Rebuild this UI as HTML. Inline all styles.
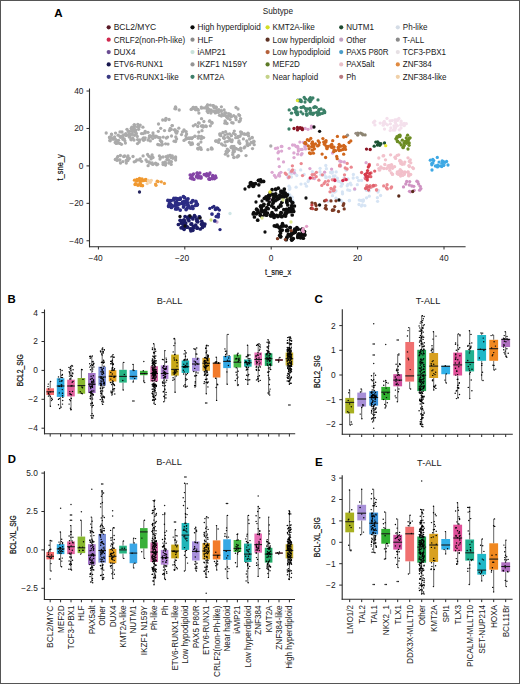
<!DOCTYPE html>
<html><head><meta charset="utf-8"><style>
html,body{margin:0;padding:0;background:#fff;}
#fig{position:relative;width:520px;height:684px;box-sizing:border-box;border:1px solid #555;background:#fff;overflow:hidden;}
svg{position:absolute;left:-1px;top:-1px;font-family:"Liberation Sans", sans-serif;}
</style></head><body><div id="fig">
<svg width="520" height="684" viewBox="0 0 520 684">
<text x="54.3" y="17.4" font-size="11.6" text-anchor="start" font-weight="bold" fill="#000" >A</text>
<text x="262.8" y="14.2" font-size="8.5" text-anchor="start" font-weight="normal" fill="#1a1a1a" textLength="30.2" lengthAdjust="spacingAndGlyphs">Subtype</text>
<circle cx="108.7" cy="27.3" r="2.1" fill="#5a1a26"/>
<text x="113.7" y="30.2" font-size="8.5" text-anchor="start" font-weight="normal" fill="#1a1a1a" textLength="42.5" lengthAdjust="spacingAndGlyphs">BCL2/MYC</text>
<circle cx="108.7" cy="39.7" r="2.1" fill="#d0284e"/>
<text x="113.7" y="42.6" font-size="8.5" text-anchor="start" font-weight="normal" fill="#1a1a1a" textLength="71.4" lengthAdjust="spacingAndGlyphs">CRLF2(non-Ph-like)</text>
<circle cx="108.7" cy="52.1" r="2.1" fill="#6a4c92"/>
<text x="113.7" y="55.0" font-size="8.5" text-anchor="start" font-weight="normal" fill="#1a1a1a" textLength="21.8" lengthAdjust="spacingAndGlyphs">DUX4</text>
<circle cx="108.7" cy="64.4" r="2.1" fill="#17174e"/>
<text x="113.7" y="67.3" font-size="8.5" text-anchor="start" font-weight="normal" fill="#1a1a1a" textLength="49.5" lengthAdjust="spacingAndGlyphs">ETV6-RUNX1</text>
<circle cx="108.7" cy="76.8" r="2.1" fill="#3a3a82"/>
<text x="113.7" y="79.7" font-size="8.5" text-anchor="start" font-weight="normal" fill="#1a1a1a" textLength="65.1" lengthAdjust="spacingAndGlyphs">ETV6-RUNX1-like</text>
<circle cx="192.5" cy="27.3" r="2.1" fill="#0a0a0a"/>
<text x="197.5" y="30.2" font-size="8.5" text-anchor="start" font-weight="normal" fill="#1a1a1a" textLength="63.3" lengthAdjust="spacingAndGlyphs">High hyperdiploid</text>
<circle cx="192.5" cy="39.7" r="2.1" fill="#8a8a8a"/>
<text x="197.5" y="42.6" font-size="8.5" text-anchor="start" font-weight="normal" fill="#1a1a1a" textLength="15.5" lengthAdjust="spacingAndGlyphs">HLF</text>
<circle cx="192.5" cy="52.1" r="2.1" fill="#c8e2da"/>
<text x="197.5" y="55.0" font-size="8.5" text-anchor="start" font-weight="normal" fill="#1a1a1a" textLength="28.3" lengthAdjust="spacingAndGlyphs">iAMP21</text>
<circle cx="192.5" cy="64.4" r="2.1" fill="#959595"/>
<text x="197.5" y="67.3" font-size="8.5" text-anchor="start" font-weight="normal" fill="#1a1a1a" textLength="49.8" lengthAdjust="spacingAndGlyphs">IKZF1 N159Y</text>
<circle cx="192.5" cy="76.8" r="2.1" fill="#3e7e6a"/>
<text x="197.5" y="79.7" font-size="8.5" text-anchor="start" font-weight="normal" fill="#1a1a1a" textLength="26.9" lengthAdjust="spacingAndGlyphs">KMT2A</text>
<circle cx="267.6" cy="27.3" r="2.1" fill="#d2de28"/>
<text x="272.6" y="30.2" font-size="8.5" text-anchor="start" font-weight="normal" fill="#1a1a1a" textLength="42.2" lengthAdjust="spacingAndGlyphs">KMT2A-like</text>
<circle cx="267.6" cy="39.7" r="2.1" fill="#5e3224"/>
<text x="272.6" y="42.6" font-size="8.5" text-anchor="start" font-weight="normal" fill="#1a1a1a" textLength="61.9" lengthAdjust="spacingAndGlyphs">Low hyperdiploid</text>
<circle cx="267.6" cy="52.1" r="2.1" fill="#b4603a"/>
<text x="272.6" y="55.0" font-size="8.5" text-anchor="start" font-weight="normal" fill="#1a1a1a" textLength="57.6" lengthAdjust="spacingAndGlyphs">Low hypodiploid</text>
<circle cx="267.6" cy="64.4" r="2.1" fill="#5c7a26"/>
<text x="272.6" y="67.3" font-size="8.5" text-anchor="start" font-weight="normal" fill="#1a1a1a" textLength="27.2" lengthAdjust="spacingAndGlyphs">MEF2D</text>
<circle cx="267.6" cy="76.8" r="2.1" fill="#c4d288"/>
<text x="272.6" y="79.7" font-size="8.5" text-anchor="start" font-weight="normal" fill="#1a1a1a" textLength="45.5" lengthAdjust="spacingAndGlyphs">Near haploid</text>
<circle cx="341.2" cy="27.3" r="2.1" fill="#1e4a30"/>
<text x="346.2" y="30.2" font-size="8.5" text-anchor="start" font-weight="normal" fill="#1a1a1a" textLength="27.7" lengthAdjust="spacingAndGlyphs">NUTM1</text>
<circle cx="341.2" cy="39.7" r="2.1" fill="#c0a0c0"/>
<text x="346.2" y="42.6" font-size="8.5" text-anchor="start" font-weight="normal" fill="#1a1a1a" textLength="20.1" lengthAdjust="spacingAndGlyphs">Other</text>
<circle cx="341.2" cy="52.1" r="2.1" fill="#4a9cc8"/>
<text x="346.2" y="55.0" font-size="8.5" text-anchor="start" font-weight="normal" fill="#1a1a1a" textLength="42.3" lengthAdjust="spacingAndGlyphs">PAX5 P80R</text>
<circle cx="341.2" cy="64.4" r="2.1" fill="#e8c0c8"/>
<text x="346.2" y="67.3" font-size="8.5" text-anchor="start" font-weight="normal" fill="#1a1a1a" textLength="28.4" lengthAdjust="spacingAndGlyphs">PAX5alt</text>
<circle cx="341.2" cy="76.8" r="2.1" fill="#b87a80"/>
<text x="346.2" y="79.7" font-size="8.5" text-anchor="start" font-weight="normal" fill="#1a1a1a" textLength="9.8" lengthAdjust="spacingAndGlyphs">Ph</text>
<circle cx="397.8" cy="27.3" r="2.1" fill="#d4dce6"/>
<text x="402.8" y="30.2" font-size="8.5" text-anchor="start" font-weight="normal" fill="#1a1a1a" textLength="24.6" lengthAdjust="spacingAndGlyphs">Ph-like</text>
<circle cx="397.8" cy="39.7" r="2.1" fill="#8a8a8a"/>
<text x="402.8" y="42.6" font-size="8.5" text-anchor="start" font-weight="normal" fill="#1a1a1a" textLength="21.4" lengthAdjust="spacingAndGlyphs">T-ALL</text>
<circle cx="397.8" cy="52.1" r="2.1" fill="#e6e0e4"/>
<text x="402.8" y="55.0" font-size="8.5" text-anchor="start" font-weight="normal" fill="#1a1a1a" textLength="43.3" lengthAdjust="spacingAndGlyphs">TCF3-PBX1</text>
<circle cx="397.8" cy="64.4" r="2.1" fill="#e08a40"/>
<text x="402.8" y="67.3" font-size="8.5" text-anchor="start" font-weight="normal" fill="#1a1a1a" textLength="29.0" lengthAdjust="spacingAndGlyphs">ZNF384</text>
<circle cx="397.8" cy="76.8" r="2.1" fill="#f0d0a8"/>
<text x="402.8" y="79.7" font-size="8.5" text-anchor="start" font-weight="normal" fill="#1a1a1a" textLength="43.7" lengthAdjust="spacingAndGlyphs">ZNF384-like</text>
<line x1="89.50" y1="88.50" x2="89.50" y2="247.20" stroke="#2b2b2b" stroke-width="1.1"/>
<line x1="89.00" y1="246.70" x2="465.60" y2="246.70" stroke="#2b2b2b" stroke-width="1.1"/>
<line x1="86.50" y1="91.02" x2="89.50" y2="91.02" stroke="#2b2b2b" stroke-width="1"/>
<text x="83.5" y="93.9" font-size="8.4" text-anchor="end" font-weight="normal" fill="#1a1a1a" >40</text>
<line x1="86.50" y1="128.46" x2="89.50" y2="128.46" stroke="#2b2b2b" stroke-width="1"/>
<text x="83.5" y="131.4" font-size="8.4" text-anchor="end" font-weight="normal" fill="#1a1a1a" >20</text>
<line x1="86.50" y1="165.90" x2="89.50" y2="165.90" stroke="#2b2b2b" stroke-width="1"/>
<text x="83.5" y="168.8" font-size="8.4" text-anchor="end" font-weight="normal" fill="#1a1a1a" >0</text>
<line x1="86.50" y1="203.34" x2="89.50" y2="203.34" stroke="#2b2b2b" stroke-width="1"/>
<text x="83.5" y="206.2" font-size="8.4" text-anchor="end" font-weight="normal" fill="#1a1a1a" >−20</text>
<line x1="86.50" y1="240.78" x2="89.50" y2="240.78" stroke="#2b2b2b" stroke-width="1"/>
<text x="83.5" y="243.7" font-size="8.4" text-anchor="end" font-weight="normal" fill="#1a1a1a" >−40</text>
<line x1="98.40" y1="246.70" x2="98.40" y2="249.50" stroke="#2b2b2b" stroke-width="1"/>
<text x="95.6" y="260.6" font-size="8.4" text-anchor="middle" font-weight="normal" fill="#1a1a1a" >−40</text>
<line x1="184.80" y1="246.70" x2="184.80" y2="249.50" stroke="#2b2b2b" stroke-width="1"/>
<text x="182.0" y="260.6" font-size="8.4" text-anchor="middle" font-weight="normal" fill="#1a1a1a" >−20</text>
<line x1="271.20" y1="246.70" x2="271.20" y2="249.50" stroke="#2b2b2b" stroke-width="1"/>
<text x="271.2" y="260.6" font-size="8.4" text-anchor="middle" font-weight="normal" fill="#1a1a1a" >0</text>
<line x1="357.60" y1="246.70" x2="357.60" y2="249.50" stroke="#2b2b2b" stroke-width="1"/>
<text x="357.6" y="260.6" font-size="8.4" text-anchor="middle" font-weight="normal" fill="#1a1a1a" >20</text>
<line x1="444.00" y1="246.70" x2="444.00" y2="249.50" stroke="#2b2b2b" stroke-width="1"/>
<text x="444.0" y="260.6" font-size="8.4" text-anchor="middle" font-weight="normal" fill="#1a1a1a" >40</text>
<text x="278.1" y="275.2" font-size="9.6" text-anchor="middle" font-weight="normal" fill="#111" stroke="#111" stroke-width="0.2" textLength="26" lengthAdjust="spacingAndGlyphs">t_sne_x</text>
<text transform="translate(62.8,167.4) rotate(-90)" font-size="9.6" text-anchor="middle" fill="#111" stroke="#111" stroke-width="0.2" textLength="26" lengthAdjust="spacingAndGlyphs">t_sne_y</text>
<circle cx="106.2" cy="133.0" r="1.65" fill="#ababab"/>
<circle cx="115.5" cy="133.1" r="1.65" fill="#ababab"/>
<circle cx="122.0" cy="132.0" r="1.65" fill="#ababab"/>
<circle cx="119.7" cy="136.1" r="1.65" fill="#ababab"/>
<circle cx="110.2" cy="138.1" r="1.65" fill="#ababab"/>
<circle cx="109.7" cy="137.1" r="1.65" fill="#ababab"/>
<circle cx="117.5" cy="142.6" r="1.65" fill="#ababab"/>
<circle cx="111.5" cy="134.1" r="1.65" fill="#ababab"/>
<circle cx="121.5" cy="144.3" r="1.65" fill="#ababab"/>
<circle cx="120.5" cy="136.6" r="1.65" fill="#ababab"/>
<circle cx="126.2" cy="135.1" r="1.65" fill="#ababab"/>
<circle cx="115.2" cy="142.4" r="1.65" fill="#ababab"/>
<circle cx="112.6" cy="139.1" r="1.65" fill="#ababab"/>
<circle cx="121.8" cy="136.2" r="1.65" fill="#ababab"/>
<circle cx="120.0" cy="131.9" r="1.65" fill="#ababab"/>
<circle cx="122.6" cy="137.0" r="1.65" fill="#ababab"/>
<circle cx="115.3" cy="139.2" r="1.65" fill="#ababab"/>
<circle cx="118.1" cy="135.2" r="1.65" fill="#ababab"/>
<circle cx="124.9" cy="140.8" r="1.65" fill="#ababab"/>
<circle cx="113.9" cy="139.0" r="1.65" fill="#ababab"/>
<circle cx="119.5" cy="143.3" r="1.65" fill="#ababab"/>
<circle cx="123.6" cy="135.0" r="1.65" fill="#ababab"/>
<circle cx="117.4" cy="141.6" r="1.65" fill="#ababab"/>
<circle cx="112.0" cy="137.8" r="1.65" fill="#ababab"/>
<circle cx="109.8" cy="140.4" r="1.65" fill="#ababab"/>
<circle cx="124.3" cy="139.0" r="1.65" fill="#ababab"/>
<circle cx="126.5" cy="135.4" r="1.65" fill="#ababab"/>
<circle cx="122.9" cy="139.3" r="1.65" fill="#ababab"/>
<circle cx="120.6" cy="137.4" r="1.65" fill="#ababab"/>
<circle cx="118.5" cy="140.3" r="1.65" fill="#ababab"/>
<circle cx="110.2" cy="140.8" r="1.65" fill="#ababab"/>
<circle cx="125.4" cy="135.0" r="1.65" fill="#ababab"/>
<circle cx="116.7" cy="140.4" r="1.65" fill="#ababab"/>
<circle cx="109.5" cy="137.5" r="1.65" fill="#ababab"/>
<circle cx="111.6" cy="134.5" r="1.65" fill="#ababab"/>
<circle cx="116.8" cy="143.2" r="1.65" fill="#ababab"/>
<circle cx="110.6" cy="137.3" r="1.65" fill="#ababab"/>
<circle cx="120.0" cy="143.4" r="1.65" fill="#ababab"/>
<circle cx="125.4" cy="143.1" r="1.65" fill="#ababab"/>
<circle cx="114.6" cy="136.8" r="1.65" fill="#ababab"/>
<circle cx="116.2" cy="143.4" r="1.65" fill="#ababab"/>
<circle cx="131.2" cy="128.6" r="1.65" fill="#ababab"/>
<circle cx="132.2" cy="133.7" r="1.65" fill="#ababab"/>
<circle cx="138.6" cy="129.3" r="1.65" fill="#ababab"/>
<circle cx="134.6" cy="135.3" r="1.65" fill="#ababab"/>
<circle cx="145.2" cy="137.8" r="1.65" fill="#ababab"/>
<circle cx="137.3" cy="136.4" r="1.65" fill="#ababab"/>
<circle cx="140.2" cy="125.1" r="1.65" fill="#ababab"/>
<circle cx="144.2" cy="139.6" r="1.65" fill="#ababab"/>
<circle cx="143.7" cy="140.0" r="1.65" fill="#ababab"/>
<circle cx="135.1" cy="132.0" r="1.65" fill="#ababab"/>
<circle cx="129.9" cy="136.7" r="1.65" fill="#ababab"/>
<circle cx="131.8" cy="127.2" r="1.65" fill="#ababab"/>
<circle cx="134.1" cy="125.1" r="1.65" fill="#ababab"/>
<circle cx="129.8" cy="131.3" r="1.65" fill="#ababab"/>
<circle cx="139.1" cy="127.0" r="1.65" fill="#ababab"/>
<circle cx="132.5" cy="130.9" r="1.65" fill="#ababab"/>
<circle cx="134.6" cy="126.5" r="1.65" fill="#ababab"/>
<circle cx="136.4" cy="133.7" r="1.65" fill="#ababab"/>
<circle cx="134.2" cy="129.3" r="1.65" fill="#ababab"/>
<circle cx="142.9" cy="127.2" r="1.65" fill="#ababab"/>
<circle cx="137.5" cy="126.9" r="1.65" fill="#ababab"/>
<circle cx="137.8" cy="124.5" r="1.65" fill="#ababab"/>
<circle cx="137.5" cy="143.6" r="1.65" fill="#ababab"/>
<circle cx="143.5" cy="137.9" r="1.65" fill="#ababab"/>
<circle cx="132.7" cy="131.3" r="1.65" fill="#ababab"/>
<circle cx="131.0" cy="139.4" r="1.65" fill="#ababab"/>
<circle cx="137.6" cy="139.6" r="1.65" fill="#ababab"/>
<circle cx="133.9" cy="128.5" r="1.65" fill="#ababab"/>
<circle cx="143.3" cy="140.1" r="1.65" fill="#ababab"/>
<circle cx="142.7" cy="138.8" r="1.65" fill="#ababab"/>
<circle cx="132.1" cy="134.4" r="1.65" fill="#ababab"/>
<circle cx="134.4" cy="124.6" r="1.65" fill="#ababab"/>
<circle cx="132.7" cy="137.9" r="1.65" fill="#ababab"/>
<circle cx="145.2" cy="132.9" r="1.65" fill="#ababab"/>
<circle cx="145.2" cy="131.3" r="1.65" fill="#ababab"/>
<circle cx="132.0" cy="128.5" r="1.65" fill="#ababab"/>
<circle cx="131.5" cy="128.1" r="1.65" fill="#ababab"/>
<circle cx="139.2" cy="142.0" r="1.65" fill="#ababab"/>
<circle cx="143.1" cy="133.6" r="1.65" fill="#ababab"/>
<circle cx="139.8" cy="140.0" r="1.65" fill="#ababab"/>
<circle cx="129.5" cy="137.2" r="1.65" fill="#ababab"/>
<circle cx="144.4" cy="139.6" r="1.65" fill="#ababab"/>
<circle cx="141.5" cy="133.6" r="1.65" fill="#ababab"/>
<circle cx="131.2" cy="139.8" r="1.65" fill="#ababab"/>
<circle cx="134.0" cy="140.0" r="1.65" fill="#ababab"/>
<circle cx="135.7" cy="130.2" r="1.65" fill="#ababab"/>
<circle cx="128.8" cy="134.6" r="1.65" fill="#ababab"/>
<circle cx="132.7" cy="128.4" r="1.65" fill="#ababab"/>
<circle cx="125.8" cy="133.6" r="1.65" fill="#ababab"/>
<circle cx="128.2" cy="131.4" r="1.65" fill="#ababab"/>
<circle cx="135.7" cy="132.2" r="1.65" fill="#ababab"/>
<circle cx="130.3" cy="134.5" r="1.65" fill="#ababab"/>
<circle cx="129.2" cy="134.0" r="1.65" fill="#ababab"/>
<circle cx="133.9" cy="128.7" r="1.65" fill="#ababab"/>
<circle cx="127.0" cy="129.3" r="1.65" fill="#ababab"/>
<circle cx="152.7" cy="138.6" r="1.65" fill="#ababab"/>
<circle cx="153.3" cy="135.5" r="1.65" fill="#ababab"/>
<circle cx="155.9" cy="136.2" r="1.65" fill="#ababab"/>
<circle cx="162.3" cy="144.3" r="1.65" fill="#ababab"/>
<circle cx="157.8" cy="144.5" r="1.65" fill="#ababab"/>
<circle cx="160.0" cy="137.6" r="1.65" fill="#ababab"/>
<circle cx="160.7" cy="128.3" r="1.65" fill="#ababab"/>
<circle cx="158.3" cy="131.3" r="1.65" fill="#ababab"/>
<circle cx="150.8" cy="136.5" r="1.65" fill="#ababab"/>
<circle cx="166.3" cy="138.0" r="1.65" fill="#ababab"/>
<circle cx="155.1" cy="137.3" r="1.65" fill="#ababab"/>
<circle cx="161.6" cy="142.1" r="1.65" fill="#ababab"/>
<circle cx="149.0" cy="138.1" r="1.65" fill="#ababab"/>
<circle cx="153.0" cy="133.0" r="1.65" fill="#ababab"/>
<circle cx="167.6" cy="137.1" r="1.65" fill="#ababab"/>
<circle cx="161.7" cy="141.7" r="1.65" fill="#ababab"/>
<circle cx="171.5" cy="136.0" r="1.65" fill="#ababab"/>
<circle cx="163.2" cy="137.1" r="1.65" fill="#ababab"/>
<circle cx="160.3" cy="140.5" r="1.65" fill="#ababab"/>
<circle cx="158.7" cy="137.6" r="1.65" fill="#ababab"/>
<circle cx="159.4" cy="144.9" r="1.65" fill="#ababab"/>
<circle cx="165.6" cy="143.8" r="1.65" fill="#ababab"/>
<circle cx="161.7" cy="145.0" r="1.65" fill="#ababab"/>
<circle cx="169.5" cy="130.5" r="1.65" fill="#ababab"/>
<circle cx="149.4" cy="136.0" r="1.65" fill="#ababab"/>
<circle cx="148.0" cy="132.3" r="1.65" fill="#ababab"/>
<circle cx="148.0" cy="140.1" r="1.65" fill="#ababab"/>
<circle cx="168.0" cy="144.1" r="1.65" fill="#ababab"/>
<circle cx="150.3" cy="140.9" r="1.65" fill="#ababab"/>
<circle cx="164.5" cy="130.6" r="1.65" fill="#ababab"/>
<circle cx="157.2" cy="136.8" r="1.65" fill="#ababab"/>
<circle cx="150.5" cy="135.8" r="1.65" fill="#ababab"/>
<circle cx="175.2" cy="129.8" r="1.65" fill="#ababab"/>
<circle cx="171.3" cy="129.4" r="1.65" fill="#ababab"/>
<circle cx="175.6" cy="131.8" r="1.65" fill="#ababab"/>
<circle cx="176.5" cy="133.2" r="1.65" fill="#ababab"/>
<circle cx="170.3" cy="128.3" r="1.65" fill="#ababab"/>
<circle cx="172.2" cy="125.6" r="1.65" fill="#ababab"/>
<circle cx="174.1" cy="141.2" r="1.65" fill="#ababab"/>
<circle cx="178.8" cy="128.2" r="1.65" fill="#ababab"/>
<circle cx="175.8" cy="137.0" r="1.65" fill="#ababab"/>
<circle cx="177.3" cy="131.5" r="1.65" fill="#ababab"/>
<circle cx="176.6" cy="139.0" r="1.65" fill="#ababab"/>
<circle cx="174.4" cy="129.8" r="1.65" fill="#ababab"/>
<circle cx="175.6" cy="141.5" r="1.65" fill="#ababab"/>
<circle cx="172.2" cy="125.6" r="1.65" fill="#ababab"/>
<circle cx="184.2" cy="130.8" r="1.65" fill="#ababab"/>
<circle cx="182.5" cy="131.9" r="1.65" fill="#ababab"/>
<circle cx="186.1" cy="131.6" r="1.65" fill="#ababab"/>
<circle cx="184.0" cy="129.8" r="1.65" fill="#ababab"/>
<circle cx="185.9" cy="135.8" r="1.65" fill="#ababab"/>
<circle cx="181.5" cy="134.6" r="1.65" fill="#ababab"/>
<circle cx="186.6" cy="133.9" r="1.65" fill="#ababab"/>
<circle cx="184.0" cy="140.4" r="1.65" fill="#ababab"/>
<circle cx="165.9" cy="119.0" r="1.65" fill="#ababab"/>
<circle cx="165.4" cy="120.3" r="1.65" fill="#ababab"/>
<circle cx="169.1" cy="119.5" r="1.65" fill="#ababab"/>
<circle cx="166.0" cy="118.4" r="1.65" fill="#ababab"/>
<circle cx="162.7" cy="120.0" r="1.65" fill="#ababab"/>
<circle cx="175.5" cy="107.0" r="1.65" fill="#ababab"/>
<circle cx="179.2" cy="110.0" r="1.65" fill="#ababab"/>
<circle cx="175.7" cy="107.5" r="1.65" fill="#ababab"/>
<circle cx="175.8" cy="108.8" r="1.65" fill="#ababab"/>
<circle cx="174.9" cy="108.7" r="1.65" fill="#ababab"/>
<circle cx="158.5" cy="124.0" r="1.65" fill="#ababab"/>
<circle cx="224.1" cy="109.9" r="1.65" fill="#ababab"/>
<circle cx="201.5" cy="108.2" r="1.65" fill="#ababab"/>
<circle cx="207.1" cy="109.5" r="1.65" fill="#ababab"/>
<circle cx="197.8" cy="109.5" r="1.65" fill="#ababab"/>
<circle cx="194.1" cy="108.6" r="1.65" fill="#ababab"/>
<circle cx="201.3" cy="107.1" r="1.65" fill="#ababab"/>
<circle cx="210.9" cy="109.8" r="1.65" fill="#ababab"/>
<circle cx="216.5" cy="110.9" r="1.65" fill="#ababab"/>
<circle cx="215.3" cy="112.9" r="1.65" fill="#ababab"/>
<circle cx="204.2" cy="107.9" r="1.65" fill="#ababab"/>
<circle cx="215.6" cy="110.8" r="1.65" fill="#ababab"/>
<circle cx="221.3" cy="110.6" r="1.65" fill="#ababab"/>
<circle cx="216.0" cy="112.3" r="1.65" fill="#ababab"/>
<circle cx="195.7" cy="109.7" r="1.65" fill="#ababab"/>
<circle cx="208.1" cy="112.5" r="1.65" fill="#ababab"/>
<circle cx="218.4" cy="112.4" r="1.65" fill="#ababab"/>
<circle cx="210.9" cy="113.0" r="1.65" fill="#ababab"/>
<circle cx="214.2" cy="111.2" r="1.65" fill="#ababab"/>
<circle cx="195.5" cy="108.2" r="1.65" fill="#ababab"/>
<circle cx="210.0" cy="110.6" r="1.65" fill="#ababab"/>
<circle cx="212.3" cy="111.1" r="1.65" fill="#ababab"/>
<circle cx="207.6" cy="105.0" r="1.65" fill="#ababab"/>
<circle cx="218.1" cy="111.7" r="1.65" fill="#ababab"/>
<circle cx="208.1" cy="109.8" r="1.65" fill="#ababab"/>
<circle cx="213.4" cy="105.6" r="1.65" fill="#ababab"/>
<circle cx="216.1" cy="107.3" r="1.65" fill="#ababab"/>
<circle cx="193.5" cy="107.4" r="1.65" fill="#ababab"/>
<circle cx="215.8" cy="106.8" r="1.65" fill="#ababab"/>
<circle cx="207.8" cy="108.4" r="1.65" fill="#ababab"/>
<circle cx="207.3" cy="111.2" r="1.65" fill="#ababab"/>
<circle cx="217.1" cy="110.6" r="1.65" fill="#ababab"/>
<circle cx="212.9" cy="105.7" r="1.65" fill="#ababab"/>
<circle cx="196.0" cy="107.3" r="1.65" fill="#ababab"/>
<circle cx="216.3" cy="107.7" r="1.65" fill="#ababab"/>
<circle cx="210.3" cy="105.1" r="1.65" fill="#ababab"/>
<circle cx="193.1" cy="107.4" r="1.65" fill="#ababab"/>
<circle cx="213.8" cy="111.2" r="1.65" fill="#ababab"/>
<circle cx="214.0" cy="107.6" r="1.65" fill="#ababab"/>
<circle cx="208.6" cy="109.2" r="1.65" fill="#ababab"/>
<circle cx="206.9" cy="106.1" r="1.65" fill="#ababab"/>
<circle cx="221.4" cy="106.8" r="1.65" fill="#ababab"/>
<circle cx="191.6" cy="109.1" r="1.65" fill="#ababab"/>
<circle cx="206.3" cy="107.4" r="1.65" fill="#ababab"/>
<circle cx="198.2" cy="110.2" r="1.65" fill="#ababab"/>
<circle cx="195.8" cy="109.7" r="1.65" fill="#ababab"/>
<circle cx="218.9" cy="109.6" r="1.65" fill="#ababab"/>
<circle cx="221.2" cy="111.3" r="1.65" fill="#ababab"/>
<circle cx="198.9" cy="113.1" r="1.65" fill="#ababab"/>
<circle cx="207.5" cy="105.2" r="1.65" fill="#ababab"/>
<circle cx="191.1" cy="109.4" r="1.65" fill="#ababab"/>
<circle cx="228.8" cy="115.6" r="1.65" fill="#ababab"/>
<circle cx="221.4" cy="116.1" r="1.65" fill="#ababab"/>
<circle cx="225.6" cy="122.1" r="1.65" fill="#ababab"/>
<circle cx="240.2" cy="120.6" r="1.65" fill="#ababab"/>
<circle cx="239.6" cy="115.5" r="1.65" fill="#ababab"/>
<circle cx="226.9" cy="116.7" r="1.65" fill="#ababab"/>
<circle cx="226.7" cy="117.1" r="1.65" fill="#ababab"/>
<circle cx="224.9" cy="123.2" r="1.65" fill="#ababab"/>
<circle cx="224.0" cy="115.2" r="1.65" fill="#ababab"/>
<circle cx="230.3" cy="114.3" r="1.65" fill="#ababab"/>
<circle cx="227.0" cy="123.5" r="1.65" fill="#ababab"/>
<circle cx="239.2" cy="121.7" r="1.65" fill="#ababab"/>
<circle cx="233.1" cy="123.0" r="1.65" fill="#ababab"/>
<circle cx="240.6" cy="118.6" r="1.65" fill="#ababab"/>
<circle cx="235.6" cy="117.4" r="1.65" fill="#ababab"/>
<circle cx="236.1" cy="119.7" r="1.65" fill="#ababab"/>
<circle cx="224.9" cy="112.6" r="1.65" fill="#ababab"/>
<circle cx="229.3" cy="116.1" r="1.65" fill="#ababab"/>
<circle cx="225.1" cy="120.9" r="1.65" fill="#ababab"/>
<circle cx="233.7" cy="115.6" r="1.65" fill="#ababab"/>
<circle cx="231.4" cy="116.7" r="1.65" fill="#ababab"/>
<circle cx="222.0" cy="113.9" r="1.65" fill="#ababab"/>
<circle cx="229.9" cy="114.6" r="1.65" fill="#ababab"/>
<circle cx="228.8" cy="113.7" r="1.65" fill="#ababab"/>
<circle cx="226.2" cy="113.1" r="1.65" fill="#ababab"/>
<circle cx="223.7" cy="115.1" r="1.65" fill="#ababab"/>
<circle cx="231.7" cy="122.6" r="1.65" fill="#ababab"/>
<circle cx="236.0" cy="117.0" r="1.65" fill="#ababab"/>
<circle cx="227.9" cy="118.3" r="1.65" fill="#ababab"/>
<circle cx="227.0" cy="116.1" r="1.65" fill="#ababab"/>
<circle cx="219.5" cy="115.3" r="1.65" fill="#ababab"/>
<circle cx="230.1" cy="119.6" r="1.65" fill="#ababab"/>
<circle cx="238.7" cy="114.6" r="1.65" fill="#ababab"/>
<circle cx="224.5" cy="115.0" r="1.65" fill="#ababab"/>
<circle cx="227.6" cy="117.4" r="1.65" fill="#ababab"/>
<circle cx="209.8" cy="121.0" r="1.65" fill="#ababab"/>
<circle cx="202.0" cy="130.7" r="1.65" fill="#ababab"/>
<circle cx="210.3" cy="125.8" r="1.65" fill="#ababab"/>
<circle cx="203.4" cy="126.8" r="1.65" fill="#ababab"/>
<circle cx="211.9" cy="123.3" r="1.65" fill="#ababab"/>
<circle cx="206.3" cy="126.5" r="1.65" fill="#ababab"/>
<circle cx="201.4" cy="126.0" r="1.65" fill="#ababab"/>
<circle cx="198.8" cy="132.1" r="1.65" fill="#ababab"/>
<circle cx="203.9" cy="121.5" r="1.65" fill="#ababab"/>
<circle cx="193.3" cy="125.8" r="1.65" fill="#ababab"/>
<circle cx="205.7" cy="125.9" r="1.65" fill="#ababab"/>
<circle cx="202.9" cy="125.7" r="1.65" fill="#ababab"/>
<circle cx="198.4" cy="123.0" r="1.65" fill="#ababab"/>
<circle cx="201.5" cy="118.7" r="1.65" fill="#ababab"/>
<circle cx="197.8" cy="126.4" r="1.65" fill="#ababab"/>
<circle cx="211.9" cy="122.3" r="1.65" fill="#ababab"/>
<circle cx="209.5" cy="121.2" r="1.65" fill="#ababab"/>
<circle cx="195.4" cy="124.7" r="1.65" fill="#ababab"/>
<circle cx="202.9" cy="126.9" r="1.65" fill="#ababab"/>
<circle cx="199.2" cy="123.1" r="1.65" fill="#ababab"/>
<circle cx="198.3" cy="144.2" r="1.65" fill="#ababab"/>
<circle cx="191.8" cy="138.6" r="1.65" fill="#ababab"/>
<circle cx="198.7" cy="136.2" r="1.65" fill="#ababab"/>
<circle cx="200.9" cy="142.1" r="1.65" fill="#ababab"/>
<circle cx="195.1" cy="136.3" r="1.65" fill="#ababab"/>
<circle cx="201.4" cy="136.5" r="1.65" fill="#ababab"/>
<circle cx="189.4" cy="142.4" r="1.65" fill="#ababab"/>
<circle cx="190.9" cy="144.5" r="1.65" fill="#ababab"/>
<circle cx="194.9" cy="136.1" r="1.65" fill="#ababab"/>
<circle cx="189.5" cy="138.6" r="1.65" fill="#ababab"/>
<circle cx="198.3" cy="144.4" r="1.65" fill="#ababab"/>
<circle cx="187.9" cy="138.3" r="1.65" fill="#ababab"/>
<circle cx="186.2" cy="138.3" r="1.65" fill="#ababab"/>
<circle cx="203.6" cy="137.6" r="1.65" fill="#ababab"/>
<circle cx="198.3" cy="138.2" r="1.65" fill="#ababab"/>
<circle cx="192.5" cy="137.6" r="1.65" fill="#ababab"/>
<circle cx="190.6" cy="137.9" r="1.65" fill="#ababab"/>
<circle cx="192.1" cy="143.0" r="1.65" fill="#ababab"/>
<circle cx="201.4" cy="138.8" r="1.65" fill="#ababab"/>
<circle cx="186.0" cy="139.2" r="1.65" fill="#ababab"/>
<circle cx="192.5" cy="144.1" r="1.65" fill="#ababab"/>
<circle cx="188.9" cy="138.0" r="1.65" fill="#ababab"/>
<circle cx="201.2" cy="149.4" r="1.65" fill="#ababab"/>
<circle cx="211.4" cy="147.8" r="1.65" fill="#ababab"/>
<circle cx="207.9" cy="149.7" r="1.65" fill="#ababab"/>
<circle cx="199.8" cy="147.8" r="1.65" fill="#ababab"/>
<circle cx="212.2" cy="148.9" r="1.65" fill="#ababab"/>
<circle cx="198.2" cy="149.1" r="1.65" fill="#ababab"/>
<circle cx="199.3" cy="147.8" r="1.65" fill="#ababab"/>
<circle cx="211.3" cy="148.9" r="1.65" fill="#ababab"/>
<circle cx="197.7" cy="148.4" r="1.65" fill="#ababab"/>
<circle cx="200.7" cy="147.8" r="1.65" fill="#ababab"/>
<circle cx="232.2" cy="139.9" r="1.65" fill="#ababab"/>
<circle cx="247.1" cy="144.8" r="1.65" fill="#ababab"/>
<circle cx="247.9" cy="145.5" r="1.65" fill="#ababab"/>
<circle cx="239.3" cy="136.6" r="1.65" fill="#ababab"/>
<circle cx="227.8" cy="137.2" r="1.65" fill="#ababab"/>
<circle cx="222.9" cy="145.1" r="1.65" fill="#ababab"/>
<circle cx="216.4" cy="141.1" r="1.65" fill="#ababab"/>
<circle cx="225.6" cy="131.7" r="1.65" fill="#ababab"/>
<circle cx="218.9" cy="140.0" r="1.65" fill="#ababab"/>
<circle cx="243.4" cy="138.9" r="1.65" fill="#ababab"/>
<circle cx="224.4" cy="138.3" r="1.65" fill="#ababab"/>
<circle cx="239.8" cy="143.5" r="1.65" fill="#ababab"/>
<circle cx="244.9" cy="146.9" r="1.65" fill="#ababab"/>
<circle cx="241.6" cy="132.4" r="1.65" fill="#ababab"/>
<circle cx="248.6" cy="135.9" r="1.65" fill="#ababab"/>
<circle cx="237.7" cy="137.5" r="1.65" fill="#ababab"/>
<circle cx="244.5" cy="134.0" r="1.65" fill="#ababab"/>
<circle cx="224.9" cy="134.9" r="1.65" fill="#ababab"/>
<circle cx="238.1" cy="136.5" r="1.65" fill="#ababab"/>
<circle cx="235.3" cy="134.6" r="1.65" fill="#ababab"/>
<circle cx="247.3" cy="143.1" r="1.65" fill="#ababab"/>
<circle cx="234.0" cy="146.4" r="1.65" fill="#ababab"/>
<circle cx="219.8" cy="133.8" r="1.65" fill="#ababab"/>
<circle cx="253.9" cy="141.7" r="1.65" fill="#ababab"/>
<circle cx="252.2" cy="137.4" r="1.65" fill="#ababab"/>
<circle cx="249.6" cy="139.0" r="1.65" fill="#ababab"/>
<circle cx="225.4" cy="145.6" r="1.65" fill="#ababab"/>
<circle cx="238.8" cy="142.4" r="1.65" fill="#ababab"/>
<circle cx="223.7" cy="137.4" r="1.65" fill="#ababab"/>
<circle cx="220.7" cy="134.1" r="1.65" fill="#ababab"/>
<circle cx="225.2" cy="142.0" r="1.65" fill="#ababab"/>
<circle cx="241.1" cy="134.1" r="1.65" fill="#ababab"/>
<circle cx="242.1" cy="133.7" r="1.65" fill="#ababab"/>
<circle cx="227.5" cy="134.1" r="1.65" fill="#ababab"/>
<circle cx="246.8" cy="141.0" r="1.65" fill="#ababab"/>
<circle cx="230.8" cy="141.0" r="1.65" fill="#ababab"/>
<circle cx="240.6" cy="131.8" r="1.65" fill="#ababab"/>
<circle cx="221.5" cy="143.9" r="1.65" fill="#ababab"/>
<circle cx="231.4" cy="135.7" r="1.65" fill="#ababab"/>
<circle cx="227.3" cy="149.1" r="1.65" fill="#ababab"/>
<circle cx="227.5" cy="141.3" r="1.65" fill="#ababab"/>
<circle cx="229.3" cy="138.3" r="1.65" fill="#ababab"/>
<circle cx="229.6" cy="133.9" r="1.65" fill="#ababab"/>
<circle cx="244.1" cy="134.1" r="1.65" fill="#ababab"/>
<circle cx="232.0" cy="146.4" r="1.65" fill="#ababab"/>
<circle cx="231.2" cy="147.7" r="1.65" fill="#ababab"/>
<circle cx="233.4" cy="133.3" r="1.65" fill="#ababab"/>
<circle cx="215.6" cy="141.0" r="1.65" fill="#ababab"/>
<circle cx="240.6" cy="148.2" r="1.65" fill="#ababab"/>
<circle cx="218.6" cy="142.4" r="1.65" fill="#ababab"/>
<circle cx="229.8" cy="140.1" r="1.65" fill="#ababab"/>
<circle cx="220.8" cy="135.7" r="1.65" fill="#ababab"/>
<circle cx="235.8" cy="148.5" r="1.65" fill="#ababab"/>
<circle cx="219.4" cy="139.8" r="1.65" fill="#ababab"/>
<circle cx="222.9" cy="132.5" r="1.65" fill="#ababab"/>
<circle cx="234.3" cy="131.1" r="1.65" fill="#ababab"/>
<circle cx="252.0" cy="137.8" r="1.65" fill="#ababab"/>
<circle cx="251.2" cy="142.4" r="1.65" fill="#ababab"/>
<circle cx="248.0" cy="133.2" r="1.65" fill="#ababab"/>
<circle cx="246.4" cy="134.4" r="1.65" fill="#ababab"/>
<circle cx="231.2" cy="146.9" r="1.65" fill="#ababab"/>
<circle cx="248.2" cy="133.7" r="1.65" fill="#ababab"/>
<circle cx="223.7" cy="138.0" r="1.65" fill="#ababab"/>
<circle cx="235.7" cy="137.7" r="1.65" fill="#ababab"/>
<circle cx="219.9" cy="134.9" r="1.65" fill="#ababab"/>
<circle cx="244.0" cy="147.9" r="1.65" fill="#ababab"/>
<circle cx="216.6" cy="141.2" r="1.65" fill="#ababab"/>
<circle cx="239.0" cy="141.0" r="1.65" fill="#ababab"/>
<circle cx="240.1" cy="136.1" r="1.65" fill="#ababab"/>
<circle cx="231.8" cy="141.7" r="1.65" fill="#ababab"/>
<circle cx="232.7" cy="154.6" r="1.65" fill="#ababab"/>
<circle cx="233.0" cy="152.4" r="1.65" fill="#ababab"/>
<circle cx="225.4" cy="154.2" r="1.65" fill="#ababab"/>
<circle cx="233.8" cy="150.4" r="1.65" fill="#ababab"/>
<circle cx="238.7" cy="155.8" r="1.65" fill="#ababab"/>
<circle cx="233.2" cy="149.8" r="1.65" fill="#ababab"/>
<circle cx="233.5" cy="149.1" r="1.65" fill="#ababab"/>
<circle cx="227.3" cy="152.3" r="1.65" fill="#ababab"/>
<circle cx="226.7" cy="152.4" r="1.65" fill="#ababab"/>
<circle cx="234.2" cy="148.4" r="1.65" fill="#ababab"/>
<circle cx="236.5" cy="148.8" r="1.65" fill="#ababab"/>
<circle cx="238.2" cy="155.8" r="1.65" fill="#ababab"/>
<circle cx="234.2" cy="148.5" r="1.65" fill="#ababab"/>
<circle cx="234.1" cy="151.8" r="1.65" fill="#ababab"/>
<circle cx="238.2" cy="156.1" r="1.65" fill="#ababab"/>
<circle cx="233.9" cy="157.6" r="1.65" fill="#ababab"/>
<circle cx="226.2" cy="151.5" r="1.65" fill="#ababab"/>
<circle cx="238.6" cy="149.6" r="1.65" fill="#ababab"/>
<circle cx="241.1" cy="150.7" r="1.65" fill="#ababab"/>
<circle cx="239.7" cy="149.4" r="1.65" fill="#ababab"/>
<circle cx="234.0" cy="157.2" r="1.65" fill="#ababab"/>
<circle cx="228.7" cy="150.6" r="1.65" fill="#ababab"/>
<circle cx="234.1" cy="151.2" r="1.65" fill="#ababab"/>
<circle cx="237.2" cy="157.0" r="1.65" fill="#ababab"/>
<circle cx="228.0" cy="155.8" r="1.65" fill="#ababab"/>
<circle cx="249.7" cy="144.4" r="1.65" fill="#ababab"/>
<circle cx="252.8" cy="142.3" r="1.65" fill="#ababab"/>
<circle cx="254.2" cy="144.7" r="1.65" fill="#ababab"/>
<circle cx="252.5" cy="148.6" r="1.65" fill="#ababab"/>
<circle cx="252.8" cy="142.7" r="1.65" fill="#ababab"/>
<circle cx="253.8" cy="141.2" r="1.65" fill="#ababab"/>
<circle cx="270.8" cy="146.0" r="1.65" fill="#ababab"/>
<circle cx="246.0" cy="155.6" r="1.65" fill="#ababab"/>
<circle cx="236.0" cy="107.5" r="1.65" fill="#ababab"/>
<circle cx="238.0" cy="109.0" r="1.65" fill="#ababab"/>
<circle cx="136.8" cy="159.8" r="1.65" fill="#ababab"/>
<circle cx="122.9" cy="161.6" r="1.65" fill="#ababab"/>
<circle cx="124.7" cy="155.8" r="1.65" fill="#ababab"/>
<circle cx="133.0" cy="156.5" r="1.65" fill="#ababab"/>
<circle cx="127.9" cy="160.6" r="1.65" fill="#ababab"/>
<circle cx="128.6" cy="158.3" r="1.65" fill="#ababab"/>
<circle cx="126.3" cy="163.0" r="1.65" fill="#ababab"/>
<circle cx="117.9" cy="156.3" r="1.65" fill="#ababab"/>
<circle cx="117.3" cy="157.6" r="1.65" fill="#ababab"/>
<circle cx="119.9" cy="159.8" r="1.65" fill="#ababab"/>
<circle cx="128.0" cy="156.0" r="1.65" fill="#ababab"/>
<circle cx="128.7" cy="158.7" r="1.65" fill="#ababab"/>
<circle cx="120.4" cy="155.5" r="1.65" fill="#ababab"/>
<circle cx="117.1" cy="160.4" r="1.65" fill="#ababab"/>
<circle cx="134.2" cy="161.8" r="1.65" fill="#ababab"/>
<circle cx="123.8" cy="156.6" r="1.65" fill="#ababab"/>
<circle cx="127.4" cy="157.5" r="1.65" fill="#ababab"/>
<circle cx="129.2" cy="158.4" r="1.65" fill="#ababab"/>
<circle cx="135.6" cy="161.3" r="1.65" fill="#ababab"/>
<circle cx="120.5" cy="163.0" r="1.65" fill="#ababab"/>
<circle cx="116.0" cy="159.3" r="1.65" fill="#ababab"/>
<circle cx="123.9" cy="156.4" r="1.65" fill="#ababab"/>
<circle cx="115.3" cy="159.5" r="1.65" fill="#ababab"/>
<circle cx="119.4" cy="160.1" r="1.65" fill="#ababab"/>
<circle cx="126.2" cy="160.4" r="1.65" fill="#ababab"/>
<circle cx="169.9" cy="155.4" r="1.65" fill="#ababab"/>
<circle cx="150.8" cy="157.2" r="1.65" fill="#ababab"/>
<circle cx="168.8" cy="163.0" r="1.65" fill="#ababab"/>
<circle cx="167.3" cy="159.5" r="1.65" fill="#ababab"/>
<circle cx="167.2" cy="159.3" r="1.65" fill="#ababab"/>
<circle cx="147.6" cy="154.5" r="1.65" fill="#ababab"/>
<circle cx="151.7" cy="163.5" r="1.65" fill="#ababab"/>
<circle cx="165.4" cy="164.8" r="1.65" fill="#ababab"/>
<circle cx="166.0" cy="156.7" r="1.65" fill="#ababab"/>
<circle cx="160.0" cy="159.1" r="1.65" fill="#ababab"/>
<circle cx="169.0" cy="160.3" r="1.65" fill="#ababab"/>
<circle cx="149.1" cy="162.0" r="1.65" fill="#ababab"/>
<circle cx="148.9" cy="156.3" r="1.65" fill="#ababab"/>
<circle cx="167.4" cy="157.6" r="1.65" fill="#ababab"/>
<circle cx="172.4" cy="157.6" r="1.65" fill="#ababab"/>
<circle cx="148.1" cy="165.7" r="1.65" fill="#ababab"/>
<circle cx="163.0" cy="162.7" r="1.65" fill="#ababab"/>
<circle cx="156.8" cy="164.8" r="1.65" fill="#ababab"/>
<circle cx="165.5" cy="165.0" r="1.65" fill="#ababab"/>
<circle cx="155.6" cy="163.1" r="1.65" fill="#ababab"/>
<circle cx="160.7" cy="157.3" r="1.65" fill="#ababab"/>
<circle cx="147.1" cy="161.7" r="1.65" fill="#ababab"/>
<circle cx="152.1" cy="155.0" r="1.65" fill="#ababab"/>
<circle cx="165.3" cy="161.9" r="1.65" fill="#ababab"/>
<circle cx="165.5" cy="163.3" r="1.65" fill="#ababab"/>
<circle cx="141.5" cy="161.3" r="1.65" fill="#ababab"/>
<circle cx="152.8" cy="164.4" r="1.65" fill="#ababab"/>
<circle cx="143.1" cy="155.9" r="1.65" fill="#ababab"/>
<circle cx="171.2" cy="164.4" r="1.65" fill="#ababab"/>
<circle cx="163.1" cy="164.6" r="1.65" fill="#ababab"/>
<circle cx="163.0" cy="157.0" r="1.65" fill="#ababab"/>
<circle cx="167.8" cy="155.9" r="1.65" fill="#ababab"/>
<circle cx="151.1" cy="158.9" r="1.65" fill="#ababab"/>
<circle cx="149.7" cy="163.0" r="1.65" fill="#ababab"/>
<circle cx="153.0" cy="157.5" r="1.65" fill="#ababab"/>
<circle cx="175.6" cy="160.1" r="1.65" fill="#ababab"/>
<circle cx="171.4" cy="161.7" r="1.65" fill="#ababab"/>
<circle cx="140.2" cy="158.8" r="1.65" fill="#ababab"/>
<circle cx="155.6" cy="163.8" r="1.65" fill="#ababab"/>
<circle cx="152.2" cy="162.9" r="1.65" fill="#ababab"/>
<circle cx="159.4" cy="156.0" r="1.65" fill="#ababab"/>
<circle cx="170.2" cy="155.4" r="1.65" fill="#ababab"/>
<circle cx="139.2" cy="159.9" r="1.65" fill="#ababab"/>
<circle cx="157.7" cy="164.2" r="1.65" fill="#ababab"/>
<circle cx="146.0" cy="159.9" r="1.65" fill="#ababab"/>
<circle cx="172.8" cy="158.3" r="1.65" fill="#ababab"/>
<circle cx="172.3" cy="155.9" r="1.65" fill="#ababab"/>
<circle cx="175.6" cy="157.0" r="1.65" fill="#ababab"/>
<circle cx="170.9" cy="157.5" r="1.65" fill="#ababab"/>
<circle cx="175.6" cy="158.1" r="1.65" fill="#ababab"/>
<circle cx="304.1" cy="174.5" r="1.65" fill="#d6e4f4"/>
<circle cx="296.8" cy="175.5" r="1.65" fill="#d6e4f4"/>
<circle cx="290.6" cy="172.3" r="1.65" fill="#d6e4f4"/>
<circle cx="312.8" cy="178.0" r="1.65" fill="#d6e4f4"/>
<circle cx="296.1" cy="187.2" r="1.65" fill="#d6e4f4"/>
<circle cx="291.5" cy="177.1" r="1.65" fill="#d6e4f4"/>
<circle cx="301.0" cy="184.1" r="1.65" fill="#d6e4f4"/>
<circle cx="308.1" cy="181.5" r="1.65" fill="#d6e4f4"/>
<circle cx="295.2" cy="173.8" r="1.65" fill="#d6e4f4"/>
<circle cx="289.0" cy="186.2" r="1.65" fill="#d6e4f4"/>
<circle cx="305.2" cy="183.8" r="1.65" fill="#d6e4f4"/>
<circle cx="289.4" cy="176.5" r="1.65" fill="#d6e4f4"/>
<circle cx="308.7" cy="179.9" r="1.65" fill="#d6e4f4"/>
<circle cx="288.0" cy="177.1" r="1.65" fill="#d6e4f4"/>
<circle cx="312.3" cy="171.7" r="1.65" fill="#d6e4f4"/>
<circle cx="290.1" cy="173.2" r="1.65" fill="#d6e4f4"/>
<circle cx="306.5" cy="186.2" r="1.65" fill="#d6e4f4"/>
<circle cx="288.9" cy="169.7" r="1.65" fill="#d6e4f4"/>
<circle cx="291.9" cy="173.8" r="1.65" fill="#d6e4f4"/>
<circle cx="300.7" cy="169.9" r="1.65" fill="#d6e4f4"/>
<circle cx="294.5" cy="170.5" r="1.65" fill="#d6e4f4"/>
<circle cx="287.3" cy="175.2" r="1.65" fill="#d6e4f4"/>
<circle cx="332.7" cy="172.0" r="1.65" fill="#d6e4f4"/>
<circle cx="321.9" cy="175.2" r="1.65" fill="#d6e4f4"/>
<circle cx="320.1" cy="168.3" r="1.65" fill="#d6e4f4"/>
<circle cx="325.8" cy="165.5" r="1.65" fill="#d6e4f4"/>
<circle cx="326.0" cy="177.7" r="1.65" fill="#d6e4f4"/>
<circle cx="331.9" cy="173.0" r="1.65" fill="#d6e4f4"/>
<circle cx="330.6" cy="172.4" r="1.65" fill="#d6e4f4"/>
<circle cx="320.8" cy="174.7" r="1.65" fill="#d6e4f4"/>
<circle cx="326.1" cy="176.9" r="1.65" fill="#d6e4f4"/>
<circle cx="336.2" cy="171.9" r="1.65" fill="#d6e4f4"/>
<circle cx="329.5" cy="177.0" r="1.65" fill="#d6e4f4"/>
<circle cx="326.4" cy="168.7" r="1.65" fill="#d6e4f4"/>
<circle cx="332.4" cy="179.1" r="1.65" fill="#d6e4f4"/>
<circle cx="333.5" cy="176.2" r="1.65" fill="#d6e4f4"/>
<circle cx="335.0" cy="175.9" r="1.65" fill="#d6e4f4"/>
<circle cx="330.8" cy="172.3" r="1.65" fill="#d6e4f4"/>
<circle cx="324.3" cy="175.1" r="1.65" fill="#d6e4f4"/>
<circle cx="320.0" cy="171.7" r="1.65" fill="#d6e4f4"/>
<circle cx="357.3" cy="184.7" r="1.65" fill="#d6e4f4"/>
<circle cx="353.4" cy="174.5" r="1.65" fill="#d6e4f4"/>
<circle cx="348.0" cy="179.0" r="1.65" fill="#d6e4f4"/>
<circle cx="353.2" cy="178.0" r="1.65" fill="#d6e4f4"/>
<circle cx="354.6" cy="189.5" r="1.65" fill="#d6e4f4"/>
<circle cx="341.8" cy="183.4" r="1.65" fill="#d6e4f4"/>
<circle cx="357.2" cy="177.6" r="1.65" fill="#d6e4f4"/>
<circle cx="349.7" cy="190.4" r="1.65" fill="#d6e4f4"/>
<circle cx="338.0" cy="181.0" r="1.65" fill="#d6e4f4"/>
<circle cx="341.2" cy="186.2" r="1.65" fill="#d6e4f4"/>
<circle cx="361.5" cy="180.4" r="1.65" fill="#d6e4f4"/>
<circle cx="339.6" cy="181.6" r="1.65" fill="#d6e4f4"/>
<circle cx="351.1" cy="184.8" r="1.65" fill="#d6e4f4"/>
<circle cx="350.3" cy="183.1" r="1.65" fill="#d6e4f4"/>
<circle cx="358.6" cy="180.5" r="1.65" fill="#d6e4f4"/>
<circle cx="347.7" cy="189.9" r="1.65" fill="#d6e4f4"/>
<circle cx="342.5" cy="184.1" r="1.65" fill="#d6e4f4"/>
<circle cx="347.2" cy="185.8" r="1.65" fill="#d6e4f4"/>
<circle cx="346.2" cy="170.2" r="1.65" fill="#d6e4f4"/>
<circle cx="344.1" cy="177.8" r="1.65" fill="#d6e4f4"/>
<circle cx="337.3" cy="178.2" r="1.65" fill="#d6e4f4"/>
<circle cx="347.9" cy="184.4" r="1.65" fill="#d6e4f4"/>
<circle cx="366.5" cy="190.3" r="1.65" fill="#d6e4f4"/>
<circle cx="363.4" cy="199.8" r="1.65" fill="#d6e4f4"/>
<circle cx="380.6" cy="195.5" r="1.65" fill="#d6e4f4"/>
<circle cx="363.3" cy="201.0" r="1.65" fill="#d6e4f4"/>
<circle cx="367.4" cy="189.2" r="1.65" fill="#d6e4f4"/>
<circle cx="361.1" cy="200.5" r="1.65" fill="#d6e4f4"/>
<circle cx="377.4" cy="197.7" r="1.65" fill="#d6e4f4"/>
<circle cx="369.3" cy="196.2" r="1.65" fill="#d6e4f4"/>
<circle cx="366.5" cy="197.8" r="1.65" fill="#d6e4f4"/>
<circle cx="377.6" cy="201.3" r="1.65" fill="#d6e4f4"/>
<circle cx="369.2" cy="190.9" r="1.65" fill="#d6e4f4"/>
<circle cx="371.2" cy="187.5" r="1.65" fill="#d6e4f4"/>
<circle cx="378.0" cy="192.1" r="1.65" fill="#d6e4f4"/>
<circle cx="378.4" cy="190.3" r="1.65" fill="#d6e4f4"/>
<circle cx="334.5" cy="192.1" r="1.65" fill="#d6e4f4"/>
<circle cx="335.9" cy="191.0" r="1.65" fill="#d6e4f4"/>
<circle cx="331.9" cy="191.9" r="1.65" fill="#d6e4f4"/>
<circle cx="332.5" cy="195.7" r="1.65" fill="#d6e4f4"/>
<circle cx="336.0" cy="198.2" r="1.65" fill="#d6e4f4"/>
<circle cx="342.5" cy="193.8" r="1.65" fill="#d6e4f4"/>
<circle cx="349.4" cy="200.5" r="1.65" fill="#d6e4f4"/>
<circle cx="327.9" cy="201.3" r="1.65" fill="#d6e4f4"/>
<circle cx="342.4" cy="192.0" r="1.65" fill="#d6e4f4"/>
<circle cx="330.5" cy="200.4" r="1.65" fill="#d6e4f4"/>
<circle cx="333.7" cy="190.4" r="1.65" fill="#d6e4f4"/>
<circle cx="349.3" cy="200.7" r="1.65" fill="#d6e4f4"/>
<circle cx="341.0" cy="200.5" r="1.65" fill="#d6e4f4"/>
<circle cx="342.7" cy="202.3" r="1.65" fill="#d6e4f4"/>
<circle cx="364.9" cy="205.7" r="1.65" fill="#d6e4f4"/>
<circle cx="359.0" cy="204.5" r="1.65" fill="#d6e4f4"/>
<circle cx="362.3" cy="204.9" r="1.65" fill="#d6e4f4"/>
<circle cx="361.4" cy="206.1" r="1.65" fill="#d6e4f4"/>
<circle cx="362.6" cy="201.1" r="1.65" fill="#d6e4f4"/>
<circle cx="359.3" cy="200.1" r="1.65" fill="#d6e4f4"/>
<circle cx="289.9" cy="187.9" r="1.65" fill="#d6e4f4"/>
<circle cx="289.5" cy="189.3" r="1.65" fill="#d6e4f4"/>
<circle cx="289.9" cy="195.0" r="1.65" fill="#d6e4f4"/>
<circle cx="290.6" cy="200.8" r="1.65" fill="#d6e4f4"/>
<circle cx="289.5" cy="196.0" r="1.65" fill="#d6e4f4"/>
<circle cx="292.6" cy="200.4" r="1.65" fill="#d6e4f4"/>
<circle cx="288.0" cy="193.7" r="1.65" fill="#d6e4f4"/>
<circle cx="292.2" cy="197.2" r="1.65" fill="#d6e4f4"/>
<circle cx="282.5" cy="196.8" r="1.65" fill="#d6e4f4"/>
<circle cx="292.9" cy="201.9" r="1.65" fill="#d6e4f4"/>
<circle cx="390.4" cy="123.8" r="1.65" fill="#f4e0ec"/>
<circle cx="397.4" cy="125.8" r="1.65" fill="#f4e0ec"/>
<circle cx="384.5" cy="129.1" r="1.65" fill="#f4e0ec"/>
<circle cx="385.4" cy="123.6" r="1.65" fill="#f4e0ec"/>
<circle cx="390.9" cy="127.8" r="1.65" fill="#f4e0ec"/>
<circle cx="380.2" cy="123.1" r="1.65" fill="#f4e0ec"/>
<circle cx="387.4" cy="124.8" r="1.65" fill="#f4e0ec"/>
<circle cx="401.1" cy="121.1" r="1.65" fill="#f4e0ec"/>
<circle cx="401.1" cy="122.7" r="1.65" fill="#f4e0ec"/>
<circle cx="390.1" cy="120.8" r="1.65" fill="#f4e0ec"/>
<circle cx="390.2" cy="130.6" r="1.65" fill="#f4e0ec"/>
<circle cx="395.3" cy="128.1" r="1.65" fill="#f4e0ec"/>
<circle cx="384.3" cy="121.4" r="1.65" fill="#f4e0ec"/>
<circle cx="383.2" cy="125.2" r="1.65" fill="#f4e0ec"/>
<circle cx="394.6" cy="128.0" r="1.65" fill="#f4e0ec"/>
<circle cx="403.1" cy="124.6" r="1.65" fill="#f4e0ec"/>
<circle cx="374.7" cy="121.2" r="1.65" fill="#f4e0ec"/>
<circle cx="404.3" cy="125.5" r="1.65" fill="#f4e0ec"/>
<circle cx="395.4" cy="128.0" r="1.65" fill="#f4e0ec"/>
<circle cx="403.9" cy="125.6" r="1.65" fill="#f4e0ec"/>
<circle cx="394.0" cy="125.8" r="1.65" fill="#f4e0ec"/>
<circle cx="396.7" cy="125.3" r="1.65" fill="#f4e0ec"/>
<circle cx="396.2" cy="120.0" r="1.65" fill="#f4e0ec"/>
<circle cx="395.7" cy="123.4" r="1.65" fill="#f4e0ec"/>
<circle cx="398.9" cy="118.4" r="1.65" fill="#f4e0ec"/>
<circle cx="399.3" cy="129.8" r="1.65" fill="#f4e0ec"/>
<circle cx="395.3" cy="122.2" r="1.65" fill="#f4e0ec"/>
<circle cx="401.0" cy="128.0" r="1.65" fill="#f4e0ec"/>
<circle cx="392.1" cy="120.6" r="1.65" fill="#f4e0ec"/>
<circle cx="383.3" cy="122.9" r="1.65" fill="#f4e0ec"/>
<circle cx="383.8" cy="123.0" r="1.65" fill="#f4e0ec"/>
<circle cx="394.8" cy="130.1" r="1.65" fill="#f4e0ec"/>
<circle cx="374.9" cy="124.9" r="1.65" fill="#f4e0ec"/>
<circle cx="400.6" cy="125.1" r="1.65" fill="#f4e0ec"/>
<circle cx="404.2" cy="123.3" r="1.65" fill="#f4e0ec"/>
<circle cx="373.5" cy="122.4" r="1.65" fill="#f4e0ec"/>
<circle cx="393.1" cy="130.1" r="1.65" fill="#f4e0ec"/>
<circle cx="406.3" cy="123.7" r="1.65" fill="#f4e0ec"/>
<circle cx="387.0" cy="118.4" r="1.65" fill="#f4e0ec"/>
<circle cx="394.9" cy="120.0" r="1.65" fill="#f4e0ec"/>
<circle cx="397.5" cy="120.4" r="1.65" fill="#f4e0ec"/>
<circle cx="397.9" cy="119.6" r="1.65" fill="#f4e0ec"/>
<circle cx="404.3" cy="174.4" r="1.65" fill="#f2c2cc"/>
<circle cx="408.0" cy="157.8" r="1.65" fill="#f2c2cc"/>
<circle cx="401.0" cy="170.6" r="1.65" fill="#f2c2cc"/>
<circle cx="392.6" cy="174.1" r="1.65" fill="#f2c2cc"/>
<circle cx="386.6" cy="168.5" r="1.65" fill="#f2c2cc"/>
<circle cx="379.5" cy="170.2" r="1.65" fill="#f2c2cc"/>
<circle cx="397.1" cy="155.4" r="1.65" fill="#f2c2cc"/>
<circle cx="389.7" cy="165.6" r="1.65" fill="#f2c2cc"/>
<circle cx="392.5" cy="168.3" r="1.65" fill="#f2c2cc"/>
<circle cx="378.8" cy="168.6" r="1.65" fill="#f2c2cc"/>
<circle cx="389.3" cy="167.0" r="1.65" fill="#f2c2cc"/>
<circle cx="402.2" cy="164.3" r="1.65" fill="#f2c2cc"/>
<circle cx="389.7" cy="170.3" r="1.65" fill="#f2c2cc"/>
<circle cx="399.8" cy="161.0" r="1.65" fill="#f2c2cc"/>
<circle cx="404.0" cy="173.7" r="1.65" fill="#f2c2cc"/>
<circle cx="388.0" cy="166.0" r="1.65" fill="#f2c2cc"/>
<circle cx="401.3" cy="161.7" r="1.65" fill="#f2c2cc"/>
<circle cx="391.3" cy="172.8" r="1.65" fill="#f2c2cc"/>
<circle cx="389.7" cy="168.0" r="1.65" fill="#f2c2cc"/>
<circle cx="399.1" cy="174.4" r="1.65" fill="#f2c2cc"/>
<circle cx="410.8" cy="162.8" r="1.65" fill="#f2c2cc"/>
<circle cx="392.2" cy="166.3" r="1.65" fill="#f2c2cc"/>
<circle cx="408.8" cy="175.9" r="1.65" fill="#f2c2cc"/>
<circle cx="408.7" cy="175.4" r="1.65" fill="#f2c2cc"/>
<circle cx="400.1" cy="160.7" r="1.65" fill="#f2c2cc"/>
<circle cx="410.7" cy="174.5" r="1.65" fill="#f2c2cc"/>
<circle cx="402.8" cy="175.4" r="1.65" fill="#f2c2cc"/>
<circle cx="390.6" cy="154.8" r="1.65" fill="#f2c2cc"/>
<circle cx="397.3" cy="171.9" r="1.65" fill="#f2c2cc"/>
<circle cx="381.5" cy="168.0" r="1.65" fill="#f2c2cc"/>
<circle cx="400.2" cy="169.7" r="1.65" fill="#f2c2cc"/>
<circle cx="395.6" cy="158.4" r="1.65" fill="#f2c2cc"/>
<circle cx="383.9" cy="168.5" r="1.65" fill="#f2c2cc"/>
<circle cx="409.4" cy="166.5" r="1.65" fill="#f2c2cc"/>
<circle cx="409.3" cy="161.4" r="1.65" fill="#f2c2cc"/>
<circle cx="398.1" cy="174.2" r="1.65" fill="#f2c2cc"/>
<circle cx="413.4" cy="168.5" r="1.65" fill="#f2c2cc"/>
<circle cx="394.6" cy="166.7" r="1.65" fill="#f2c2cc"/>
<circle cx="383.1" cy="155.9" r="1.65" fill="#f2c2cc"/>
<circle cx="380.8" cy="166.8" r="1.65" fill="#f2c2cc"/>
<circle cx="389.5" cy="165.3" r="1.65" fill="#f2c2cc"/>
<circle cx="391.5" cy="164.6" r="1.65" fill="#f2c2cc"/>
<circle cx="377.6" cy="164.7" r="1.65" fill="#f2c2cc"/>
<circle cx="410.3" cy="159.8" r="1.65" fill="#f2c2cc"/>
<circle cx="401.0" cy="162.4" r="1.65" fill="#f2c2cc"/>
<circle cx="398.7" cy="154.8" r="1.65" fill="#f2c2cc"/>
<circle cx="412.6" cy="167.6" r="1.65" fill="#f2c2cc"/>
<circle cx="400.0" cy="160.4" r="1.65" fill="#f2c2cc"/>
<circle cx="408.9" cy="165.6" r="1.65" fill="#f2c2cc"/>
<circle cx="383.7" cy="155.7" r="1.65" fill="#f2c2cc"/>
<circle cx="397.2" cy="173.5" r="1.65" fill="#f2c2cc"/>
<circle cx="392.4" cy="174.4" r="1.65" fill="#f2c2cc"/>
<circle cx="400.8" cy="163.6" r="1.65" fill="#f2c2cc"/>
<circle cx="384.8" cy="164.5" r="1.65" fill="#f2c2cc"/>
<circle cx="400.6" cy="176.0" r="1.65" fill="#f2c2cc"/>
<circle cx="404.1" cy="164.0" r="1.65" fill="#f2c2cc"/>
<circle cx="395.0" cy="157.2" r="1.65" fill="#f2c2cc"/>
<circle cx="385.5" cy="159.8" r="1.65" fill="#f2c2cc"/>
<circle cx="408.2" cy="171.8" r="1.65" fill="#f2c2cc"/>
<circle cx="404.8" cy="162.1" r="1.65" fill="#f2c2cc"/>
<circle cx="399.2" cy="171.3" r="1.65" fill="#f2c2cc"/>
<circle cx="378.8" cy="158.0" r="1.65" fill="#f2c2cc"/>
<circle cx="402.1" cy="171.7" r="1.65" fill="#f2bfca"/>
<circle cx="404.8" cy="172.0" r="1.65" fill="#f2bfca"/>
<circle cx="401.9" cy="171.9" r="1.65" fill="#f2bfca"/>
<circle cx="407.6" cy="172.2" r="1.65" fill="#f2bfca"/>
<circle cx="400.7" cy="173.7" r="1.65" fill="#f2bfca"/>
<circle cx="409.1" cy="174.8" r="1.65" fill="#f2bfca"/>
<circle cx="404.4" cy="173.0" r="1.65" fill="#f2bfca"/>
<circle cx="408.9" cy="173.9" r="1.65" fill="#f2bfca"/>
<circle cx="294.6" cy="145.1" r="1.65" fill="#dca8d2"/>
<circle cx="297.7" cy="154.2" r="1.65" fill="#dca8d2"/>
<circle cx="281.6" cy="151.1" r="1.65" fill="#dca8d2"/>
<circle cx="277.6" cy="148.0" r="1.65" fill="#dca8d2"/>
<circle cx="302.2" cy="149.4" r="1.65" fill="#dca8d2"/>
<circle cx="278.0" cy="152.8" r="1.65" fill="#dca8d2"/>
<circle cx="283.5" cy="161.9" r="1.65" fill="#dca8d2"/>
<circle cx="296.1" cy="146.6" r="1.65" fill="#dca8d2"/>
<circle cx="289.2" cy="148.3" r="1.65" fill="#dca8d2"/>
<circle cx="281.3" cy="146.4" r="1.65" fill="#dca8d2"/>
<circle cx="275.5" cy="148.4" r="1.65" fill="#dca8d2"/>
<circle cx="298.2" cy="148.5" r="1.65" fill="#dca8d2"/>
<circle cx="301.1" cy="149.5" r="1.65" fill="#dca8d2"/>
<circle cx="302.0" cy="153.6" r="1.65" fill="#dca8d2"/>
<circle cx="278.7" cy="151.6" r="1.65" fill="#dca8d2"/>
<circle cx="304.8" cy="146.8" r="1.65" fill="#dca8d2"/>
<circle cx="292.6" cy="145.0" r="1.65" fill="#dca8d2"/>
<circle cx="278.5" cy="158.9" r="1.65" fill="#dca8d2"/>
<circle cx="297.6" cy="146.3" r="1.65" fill="#dca8d2"/>
<circle cx="293.9" cy="152.9" r="1.65" fill="#dca8d2"/>
<circle cx="281.9" cy="146.5" r="1.65" fill="#dca8d2"/>
<circle cx="294.0" cy="157.6" r="1.65" fill="#dca8d2"/>
<circle cx="301.2" cy="154.8" r="1.65" fill="#dca8d2"/>
<circle cx="298.4" cy="151.0" r="1.65" fill="#dca8d2"/>
<circle cx="303.5" cy="142.4" r="1.65" fill="#dca8d2"/>
<circle cx="305.0" cy="144.7" r="1.65" fill="#dca8d2"/>
<circle cx="305.5" cy="148.9" r="1.65" fill="#dca8d2"/>
<circle cx="299.9" cy="142.1" r="1.65" fill="#dca8d2"/>
<circle cx="306.6" cy="145.8" r="1.65" fill="#dca8d2"/>
<circle cx="306.0" cy="144.1" r="1.65" fill="#dca8d2"/>
<circle cx="275.7" cy="177.3" r="1.65" fill="#dca8d2"/>
<circle cx="279.3" cy="166.6" r="1.65" fill="#dca8d2"/>
<circle cx="279.4" cy="173.5" r="1.65" fill="#dca8d2"/>
<circle cx="272.1" cy="172.3" r="1.65" fill="#dca8d2"/>
<circle cx="280.9" cy="172.3" r="1.65" fill="#dca8d2"/>
<circle cx="274.4" cy="175.4" r="1.65" fill="#dca8d2"/>
<circle cx="288.3" cy="177.8" r="1.65" fill="#dca8d2"/>
<circle cx="278.4" cy="175.4" r="1.65" fill="#dca8d2"/>
<circle cx="279.6" cy="176.0" r="1.65" fill="#dca8d2"/>
<circle cx="291.1" cy="171.9" r="1.65" fill="#dca8d2"/>
<circle cx="311.2" cy="128.1" r="1.65" fill="#dca4cf"/>
<circle cx="311.4" cy="126.1" r="1.65" fill="#dca4cf"/>
<circle cx="308.0" cy="129.3" r="1.65" fill="#dca4cf"/>
<circle cx="313.4" cy="126.8" r="1.65" fill="#dca4cf"/>
<circle cx="305.2" cy="128.4" r="1.65" fill="#dca4cf"/>
<circle cx="413.8" cy="186.3" r="1.65" fill="#cf92c2"/>
<circle cx="416.9" cy="181.2" r="1.65" fill="#cf92c2"/>
<circle cx="420.9" cy="188.6" r="1.65" fill="#cf92c2"/>
<circle cx="411.8" cy="186.0" r="1.65" fill="#cf92c2"/>
<circle cx="406.7" cy="181.5" r="1.65" fill="#cf92c2"/>
<circle cx="409.7" cy="181.6" r="1.65" fill="#cf92c2"/>
<circle cx="414.2" cy="190.3" r="1.65" fill="#cf92c2"/>
<circle cx="403.5" cy="186.9" r="1.65" fill="#cf92c2"/>
<circle cx="417.9" cy="182.0" r="1.65" fill="#cf92c2"/>
<circle cx="409.3" cy="185.0" r="1.65" fill="#cf92c2"/>
<circle cx="420.2" cy="186.3" r="1.65" fill="#cf92c2"/>
<circle cx="409.5" cy="191.3" r="1.65" fill="#cf92c2"/>
<circle cx="418.6" cy="184.1" r="1.65" fill="#cf92c2"/>
<circle cx="405.8" cy="184.0" r="1.65" fill="#cf92c2"/>
<circle cx="410.5" cy="191.8" r="1.65" fill="#cf92c2"/>
<circle cx="419.6" cy="190.2" r="1.65" fill="#cf92c2"/>
<circle cx="294.3" cy="172.8" r="1.65" fill="#dca4cf"/>
<circle cx="309.9" cy="168.6" r="1.65" fill="#dca4cf"/>
<circle cx="340.6" cy="166.0" r="1.65" fill="#dca4cf"/>
<circle cx="332.5" cy="153.0" r="1.65" fill="#dca4cf"/>
<circle cx="324.6" cy="172.2" r="1.65" fill="#dca4cf"/>
<circle cx="365.0" cy="177.9" r="1.65" fill="#dca4cf"/>
<circle cx="354.7" cy="188.9" r="1.65" fill="#dca4cf"/>
<circle cx="341.3" cy="161.7" r="1.65" fill="#dca4cf"/>
<circle cx="344.3" cy="162.0" r="1.65" fill="#dca4cf"/>
<circle cx="333.4" cy="190.7" r="1.65" fill="#dca4cf"/>
<circle cx="339.7" cy="161.0" r="1.65" fill="#dca4cf"/>
<circle cx="331.6" cy="169.1" r="1.65" fill="#dca4cf"/>
<circle cx="366.1" cy="162.7" r="1.65" fill="#dca4cf"/>
<circle cx="314.4" cy="178.5" r="1.65" fill="#dca4cf"/>
<circle cx="286.3" cy="174.3" r="1.65" fill="#eb8890"/>
<circle cx="316.4" cy="172.3" r="1.65" fill="#eb8890"/>
<circle cx="291.7" cy="171.2" r="1.65" fill="#eb8890"/>
<circle cx="301.2" cy="163.6" r="1.65" fill="#eb8890"/>
<circle cx="292.6" cy="169.8" r="1.65" fill="#eb8890"/>
<circle cx="292.4" cy="165.8" r="1.65" fill="#eb8890"/>
<circle cx="285.2" cy="173.1" r="1.65" fill="#eb8890"/>
<circle cx="312.2" cy="174.6" r="1.65" fill="#eb8890"/>
<circle cx="302.5" cy="175.6" r="1.65" fill="#eb8890"/>
<circle cx="289.2" cy="177.0" r="1.65" fill="#eb8890"/>
<circle cx="328.4" cy="181.0" r="1.65" fill="#eb8890"/>
<circle cx="334.5" cy="179.4" r="1.65" fill="#eb8890"/>
<circle cx="322.4" cy="174.8" r="1.65" fill="#eb8890"/>
<circle cx="318.9" cy="180.2" r="1.65" fill="#eb8890"/>
<circle cx="325.3" cy="181.7" r="1.65" fill="#eb8890"/>
<circle cx="344.5" cy="174.8" r="1.65" fill="#eb8890"/>
<circle cx="332.3" cy="179.8" r="1.65" fill="#eb8890"/>
<circle cx="321.8" cy="185.4" r="1.65" fill="#eb8890"/>
<circle cx="344.9" cy="178.8" r="1.65" fill="#eb8890"/>
<circle cx="312.5" cy="177.8" r="1.65" fill="#eb8890"/>
<circle cx="327.6" cy="184.7" r="1.65" fill="#eb8890"/>
<circle cx="314.4" cy="174.5" r="1.65" fill="#eb8890"/>
<circle cx="316.2" cy="176.7" r="1.65" fill="#eb8890"/>
<circle cx="324.1" cy="183.5" r="1.65" fill="#eb8890"/>
<circle cx="334.7" cy="187.0" r="1.65" fill="#eb8890"/>
<circle cx="342.8" cy="180.4" r="1.65" fill="#eb8890"/>
<circle cx="333.3" cy="190.5" r="1.65" fill="#eb8890"/>
<circle cx="333.6" cy="188.9" r="1.65" fill="#eb8890"/>
<circle cx="334.0" cy="190.3" r="1.65" fill="#eb8890"/>
<circle cx="333.7" cy="189.5" r="1.65" fill="#eb8890"/>
<circle cx="330.0" cy="191.8" r="1.65" fill="#eb8890"/>
<circle cx="331.0" cy="188.5" r="1.65" fill="#eb8890"/>
<circle cx="376.5" cy="190.0" r="1.65" fill="#eb8890"/>
<circle cx="373.7" cy="186.0" r="1.65" fill="#eb8890"/>
<circle cx="371.2" cy="186.7" r="1.65" fill="#eb8890"/>
<circle cx="375.6" cy="185.3" r="1.65" fill="#eb8890"/>
<circle cx="370.3" cy="187.4" r="1.65" fill="#eb8890"/>
<circle cx="370.2" cy="185.6" r="1.65" fill="#eb8890"/>
<circle cx="376.6" cy="189.8" r="1.65" fill="#eb8890"/>
<circle cx="372.0" cy="186.6" r="1.65" fill="#eb8890"/>
<circle cx="366.9" cy="185.4" r="1.65" fill="#eb8890"/>
<circle cx="366.3" cy="187.6" r="1.65" fill="#eb8890"/>
<circle cx="369.3" cy="164.5" r="1.65" fill="#e0606c"/>
<circle cx="374.7" cy="171.1" r="1.65" fill="#e0606c"/>
<circle cx="373.5" cy="185.5" r="1.65" fill="#e0606c"/>
<circle cx="366.8" cy="187.5" r="1.65" fill="#e0606c"/>
<circle cx="369.0" cy="175.9" r="1.65" fill="#e0606c"/>
<circle cx="368.6" cy="190.0" r="1.65" fill="#e0606c"/>
<circle cx="368.3" cy="176.5" r="1.65" fill="#e0606c"/>
<circle cx="371.0" cy="172.9" r="1.65" fill="#e0606c"/>
<circle cx="365.7" cy="178.7" r="1.65" fill="#e0606c"/>
<circle cx="365.6" cy="188.5" r="1.65" fill="#e0606c"/>
<circle cx="370.8" cy="176.7" r="1.65" fill="#e0606c"/>
<circle cx="361.6" cy="172.5" r="1.65" fill="#e0606c"/>
<circle cx="366.4" cy="177.7" r="1.65" fill="#e0606c"/>
<circle cx="369.2" cy="186.6" r="1.65" fill="#e0606c"/>
<circle cx="391.6" cy="186.9" r="1.65" fill="#eb8890"/>
<circle cx="386.4" cy="187.7" r="1.65" fill="#eb8890"/>
<circle cx="387.3" cy="188.9" r="1.65" fill="#eb8890"/>
<circle cx="383.7" cy="185.9" r="1.65" fill="#eb8890"/>
<circle cx="387.1" cy="184.7" r="1.65" fill="#eb8890"/>
<circle cx="390.9" cy="188.1" r="1.65" fill="#eb8890"/>
<circle cx="351.2" cy="167.2" r="1.65" fill="#eb8890"/>
<circle cx="339.5" cy="165.9" r="1.65" fill="#eb8890"/>
<circle cx="345.2" cy="168.0" r="1.65" fill="#eb8890"/>
<circle cx="340.0" cy="164.8" r="1.65" fill="#eb8890"/>
<circle cx="347.1" cy="169.0" r="1.65" fill="#eb8890"/>
<circle cx="347.2" cy="163.4" r="1.65" fill="#eb8890"/>
<circle cx="366.3" cy="176.6" r="1.65" fill="#d63a4a"/>
<circle cx="365.5" cy="175.1" r="1.65" fill="#d63a4a"/>
<circle cx="369.7" cy="173.4" r="1.65" fill="#d63a4a"/>
<circle cx="368.3" cy="167.1" r="1.65" fill="#d63a4a"/>
<circle cx="367.0" cy="172.9" r="1.65" fill="#d63a4a"/>
<circle cx="365.1" cy="174.3" r="1.65" fill="#d63a4a"/>
<circle cx="367.3" cy="180.0" r="1.65" fill="#d63a4a"/>
<circle cx="367.6" cy="170.6" r="1.65" fill="#d63a4a"/>
<circle cx="369.1" cy="165.7" r="1.65" fill="#d63a4a"/>
<circle cx="367.2" cy="177.2" r="1.65" fill="#d63a4a"/>
<circle cx="367.9" cy="176.9" r="1.65" fill="#d63a4a"/>
<circle cx="346.2" cy="179.7" r="1.65" fill="#d42a4e"/>
<circle cx="342.9" cy="180.6" r="1.65" fill="#d42a4e"/>
<circle cx="310.2" cy="178.0" r="1.65" fill="#d42a4e"/>
<circle cx="334.9" cy="180.5" r="1.65" fill="#d42a4e"/>
<circle cx="230.0" cy="213.5" r="1.65" fill="#cfe6e6"/>
<circle cx="211.0" cy="220.0" r="1.65" fill="#d0e080"/>
<circle cx="217.0" cy="222.0" r="1.65" fill="#c8a8d0"/>
<circle cx="140.2" cy="181.1" r="1.65" fill="#f0982e"/>
<circle cx="142.3" cy="185.7" r="1.65" fill="#f0982e"/>
<circle cx="140.0" cy="183.0" r="1.65" fill="#f0982e"/>
<circle cx="138.0" cy="185.2" r="1.65" fill="#f0982e"/>
<circle cx="146.1" cy="180.4" r="1.65" fill="#f0982e"/>
<circle cx="142.6" cy="185.7" r="1.65" fill="#f0982e"/>
<circle cx="140.9" cy="185.6" r="1.65" fill="#f0982e"/>
<circle cx="136.9" cy="181.1" r="1.65" fill="#f0982e"/>
<circle cx="144.5" cy="179.8" r="1.65" fill="#f0982e"/>
<circle cx="137.9" cy="185.0" r="1.65" fill="#f0982e"/>
<circle cx="140.8" cy="184.3" r="1.65" fill="#f0982e"/>
<circle cx="136.9" cy="179.4" r="1.65" fill="#f0982e"/>
<circle cx="138.7" cy="179.5" r="1.65" fill="#f0982e"/>
<circle cx="142.0" cy="178.9" r="1.65" fill="#f0982e"/>
<circle cx="141.5" cy="181.1" r="1.65" fill="#f0982e"/>
<circle cx="139.5" cy="178.5" r="1.65" fill="#f0982e"/>
<circle cx="135.0" cy="184.6" r="1.65" fill="#f0982e"/>
<circle cx="138.6" cy="180.0" r="1.65" fill="#f0982e"/>
<circle cx="136.1" cy="180.3" r="1.65" fill="#f0982e"/>
<circle cx="143.6" cy="180.7" r="1.65" fill="#f0982e"/>
<circle cx="135.5" cy="183.6" r="1.65" fill="#f0982e"/>
<circle cx="134.5" cy="180.2" r="1.65" fill="#f0982e"/>
<circle cx="140.1" cy="184.7" r="1.65" fill="#f0982e"/>
<circle cx="145.9" cy="179.3" r="1.65" fill="#f0982e"/>
<circle cx="155.6" cy="184.1" r="1.65" fill="#f0a040"/>
<circle cx="156.0" cy="185.3" r="1.65" fill="#f0a040"/>
<circle cx="158.1" cy="181.6" r="1.65" fill="#f0a040"/>
<circle cx="157.2" cy="181.2" r="1.65" fill="#f0a040"/>
<circle cx="161.3" cy="181.8" r="1.65" fill="#f0a040"/>
<circle cx="164.4" cy="183.4" r="1.65" fill="#f0a040"/>
<circle cx="148.4" cy="180.5" r="1.65" fill="#f6d2a6"/>
<circle cx="151.3" cy="180.3" r="1.65" fill="#f6d2a6"/>
<circle cx="150.2" cy="182.3" r="1.65" fill="#f6d2a6"/>
<circle cx="147.2" cy="183.6" r="1.65" fill="#f6d2a6"/>
<circle cx="139.5" cy="192.0" r="1.65" fill="#23235e"/>
<circle cx="199.8" cy="177.8" r="1.65" fill="#8444a6"/>
<circle cx="204.9" cy="174.9" r="1.65" fill="#8444a6"/>
<circle cx="199.9" cy="173.0" r="1.65" fill="#8444a6"/>
<circle cx="194.0" cy="179.4" r="1.65" fill="#8444a6"/>
<circle cx="198.0" cy="177.9" r="1.65" fill="#8444a6"/>
<circle cx="192.1" cy="177.0" r="1.65" fill="#8444a6"/>
<circle cx="199.1" cy="176.5" r="1.65" fill="#8444a6"/>
<circle cx="197.3" cy="172.9" r="1.65" fill="#8444a6"/>
<circle cx="197.7" cy="174.2" r="1.65" fill="#8444a6"/>
<circle cx="192.5" cy="178.3" r="1.65" fill="#8444a6"/>
<circle cx="196.9" cy="175.7" r="1.65" fill="#8444a6"/>
<circle cx="214.4" cy="178.8" r="1.65" fill="#8444a6"/>
<circle cx="192.7" cy="174.6" r="1.65" fill="#8444a6"/>
<circle cx="207.6" cy="175.3" r="1.65" fill="#8444a6"/>
<circle cx="200.6" cy="177.8" r="1.65" fill="#8444a6"/>
<circle cx="208.6" cy="174.4" r="1.65" fill="#8444a6"/>
<circle cx="212.7" cy="175.3" r="1.65" fill="#8444a6"/>
<circle cx="206.6" cy="173.8" r="1.65" fill="#8444a6"/>
<circle cx="209.6" cy="178.3" r="1.65" fill="#8444a6"/>
<circle cx="193.5" cy="174.0" r="1.65" fill="#8444a6"/>
<circle cx="197.5" cy="175.5" r="1.65" fill="#8444a6"/>
<circle cx="190.1" cy="174.9" r="1.65" fill="#8444a6"/>
<circle cx="206.9" cy="173.8" r="1.65" fill="#8444a6"/>
<circle cx="212.5" cy="177.1" r="1.65" fill="#8444a6"/>
<circle cx="209.1" cy="174.4" r="1.65" fill="#8444a6"/>
<circle cx="201.2" cy="178.0" r="1.65" fill="#8444a6"/>
<circle cx="212.4" cy="178.8" r="1.65" fill="#8444a6"/>
<circle cx="212.9" cy="177.4" r="1.65" fill="#8444a6"/>
<circle cx="192.1" cy="178.9" r="1.65" fill="#8444a6"/>
<circle cx="210.0" cy="173.0" r="1.65" fill="#8444a6"/>
<circle cx="208.5" cy="175.6" r="1.65" fill="#8444a6"/>
<circle cx="209.9" cy="179.3" r="1.65" fill="#8444a6"/>
<circle cx="196.9" cy="173.1" r="1.65" fill="#8444a6"/>
<circle cx="215.5" cy="175.9" r="1.65" fill="#8444a6"/>
<circle cx="215.0" cy="178.1" r="1.65" fill="#8444a6"/>
<circle cx="209.7" cy="179.3" r="1.65" fill="#8444a6"/>
<circle cx="206.6" cy="176.1" r="1.65" fill="#8444a6"/>
<circle cx="190.5" cy="178.2" r="1.65" fill="#8444a6"/>
<circle cx="201.0" cy="176.6" r="1.65" fill="#8444a6"/>
<circle cx="208.7" cy="179.1" r="1.65" fill="#8444a6"/>
<circle cx="196.3" cy="176.9" r="1.65" fill="#8444a6"/>
<circle cx="216.1" cy="177.7" r="1.65" fill="#8444a6"/>
<circle cx="204.2" cy="174.4" r="1.65" fill="#8444a6"/>
<circle cx="190.7" cy="175.3" r="1.65" fill="#8444a6"/>
<circle cx="179.2" cy="199.3" r="1.85" fill="#2c2c84"/>
<circle cx="175.9" cy="198.4" r="1.85" fill="#2c2c84"/>
<circle cx="188.6" cy="205.9" r="1.85" fill="#2c2c84"/>
<circle cx="173.6" cy="199.9" r="1.85" fill="#2c2c84"/>
<circle cx="182.5" cy="202.7" r="1.85" fill="#2c2c84"/>
<circle cx="195.9" cy="201.4" r="1.85" fill="#2c2c84"/>
<circle cx="175.6" cy="208.9" r="1.85" fill="#2c2c84"/>
<circle cx="170.5" cy="204.4" r="1.85" fill="#2c2c84"/>
<circle cx="176.7" cy="207.9" r="1.85" fill="#2c2c84"/>
<circle cx="183.5" cy="207.1" r="1.85" fill="#2c2c84"/>
<circle cx="171.4" cy="205.8" r="1.85" fill="#2c2c84"/>
<circle cx="185.2" cy="203.0" r="1.85" fill="#2c2c84"/>
<circle cx="190.5" cy="208.1" r="1.85" fill="#2c2c84"/>
<circle cx="169.7" cy="200.6" r="1.85" fill="#2c2c84"/>
<circle cx="177.5" cy="199.4" r="1.85" fill="#2c2c84"/>
<circle cx="167.9" cy="200.4" r="1.85" fill="#2c2c84"/>
<circle cx="172.3" cy="206.3" r="1.85" fill="#2c2c84"/>
<circle cx="180.3" cy="198.1" r="1.85" fill="#2c2c84"/>
<circle cx="176.4" cy="203.1" r="1.85" fill="#2c2c84"/>
<circle cx="177.6" cy="198.9" r="1.85" fill="#2c2c84"/>
<circle cx="168.7" cy="206.5" r="1.85" fill="#2c2c84"/>
<circle cx="197.4" cy="204.4" r="1.85" fill="#2c2c84"/>
<circle cx="169.5" cy="203.3" r="1.85" fill="#2c2c84"/>
<circle cx="179.9" cy="199.2" r="1.85" fill="#2c2c84"/>
<circle cx="183.4" cy="196.6" r="1.85" fill="#2c2c84"/>
<circle cx="195.4" cy="205.5" r="1.85" fill="#2c2c84"/>
<circle cx="186.1" cy="209.6" r="1.85" fill="#2c2c84"/>
<circle cx="186.9" cy="200.0" r="1.85" fill="#2c2c84"/>
<circle cx="173.9" cy="198.4" r="1.85" fill="#2c2c84"/>
<circle cx="192.9" cy="200.6" r="1.85" fill="#2c2c84"/>
<circle cx="171.9" cy="205.4" r="1.85" fill="#2c2c84"/>
<circle cx="171.4" cy="207.5" r="1.85" fill="#2c2c84"/>
<circle cx="192.6" cy="206.9" r="1.85" fill="#2c2c84"/>
<circle cx="176.5" cy="199.1" r="1.85" fill="#2c2c84"/>
<circle cx="192.4" cy="201.0" r="1.85" fill="#2c2c84"/>
<circle cx="177.8" cy="204.2" r="1.85" fill="#2c2c84"/>
<circle cx="177.8" cy="208.1" r="1.85" fill="#2c2c84"/>
<circle cx="184.1" cy="205.3" r="1.85" fill="#2c2c84"/>
<circle cx="192.2" cy="206.4" r="1.85" fill="#2c2c84"/>
<circle cx="181.8" cy="203.5" r="1.85" fill="#2c2c84"/>
<circle cx="171.0" cy="200.7" r="1.85" fill="#2c2c84"/>
<circle cx="184.6" cy="197.6" r="1.85" fill="#2c2c84"/>
<circle cx="188.0" cy="198.8" r="1.85" fill="#2c2c84"/>
<circle cx="180.2" cy="210.1" r="1.85" fill="#2c2c84"/>
<circle cx="180.1" cy="199.2" r="1.85" fill="#2c2c84"/>
<circle cx="192.9" cy="208.5" r="1.85" fill="#2c2c84"/>
<circle cx="191.2" cy="202.5" r="1.85" fill="#2c2c84"/>
<circle cx="175.1" cy="205.8" r="1.85" fill="#2c2c84"/>
<circle cx="182.5" cy="202.4" r="1.85" fill="#2c2c84"/>
<circle cx="176.8" cy="202.6" r="1.85" fill="#2c2c84"/>
<circle cx="187.3" cy="208.1" r="1.85" fill="#2c2c84"/>
<circle cx="175.5" cy="202.7" r="1.85" fill="#2c2c84"/>
<circle cx="184.0" cy="201.4" r="1.85" fill="#2c2c84"/>
<circle cx="176.4" cy="202.9" r="1.85" fill="#2c2c84"/>
<circle cx="196.8" cy="205.2" r="1.85" fill="#2c2c84"/>
<circle cx="187.6" cy="205.0" r="1.85" fill="#2c2c84"/>
<circle cx="175.5" cy="204.5" r="1.85" fill="#2c2c84"/>
<circle cx="196.5" cy="203.2" r="1.85" fill="#2c2c84"/>
<circle cx="186.7" cy="200.7" r="1.85" fill="#2c2c84"/>
<circle cx="177.0" cy="208.9" r="1.85" fill="#2c2c84"/>
<circle cx="187.7" cy="202.8" r="1.85" fill="#2c2c84"/>
<circle cx="168.7" cy="205.7" r="1.85" fill="#2c2c84"/>
<circle cx="177.9" cy="204.6" r="1.85" fill="#2c2c84"/>
<circle cx="179.3" cy="203.9" r="1.85" fill="#2c2c84"/>
<circle cx="184.1" cy="202.0" r="1.85" fill="#2c2c84"/>
<circle cx="202.9" cy="223.8" r="1.85" fill="#1d1d66"/>
<circle cx="185.1" cy="216.5" r="1.85" fill="#1d1d66"/>
<circle cx="192.9" cy="219.0" r="1.85" fill="#1d1d66"/>
<circle cx="191.7" cy="223.9" r="1.85" fill="#1d1d66"/>
<circle cx="184.3" cy="224.2" r="1.85" fill="#1d1d66"/>
<circle cx="181.2" cy="223.2" r="1.85" fill="#1d1d66"/>
<circle cx="194.5" cy="216.3" r="1.85" fill="#1d1d66"/>
<circle cx="189.4" cy="216.2" r="1.85" fill="#1d1d66"/>
<circle cx="190.3" cy="228.8" r="1.85" fill="#1d1d66"/>
<circle cx="193.4" cy="226.4" r="1.85" fill="#1d1d66"/>
<circle cx="199.2" cy="216.8" r="1.85" fill="#1d1d66"/>
<circle cx="189.0" cy="217.7" r="1.85" fill="#1d1d66"/>
<circle cx="204.9" cy="224.0" r="1.85" fill="#1d1d66"/>
<circle cx="199.7" cy="217.2" r="1.85" fill="#1d1d66"/>
<circle cx="184.6" cy="221.0" r="1.85" fill="#1d1d66"/>
<circle cx="178.4" cy="224.5" r="1.85" fill="#1d1d66"/>
<circle cx="184.0" cy="219.8" r="1.85" fill="#1d1d66"/>
<circle cx="197.8" cy="221.8" r="1.85" fill="#1d1d66"/>
<circle cx="202.9" cy="224.9" r="1.85" fill="#1d1d66"/>
<circle cx="202.4" cy="224.0" r="1.85" fill="#1d1d66"/>
<circle cx="182.7" cy="226.9" r="1.85" fill="#1d1d66"/>
<circle cx="187.6" cy="227.2" r="1.85" fill="#1d1d66"/>
<circle cx="197.1" cy="228.2" r="1.85" fill="#1d1d66"/>
<circle cx="181.4" cy="221.0" r="1.85" fill="#1d1d66"/>
<circle cx="194.9" cy="216.6" r="1.85" fill="#1d1d66"/>
<circle cx="193.4" cy="227.8" r="1.85" fill="#1d1d66"/>
<circle cx="196.9" cy="219.1" r="1.85" fill="#1d1d66"/>
<circle cx="183.4" cy="222.1" r="1.85" fill="#1d1d66"/>
<circle cx="201.5" cy="224.3" r="1.85" fill="#1d1d66"/>
<circle cx="181.1" cy="227.8" r="1.85" fill="#1d1d66"/>
<circle cx="183.2" cy="223.9" r="1.85" fill="#1d1d66"/>
<circle cx="186.1" cy="226.0" r="1.85" fill="#1d1d66"/>
<circle cx="188.7" cy="217.3" r="1.85" fill="#1d1d66"/>
<circle cx="202.5" cy="223.6" r="1.85" fill="#1d1d66"/>
<circle cx="197.3" cy="227.9" r="1.85" fill="#1d1d66"/>
<circle cx="187.6" cy="217.4" r="1.85" fill="#1d1d66"/>
<circle cx="192.0" cy="229.0" r="1.85" fill="#1d1d66"/>
<circle cx="183.1" cy="228.1" r="1.85" fill="#1d1d66"/>
<circle cx="197.0" cy="221.3" r="1.85" fill="#1d1d66"/>
<circle cx="191.3" cy="217.5" r="1.85" fill="#1d1d66"/>
<circle cx="201.7" cy="221.3" r="1.85" fill="#1d1d66"/>
<circle cx="202.4" cy="224.8" r="1.85" fill="#1d1d66"/>
<circle cx="180.1" cy="220.3" r="1.85" fill="#1d1d66"/>
<circle cx="184.1" cy="229.3" r="1.85" fill="#1d1d66"/>
<circle cx="194.5" cy="215.7" r="1.85" fill="#1d1d66"/>
<circle cx="182.8" cy="220.8" r="1.85" fill="#1d1d66"/>
<circle cx="191.1" cy="224.2" r="1.85" fill="#1d1d66"/>
<circle cx="188.9" cy="220.7" r="1.85" fill="#1d1d66"/>
<circle cx="190.9" cy="230.8" r="1.85" fill="#1d1d66"/>
<circle cx="196.8" cy="219.4" r="1.85" fill="#1d1d66"/>
<circle cx="185.7" cy="223.0" r="1.85" fill="#1d1d66"/>
<circle cx="185.3" cy="224.1" r="1.85" fill="#1d1d66"/>
<circle cx="192.8" cy="230.3" r="1.85" fill="#1d1d66"/>
<circle cx="193.7" cy="227.3" r="1.85" fill="#1d1d66"/>
<circle cx="202.4" cy="227.4" r="1.85" fill="#1d1d66"/>
<circle cx="195.7" cy="225.2" r="1.85" fill="#1d1d66"/>
<circle cx="188.2" cy="219.5" r="1.85" fill="#1d1d66"/>
<circle cx="200.3" cy="229.0" r="1.85" fill="#1d1d66"/>
<circle cx="204.3" cy="225.9" r="1.85" fill="#1d1d66"/>
<circle cx="186.5" cy="227.2" r="1.85" fill="#1d1d66"/>
<circle cx="219.4" cy="210.1" r="1.65" fill="#26267a"/>
<circle cx="217.9" cy="208.5" r="1.65" fill="#26267a"/>
<circle cx="216.7" cy="209.1" r="1.65" fill="#26267a"/>
<circle cx="209.8" cy="208.4" r="1.65" fill="#26267a"/>
<circle cx="215.7" cy="208.7" r="1.65" fill="#26267a"/>
<circle cx="212.4" cy="207.3" r="1.65" fill="#26267a"/>
<circle cx="213.9" cy="206.4" r="1.65" fill="#26267a"/>
<circle cx="215.3" cy="209.5" r="1.65" fill="#26267a"/>
<circle cx="217.0" cy="208.0" r="1.65" fill="#26267a"/>
<circle cx="212.0" cy="214.1" r="1.85" fill="#2c2c84"/>
<circle cx="216.3" cy="216.5" r="1.85" fill="#2c2c84"/>
<circle cx="218.4" cy="214.4" r="1.85" fill="#2c2c84"/>
<circle cx="218.2" cy="216.8" r="1.85" fill="#2c2c84"/>
<circle cx="214.8" cy="220.9" r="1.85" fill="#2c2c84"/>
<circle cx="220.0" cy="229.6" r="1.65" fill="#26267a"/>
<circle cx="180.0" cy="216.5" r="1.65" fill="#111"/>
<circle cx="190.0" cy="216.0" r="1.65" fill="#111"/>
<circle cx="200.0" cy="218.0" r="1.65" fill="#111"/>
<circle cx="185.0" cy="226.0" r="1.65" fill="#111"/>
<circle cx="272.0" cy="212.7" r="1.65" fill="#dde890"/>
<circle cx="274.0" cy="215.3" r="1.65" fill="#dde890"/>
<circle cx="263.9" cy="204.6" r="1.65" fill="#dde890"/>
<circle cx="287.2" cy="198.7" r="1.65" fill="#dde890"/>
<circle cx="266.6" cy="198.5" r="1.65" fill="#dde890"/>
<circle cx="281.7" cy="197.1" r="1.65" fill="#dde890"/>
<circle cx="273.2" cy="196.6" r="1.65" fill="#dde890"/>
<circle cx="278.9" cy="215.2" r="1.65" fill="#dde890"/>
<circle cx="270.4" cy="199.9" r="1.65" fill="#d8b0d8"/>
<circle cx="269.6" cy="197.6" r="1.65" fill="#d8b0d8"/>
<circle cx="273.0" cy="213.5" r="1.65" fill="#d8b0d8"/>
<circle cx="275.8" cy="189.6" r="1.85" fill="#0d0d0d"/>
<circle cx="272.8" cy="194.4" r="1.85" fill="#0d0d0d"/>
<circle cx="286.5" cy="195.7" r="1.85" fill="#0d0d0d"/>
<circle cx="275.5" cy="197.0" r="1.85" fill="#0d0d0d"/>
<circle cx="282.0" cy="192.9" r="1.85" fill="#0d0d0d"/>
<circle cx="282.6" cy="192.1" r="1.85" fill="#0d0d0d"/>
<circle cx="270.1" cy="193.0" r="1.85" fill="#0d0d0d"/>
<circle cx="269.9" cy="195.5" r="1.85" fill="#0d0d0d"/>
<circle cx="275.7" cy="193.9" r="1.85" fill="#0d0d0d"/>
<circle cx="281.0" cy="191.1" r="1.85" fill="#0d0d0d"/>
<circle cx="278.3" cy="188.2" r="1.85" fill="#0d0d0d"/>
<circle cx="287.5" cy="194.8" r="1.85" fill="#0d0d0d"/>
<circle cx="281.3" cy="196.7" r="1.85" fill="#0d0d0d"/>
<circle cx="275.6" cy="189.1" r="1.85" fill="#0d0d0d"/>
<circle cx="272.1" cy="189.7" r="1.85" fill="#0d0d0d"/>
<circle cx="284.3" cy="189.1" r="1.85" fill="#0d0d0d"/>
<circle cx="285.3" cy="193.1" r="1.85" fill="#0d0d0d"/>
<circle cx="279.8" cy="195.1" r="1.85" fill="#0d0d0d"/>
<circle cx="280.1" cy="195.9" r="1.85" fill="#0d0d0d"/>
<circle cx="281.0" cy="192.0" r="1.85" fill="#0d0d0d"/>
<circle cx="283.8" cy="191.1" r="1.85" fill="#0d0d0d"/>
<circle cx="283.2" cy="197.2" r="1.85" fill="#0d0d0d"/>
<circle cx="286.9" cy="201.4" r="1.85" fill="#0d0d0d"/>
<circle cx="275.3" cy="200.7" r="1.85" fill="#0d0d0d"/>
<circle cx="277.8" cy="216.6" r="1.85" fill="#0d0d0d"/>
<circle cx="276.1" cy="209.7" r="1.85" fill="#0d0d0d"/>
<circle cx="286.9" cy="202.7" r="1.85" fill="#0d0d0d"/>
<circle cx="286.2" cy="196.2" r="1.85" fill="#0d0d0d"/>
<circle cx="261.2" cy="206.0" r="1.85" fill="#0d0d0d"/>
<circle cx="279.0" cy="198.4" r="1.85" fill="#0d0d0d"/>
<circle cx="292.8" cy="202.8" r="1.85" fill="#0d0d0d"/>
<circle cx="264.4" cy="198.3" r="1.85" fill="#0d0d0d"/>
<circle cx="285.6" cy="216.1" r="1.85" fill="#0d0d0d"/>
<circle cx="287.0" cy="199.8" r="1.85" fill="#0d0d0d"/>
<circle cx="294.4" cy="206.0" r="1.85" fill="#0d0d0d"/>
<circle cx="281.9" cy="202.3" r="1.85" fill="#0d0d0d"/>
<circle cx="287.8" cy="205.0" r="1.85" fill="#0d0d0d"/>
<circle cx="270.7" cy="215.7" r="1.85" fill="#0d0d0d"/>
<circle cx="262.9" cy="211.6" r="1.85" fill="#0d0d0d"/>
<circle cx="261.4" cy="209.5" r="1.85" fill="#0d0d0d"/>
<circle cx="273.5" cy="214.7" r="1.85" fill="#0d0d0d"/>
<circle cx="261.2" cy="207.5" r="1.85" fill="#0d0d0d"/>
<circle cx="273.8" cy="216.1" r="1.85" fill="#0d0d0d"/>
<circle cx="293.0" cy="209.1" r="1.85" fill="#0d0d0d"/>
<circle cx="267.1" cy="200.0" r="1.85" fill="#0d0d0d"/>
<circle cx="268.4" cy="204.4" r="1.85" fill="#0d0d0d"/>
<circle cx="267.3" cy="198.9" r="1.85" fill="#0d0d0d"/>
<circle cx="286.3" cy="209.4" r="1.85" fill="#0d0d0d"/>
<circle cx="266.8" cy="207.7" r="1.85" fill="#0d0d0d"/>
<circle cx="264.6" cy="214.7" r="1.85" fill="#0d0d0d"/>
<circle cx="290.3" cy="200.4" r="1.85" fill="#0d0d0d"/>
<circle cx="286.1" cy="213.7" r="1.85" fill="#0d0d0d"/>
<circle cx="269.2" cy="202.0" r="1.85" fill="#0d0d0d"/>
<circle cx="276.5" cy="215.4" r="1.85" fill="#0d0d0d"/>
<circle cx="264.8" cy="210.4" r="1.85" fill="#0d0d0d"/>
<circle cx="280.5" cy="204.9" r="1.85" fill="#0d0d0d"/>
<circle cx="279.9" cy="215.2" r="1.85" fill="#0d0d0d"/>
<circle cx="266.6" cy="215.2" r="1.85" fill="#0d0d0d"/>
<circle cx="272.0" cy="212.7" r="1.85" fill="#0d0d0d"/>
<circle cx="290.1" cy="198.4" r="1.85" fill="#0d0d0d"/>
<circle cx="264.4" cy="211.7" r="1.85" fill="#0d0d0d"/>
<circle cx="283.6" cy="196.2" r="1.85" fill="#0d0d0d"/>
<circle cx="271.2" cy="216.0" r="1.85" fill="#0d0d0d"/>
<circle cx="284.8" cy="215.2" r="1.85" fill="#0d0d0d"/>
<circle cx="267.4" cy="213.0" r="1.85" fill="#0d0d0d"/>
<circle cx="283.8" cy="194.9" r="1.85" fill="#0d0d0d"/>
<circle cx="277.2" cy="199.6" r="1.85" fill="#0d0d0d"/>
<circle cx="274.5" cy="196.5" r="1.85" fill="#0d0d0d"/>
<circle cx="270.4" cy="215.1" r="1.85" fill="#0d0d0d"/>
<circle cx="263.3" cy="205.7" r="1.85" fill="#0d0d0d"/>
<circle cx="263.9" cy="204.3" r="1.85" fill="#0d0d0d"/>
<circle cx="265.4" cy="210.4" r="1.85" fill="#0d0d0d"/>
<circle cx="264.3" cy="211.7" r="1.85" fill="#0d0d0d"/>
<circle cx="277.0" cy="196.7" r="1.85" fill="#0d0d0d"/>
<circle cx="271.7" cy="205.9" r="1.85" fill="#0d0d0d"/>
<circle cx="292.1" cy="202.4" r="1.85" fill="#0d0d0d"/>
<circle cx="290.8" cy="211.6" r="1.85" fill="#0d0d0d"/>
<circle cx="268.8" cy="198.3" r="1.85" fill="#0d0d0d"/>
<circle cx="268.5" cy="195.7" r="1.85" fill="#0d0d0d"/>
<circle cx="260.6" cy="206.2" r="1.85" fill="#0d0d0d"/>
<circle cx="273.7" cy="207.4" r="1.85" fill="#0d0d0d"/>
<circle cx="283.8" cy="209.7" r="1.85" fill="#0d0d0d"/>
<circle cx="278.6" cy="207.2" r="1.85" fill="#0d0d0d"/>
<circle cx="290.5" cy="211.2" r="1.85" fill="#0d0d0d"/>
<circle cx="273.4" cy="201.6" r="1.85" fill="#0d0d0d"/>
<circle cx="274.1" cy="217.4" r="1.85" fill="#0d0d0d"/>
<circle cx="272.9" cy="203.2" r="1.85" fill="#0d0d0d"/>
<circle cx="273.8" cy="197.4" r="1.85" fill="#0d0d0d"/>
<circle cx="280.9" cy="216.2" r="1.85" fill="#0d0d0d"/>
<circle cx="268.2" cy="208.7" r="1.85" fill="#0d0d0d"/>
<circle cx="272.6" cy="199.8" r="1.85" fill="#0d0d0d"/>
<circle cx="266.1" cy="196.8" r="1.85" fill="#0d0d0d"/>
<circle cx="292.2" cy="215.0" r="1.85" fill="#0d0d0d"/>
<circle cx="289.5" cy="208.5" r="1.85" fill="#0d0d0d"/>
<circle cx="288.6" cy="211.7" r="1.85" fill="#0d0d0d"/>
<circle cx="292.4" cy="211.1" r="1.85" fill="#0d0d0d"/>
<circle cx="281.2" cy="212.8" r="1.85" fill="#0d0d0d"/>
<circle cx="290.4" cy="209.3" r="1.85" fill="#0d0d0d"/>
<circle cx="289.8" cy="209.5" r="1.85" fill="#0d0d0d"/>
<circle cx="286.5" cy="212.6" r="1.85" fill="#0d0d0d"/>
<circle cx="289.2" cy="208.5" r="1.85" fill="#0d0d0d"/>
<circle cx="288.3" cy="211.6" r="1.85" fill="#0d0d0d"/>
<circle cx="281.0" cy="212.6" r="1.85" fill="#0d0d0d"/>
<circle cx="281.8" cy="216.7" r="1.85" fill="#0d0d0d"/>
<circle cx="285.5" cy="214.1" r="1.85" fill="#0d0d0d"/>
<circle cx="286.4" cy="210.7" r="1.85" fill="#0d0d0d"/>
<circle cx="281.0" cy="206.0" r="1.85" fill="#0d0d0d"/>
<circle cx="293.7" cy="211.4" r="1.85" fill="#0d0d0d"/>
<circle cx="286.4" cy="211.4" r="1.85" fill="#0d0d0d"/>
<circle cx="291.6" cy="207.3" r="1.85" fill="#0d0d0d"/>
<circle cx="280.1" cy="215.5" r="1.85" fill="#0d0d0d"/>
<circle cx="285.3" cy="213.0" r="1.85" fill="#0d0d0d"/>
<circle cx="283.9" cy="215.6" r="1.85" fill="#0d0d0d"/>
<circle cx="291.7" cy="205.7" r="1.85" fill="#0d0d0d"/>
<circle cx="253.8" cy="212.5" r="1.85" fill="#0d0d0d"/>
<circle cx="253.2" cy="214.0" r="1.85" fill="#0d0d0d"/>
<circle cx="261.6" cy="216.3" r="1.85" fill="#0d0d0d"/>
<circle cx="257.4" cy="210.2" r="1.85" fill="#0d0d0d"/>
<circle cx="260.3" cy="215.3" r="1.85" fill="#0d0d0d"/>
<circle cx="257.7" cy="220.2" r="1.85" fill="#0d0d0d"/>
<circle cx="261.1" cy="211.1" r="1.85" fill="#0d0d0d"/>
<circle cx="260.2" cy="214.1" r="1.85" fill="#0d0d0d"/>
<circle cx="258.2" cy="212.3" r="1.85" fill="#0d0d0d"/>
<circle cx="256.4" cy="213.8" r="1.85" fill="#0d0d0d"/>
<circle cx="256.6" cy="209.2" r="1.85" fill="#0d0d0d"/>
<circle cx="254.4" cy="217.0" r="1.85" fill="#0d0d0d"/>
<circle cx="258.5" cy="180.4" r="1.85" fill="#0d0d0d"/>
<circle cx="250.7" cy="184.2" r="1.85" fill="#0d0d0d"/>
<circle cx="258.8" cy="184.8" r="1.85" fill="#0d0d0d"/>
<circle cx="249.0" cy="186.6" r="1.85" fill="#0d0d0d"/>
<circle cx="261.1" cy="181.7" r="1.85" fill="#0d0d0d"/>
<circle cx="251.0" cy="182.5" r="1.85" fill="#0d0d0d"/>
<circle cx="253.4" cy="183.8" r="1.85" fill="#0d0d0d"/>
<circle cx="258.5" cy="180.5" r="1.85" fill="#0d0d0d"/>
<circle cx="253.7" cy="185.9" r="1.85" fill="#0d0d0d"/>
<circle cx="260.6" cy="179.9" r="1.85" fill="#0d0d0d"/>
<circle cx="253.0" cy="185.7" r="1.85" fill="#0d0d0d"/>
<circle cx="253.1" cy="186.3" r="1.85" fill="#0d0d0d"/>
<circle cx="250.3" cy="183.1" r="1.85" fill="#0d0d0d"/>
<circle cx="259.6" cy="180.6" r="1.85" fill="#0d0d0d"/>
<circle cx="255.5" cy="183.7" r="1.85" fill="#0d0d0d"/>
<circle cx="263.6" cy="181.4" r="1.85" fill="#0d0d0d"/>
<circle cx="259.0" cy="196.0" r="1.65" fill="#0d0d0d"/>
<circle cx="262.0" cy="201.0" r="1.65" fill="#0d0d0d"/>
<circle cx="256.0" cy="202.0" r="1.65" fill="#0d0d0d"/>
<circle cx="245.0" cy="189.0" r="1.65" fill="#0d0d0d"/>
<circle cx="279.7" cy="235.3" r="1.85" fill="#0d0d0d"/>
<circle cx="292.0" cy="233.5" r="1.85" fill="#0d0d0d"/>
<circle cx="302.5" cy="232.8" r="1.85" fill="#0d0d0d"/>
<circle cx="292.3" cy="239.5" r="1.85" fill="#0d0d0d"/>
<circle cx="291.3" cy="233.9" r="1.85" fill="#0d0d0d"/>
<circle cx="293.3" cy="238.5" r="1.85" fill="#0d0d0d"/>
<circle cx="297.8" cy="237.4" r="1.85" fill="#0d0d0d"/>
<circle cx="290.2" cy="227.6" r="1.85" fill="#0d0d0d"/>
<circle cx="298.0" cy="234.8" r="1.85" fill="#0d0d0d"/>
<circle cx="300.5" cy="237.8" r="1.85" fill="#0d0d0d"/>
<circle cx="282.3" cy="230.1" r="1.85" fill="#0d0d0d"/>
<circle cx="300.1" cy="234.9" r="1.85" fill="#0d0d0d"/>
<circle cx="280.5" cy="236.5" r="1.85" fill="#0d0d0d"/>
<circle cx="298.9" cy="233.8" r="1.85" fill="#0d0d0d"/>
<circle cx="280.5" cy="236.7" r="1.85" fill="#0d0d0d"/>
<circle cx="290.7" cy="235.2" r="1.85" fill="#0d0d0d"/>
<circle cx="288.4" cy="234.3" r="1.85" fill="#0d0d0d"/>
<circle cx="286.7" cy="230.7" r="1.85" fill="#0d0d0d"/>
<circle cx="287.8" cy="230.6" r="1.85" fill="#0d0d0d"/>
<circle cx="303.0" cy="234.8" r="1.85" fill="#0d0d0d"/>
<circle cx="293.3" cy="232.9" r="1.85" fill="#0d0d0d"/>
<circle cx="280.4" cy="231.3" r="1.85" fill="#0d0d0d"/>
<circle cx="303.3" cy="238.2" r="1.85" fill="#0d0d0d"/>
<circle cx="303.0" cy="230.6" r="1.85" fill="#0d0d0d"/>
<circle cx="294.0" cy="232.2" r="1.85" fill="#0d0d0d"/>
<circle cx="292.0" cy="233.8" r="1.85" fill="#0d0d0d"/>
<circle cx="295.3" cy="232.1" r="1.85" fill="#0d0d0d"/>
<circle cx="301.4" cy="229.8" r="1.85" fill="#0d0d0d"/>
<circle cx="304.7" cy="234.8" r="1.85" fill="#0d0d0d"/>
<circle cx="280.4" cy="231.4" r="1.85" fill="#0d0d0d"/>
<circle cx="293.9" cy="232.7" r="1.85" fill="#0d0d0d"/>
<circle cx="294.8" cy="231.5" r="1.85" fill="#0d0d0d"/>
<circle cx="286.7" cy="238.1" r="1.85" fill="#0d0d0d"/>
<circle cx="287.2" cy="236.9" r="1.85" fill="#0d0d0d"/>
<circle cx="301.5" cy="235.3" r="1.85" fill="#0d0d0d"/>
<circle cx="291.7" cy="240.1" r="1.85" fill="#0d0d0d"/>
<circle cx="291.5" cy="239.3" r="1.85" fill="#0d0d0d"/>
<circle cx="280.6" cy="233.1" r="1.85" fill="#0d0d0d"/>
<circle cx="296.9" cy="227.7" r="1.85" fill="#0d0d0d"/>
<circle cx="295.7" cy="229.5" r="1.85" fill="#0d0d0d"/>
<circle cx="304.8" cy="234.9" r="1.85" fill="#0d0d0d"/>
<circle cx="301.4" cy="234.0" r="1.85" fill="#0d0d0d"/>
<circle cx="297.9" cy="236.4" r="1.85" fill="#0d0d0d"/>
<circle cx="287.3" cy="230.0" r="1.85" fill="#0d0d0d"/>
<circle cx="302.5" cy="229.0" r="1.85" fill="#0d0d0d"/>
<circle cx="290.6" cy="236.2" r="1.85" fill="#0d0d0d"/>
<circle cx="286.2" cy="239.7" r="1.85" fill="#0d0d0d"/>
<circle cx="298.2" cy="229.2" r="1.85" fill="#0d0d0d"/>
<circle cx="280.6" cy="236.7" r="1.85" fill="#0d0d0d"/>
<circle cx="287.2" cy="230.3" r="1.85" fill="#0d0d0d"/>
<circle cx="295.3" cy="231.5" r="1.85" fill="#0d0d0d"/>
<circle cx="294.7" cy="229.2" r="1.85" fill="#0d0d0d"/>
<circle cx="304.5" cy="231.5" r="1.85" fill="#0d0d0d"/>
<circle cx="302.6" cy="229.1" r="1.85" fill="#0d0d0d"/>
<circle cx="290.0" cy="227.5" r="1.85" fill="#0d0d0d"/>
<circle cx="278.3" cy="226.8" r="1.85" fill="#0d0d0d"/>
<circle cx="276.1" cy="226.3" r="1.85" fill="#0d0d0d"/>
<circle cx="274.3" cy="225.8" r="1.85" fill="#0d0d0d"/>
<circle cx="283.2" cy="225.6" r="1.85" fill="#0d0d0d"/>
<circle cx="282.5" cy="223.7" r="1.85" fill="#0d0d0d"/>
<circle cx="286.2" cy="226.2" r="1.85" fill="#0d0d0d"/>
<circle cx="277.1" cy="225.1" r="1.85" fill="#0d0d0d"/>
<circle cx="283.5" cy="226.0" r="1.85" fill="#0d0d0d"/>
<circle cx="279.8" cy="228.2" r="1.85" fill="#0d0d0d"/>
<circle cx="281.4" cy="226.2" r="1.85" fill="#0d0d0d"/>
<circle cx="265.0" cy="232.0" r="1.65" fill="#0d0d0d"/>
<circle cx="270.0" cy="192.0" r="1.65" fill="#e2e430"/>
<circle cx="283.0" cy="200.0" r="1.65" fill="#dde890"/>
<circle cx="262.0" cy="218.0" r="1.65" fill="#dde890"/>
<circle cx="291.0" cy="222.0" r="1.65" fill="#dde890"/>
<circle cx="277.5" cy="238.7" r="1.65" fill="#7a3a24"/>
<circle cx="291.3" cy="230.7" r="1.65" fill="#7a3a24"/>
<circle cx="285.4" cy="239.6" r="1.65" fill="#7a3a24"/>
<circle cx="303.4" cy="231.7" r="1.65" fill="#e4a0c8"/>
<circle cx="306.6" cy="226.3" r="1.65" fill="#e4a0c8"/>
<circle cx="303.3" cy="228.7" r="1.65" fill="#e4a0c8"/>
<circle cx="302.5" cy="230.5" r="1.65" fill="#e4a0c8"/>
<circle cx="301.3" cy="101.7" r="1.65" fill="#3b8068"/>
<circle cx="304.2" cy="97.4" r="1.65" fill="#3b8068"/>
<circle cx="310.4" cy="97.6" r="1.65" fill="#3b8068"/>
<circle cx="310.2" cy="101.7" r="1.65" fill="#3b8068"/>
<circle cx="311.3" cy="99.8" r="1.65" fill="#3b8068"/>
<circle cx="297.8" cy="100.1" r="1.65" fill="#3b8068"/>
<circle cx="299.3" cy="100.9" r="1.65" fill="#3b8068"/>
<circle cx="300.2" cy="100.5" r="1.65" fill="#3b8068"/>
<circle cx="305.5" cy="99.2" r="1.65" fill="#3b8068"/>
<circle cx="312.9" cy="98.0" r="1.65" fill="#3b8068"/>
<circle cx="305.0" cy="102.1" r="1.65" fill="#3b8068"/>
<circle cx="318.0" cy="99.9" r="1.65" fill="#3b8068"/>
<circle cx="308.9" cy="100.2" r="1.65" fill="#3b8068"/>
<circle cx="299.8" cy="99.8" r="1.65" fill="#3b8068"/>
<circle cx="300.9" cy="100.2" r="1.65" fill="#3b8068"/>
<circle cx="309.2" cy="99.2" r="1.65" fill="#3b8068"/>
<circle cx="295.5" cy="110.0" r="1.65" fill="#3b8068"/>
<circle cx="295.7" cy="107.3" r="1.65" fill="#3b8068"/>
<circle cx="297.1" cy="114.7" r="1.65" fill="#3b8068"/>
<circle cx="307.1" cy="114.9" r="1.65" fill="#3b8068"/>
<circle cx="306.6" cy="113.9" r="1.65" fill="#3b8068"/>
<circle cx="309.7" cy="112.9" r="1.65" fill="#3b8068"/>
<circle cx="296.7" cy="113.5" r="1.65" fill="#3b8068"/>
<circle cx="293.8" cy="108.6" r="1.65" fill="#3b8068"/>
<circle cx="289.2" cy="109.9" r="1.65" fill="#3b8068"/>
<circle cx="307.7" cy="108.9" r="1.65" fill="#3b8068"/>
<circle cx="310.0" cy="108.3" r="1.65" fill="#3b8068"/>
<circle cx="310.6" cy="113.8" r="1.65" fill="#3b8068"/>
<circle cx="315.0" cy="106.6" r="1.65" fill="#3b8068"/>
<circle cx="297.3" cy="112.0" r="1.65" fill="#3b8068"/>
<circle cx="311.5" cy="112.9" r="1.65" fill="#3b8068"/>
<circle cx="319.0" cy="109.4" r="1.65" fill="#3b8068"/>
<circle cx="318.8" cy="110.6" r="1.65" fill="#3b8068"/>
<circle cx="323.7" cy="110.1" r="1.65" fill="#3b8068"/>
<circle cx="303.5" cy="106.9" r="1.65" fill="#3b8068"/>
<circle cx="297.3" cy="113.3" r="1.65" fill="#3b8068"/>
<circle cx="313.8" cy="107.5" r="1.65" fill="#3b8068"/>
<circle cx="301.1" cy="107.4" r="1.65" fill="#3b8068"/>
<circle cx="295.5" cy="108.2" r="1.65" fill="#3b8068"/>
<circle cx="306.2" cy="111.0" r="1.65" fill="#3b8068"/>
<circle cx="317.6" cy="115.1" r="1.65" fill="#3b8068"/>
<circle cx="316.6" cy="112.4" r="1.65" fill="#3b8068"/>
<circle cx="295.6" cy="112.3" r="1.65" fill="#3b8068"/>
<circle cx="320.1" cy="113.9" r="1.65" fill="#3b8068"/>
<circle cx="291.5" cy="113.2" r="1.65" fill="#3b8068"/>
<circle cx="301.3" cy="107.6" r="1.65" fill="#3b8068"/>
<circle cx="324.7" cy="112.7" r="1.65" fill="#3b8068"/>
<circle cx="316.3" cy="107.3" r="1.65" fill="#3b8068"/>
<circle cx="322.4" cy="113.4" r="1.65" fill="#3b8068"/>
<circle cx="319.6" cy="114.0" r="1.65" fill="#3b8068"/>
<circle cx="310.4" cy="110.4" r="1.65" fill="#3b8068"/>
<circle cx="319.4" cy="113.8" r="1.65" fill="#3b8068"/>
<circle cx="321.1" cy="109.0" r="1.65" fill="#3b8068"/>
<circle cx="324.5" cy="111.3" r="1.65" fill="#3b8068"/>
<circle cx="297.6" cy="114.4" r="1.65" fill="#3b8068"/>
<circle cx="296.8" cy="108.0" r="1.65" fill="#3b8068"/>
<circle cx="305.4" cy="108.4" r="1.65" fill="#3b8068"/>
<circle cx="306.7" cy="115.1" r="1.65" fill="#3b8068"/>
<circle cx="314.0" cy="113.1" r="1.65" fill="#3b8068"/>
<circle cx="302.9" cy="113.8" r="1.65" fill="#3b8068"/>
<circle cx="318.2" cy="112.8" r="1.65" fill="#3b8068"/>
<circle cx="303.4" cy="106.9" r="1.65" fill="#3b8068"/>
<circle cx="312.8" cy="114.4" r="1.65" fill="#3b8068"/>
<circle cx="300.9" cy="111.9" r="1.65" fill="#3b8068"/>
<circle cx="297.5" cy="100.6" r="1.65" fill="#e2e430"/>
<circle cx="290.8" cy="119.8" r="1.65" fill="#3b8068"/>
<circle cx="289.0" cy="129.0" r="1.65" fill="#3b8068"/>
<circle cx="302.4" cy="129.7" r="1.65" fill="#8a1424"/>
<circle cx="294.0" cy="128.5" r="1.65" fill="#8a1424"/>
<circle cx="302.1" cy="128.2" r="1.65" fill="#8a1424"/>
<circle cx="300.0" cy="128.3" r="1.65" fill="#8a1424"/>
<circle cx="297.4" cy="127.4" r="1.65" fill="#8a1424"/>
<circle cx="297.5" cy="129.9" r="1.65" fill="#8a1424"/>
<circle cx="300.2" cy="127.7" r="1.65" fill="#8a1424"/>
<circle cx="366.5" cy="149.1" r="1.65" fill="#8a1424"/>
<circle cx="370.2" cy="149.5" r="1.65" fill="#8a1424"/>
<circle cx="318.9" cy="145.1" r="1.65" fill="#d0661c"/>
<circle cx="305.9" cy="143.8" r="1.65" fill="#d0661c"/>
<circle cx="307.4" cy="139.7" r="1.65" fill="#d0661c"/>
<circle cx="326.0" cy="140.6" r="1.65" fill="#d0661c"/>
<circle cx="308.4" cy="145.9" r="1.65" fill="#d0661c"/>
<circle cx="317.6" cy="145.9" r="1.65" fill="#d0661c"/>
<circle cx="312.5" cy="142.0" r="1.65" fill="#d0661c"/>
<circle cx="325.9" cy="142.1" r="1.65" fill="#d0661c"/>
<circle cx="322.9" cy="138.6" r="1.65" fill="#d0661c"/>
<circle cx="313.9" cy="145.1" r="1.65" fill="#d0661c"/>
<circle cx="309.0" cy="140.5" r="1.65" fill="#d0661c"/>
<circle cx="305.4" cy="142.5" r="1.65" fill="#d0661c"/>
<circle cx="323.7" cy="142.1" r="1.65" fill="#d0661c"/>
<circle cx="312.0" cy="146.3" r="1.65" fill="#d0661c"/>
<circle cx="324.5" cy="143.7" r="1.65" fill="#d0661c"/>
<circle cx="304.8" cy="143.2" r="1.65" fill="#d0661c"/>
<circle cx="313.7" cy="146.6" r="1.65" fill="#d0661c"/>
<circle cx="311.7" cy="143.6" r="1.65" fill="#d0661c"/>
<circle cx="318.2" cy="140.8" r="1.65" fill="#d0661c"/>
<circle cx="315.5" cy="143.8" r="1.65" fill="#d0661c"/>
<circle cx="324.8" cy="142.0" r="1.65" fill="#d0661c"/>
<circle cx="311.7" cy="146.8" r="1.65" fill="#d0661c"/>
<circle cx="319.4" cy="142.6" r="1.65" fill="#d0661c"/>
<circle cx="313.7" cy="144.5" r="1.65" fill="#d0661c"/>
<circle cx="324.4" cy="144.3" r="1.65" fill="#d0661c"/>
<circle cx="310.8" cy="138.4" r="1.65" fill="#d0661c"/>
<circle cx="327.0" cy="148.7" r="1.65" fill="#d0661c"/>
<circle cx="339.1" cy="144.4" r="1.65" fill="#d0661c"/>
<circle cx="334.0" cy="150.0" r="1.65" fill="#d0661c"/>
<circle cx="341.0" cy="146.2" r="1.65" fill="#d0661c"/>
<circle cx="344.3" cy="146.3" r="1.65" fill="#d0661c"/>
<circle cx="338.2" cy="147.4" r="1.65" fill="#d0661c"/>
<circle cx="345.5" cy="149.4" r="1.65" fill="#d0661c"/>
<circle cx="333.7" cy="151.7" r="1.65" fill="#d0661c"/>
<circle cx="342.9" cy="149.5" r="1.65" fill="#d0661c"/>
<circle cx="330.8" cy="145.3" r="1.65" fill="#d0661c"/>
<circle cx="339.1" cy="150.6" r="1.65" fill="#d0661c"/>
<circle cx="345.2" cy="146.8" r="1.65" fill="#d0661c"/>
<circle cx="326.9" cy="148.1" r="1.65" fill="#d0661c"/>
<circle cx="343.7" cy="145.4" r="1.65" fill="#d0661c"/>
<circle cx="331.7" cy="144.4" r="1.65" fill="#d0661c"/>
<circle cx="331.3" cy="147.1" r="1.65" fill="#d0661c"/>
<circle cx="328.2" cy="146.5" r="1.65" fill="#d0661c"/>
<circle cx="332.0" cy="147.5" r="1.65" fill="#d0661c"/>
<circle cx="326.0" cy="146.1" r="1.65" fill="#d0661c"/>
<circle cx="334.0" cy="147.1" r="1.65" fill="#d0661c"/>
<circle cx="335.6" cy="150.7" r="1.65" fill="#d0661c"/>
<circle cx="340.8" cy="150.2" r="1.65" fill="#d0661c"/>
<circle cx="331.8" cy="145.2" r="1.65" fill="#d0661c"/>
<circle cx="344.2" cy="147.8" r="1.65" fill="#d0661c"/>
<circle cx="338.6" cy="149.4" r="1.65" fill="#d0661c"/>
<circle cx="344.1" cy="146.2" r="1.65" fill="#d0661c"/>
<circle cx="339.7" cy="145.8" r="1.65" fill="#d0661c"/>
<circle cx="343.7" cy="137.0" r="1.65" fill="#d0661c"/>
<circle cx="346.1" cy="136.6" r="1.65" fill="#d0661c"/>
<circle cx="350.8" cy="140.9" r="1.65" fill="#d0661c"/>
<circle cx="339.5" cy="146.2" r="1.65" fill="#d0661c"/>
<circle cx="337.4" cy="136.4" r="1.65" fill="#d0661c"/>
<circle cx="332.7" cy="140.7" r="1.65" fill="#d0661c"/>
<circle cx="349.1" cy="142.5" r="1.65" fill="#d0661c"/>
<circle cx="325.6" cy="157.5" r="1.65" fill="#d0661c"/>
<circle cx="310.6" cy="153.5" r="1.65" fill="#d0661c"/>
<circle cx="337.2" cy="158.7" r="1.65" fill="#d0661c"/>
<circle cx="336.7" cy="156.5" r="1.65" fill="#d0661c"/>
<circle cx="343.7" cy="154.2" r="1.65" fill="#d0661c"/>
<circle cx="322.1" cy="154.1" r="1.65" fill="#d0661c"/>
<circle cx="314.4" cy="148.8" r="1.65" fill="#d0661c"/>
<circle cx="309.5" cy="153.0" r="1.65" fill="#d0661c"/>
<circle cx="312.3" cy="150.2" r="1.65" fill="#d0661c"/>
<circle cx="313.4" cy="153.2" r="1.65" fill="#d0661c"/>
<circle cx="309.1" cy="148.7" r="1.65" fill="#d0661c"/>
<circle cx="319.6" cy="131.3" r="1.65" fill="#111"/>
<circle cx="314.0" cy="127.0" r="1.65" fill="#111"/>
<circle cx="396.2" cy="138.6" r="1.65" fill="#6c8c22"/>
<circle cx="404.0" cy="143.0" r="1.65" fill="#6c8c22"/>
<circle cx="407.0" cy="140.3" r="1.65" fill="#6c8c22"/>
<circle cx="402.3" cy="140.2" r="1.65" fill="#6c8c22"/>
<circle cx="399.9" cy="142.9" r="1.65" fill="#6c8c22"/>
<circle cx="409.2" cy="142.9" r="1.65" fill="#6c8c22"/>
<circle cx="397.7" cy="141.2" r="1.65" fill="#6c8c22"/>
<circle cx="408.6" cy="139.5" r="1.65" fill="#6c8c22"/>
<circle cx="408.4" cy="142.7" r="1.65" fill="#6c8c22"/>
<circle cx="406.7" cy="143.3" r="1.65" fill="#6c8c22"/>
<circle cx="397.4" cy="141.5" r="1.65" fill="#6c8c22"/>
<circle cx="407.7" cy="140.6" r="1.65" fill="#6c8c22"/>
<circle cx="400.0" cy="135.2" r="1.65" fill="#6c8c22"/>
<circle cx="405.9" cy="142.7" r="1.65" fill="#6c8c22"/>
<circle cx="399.9" cy="136.6" r="1.65" fill="#6c8c22"/>
<circle cx="399.0" cy="135.4" r="1.65" fill="#6c8c22"/>
<circle cx="409.4" cy="138.1" r="1.65" fill="#6c8c22"/>
<circle cx="407.6" cy="135.2" r="1.65" fill="#6c8c22"/>
<circle cx="410.1" cy="137.8" r="1.65" fill="#6c8c22"/>
<circle cx="397.5" cy="137.3" r="1.65" fill="#6c8c22"/>
<circle cx="396.1" cy="139.0" r="1.65" fill="#6c8c22"/>
<circle cx="405.0" cy="142.6" r="1.65" fill="#6c8c22"/>
<circle cx="397.0" cy="136.7" r="1.65" fill="#6c8c22"/>
<circle cx="406.3" cy="137.9" r="1.65" fill="#6c8c22"/>
<circle cx="404.3" cy="145.5" r="1.65" fill="#6c8c22"/>
<circle cx="403.2" cy="147.3" r="1.65" fill="#6c8c22"/>
<circle cx="403.1" cy="147.7" r="1.65" fill="#6c8c22"/>
<circle cx="409.1" cy="145.3" r="1.65" fill="#6c8c22"/>
<circle cx="401.3" cy="145.0" r="1.65" fill="#6c8c22"/>
<circle cx="405.2" cy="141.5" r="1.65" fill="#6c8c22"/>
<circle cx="408.0" cy="149.0" r="1.65" fill="#6c8c22"/>
<circle cx="379.8" cy="145.3" r="1.65" fill="#1c5232"/>
<circle cx="379.2" cy="143.4" r="1.65" fill="#1c5232"/>
<circle cx="378.2" cy="144.5" r="1.65" fill="#1c5232"/>
<circle cx="374.2" cy="146.2" r="1.65" fill="#1c5232"/>
<circle cx="384.5" cy="143.0" r="1.65" fill="#1c5232"/>
<circle cx="377.7" cy="141.8" r="1.65" fill="#1c5232"/>
<circle cx="377.4" cy="145.1" r="1.65" fill="#1c5232"/>
<circle cx="380.9" cy="143.7" r="1.65" fill="#1c5232"/>
<circle cx="375.8" cy="142.1" r="1.65" fill="#1c5232"/>
<circle cx="385.7" cy="145.7" r="1.65" fill="#e8e830"/>
<circle cx="360.6" cy="133.1" r="1.65" fill="#8c8472"/>
<circle cx="357.7" cy="134.9" r="1.65" fill="#8c8472"/>
<circle cx="362.2" cy="133.8" r="1.65" fill="#8c8472"/>
<circle cx="357.8" cy="134.8" r="1.65" fill="#8c8472"/>
<circle cx="357.8" cy="133.1" r="1.65" fill="#8c8472"/>
<circle cx="362.8" cy="134.8" r="1.65" fill="#8c8472"/>
<circle cx="365.1" cy="134.9" r="1.65" fill="#8c8472"/>
<circle cx="347.5" cy="135.2" r="1.65" fill="#968c80"/>
<circle cx="356.0" cy="133.3" r="1.65" fill="#968c80"/>
<circle cx="442.0" cy="163.3" r="1.65" fill="#3ea8e4"/>
<circle cx="433.7" cy="160.6" r="1.65" fill="#3ea8e4"/>
<circle cx="431.9" cy="163.3" r="1.65" fill="#3ea8e4"/>
<circle cx="435.4" cy="166.0" r="1.65" fill="#3ea8e4"/>
<circle cx="443.5" cy="161.6" r="1.65" fill="#3ea8e4"/>
<circle cx="431.8" cy="164.8" r="1.65" fill="#3ea8e4"/>
<circle cx="437.5" cy="166.9" r="1.65" fill="#3ea8e4"/>
<circle cx="437.6" cy="165.2" r="1.65" fill="#3ea8e4"/>
<circle cx="439.1" cy="162.1" r="1.65" fill="#3ea8e4"/>
<circle cx="432.8" cy="159.5" r="1.65" fill="#3ea8e4"/>
<circle cx="441.8" cy="166.5" r="1.65" fill="#3ea8e4"/>
<circle cx="446.6" cy="161.4" r="1.65" fill="#3ea8e4"/>
<circle cx="442.2" cy="160.8" r="1.65" fill="#3ea8e4"/>
<circle cx="443.6" cy="165.4" r="1.65" fill="#3ea8e4"/>
<circle cx="432.9" cy="162.9" r="1.65" fill="#3ea8e4"/>
<circle cx="443.9" cy="164.9" r="1.65" fill="#3ea8e4"/>
<circle cx="437.3" cy="157.4" r="1.65" fill="#3ea8e4"/>
<circle cx="445.0" cy="162.3" r="1.65" fill="#3ea8e4"/>
<circle cx="430.3" cy="160.2" r="1.65" fill="#3ea8e4"/>
<circle cx="440.2" cy="165.9" r="1.65" fill="#3ea8e4"/>
<circle cx="448.0" cy="165.0" r="1.65" fill="#3ea8e4"/>
<circle cx="432.0" cy="170.0" r="1.65" fill="#3ea8e4"/>
<circle cx="326.4" cy="209.0" r="1.65" fill="#7a3a24"/>
<circle cx="315.2" cy="203.4" r="1.65" fill="#7a3a24"/>
<circle cx="343.2" cy="205.4" r="1.65" fill="#7a3a24"/>
<circle cx="311.2" cy="208.3" r="1.65" fill="#7a3a24"/>
<circle cx="312.0" cy="202.8" r="1.65" fill="#7a3a24"/>
<circle cx="325.3" cy="208.2" r="1.65" fill="#7a3a24"/>
<circle cx="332.5" cy="209.9" r="1.65" fill="#7a3a24"/>
<circle cx="324.6" cy="200.9" r="1.65" fill="#7a3a24"/>
<circle cx="336.0" cy="200.8" r="1.65" fill="#7a3a24"/>
<circle cx="325.8" cy="205.6" r="1.65" fill="#7a3a24"/>
<circle cx="333.9" cy="210.0" r="1.65" fill="#7a3a24"/>
<circle cx="316.6" cy="209.1" r="1.65" fill="#7a3a24"/>
<circle cx="334.7" cy="206.6" r="1.65" fill="#7a3a24"/>
<circle cx="331.0" cy="200.9" r="1.65" fill="#7a3a24"/>
<circle cx="316.1" cy="205.5" r="1.65" fill="#7a3a24"/>
<circle cx="338.5" cy="211.5" r="1.65" fill="#7a3a24"/>
<circle cx="332.4" cy="210.4" r="1.65" fill="#7a3a24"/>
<circle cx="315.8" cy="209.4" r="1.65" fill="#7a3a24"/>
<circle cx="344.2" cy="208.9" r="1.65" fill="#7a3a24"/>
<circle cx="343.8" cy="203.7" r="1.65" fill="#7a3a24"/>
<circle cx="326.2" cy="200.2" r="1.65" fill="#c04040"/>
<circle cx="312.5" cy="208.7" r="1.65" fill="#c04040"/>
<circle cx="311.9" cy="205.1" r="1.65" fill="#c04040"/>
<circle cx="398.8" cy="196.0" r="1.65" fill="#5a2a1a"/>
<circle cx="412.7" cy="191.5" r="1.65" fill="#5a2a1a"/>
<circle cx="319.6" cy="205.0" r="1.65" fill="#111"/>
<circle cx="306.0" cy="198.0" r="1.65" fill="#111"/>
<circle cx="339.0" cy="200.0" r="1.65" fill="#111"/>
<text x="7.5" y="303.0" font-size="11.4" text-anchor="start" font-weight="bold" fill="#000" >B</text>
<text x="169.5" y="303.5" font-size="9.8" text-anchor="middle" font-weight="normal" fill="#1a1a1a" textLength="25.6" lengthAdjust="spacingAndGlyphs">B-ALL</text>
<line x1="44.50" y1="309.50" x2="44.50" y2="434.30" stroke="#2b2b2b" stroke-width="1.1"/>
<line x1="44.00" y1="433.80" x2="295.20" y2="433.80" stroke="#2b2b2b" stroke-width="1.1"/>
<line x1="41.50" y1="312.60" x2="44.50" y2="312.60" stroke="#2b2b2b" stroke-width="1"/>
<text x="37.9" y="315.5" font-size="8.4" text-anchor="end" font-weight="normal" fill="#1a1a1a" >4</text>
<line x1="41.50" y1="341.50" x2="44.50" y2="341.50" stroke="#2b2b2b" stroke-width="1"/>
<text x="37.9" y="344.4" font-size="8.4" text-anchor="end" font-weight="normal" fill="#1a1a1a" >2</text>
<line x1="41.50" y1="370.40" x2="44.50" y2="370.40" stroke="#2b2b2b" stroke-width="1"/>
<text x="37.9" y="373.3" font-size="8.4" text-anchor="end" font-weight="normal" fill="#1a1a1a" >0</text>
<line x1="41.50" y1="399.30" x2="44.50" y2="399.30" stroke="#2b2b2b" stroke-width="1"/>
<text x="37.9" y="402.2" font-size="8.4" text-anchor="end" font-weight="normal" fill="#1a1a1a" >−2</text>
<line x1="41.50" y1="428.20" x2="44.50" y2="428.20" stroke="#2b2b2b" stroke-width="1"/>
<text x="37.9" y="431.1" font-size="8.4" text-anchor="end" font-weight="normal" fill="#1a1a1a" >−4</text>
<line x1="50.20" y1="433.80" x2="50.20" y2="436.60" stroke="#2b2b2b" stroke-width="1"/>
<line x1="60.60" y1="433.80" x2="60.60" y2="436.60" stroke="#2b2b2b" stroke-width="1"/>
<line x1="71.00" y1="433.80" x2="71.00" y2="436.60" stroke="#2b2b2b" stroke-width="1"/>
<line x1="81.40" y1="433.80" x2="81.40" y2="436.60" stroke="#2b2b2b" stroke-width="1"/>
<line x1="91.80" y1="433.80" x2="91.80" y2="436.60" stroke="#2b2b2b" stroke-width="1"/>
<line x1="102.20" y1="433.80" x2="102.20" y2="436.60" stroke="#2b2b2b" stroke-width="1"/>
<line x1="112.60" y1="433.80" x2="112.60" y2="436.60" stroke="#2b2b2b" stroke-width="1"/>
<line x1="123.00" y1="433.80" x2="123.00" y2="436.60" stroke="#2b2b2b" stroke-width="1"/>
<line x1="133.40" y1="433.80" x2="133.40" y2="436.60" stroke="#2b2b2b" stroke-width="1"/>
<line x1="143.80" y1="433.80" x2="143.80" y2="436.60" stroke="#2b2b2b" stroke-width="1"/>
<line x1="154.20" y1="433.80" x2="154.20" y2="436.60" stroke="#2b2b2b" stroke-width="1"/>
<line x1="164.60" y1="433.80" x2="164.60" y2="436.60" stroke="#2b2b2b" stroke-width="1"/>
<line x1="175.00" y1="433.80" x2="175.00" y2="436.60" stroke="#2b2b2b" stroke-width="1"/>
<line x1="185.40" y1="433.80" x2="185.40" y2="436.60" stroke="#2b2b2b" stroke-width="1"/>
<line x1="195.80" y1="433.80" x2="195.80" y2="436.60" stroke="#2b2b2b" stroke-width="1"/>
<line x1="206.20" y1="433.80" x2="206.20" y2="436.60" stroke="#2b2b2b" stroke-width="1"/>
<line x1="216.60" y1="433.80" x2="216.60" y2="436.60" stroke="#2b2b2b" stroke-width="1"/>
<line x1="227.00" y1="433.80" x2="227.00" y2="436.60" stroke="#2b2b2b" stroke-width="1"/>
<line x1="237.40" y1="433.80" x2="237.40" y2="436.60" stroke="#2b2b2b" stroke-width="1"/>
<line x1="247.80" y1="433.80" x2="247.80" y2="436.60" stroke="#2b2b2b" stroke-width="1"/>
<line x1="258.20" y1="433.80" x2="258.20" y2="436.60" stroke="#2b2b2b" stroke-width="1"/>
<line x1="268.60" y1="433.80" x2="268.60" y2="436.60" stroke="#2b2b2b" stroke-width="1"/>
<line x1="279.00" y1="433.80" x2="279.00" y2="436.60" stroke="#2b2b2b" stroke-width="1"/>
<line x1="289.40" y1="433.80" x2="289.40" y2="436.60" stroke="#2b2b2b" stroke-width="1"/>
<text transform="translate(22.9,370.3) rotate(-90)" font-size="9.8" text-anchor="middle" fill="#111" stroke="#111" stroke-width="0.25" textLength="32" lengthAdjust="spacingAndGlyphs">BCL2_SIG</text>
<line x1="50.20" y1="381.50" x2="50.20" y2="388.30" stroke="#555" stroke-width="0.9"/>
<line x1="50.20" y1="395.00" x2="50.20" y2="406.30" stroke="#555" stroke-width="0.9"/>
<rect x="46.40" y="388.30" width="7.60" height="6.70" fill="#f4696b"/>
<line x1="46.40" y1="391.80" x2="54.00" y2="391.80" stroke="#1a1a1a" stroke-width="1.1"/>
<circle cx="50.6" cy="381.5" r="0.72" fill="#000"/>
<circle cx="50.4" cy="406.3" r="0.72" fill="#000"/>
<circle cx="50.2" cy="391.9" r="0.72" fill="#000"/>
<circle cx="48.3" cy="384.1" r="0.72" fill="#000"/>
<circle cx="49.3" cy="395.0" r="0.72" fill="#000"/>
<circle cx="48.0" cy="386.6" r="0.72" fill="#000"/>
<circle cx="51.6" cy="400.6" r="0.72" fill="#000"/>
<circle cx="48.5" cy="393.1" r="0.72" fill="#000"/>
<circle cx="48.5" cy="393.1" r="0.72" fill="#000"/>
<circle cx="50.4" cy="396.6" r="0.72" fill="#000"/>
<circle cx="51.7" cy="398.2" r="0.72" fill="#000"/>
<circle cx="48.4" cy="396.1" r="0.72" fill="#000"/>
<circle cx="48.7" cy="388.9" r="0.72" fill="#000"/>
<circle cx="52.3" cy="399.4" r="0.72" fill="#000"/>
<circle cx="48.5" cy="393.7" r="0.72" fill="#000"/>
<line x1="60.60" y1="369.40" x2="60.60" y2="378.30" stroke="#555" stroke-width="0.9"/>
<line x1="60.60" y1="396.90" x2="60.60" y2="408.50" stroke="#555" stroke-width="0.9"/>
<rect x="56.80" y="378.30" width="7.60" height="18.60" fill="#2aa8e0"/>
<line x1="56.80" y1="386.00" x2="64.40" y2="386.00" stroke="#1a1a1a" stroke-width="1.1"/>
<circle cx="60.2" cy="369.4" r="0.72" fill="#000"/>
<circle cx="59.6" cy="408.5" r="0.72" fill="#000"/>
<circle cx="61.9" cy="375.4" r="0.72" fill="#000"/>
<circle cx="58.5" cy="399.4" r="0.72" fill="#000"/>
<circle cx="62.1" cy="370.5" r="0.72" fill="#000"/>
<circle cx="62.5" cy="393.3" r="0.72" fill="#000"/>
<circle cx="61.5" cy="381.0" r="0.72" fill="#000"/>
<circle cx="59.9" cy="381.2" r="0.72" fill="#000"/>
<circle cx="62.7" cy="400.5" r="0.72" fill="#000"/>
<circle cx="62.5" cy="395.8" r="0.72" fill="#000"/>
<circle cx="59.5" cy="386.2" r="0.72" fill="#000"/>
<circle cx="58.5" cy="376.9" r="0.72" fill="#000"/>
<circle cx="62.5" cy="404.1" r="0.72" fill="#000"/>
<circle cx="62.3" cy="389.6" r="0.72" fill="#000"/>
<circle cx="62.0" cy="380.7" r="0.72" fill="#000"/>
<circle cx="61.2" cy="384.9" r="0.72" fill="#000"/>
<circle cx="59.1" cy="379.1" r="0.72" fill="#000"/>
<circle cx="62.5" cy="377.6" r="0.72" fill="#000"/>
<circle cx="62.4" cy="374.5" r="0.72" fill="#000"/>
<circle cx="59.3" cy="392.9" r="0.72" fill="#000"/>
<circle cx="58.5" cy="404.8" r="0.72" fill="#000"/>
<circle cx="62.8" cy="397.4" r="0.72" fill="#000"/>
<circle cx="61.4" cy="386.5" r="0.72" fill="#000"/>
<circle cx="61.7" cy="385.0" r="0.72" fill="#000"/>
<circle cx="58.5" cy="386.1" r="0.72" fill="#000"/>
<circle cx="59.3" cy="398.5" r="0.72" fill="#000"/>
<circle cx="61.2" cy="407.1" r="0.72" fill="#000"/>
<circle cx="61.5" cy="377.4" r="0.72" fill="#000"/>
<line x1="71.00" y1="365.40" x2="71.00" y2="379.70" stroke="#555" stroke-width="0.9"/>
<line x1="71.00" y1="396.40" x2="71.00" y2="409.80" stroke="#555" stroke-width="0.9"/>
<rect x="67.20" y="379.70" width="7.60" height="16.70" fill="#e0609c"/>
<line x1="67.20" y1="386.00" x2="74.80" y2="386.00" stroke="#1a1a1a" stroke-width="1.1"/>
<circle cx="71.9" cy="365.4" r="0.72" fill="#000"/>
<circle cx="70.9" cy="409.8" r="0.72" fill="#000"/>
<circle cx="71.8" cy="375.5" r="0.72" fill="#000"/>
<circle cx="69.6" cy="399.6" r="0.72" fill="#000"/>
<circle cx="70.6" cy="378.9" r="0.72" fill="#000"/>
<circle cx="69.2" cy="371.8" r="0.72" fill="#000"/>
<circle cx="70.3" cy="394.4" r="0.72" fill="#000"/>
<circle cx="69.8" cy="391.6" r="0.72" fill="#000"/>
<circle cx="70.0" cy="393.5" r="0.72" fill="#000"/>
<circle cx="72.8" cy="373.8" r="0.72" fill="#000"/>
<circle cx="71.4" cy="394.7" r="0.72" fill="#000"/>
<circle cx="69.6" cy="372.8" r="0.72" fill="#000"/>
<circle cx="73.1" cy="369.7" r="0.72" fill="#000"/>
<circle cx="69.8" cy="379.0" r="0.72" fill="#000"/>
<circle cx="72.6" cy="366.1" r="0.72" fill="#000"/>
<circle cx="70.4" cy="408.2" r="0.72" fill="#000"/>
<circle cx="69.4" cy="376.1" r="0.72" fill="#000"/>
<circle cx="71.1" cy="385.9" r="0.72" fill="#000"/>
<circle cx="72.3" cy="376.4" r="0.72" fill="#000"/>
<circle cx="72.2" cy="382.3" r="0.72" fill="#000"/>
<circle cx="69.8" cy="374.0" r="0.72" fill="#000"/>
<circle cx="70.4" cy="400.7" r="0.72" fill="#000"/>
<circle cx="69.0" cy="367.4" r="0.72" fill="#000"/>
<circle cx="72.5" cy="391.5" r="0.72" fill="#000"/>
<circle cx="70.7" cy="366.7" r="0.72" fill="#000"/>
<circle cx="71.9" cy="385.8" r="0.72" fill="#000"/>
<circle cx="70.9" cy="370.6" r="0.72" fill="#000"/>
<circle cx="70.7" cy="375.6" r="0.72" fill="#000"/>
<circle cx="70.4" cy="368.4" r="0.72" fill="#000"/>
<circle cx="69.1" cy="404.1" r="0.72" fill="#000"/>
<circle cx="71.3" cy="398.4" r="0.72" fill="#000"/>
<circle cx="73.0" cy="381.4" r="0.72" fill="#000"/>
<circle cx="71.1" cy="409.6" r="0.72" fill="#000"/>
<circle cx="72.6" cy="373.0" r="0.72" fill="#000"/>
<circle cx="70.0" cy="369.1" r="0.72" fill="#000"/>
<line x1="81.40" y1="369.40" x2="81.40" y2="378.00" stroke="#555" stroke-width="0.9"/>
<rect x="77.60" y="378.00" width="7.60" height="15.70" fill="#88b830"/>
<line x1="77.60" y1="385.60" x2="85.20" y2="385.60" stroke="#1a1a1a" stroke-width="1.1"/>
<circle cx="81.6" cy="369.4" r="0.72" fill="#000"/>
<circle cx="82.3" cy="393.7" r="0.72" fill="#000"/>
<circle cx="81.3" cy="393.3" r="0.72" fill="#000"/>
<circle cx="82.1" cy="369.7" r="0.72" fill="#000"/>
<circle cx="82.5" cy="387.7" r="0.72" fill="#000"/>
<circle cx="81.9" cy="387.0" r="0.72" fill="#000"/>
<circle cx="83.0" cy="379.4" r="0.72" fill="#000"/>
<circle cx="80.2" cy="391.8" r="0.72" fill="#000"/>
<line x1="91.80" y1="356.00" x2="91.80" y2="373.00" stroke="#555" stroke-width="0.9"/>
<line x1="91.80" y1="393.00" x2="91.80" y2="418.00" stroke="#555" stroke-width="0.9"/>
<rect x="88.00" y="373.00" width="7.60" height="20.00" fill="#a374c8"/>
<line x1="88.00" y1="384.20" x2="95.60" y2="384.20" stroke="#1a1a1a" stroke-width="1.1"/>
<circle cx="92.3" cy="356.0" r="0.72" fill="#000"/>
<circle cx="92.8" cy="418.0" r="0.72" fill="#000"/>
<circle cx="92.2" cy="402.4" r="0.72" fill="#000"/>
<circle cx="89.7" cy="363.7" r="0.72" fill="#000"/>
<circle cx="90.6" cy="395.6" r="0.72" fill="#000"/>
<circle cx="91.8" cy="381.2" r="0.72" fill="#000"/>
<circle cx="93.3" cy="375.8" r="0.72" fill="#000"/>
<circle cx="91.6" cy="418.0" r="0.72" fill="#000"/>
<circle cx="91.0" cy="415.6" r="0.72" fill="#000"/>
<circle cx="91.1" cy="376.2" r="0.72" fill="#000"/>
<circle cx="90.3" cy="396.7" r="0.72" fill="#000"/>
<circle cx="89.6" cy="386.0" r="0.72" fill="#000"/>
<circle cx="92.1" cy="383.3" r="0.72" fill="#000"/>
<circle cx="90.2" cy="398.5" r="0.72" fill="#000"/>
<circle cx="93.8" cy="363.5" r="0.72" fill="#000"/>
<circle cx="91.9" cy="364.5" r="0.72" fill="#000"/>
<circle cx="90.6" cy="387.6" r="0.72" fill="#000"/>
<circle cx="91.6" cy="392.3" r="0.72" fill="#000"/>
<circle cx="93.5" cy="380.5" r="0.72" fill="#000"/>
<circle cx="90.8" cy="405.1" r="0.72" fill="#000"/>
<circle cx="93.6" cy="379.7" r="0.72" fill="#000"/>
<circle cx="90.9" cy="357.1" r="0.72" fill="#000"/>
<circle cx="93.4" cy="415.9" r="0.72" fill="#000"/>
<circle cx="91.9" cy="386.5" r="0.72" fill="#000"/>
<circle cx="91.9" cy="390.9" r="0.72" fill="#000"/>
<circle cx="92.5" cy="371.1" r="0.72" fill="#000"/>
<circle cx="93.1" cy="361.5" r="0.72" fill="#000"/>
<circle cx="89.9" cy="392.5" r="0.72" fill="#000"/>
<circle cx="92.1" cy="381.7" r="0.72" fill="#000"/>
<circle cx="90.7" cy="398.9" r="0.72" fill="#000"/>
<circle cx="91.9" cy="378.7" r="0.72" fill="#000"/>
<circle cx="92.3" cy="403.4" r="0.72" fill="#000"/>
<circle cx="92.6" cy="393.8" r="0.72" fill="#000"/>
<circle cx="92.6" cy="399.0" r="0.72" fill="#000"/>
<circle cx="92.4" cy="385.1" r="0.72" fill="#000"/>
<circle cx="93.1" cy="415.4" r="0.72" fill="#000"/>
<circle cx="93.8" cy="382.7" r="0.72" fill="#000"/>
<circle cx="93.8" cy="381.4" r="0.72" fill="#000"/>
<circle cx="91.2" cy="386.5" r="0.72" fill="#000"/>
<circle cx="93.0" cy="405.4" r="0.72" fill="#000"/>
<circle cx="90.5" cy="369.8" r="0.72" fill="#000"/>
<circle cx="90.2" cy="358.2" r="0.72" fill="#000"/>
<circle cx="92.2" cy="378.3" r="0.72" fill="#000"/>
<circle cx="92.1" cy="386.7" r="0.72" fill="#000"/>
<circle cx="90.4" cy="379.2" r="0.72" fill="#000"/>
<circle cx="89.7" cy="367.1" r="0.72" fill="#000"/>
<circle cx="93.8" cy="390.9" r="0.72" fill="#000"/>
<circle cx="93.3" cy="394.8" r="0.72" fill="#000"/>
<circle cx="93.9" cy="367.0" r="0.72" fill="#000"/>
<circle cx="90.9" cy="403.5" r="0.72" fill="#000"/>
<circle cx="92.2" cy="406.9" r="0.72" fill="#000"/>
<circle cx="93.5" cy="364.8" r="0.72" fill="#000"/>
<circle cx="92.0" cy="384.9" r="0.72" fill="#000"/>
<circle cx="90.8" cy="386.4" r="0.72" fill="#000"/>
<circle cx="90.4" cy="356.3" r="0.72" fill="#000"/>
<circle cx="90.8" cy="393.6" r="0.72" fill="#000"/>
<circle cx="93.9" cy="384.4" r="0.72" fill="#000"/>
<circle cx="93.7" cy="363.1" r="0.72" fill="#000"/>
<circle cx="91.9" cy="391.2" r="0.72" fill="#000"/>
<circle cx="91.4" cy="393.7" r="0.72" fill="#000"/>
<circle cx="90.0" cy="383.9" r="0.72" fill="#000"/>
<circle cx="92.3" cy="361.7" r="0.72" fill="#000"/>
<circle cx="90.8" cy="388.6" r="0.72" fill="#000"/>
<circle cx="91.8" cy="382.2" r="0.72" fill="#000"/>
<circle cx="92.1" cy="413.6" r="0.72" fill="#000"/>
<circle cx="92.6" cy="365.5" r="0.72" fill="#000"/>
<circle cx="92.8" cy="369.1" r="0.72" fill="#000"/>
<circle cx="93.1" cy="405.4" r="0.72" fill="#000"/>
<circle cx="90.4" cy="392.3" r="0.72" fill="#000"/>
<circle cx="90.6" cy="391.9" r="0.72" fill="#000"/>
<circle cx="92.1" cy="397.1" r="0.72" fill="#000"/>
<circle cx="92.2" cy="367.9" r="0.72" fill="#000"/>
<circle cx="90.7" cy="395.3" r="0.72" fill="#000"/>
<circle cx="91.9" cy="382.3" r="0.72" fill="#000"/>
<circle cx="89.7" cy="356.5" r="0.72" fill="#000"/>
<circle cx="92.4" cy="386.2" r="0.72" fill="#000"/>
<circle cx="92.3" cy="394.8" r="0.72" fill="#000"/>
<circle cx="92.5" cy="387.4" r="0.72" fill="#000"/>
<circle cx="90.6" cy="365.8" r="0.72" fill="#000"/>
<circle cx="93.2" cy="395.0" r="0.72" fill="#000"/>
<line x1="102.20" y1="347.90" x2="102.20" y2="366.70" stroke="#555" stroke-width="0.9"/>
<line x1="102.20" y1="385.60" x2="102.20" y2="404.40" stroke="#555" stroke-width="0.9"/>
<rect x="98.40" y="366.70" width="7.60" height="18.90" fill="#7b8fd8"/>
<line x1="98.40" y1="377.00" x2="106.00" y2="377.00" stroke="#1a1a1a" stroke-width="1.1"/>
<circle cx="102.7" cy="347.9" r="0.72" fill="#000"/>
<circle cx="102.7" cy="404.4" r="0.72" fill="#000"/>
<circle cx="100.7" cy="376.9" r="0.72" fill="#000"/>
<circle cx="103.9" cy="387.3" r="0.72" fill="#000"/>
<circle cx="102.2" cy="379.1" r="0.72" fill="#000"/>
<circle cx="101.6" cy="383.1" r="0.72" fill="#000"/>
<circle cx="100.5" cy="351.0" r="0.72" fill="#000"/>
<circle cx="102.1" cy="369.8" r="0.72" fill="#000"/>
<circle cx="101.0" cy="385.7" r="0.72" fill="#000"/>
<circle cx="102.1" cy="372.2" r="0.72" fill="#000"/>
<circle cx="102.0" cy="378.6" r="0.72" fill="#000"/>
<circle cx="104.1" cy="362.4" r="0.72" fill="#000"/>
<circle cx="102.8" cy="388.1" r="0.72" fill="#000"/>
<circle cx="104.3" cy="350.0" r="0.72" fill="#000"/>
<circle cx="100.6" cy="385.6" r="0.72" fill="#000"/>
<circle cx="100.3" cy="367.6" r="0.72" fill="#000"/>
<circle cx="103.4" cy="368.2" r="0.72" fill="#000"/>
<circle cx="100.4" cy="388.0" r="0.72" fill="#000"/>
<circle cx="100.2" cy="383.5" r="0.72" fill="#000"/>
<circle cx="100.6" cy="391.3" r="0.72" fill="#000"/>
<circle cx="100.7" cy="351.9" r="0.72" fill="#000"/>
<circle cx="100.8" cy="380.9" r="0.72" fill="#000"/>
<circle cx="101.9" cy="368.9" r="0.72" fill="#000"/>
<circle cx="104.3" cy="383.8" r="0.72" fill="#000"/>
<circle cx="103.3" cy="362.6" r="0.72" fill="#000"/>
<circle cx="104.0" cy="383.7" r="0.72" fill="#000"/>
<circle cx="101.3" cy="393.7" r="0.72" fill="#000"/>
<circle cx="103.2" cy="371.4" r="0.72" fill="#000"/>
<circle cx="104.2" cy="382.7" r="0.72" fill="#000"/>
<circle cx="101.5" cy="393.9" r="0.72" fill="#000"/>
<circle cx="102.1" cy="362.3" r="0.72" fill="#000"/>
<circle cx="100.7" cy="383.1" r="0.72" fill="#000"/>
<circle cx="103.3" cy="372.9" r="0.72" fill="#000"/>
<circle cx="100.8" cy="384.1" r="0.72" fill="#000"/>
<circle cx="102.5" cy="388.1" r="0.72" fill="#000"/>
<circle cx="102.7" cy="391.0" r="0.72" fill="#000"/>
<circle cx="104.2" cy="349.6" r="0.72" fill="#000"/>
<circle cx="101.2" cy="390.7" r="0.72" fill="#000"/>
<circle cx="101.6" cy="354.0" r="0.72" fill="#000"/>
<circle cx="101.0" cy="371.7" r="0.72" fill="#000"/>
<circle cx="101.8" cy="381.3" r="0.72" fill="#000"/>
<circle cx="101.1" cy="393.3" r="0.72" fill="#000"/>
<circle cx="103.5" cy="360.3" r="0.72" fill="#000"/>
<circle cx="103.6" cy="373.5" r="0.72" fill="#000"/>
<circle cx="101.7" cy="385.0" r="0.72" fill="#000"/>
<circle cx="100.6" cy="351.6" r="0.72" fill="#000"/>
<circle cx="101.5" cy="362.4" r="0.72" fill="#000"/>
<circle cx="103.7" cy="397.3" r="0.72" fill="#000"/>
<circle cx="103.3" cy="396.3" r="0.72" fill="#000"/>
<circle cx="102.9" cy="400.1" r="0.72" fill="#000"/>
<circle cx="102.4" cy="397.1" r="0.72" fill="#000"/>
<circle cx="103.4" cy="362.8" r="0.72" fill="#000"/>
<circle cx="100.9" cy="395.9" r="0.72" fill="#000"/>
<circle cx="101.4" cy="377.0" r="0.72" fill="#000"/>
<circle cx="101.0" cy="392.9" r="0.72" fill="#000"/>
<circle cx="103.3" cy="351.7" r="0.72" fill="#000"/>
<circle cx="101.8" cy="374.0" r="0.72" fill="#000"/>
<circle cx="104.2" cy="382.9" r="0.72" fill="#000"/>
<circle cx="102.1" cy="355.1" r="0.72" fill="#000"/>
<circle cx="103.2" cy="353.0" r="0.72" fill="#000"/>
<circle cx="100.5" cy="388.7" r="0.72" fill="#000"/>
<circle cx="103.6" cy="362.8" r="0.72" fill="#000"/>
<circle cx="103.9" cy="361.2" r="0.72" fill="#000"/>
<circle cx="100.9" cy="378.3" r="0.72" fill="#000"/>
<circle cx="103.1" cy="351.8" r="0.72" fill="#000"/>
<circle cx="100.2" cy="399.6" r="0.72" fill="#000"/>
<circle cx="101.9" cy="401.4" r="0.72" fill="#000"/>
<circle cx="102.3" cy="370.9" r="0.72" fill="#000"/>
<circle cx="103.5" cy="379.4" r="0.72" fill="#000"/>
<circle cx="103.5" cy="380.6" r="0.72" fill="#000"/>
<circle cx="104.4" cy="397.8" r="0.72" fill="#000"/>
<circle cx="101.7" cy="397.8" r="0.72" fill="#000"/>
<circle cx="101.3" cy="384.7" r="0.72" fill="#000"/>
<circle cx="103.2" cy="372.6" r="0.72" fill="#000"/>
<circle cx="102.2" cy="378.8" r="0.72" fill="#000"/>
<circle cx="104.4" cy="396.9" r="0.72" fill="#000"/>
<circle cx="103.5" cy="402.0" r="0.72" fill="#000"/>
<circle cx="102.4" cy="399.3" r="0.72" fill="#000"/>
<circle cx="104.1" cy="385.2" r="0.72" fill="#000"/>
<circle cx="102.2" cy="349.2" r="0.72" fill="#000"/>
<circle cx="104.0" cy="366.3" r="0.72" fill="#000"/>
<circle cx="102.5" cy="374.6" r="0.72" fill="#000"/>
<circle cx="103.5" cy="383.6" r="0.72" fill="#000"/>
<circle cx="101.2" cy="367.5" r="0.72" fill="#000"/>
<circle cx="102.3" cy="369.9" r="0.72" fill="#000"/>
<circle cx="101.5" cy="378.1" r="0.72" fill="#000"/>
<circle cx="103.3" cy="377.7" r="0.72" fill="#000"/>
<circle cx="102.3" cy="362.3" r="0.72" fill="#000"/>
<circle cx="104.0" cy="382.0" r="0.72" fill="#000"/>
<circle cx="103.2" cy="381.0" r="0.72" fill="#000"/>
<line x1="112.60" y1="354.60" x2="112.60" y2="370.20" stroke="#555" stroke-width="0.9"/>
<line x1="112.60" y1="381.50" x2="112.60" y2="395.00" stroke="#555" stroke-width="0.9"/>
<rect x="108.80" y="370.20" width="7.60" height="11.30" fill="#e6a020"/>
<line x1="108.80" y1="376.20" x2="116.40" y2="376.20" stroke="#1a1a1a" stroke-width="1.1"/>
<circle cx="113.1" cy="354.6" r="0.72" fill="#000"/>
<circle cx="111.9" cy="395.0" r="0.72" fill="#000"/>
<circle cx="113.9" cy="357.4" r="0.72" fill="#000"/>
<circle cx="111.0" cy="391.1" r="0.72" fill="#000"/>
<circle cx="111.9" cy="356.3" r="0.72" fill="#000"/>
<circle cx="111.1" cy="376.4" r="0.72" fill="#000"/>
<circle cx="113.1" cy="381.4" r="0.72" fill="#000"/>
<circle cx="110.8" cy="379.1" r="0.72" fill="#000"/>
<circle cx="112.6" cy="367.4" r="0.72" fill="#000"/>
<circle cx="112.3" cy="374.0" r="0.72" fill="#000"/>
<circle cx="112.5" cy="380.9" r="0.72" fill="#000"/>
<circle cx="113.0" cy="370.4" r="0.72" fill="#000"/>
<circle cx="110.7" cy="361.4" r="0.72" fill="#000"/>
<circle cx="114.7" cy="377.1" r="0.72" fill="#000"/>
<circle cx="111.9" cy="370.5" r="0.72" fill="#000"/>
<circle cx="112.1" cy="382.8" r="0.72" fill="#000"/>
<circle cx="112.9" cy="389.5" r="0.72" fill="#000"/>
<circle cx="113.6" cy="388.9" r="0.72" fill="#000"/>
<circle cx="112.2" cy="362.5" r="0.72" fill="#000"/>
<circle cx="111.7" cy="361.6" r="0.72" fill="#000"/>
<circle cx="114.6" cy="368.6" r="0.72" fill="#000"/>
<circle cx="114.1" cy="369.4" r="0.72" fill="#000"/>
<circle cx="113.0" cy="363.8" r="0.72" fill="#000"/>
<circle cx="112.8" cy="364.7" r="0.72" fill="#000"/>
<circle cx="111.2" cy="392.2" r="0.72" fill="#000"/>
<circle cx="113.9" cy="390.9" r="0.72" fill="#000"/>
<circle cx="112.5" cy="367.7" r="0.72" fill="#000"/>
<circle cx="111.9" cy="363.8" r="0.72" fill="#000"/>
<circle cx="114.5" cy="388.8" r="0.72" fill="#000"/>
<circle cx="112.1" cy="368.3" r="0.72" fill="#000"/>
<circle cx="113.9" cy="377.2" r="0.72" fill="#000"/>
<circle cx="112.1" cy="369.6" r="0.72" fill="#000"/>
<circle cx="111.6" cy="384.6" r="0.72" fill="#000"/>
<circle cx="114.0" cy="370.4" r="0.72" fill="#000"/>
<circle cx="110.5" cy="382.5" r="0.72" fill="#000"/>
<circle cx="113.9" cy="357.0" r="0.72" fill="#000"/>
<circle cx="110.7" cy="363.8" r="0.72" fill="#000"/>
<circle cx="113.6" cy="384.2" r="0.72" fill="#000"/>
<circle cx="114.5" cy="385.6" r="0.72" fill="#000"/>
<circle cx="112.3" cy="392.0" r="0.72" fill="#000"/>
<circle cx="114.2" cy="384.8" r="0.72" fill="#000"/>
<circle cx="110.8" cy="372.5" r="0.72" fill="#000"/>
<circle cx="114.7" cy="376.4" r="0.72" fill="#000"/>
<circle cx="110.9" cy="356.9" r="0.72" fill="#000"/>
<circle cx="113.2" cy="383.2" r="0.72" fill="#000"/>
<circle cx="111.2" cy="361.1" r="0.72" fill="#000"/>
<circle cx="113.4" cy="364.2" r="0.72" fill="#000"/>
<circle cx="112.3" cy="360.3" r="0.72" fill="#000"/>
<circle cx="111.5" cy="393.0" r="0.72" fill="#000"/>
<circle cx="114.8" cy="394.0" r="0.72" fill="#000"/>
<line x1="123.00" y1="362.40" x2="123.00" y2="369.80" stroke="#555" stroke-width="0.9"/>
<line x1="123.00" y1="382.60" x2="123.00" y2="390.00" stroke="#555" stroke-width="0.9"/>
<rect x="119.20" y="369.80" width="7.60" height="12.80" fill="#26b482"/>
<line x1="119.20" y1="376.40" x2="126.80" y2="376.40" stroke="#1a1a1a" stroke-width="1.1"/>
<circle cx="123.8" cy="362.4" r="0.72" fill="#000"/>
<circle cx="123.2" cy="390.0" r="0.72" fill="#000"/>
<circle cx="124.3" cy="374.5" r="0.72" fill="#000"/>
<circle cx="122.8" cy="380.5" r="0.72" fill="#000"/>
<line x1="133.40" y1="364.40" x2="133.40" y2="370.10" stroke="#555" stroke-width="0.9"/>
<line x1="133.40" y1="379.60" x2="133.40" y2="382.00" stroke="#555" stroke-width="0.9"/>
<rect x="129.60" y="370.10" width="7.60" height="9.50" fill="#3aa6e6"/>
<line x1="129.60" y1="376.40" x2="137.20" y2="376.40" stroke="#1a1a1a" stroke-width="1.1"/>
<circle cx="133.0" cy="364.4" r="0.72" fill="#000"/>
<circle cx="133.1" cy="382.0" r="0.72" fill="#000"/>
<circle cx="134.7" cy="378.5" r="0.72" fill="#000"/>
<circle cx="133.0" cy="376.7" r="0.72" fill="#000"/>
<circle cx="133.0" cy="370.0" r="0.72" fill="#000"/>
<circle cx="133.9" cy="370.5" r="0.72" fill="#000"/>
<circle cx="132.8" cy="401.0" r="0.75" fill="#222"/>
<circle cx="134.0" cy="401.0" r="0.75" fill="#222"/>
<line x1="143.80" y1="375.20" x2="143.80" y2="382.60" stroke="#555" stroke-width="0.9"/>
<rect x="140.00" y="370.80" width="7.60" height="4.40" fill="#38b038"/>
<line x1="140.00" y1="373.50" x2="147.60" y2="373.50" stroke="#1a1a1a" stroke-width="1.1"/>
<circle cx="143.3" cy="370.8" r="0.72" fill="#000"/>
<circle cx="144.7" cy="382.6" r="0.72" fill="#000"/>
<circle cx="144.3" cy="373.6" r="0.72" fill="#000"/>
<circle cx="143.8" cy="380.9" r="0.72" fill="#000"/>
<circle cx="143.8" cy="361.4" r="0.75" fill="#222"/>
<line x1="154.20" y1="343.80" x2="154.20" y2="366.20" stroke="#555" stroke-width="0.9"/>
<line x1="154.20" y1="381.50" x2="154.20" y2="404.40" stroke="#555" stroke-width="0.9"/>
<rect x="150.40" y="366.20" width="7.60" height="15.30" fill="#d468a8"/>
<line x1="150.40" y1="373.50" x2="158.00" y2="373.50" stroke="#1a1a1a" stroke-width="1.1"/>
<circle cx="153.6" cy="343.8" r="0.72" fill="#000"/>
<circle cx="155.2" cy="404.4" r="0.72" fill="#000"/>
<circle cx="154.6" cy="365.1" r="0.72" fill="#000"/>
<circle cx="155.4" cy="378.1" r="0.72" fill="#000"/>
<circle cx="152.5" cy="360.6" r="0.72" fill="#000"/>
<circle cx="153.9" cy="371.6" r="0.72" fill="#000"/>
<circle cx="154.9" cy="372.8" r="0.72" fill="#000"/>
<circle cx="155.2" cy="373.7" r="0.72" fill="#000"/>
<circle cx="153.2" cy="383.5" r="0.72" fill="#000"/>
<circle cx="156.0" cy="392.7" r="0.72" fill="#000"/>
<circle cx="154.5" cy="386.0" r="0.72" fill="#000"/>
<circle cx="155.3" cy="373.3" r="0.72" fill="#000"/>
<circle cx="156.2" cy="381.4" r="0.72" fill="#000"/>
<circle cx="152.5" cy="365.2" r="0.72" fill="#000"/>
<circle cx="152.2" cy="384.5" r="0.72" fill="#000"/>
<circle cx="154.4" cy="387.6" r="0.72" fill="#000"/>
<circle cx="153.7" cy="385.0" r="0.72" fill="#000"/>
<circle cx="152.1" cy="393.2" r="0.72" fill="#000"/>
<circle cx="152.4" cy="385.9" r="0.72" fill="#000"/>
<circle cx="154.0" cy="376.0" r="0.72" fill="#000"/>
<circle cx="155.2" cy="371.7" r="0.72" fill="#000"/>
<circle cx="152.8" cy="359.6" r="0.72" fill="#000"/>
<circle cx="152.5" cy="393.2" r="0.72" fill="#000"/>
<circle cx="153.5" cy="374.1" r="0.72" fill="#000"/>
<circle cx="154.1" cy="400.2" r="0.72" fill="#000"/>
<circle cx="153.1" cy="396.5" r="0.72" fill="#000"/>
<circle cx="154.7" cy="378.2" r="0.72" fill="#000"/>
<circle cx="155.4" cy="398.9" r="0.72" fill="#000"/>
<circle cx="154.0" cy="352.7" r="0.72" fill="#000"/>
<circle cx="155.5" cy="399.2" r="0.72" fill="#000"/>
<circle cx="155.3" cy="369.1" r="0.72" fill="#000"/>
<circle cx="155.6" cy="371.9" r="0.72" fill="#000"/>
<circle cx="155.0" cy="379.7" r="0.72" fill="#000"/>
<circle cx="153.8" cy="370.5" r="0.72" fill="#000"/>
<circle cx="154.1" cy="352.1" r="0.72" fill="#000"/>
<circle cx="154.4" cy="372.3" r="0.72" fill="#000"/>
<circle cx="154.6" cy="384.8" r="0.72" fill="#000"/>
<circle cx="153.6" cy="397.5" r="0.72" fill="#000"/>
<circle cx="154.6" cy="380.0" r="0.72" fill="#000"/>
<circle cx="153.7" cy="372.8" r="0.72" fill="#000"/>
<circle cx="152.9" cy="372.5" r="0.72" fill="#000"/>
<circle cx="154.8" cy="361.0" r="0.72" fill="#000"/>
<circle cx="156.2" cy="376.1" r="0.72" fill="#000"/>
<circle cx="154.8" cy="356.3" r="0.72" fill="#000"/>
<circle cx="155.8" cy="395.6" r="0.72" fill="#000"/>
<circle cx="153.3" cy="364.1" r="0.72" fill="#000"/>
<circle cx="153.1" cy="385.9" r="0.72" fill="#000"/>
<circle cx="154.4" cy="375.0" r="0.72" fill="#000"/>
<circle cx="152.5" cy="374.6" r="0.72" fill="#000"/>
<circle cx="154.9" cy="374.2" r="0.72" fill="#000"/>
<circle cx="155.0" cy="358.5" r="0.72" fill="#000"/>
<circle cx="153.9" cy="377.3" r="0.72" fill="#000"/>
<circle cx="153.4" cy="373.5" r="0.72" fill="#000"/>
<circle cx="156.0" cy="385.8" r="0.72" fill="#000"/>
<circle cx="155.6" cy="374.2" r="0.72" fill="#000"/>
<circle cx="152.8" cy="356.1" r="0.72" fill="#000"/>
<circle cx="153.2" cy="395.6" r="0.72" fill="#000"/>
<circle cx="154.3" cy="389.9" r="0.72" fill="#000"/>
<circle cx="155.1" cy="385.3" r="0.72" fill="#000"/>
<circle cx="156.3" cy="394.1" r="0.72" fill="#000"/>
<circle cx="153.2" cy="389.0" r="0.72" fill="#000"/>
<circle cx="154.9" cy="365.9" r="0.72" fill="#000"/>
<circle cx="156.4" cy="371.2" r="0.72" fill="#000"/>
<circle cx="152.7" cy="362.2" r="0.72" fill="#000"/>
<circle cx="154.4" cy="362.5" r="0.72" fill="#000"/>
<circle cx="152.6" cy="380.9" r="0.72" fill="#000"/>
<circle cx="154.6" cy="352.9" r="0.72" fill="#000"/>
<circle cx="152.7" cy="368.6" r="0.72" fill="#000"/>
<circle cx="153.8" cy="361.1" r="0.72" fill="#000"/>
<circle cx="152.1" cy="367.2" r="0.72" fill="#000"/>
<circle cx="153.0" cy="369.4" r="0.72" fill="#000"/>
<circle cx="153.1" cy="374.6" r="0.72" fill="#000"/>
<circle cx="153.7" cy="372.7" r="0.72" fill="#000"/>
<circle cx="155.4" cy="395.6" r="0.72" fill="#000"/>
<circle cx="155.7" cy="384.4" r="0.72" fill="#000"/>
<circle cx="154.7" cy="348.9" r="0.72" fill="#000"/>
<circle cx="152.4" cy="348.0" r="0.72" fill="#000"/>
<circle cx="152.4" cy="373.0" r="0.72" fill="#000"/>
<circle cx="154.3" cy="365.2" r="0.72" fill="#000"/>
<circle cx="153.1" cy="378.2" r="0.72" fill="#000"/>
<circle cx="153.4" cy="362.3" r="0.72" fill="#000"/>
<circle cx="152.7" cy="370.4" r="0.72" fill="#000"/>
<circle cx="155.7" cy="351.2" r="0.72" fill="#000"/>
<circle cx="152.7" cy="362.5" r="0.72" fill="#000"/>
<circle cx="153.5" cy="386.7" r="0.72" fill="#000"/>
<circle cx="155.2" cy="388.8" r="0.72" fill="#000"/>
<circle cx="152.7" cy="378.6" r="0.72" fill="#000"/>
<circle cx="152.4" cy="358.9" r="0.72" fill="#000"/>
<circle cx="152.0" cy="380.6" r="0.72" fill="#000"/>
<circle cx="152.9" cy="367.9" r="0.72" fill="#000"/>
<circle cx="156.4" cy="385.5" r="0.72" fill="#000"/>
<circle cx="153.0" cy="371.9" r="0.72" fill="#000"/>
<circle cx="155.0" cy="391.1" r="0.72" fill="#000"/>
<circle cx="154.4" cy="376.0" r="0.72" fill="#000"/>
<circle cx="156.0" cy="377.3" r="0.72" fill="#000"/>
<circle cx="154.1" cy="374.2" r="0.72" fill="#000"/>
<circle cx="154.2" cy="384.4" r="0.72" fill="#000"/>
<circle cx="155.6" cy="366.9" r="0.72" fill="#000"/>
<circle cx="152.6" cy="400.2" r="0.72" fill="#000"/>
<circle cx="155.1" cy="386.1" r="0.72" fill="#000"/>
<circle cx="156.3" cy="386.4" r="0.72" fill="#000"/>
<circle cx="155.5" cy="387.1" r="0.72" fill="#000"/>
<circle cx="152.2" cy="363.3" r="0.72" fill="#000"/>
<circle cx="155.1" cy="371.8" r="0.72" fill="#000"/>
<circle cx="155.1" cy="363.6" r="0.72" fill="#000"/>
<circle cx="153.9" cy="403.1" r="0.72" fill="#000"/>
<circle cx="155.2" cy="349.3" r="0.72" fill="#000"/>
<circle cx="155.8" cy="369.4" r="0.72" fill="#000"/>
<circle cx="152.5" cy="368.7" r="0.72" fill="#000"/>
<circle cx="152.2" cy="373.1" r="0.72" fill="#000"/>
<circle cx="155.8" cy="372.7" r="0.72" fill="#000"/>
<circle cx="155.5" cy="363.6" r="0.72" fill="#000"/>
<circle cx="154.6" cy="397.1" r="0.72" fill="#000"/>
<circle cx="154.5" cy="357.2" r="0.72" fill="#000"/>
<circle cx="154.1" cy="375.2" r="0.72" fill="#000"/>
<circle cx="153.6" cy="352.8" r="0.72" fill="#000"/>
<circle cx="153.2" cy="367.0" r="0.72" fill="#000"/>
<circle cx="154.2" cy="369.5" r="0.72" fill="#000"/>
<circle cx="154.3" cy="369.9" r="0.72" fill="#000"/>
<circle cx="155.1" cy="390.5" r="0.72" fill="#000"/>
<circle cx="154.3" cy="367.5" r="0.72" fill="#000"/>
<circle cx="154.2" cy="399.9" r="0.72" fill="#000"/>
<circle cx="155.1" cy="370.7" r="0.72" fill="#000"/>
<circle cx="154.1" cy="385.2" r="0.72" fill="#000"/>
<circle cx="153.6" cy="376.5" r="0.72" fill="#000"/>
<circle cx="153.6" cy="386.2" r="0.72" fill="#000"/>
<circle cx="153.0" cy="372.7" r="0.72" fill="#000"/>
<circle cx="154.9" cy="366.2" r="0.72" fill="#000"/>
<circle cx="153.2" cy="362.5" r="0.72" fill="#000"/>
<circle cx="152.1" cy="365.7" r="0.72" fill="#000"/>
<circle cx="154.3" cy="361.0" r="0.72" fill="#000"/>
<circle cx="153.0" cy="394.5" r="0.72" fill="#000"/>
<circle cx="152.5" cy="369.4" r="0.72" fill="#000"/>
<circle cx="153.6" cy="372.5" r="0.72" fill="#000"/>
<circle cx="155.1" cy="373.3" r="0.72" fill="#000"/>
<circle cx="155.7" cy="361.0" r="0.72" fill="#000"/>
<circle cx="153.4" cy="363.0" r="0.72" fill="#000"/>
<circle cx="152.8" cy="378.1" r="0.72" fill="#000"/>
<circle cx="156.1" cy="360.8" r="0.72" fill="#000"/>
<circle cx="155.9" cy="363.1" r="0.72" fill="#000"/>
<circle cx="152.8" cy="393.7" r="0.72" fill="#000"/>
<circle cx="156.0" cy="369.6" r="0.72" fill="#000"/>
<circle cx="153.7" cy="377.7" r="0.72" fill="#000"/>
<circle cx="153.7" cy="373.4" r="0.72" fill="#000"/>
<circle cx="152.0" cy="375.9" r="0.72" fill="#000"/>
<circle cx="155.0" cy="374.3" r="0.72" fill="#000"/>
<circle cx="152.8" cy="363.8" r="0.72" fill="#000"/>
<circle cx="154.7" cy="384.7" r="0.72" fill="#000"/>
<circle cx="155.8" cy="355.9" r="0.72" fill="#000"/>
<circle cx="154.5" cy="375.1" r="0.72" fill="#000"/>
<circle cx="152.2" cy="389.2" r="0.72" fill="#000"/>
<circle cx="154.2" cy="364.4" r="0.72" fill="#000"/>
<circle cx="153.4" cy="356.7" r="0.72" fill="#000"/>
<circle cx="153.6" cy="361.9" r="0.72" fill="#000"/>
<circle cx="153.1" cy="399.5" r="0.72" fill="#000"/>
<circle cx="153.1" cy="396.7" r="0.72" fill="#000"/>
<circle cx="155.5" cy="371.3" r="0.72" fill="#000"/>
<circle cx="153.2" cy="375.8" r="0.72" fill="#000"/>
<circle cx="152.2" cy="378.1" r="0.72" fill="#000"/>
<circle cx="155.4" cy="375.8" r="0.72" fill="#000"/>
<circle cx="154.4" cy="390.0" r="0.72" fill="#000"/>
<circle cx="153.1" cy="375.2" r="0.72" fill="#000"/>
<circle cx="153.9" cy="368.7" r="0.72" fill="#000"/>
<circle cx="152.9" cy="384.6" r="0.72" fill="#000"/>
<circle cx="152.4" cy="349.5" r="0.72" fill="#000"/>
<circle cx="153.9" cy="380.6" r="0.72" fill="#000"/>
<circle cx="154.3" cy="369.4" r="0.72" fill="#000"/>
<circle cx="152.7" cy="391.4" r="0.72" fill="#000"/>
<circle cx="155.8" cy="363.1" r="0.72" fill="#000"/>
<circle cx="153.6" cy="397.0" r="0.72" fill="#000"/>
<circle cx="154.7" cy="374.0" r="0.72" fill="#000"/>
<circle cx="156.2" cy="372.5" r="0.72" fill="#000"/>
<circle cx="152.5" cy="378.4" r="0.72" fill="#000"/>
<circle cx="153.4" cy="364.0" r="0.72" fill="#000"/>
<circle cx="153.5" cy="371.6" r="0.72" fill="#000"/>
<circle cx="153.8" cy="384.3" r="0.72" fill="#000"/>
<circle cx="154.9" cy="383.9" r="0.72" fill="#000"/>
<circle cx="153.8" cy="370.8" r="0.72" fill="#000"/>
<circle cx="154.0" cy="391.7" r="0.72" fill="#000"/>
<circle cx="152.1" cy="361.0" r="0.72" fill="#000"/>
<line x1="164.60" y1="350.60" x2="164.60" y2="365.40" stroke="#555" stroke-width="0.9"/>
<line x1="164.60" y1="378.90" x2="164.60" y2="401.70" stroke="#555" stroke-width="0.9"/>
<rect x="160.80" y="365.40" width="7.60" height="13.50" fill="#b485d6"/>
<line x1="160.80" y1="373.50" x2="168.40" y2="373.50" stroke="#1a1a1a" stroke-width="1.1"/>
<circle cx="165.0" cy="350.6" r="0.72" fill="#000"/>
<circle cx="163.8" cy="401.7" r="0.72" fill="#000"/>
<circle cx="165.5" cy="374.4" r="0.72" fill="#000"/>
<circle cx="163.0" cy="383.5" r="0.72" fill="#000"/>
<circle cx="163.8" cy="378.0" r="0.72" fill="#000"/>
<circle cx="163.0" cy="381.9" r="0.72" fill="#000"/>
<circle cx="163.8" cy="368.7" r="0.72" fill="#000"/>
<circle cx="164.8" cy="369.2" r="0.72" fill="#000"/>
<circle cx="163.4" cy="375.4" r="0.72" fill="#000"/>
<circle cx="166.1" cy="358.1" r="0.72" fill="#000"/>
<circle cx="164.4" cy="373.6" r="0.72" fill="#000"/>
<circle cx="166.0" cy="362.1" r="0.72" fill="#000"/>
<circle cx="162.5" cy="382.1" r="0.72" fill="#000"/>
<circle cx="166.7" cy="380.3" r="0.72" fill="#000"/>
<circle cx="163.2" cy="370.9" r="0.72" fill="#000"/>
<circle cx="164.7" cy="388.9" r="0.72" fill="#000"/>
<circle cx="164.3" cy="396.1" r="0.72" fill="#000"/>
<circle cx="166.2" cy="367.9" r="0.72" fill="#000"/>
<circle cx="163.9" cy="396.5" r="0.72" fill="#000"/>
<circle cx="162.7" cy="367.8" r="0.72" fill="#000"/>
<circle cx="162.9" cy="382.5" r="0.72" fill="#000"/>
<circle cx="163.6" cy="365.6" r="0.72" fill="#000"/>
<circle cx="166.4" cy="359.8" r="0.72" fill="#000"/>
<circle cx="165.9" cy="382.1" r="0.72" fill="#000"/>
<circle cx="166.0" cy="397.9" r="0.72" fill="#000"/>
<circle cx="163.4" cy="372.7" r="0.72" fill="#000"/>
<circle cx="164.8" cy="397.9" r="0.72" fill="#000"/>
<circle cx="165.5" cy="376.4" r="0.72" fill="#000"/>
<circle cx="165.9" cy="368.4" r="0.72" fill="#000"/>
<circle cx="163.6" cy="380.1" r="0.72" fill="#000"/>
<circle cx="166.1" cy="392.4" r="0.72" fill="#000"/>
<circle cx="164.1" cy="386.1" r="0.72" fill="#000"/>
<circle cx="166.6" cy="361.7" r="0.72" fill="#000"/>
<circle cx="162.5" cy="359.4" r="0.72" fill="#000"/>
<circle cx="165.7" cy="372.6" r="0.72" fill="#000"/>
<circle cx="163.9" cy="368.4" r="0.72" fill="#000"/>
<circle cx="165.3" cy="377.8" r="0.72" fill="#000"/>
<circle cx="166.4" cy="366.6" r="0.72" fill="#000"/>
<circle cx="164.6" cy="372.4" r="0.72" fill="#000"/>
<circle cx="164.0" cy="377.6" r="0.72" fill="#000"/>
<circle cx="162.8" cy="385.6" r="0.72" fill="#000"/>
<circle cx="164.5" cy="383.1" r="0.72" fill="#000"/>
<circle cx="164.3" cy="366.1" r="0.72" fill="#000"/>
<circle cx="163.5" cy="391.4" r="0.72" fill="#000"/>
<circle cx="164.8" cy="369.5" r="0.72" fill="#000"/>
<circle cx="165.8" cy="369.1" r="0.72" fill="#000"/>
<circle cx="165.9" cy="394.7" r="0.72" fill="#000"/>
<circle cx="166.0" cy="369.1" r="0.72" fill="#000"/>
<circle cx="163.2" cy="359.7" r="0.72" fill="#000"/>
<circle cx="164.6" cy="371.7" r="0.72" fill="#000"/>
<circle cx="166.2" cy="361.9" r="0.72" fill="#000"/>
<circle cx="164.9" cy="376.5" r="0.72" fill="#000"/>
<circle cx="164.8" cy="374.9" r="0.72" fill="#000"/>
<circle cx="164.6" cy="377.6" r="0.72" fill="#000"/>
<circle cx="163.3" cy="391.9" r="0.72" fill="#000"/>
<circle cx="164.9" cy="389.8" r="0.72" fill="#000"/>
<circle cx="163.4" cy="375.4" r="0.72" fill="#000"/>
<circle cx="163.4" cy="366.8" r="0.72" fill="#000"/>
<circle cx="165.3" cy="385.6" r="0.72" fill="#000"/>
<circle cx="165.2" cy="369.1" r="0.72" fill="#000"/>
<line x1="175.00" y1="338.50" x2="175.00" y2="354.60" stroke="#555" stroke-width="0.9"/>
<line x1="175.00" y1="375.60" x2="175.00" y2="392.30" stroke="#555" stroke-width="0.9"/>
<rect x="171.20" y="354.60" width="7.60" height="21.00" fill="#c9a818"/>
<line x1="171.20" y1="369.40" x2="178.80" y2="369.40" stroke="#1a1a1a" stroke-width="1.1"/>
<circle cx="174.2" cy="338.5" r="0.72" fill="#000"/>
<circle cx="175.1" cy="392.3" r="0.72" fill="#000"/>
<circle cx="173.2" cy="351.9" r="0.72" fill="#000"/>
<circle cx="175.0" cy="343.1" r="0.72" fill="#000"/>
<circle cx="174.8" cy="354.6" r="0.72" fill="#000"/>
<circle cx="173.3" cy="372.9" r="0.72" fill="#000"/>
<circle cx="174.2" cy="338.9" r="0.72" fill="#000"/>
<circle cx="176.2" cy="376.0" r="0.72" fill="#000"/>
<circle cx="176.1" cy="370.0" r="0.72" fill="#000"/>
<circle cx="176.9" cy="371.8" r="0.72" fill="#000"/>
<circle cx="177.0" cy="366.1" r="0.72" fill="#000"/>
<circle cx="174.7" cy="372.7" r="0.72" fill="#000"/>
<circle cx="174.9" cy="371.4" r="0.72" fill="#000"/>
<circle cx="176.7" cy="360.4" r="0.72" fill="#000"/>
<circle cx="174.8" cy="354.5" r="0.72" fill="#000"/>
<circle cx="173.9" cy="345.6" r="0.72" fill="#000"/>
<circle cx="174.4" cy="371.9" r="0.72" fill="#000"/>
<circle cx="177.1" cy="362.7" r="0.72" fill="#000"/>
<circle cx="175.6" cy="372.2" r="0.72" fill="#000"/>
<circle cx="174.1" cy="358.0" r="0.72" fill="#000"/>
<circle cx="176.0" cy="370.3" r="0.72" fill="#000"/>
<circle cx="175.7" cy="373.1" r="0.72" fill="#000"/>
<circle cx="174.2" cy="379.2" r="0.72" fill="#000"/>
<circle cx="174.3" cy="370.8" r="0.72" fill="#000"/>
<circle cx="174.1" cy="374.6" r="0.72" fill="#000"/>
<circle cx="176.4" cy="359.9" r="0.72" fill="#000"/>
<circle cx="173.1" cy="377.8" r="0.72" fill="#000"/>
<circle cx="172.9" cy="380.3" r="0.72" fill="#000"/>
<circle cx="174.5" cy="360.0" r="0.72" fill="#000"/>
<circle cx="174.6" cy="373.7" r="0.72" fill="#000"/>
<line x1="185.40" y1="350.60" x2="185.40" y2="360.50" stroke="#555" stroke-width="0.9"/>
<line x1="185.40" y1="372.90" x2="185.40" y2="387.00" stroke="#555" stroke-width="0.9"/>
<rect x="181.60" y="360.50" width="7.60" height="12.40" fill="#1fb5b8"/>
<line x1="181.60" y1="366.70" x2="189.20" y2="366.70" stroke="#1a1a1a" stroke-width="1.1"/>
<circle cx="184.7" cy="350.6" r="0.72" fill="#000"/>
<circle cx="185.3" cy="387.0" r="0.72" fill="#000"/>
<circle cx="186.9" cy="364.9" r="0.72" fill="#000"/>
<circle cx="183.7" cy="366.9" r="0.72" fill="#000"/>
<circle cx="187.0" cy="366.9" r="0.72" fill="#000"/>
<circle cx="186.6" cy="366.6" r="0.72" fill="#000"/>
<circle cx="185.5" cy="356.2" r="0.72" fill="#000"/>
<circle cx="187.3" cy="359.3" r="0.72" fill="#000"/>
<circle cx="185.0" cy="367.6" r="0.72" fill="#000"/>
<circle cx="187.2" cy="366.8" r="0.72" fill="#000"/>
<circle cx="185.8" cy="378.5" r="0.72" fill="#000"/>
<circle cx="183.7" cy="386.0" r="0.72" fill="#000"/>
<circle cx="186.3" cy="374.8" r="0.72" fill="#000"/>
<circle cx="183.8" cy="364.3" r="0.72" fill="#000"/>
<circle cx="184.2" cy="371.9" r="0.72" fill="#000"/>
<circle cx="184.1" cy="353.9" r="0.72" fill="#000"/>
<circle cx="183.8" cy="367.2" r="0.72" fill="#000"/>
<circle cx="184.3" cy="360.6" r="0.72" fill="#000"/>
<circle cx="183.4" cy="370.2" r="0.72" fill="#000"/>
<circle cx="185.0" cy="384.8" r="0.72" fill="#000"/>
<circle cx="187.0" cy="379.4" r="0.72" fill="#000"/>
<circle cx="186.3" cy="352.9" r="0.72" fill="#000"/>
<circle cx="185.4" cy="365.4" r="0.72" fill="#000"/>
<circle cx="184.4" cy="366.5" r="0.72" fill="#000"/>
<circle cx="184.5" cy="359.4" r="0.72" fill="#000"/>
<circle cx="183.6" cy="374.0" r="0.72" fill="#000"/>
<circle cx="183.7" cy="360.1" r="0.72" fill="#000"/>
<circle cx="185.4" cy="366.9" r="0.72" fill="#000"/>
<circle cx="187.1" cy="360.0" r="0.72" fill="#000"/>
<circle cx="187.1" cy="386.3" r="0.72" fill="#000"/>
<circle cx="187.4" cy="373.5" r="0.72" fill="#000"/>
<circle cx="185.9" cy="380.2" r="0.72" fill="#000"/>
<circle cx="186.0" cy="386.9" r="0.72" fill="#000"/>
<circle cx="187.0" cy="363.2" r="0.72" fill="#000"/>
<circle cx="185.9" cy="360.0" r="0.72" fill="#000"/>
<line x1="195.80" y1="347.90" x2="195.80" y2="357.90" stroke="#555" stroke-width="0.9"/>
<line x1="195.80" y1="371.30" x2="195.80" y2="387.00" stroke="#555" stroke-width="0.9"/>
<rect x="192.00" y="357.90" width="7.60" height="13.40" fill="#a890dc"/>
<line x1="192.00" y1="364.00" x2="199.60" y2="364.00" stroke="#1a1a1a" stroke-width="1.1"/>
<circle cx="196.7" cy="347.9" r="0.72" fill="#000"/>
<circle cx="195.0" cy="387.0" r="0.72" fill="#000"/>
<circle cx="193.8" cy="371.5" r="0.72" fill="#000"/>
<circle cx="195.3" cy="385.4" r="0.72" fill="#000"/>
<circle cx="196.9" cy="354.1" r="0.72" fill="#000"/>
<circle cx="195.4" cy="375.9" r="0.72" fill="#000"/>
<circle cx="197.8" cy="358.2" r="0.72" fill="#000"/>
<circle cx="197.0" cy="363.4" r="0.72" fill="#000"/>
<circle cx="194.7" cy="368.4" r="0.72" fill="#000"/>
<circle cx="197.3" cy="359.3" r="0.72" fill="#000"/>
<circle cx="195.7" cy="362.2" r="0.72" fill="#000"/>
<circle cx="195.2" cy="382.9" r="0.72" fill="#000"/>
<circle cx="196.5" cy="375.5" r="0.72" fill="#000"/>
<circle cx="196.1" cy="354.0" r="0.72" fill="#000"/>
<circle cx="194.1" cy="361.1" r="0.72" fill="#000"/>
<circle cx="194.6" cy="375.9" r="0.72" fill="#000"/>
<circle cx="195.0" cy="349.4" r="0.72" fill="#000"/>
<circle cx="195.3" cy="361.7" r="0.72" fill="#000"/>
<circle cx="195.3" cy="364.9" r="0.72" fill="#000"/>
<circle cx="195.3" cy="381.6" r="0.72" fill="#000"/>
<circle cx="194.6" cy="385.5" r="0.72" fill="#000"/>
<circle cx="194.0" cy="348.8" r="0.72" fill="#000"/>
<circle cx="196.2" cy="372.1" r="0.72" fill="#000"/>
<circle cx="197.9" cy="364.2" r="0.72" fill="#000"/>
<circle cx="198.0" cy="372.9" r="0.72" fill="#000"/>
<line x1="206.20" y1="345.20" x2="206.20" y2="357.90" stroke="#555" stroke-width="0.9"/>
<line x1="206.20" y1="370.80" x2="206.20" y2="393.70" stroke="#555" stroke-width="0.9"/>
<rect x="202.40" y="357.90" width="7.60" height="12.90" fill="#d8a428"/>
<line x1="202.40" y1="363.20" x2="210.00" y2="363.20" stroke="#1a1a1a" stroke-width="1.1"/>
<circle cx="206.8" cy="345.2" r="0.72" fill="#000"/>
<circle cx="206.3" cy="393.7" r="0.72" fill="#000"/>
<circle cx="205.2" cy="371.1" r="0.72" fill="#000"/>
<circle cx="204.8" cy="374.8" r="0.72" fill="#000"/>
<circle cx="206.8" cy="350.9" r="0.72" fill="#000"/>
<circle cx="208.1" cy="357.1" r="0.72" fill="#000"/>
<circle cx="208.1" cy="356.8" r="0.72" fill="#000"/>
<circle cx="204.4" cy="360.4" r="0.72" fill="#000"/>
<circle cx="206.8" cy="358.3" r="0.72" fill="#000"/>
<circle cx="208.1" cy="345.7" r="0.72" fill="#000"/>
<circle cx="207.3" cy="355.0" r="0.72" fill="#000"/>
<circle cx="204.5" cy="367.4" r="0.72" fill="#000"/>
<circle cx="207.0" cy="366.3" r="0.72" fill="#000"/>
<circle cx="204.6" cy="357.7" r="0.72" fill="#000"/>
<circle cx="205.5" cy="369.1" r="0.72" fill="#000"/>
<circle cx="207.5" cy="375.4" r="0.72" fill="#000"/>
<circle cx="204.8" cy="363.0" r="0.72" fill="#000"/>
<circle cx="206.0" cy="365.2" r="0.72" fill="#000"/>
<circle cx="205.8" cy="368.5" r="0.72" fill="#000"/>
<circle cx="205.8" cy="367.2" r="0.72" fill="#000"/>
<circle cx="205.0" cy="366.0" r="0.72" fill="#000"/>
<circle cx="206.2" cy="352.9" r="0.72" fill="#000"/>
<circle cx="205.4" cy="357.5" r="0.72" fill="#000"/>
<circle cx="208.4" cy="355.8" r="0.72" fill="#000"/>
<circle cx="204.1" cy="361.5" r="0.72" fill="#000"/>
<circle cx="205.9" cy="347.9" r="0.72" fill="#000"/>
<circle cx="207.7" cy="356.6" r="0.72" fill="#000"/>
<circle cx="205.7" cy="362.1" r="0.72" fill="#000"/>
<circle cx="204.3" cy="375.3" r="0.72" fill="#000"/>
<circle cx="205.7" cy="362.6" r="0.72" fill="#000"/>
<circle cx="207.2" cy="360.2" r="0.72" fill="#000"/>
<circle cx="206.6" cy="366.2" r="0.72" fill="#000"/>
<circle cx="207.8" cy="374.3" r="0.72" fill="#000"/>
<circle cx="207.9" cy="363.4" r="0.72" fill="#000"/>
<circle cx="205.2" cy="360.8" r="0.72" fill="#000"/>
<circle cx="205.1" cy="374.2" r="0.72" fill="#000"/>
<circle cx="205.7" cy="348.4" r="0.72" fill="#000"/>
<circle cx="206.7" cy="382.1" r="0.72" fill="#000"/>
<circle cx="206.5" cy="345.8" r="0.72" fill="#000"/>
<circle cx="206.5" cy="358.4" r="0.72" fill="#000"/>
<circle cx="206.4" cy="375.5" r="0.72" fill="#000"/>
<circle cx="208.3" cy="365.5" r="0.72" fill="#000"/>
<circle cx="206.3" cy="352.2" r="0.72" fill="#000"/>
<circle cx="208.2" cy="365.4" r="0.72" fill="#000"/>
<circle cx="207.9" cy="360.7" r="0.72" fill="#000"/>
<circle cx="204.1" cy="383.5" r="0.72" fill="#000"/>
<circle cx="205.7" cy="365.8" r="0.72" fill="#000"/>
<circle cx="206.3" cy="379.4" r="0.72" fill="#000"/>
<circle cx="205.4" cy="357.7" r="0.72" fill="#000"/>
<circle cx="208.2" cy="382.0" r="0.72" fill="#000"/>
<circle cx="205.7" cy="370.2" r="0.72" fill="#000"/>
<circle cx="207.5" cy="359.3" r="0.72" fill="#000"/>
<circle cx="207.4" cy="372.3" r="0.72" fill="#000"/>
<circle cx="206.2" cy="372.1" r="0.72" fill="#000"/>
<circle cx="204.7" cy="364.2" r="0.72" fill="#000"/>
<circle cx="208.1" cy="355.3" r="0.72" fill="#000"/>
<circle cx="204.7" cy="361.2" r="0.72" fill="#000"/>
<circle cx="207.1" cy="359.9" r="0.72" fill="#000"/>
<circle cx="204.5" cy="371.8" r="0.72" fill="#000"/>
<circle cx="207.6" cy="358.8" r="0.72" fill="#000"/>
<circle cx="205.0" cy="363.0" r="0.72" fill="#000"/>
<circle cx="204.0" cy="366.2" r="0.72" fill="#000"/>
<circle cx="207.6" cy="357.9" r="0.72" fill="#000"/>
<circle cx="207.4" cy="382.4" r="0.72" fill="#000"/>
<circle cx="205.4" cy="379.4" r="0.72" fill="#000"/>
<circle cx="207.0" cy="371.8" r="0.72" fill="#000"/>
<circle cx="207.7" cy="360.0" r="0.72" fill="#000"/>
<circle cx="206.4" cy="362.2" r="0.72" fill="#000"/>
<circle cx="207.9" cy="386.9" r="0.72" fill="#000"/>
<circle cx="207.0" cy="379.0" r="0.72" fill="#000"/>
<circle cx="207.4" cy="383.0" r="0.72" fill="#000"/>
<circle cx="204.4" cy="371.7" r="0.72" fill="#000"/>
<circle cx="206.1" cy="382.6" r="0.72" fill="#000"/>
<circle cx="205.5" cy="366.1" r="0.72" fill="#000"/>
<circle cx="204.7" cy="367.7" r="0.72" fill="#000"/>
<circle cx="204.4" cy="381.7" r="0.72" fill="#000"/>
<circle cx="206.9" cy="370.5" r="0.72" fill="#000"/>
<circle cx="205.8" cy="367.5" r="0.72" fill="#000"/>
<circle cx="205.1" cy="373.3" r="0.72" fill="#000"/>
<circle cx="207.1" cy="365.2" r="0.72" fill="#000"/>
<circle cx="205.6" cy="403.0" r="0.75" fill="#222"/>
<circle cx="206.8" cy="403.0" r="0.75" fill="#222"/>
<line x1="216.60" y1="357.30" x2="216.60" y2="362.70" stroke="#555" stroke-width="0.9"/>
<line x1="216.60" y1="377.50" x2="216.60" y2="400.40" stroke="#555" stroke-width="0.9"/>
<rect x="212.80" y="362.70" width="7.60" height="14.80" fill="#f27a2a"/>
<line x1="212.80" y1="363.20" x2="220.40" y2="363.20" stroke="#1a1a1a" stroke-width="1.1"/>
<circle cx="216.2" cy="357.3" r="0.72" fill="#000"/>
<circle cx="216.6" cy="400.4" r="0.72" fill="#000"/>
<circle cx="215.6" cy="378.2" r="0.72" fill="#000"/>
<circle cx="216.1" cy="362.7" r="0.72" fill="#000"/>
<circle cx="218.5" cy="362.6" r="0.72" fill="#000"/>
<circle cx="215.5" cy="361.9" r="0.72" fill="#000"/>
<circle cx="216.6" cy="361.7" r="0.72" fill="#000"/>
<circle cx="215.1" cy="362.6" r="0.72" fill="#000"/>
<circle cx="216.1" cy="387.5" r="0.72" fill="#000"/>
<circle cx="218.3" cy="363.2" r="0.72" fill="#000"/>
<circle cx="217.7" cy="384.7" r="0.72" fill="#000"/>
<circle cx="217.3" cy="384.3" r="0.72" fill="#000"/>
<line x1="227.00" y1="334.40" x2="227.00" y2="356.00" stroke="#555" stroke-width="0.9"/>
<line x1="227.00" y1="368.10" x2="227.00" y2="384.20" stroke="#555" stroke-width="0.9"/>
<rect x="223.20" y="356.00" width="7.60" height="12.10" fill="#34a8e4"/>
<line x1="223.20" y1="361.40" x2="230.80" y2="361.40" stroke="#1a1a1a" stroke-width="1.1"/>
<circle cx="228.0" cy="334.4" r="0.72" fill="#000"/>
<circle cx="227.2" cy="384.2" r="0.72" fill="#000"/>
<circle cx="225.4" cy="351.2" r="0.72" fill="#000"/>
<circle cx="226.6" cy="351.1" r="0.72" fill="#000"/>
<circle cx="224.9" cy="348.9" r="0.72" fill="#000"/>
<circle cx="228.4" cy="365.5" r="0.72" fill="#000"/>
<circle cx="226.9" cy="371.9" r="0.72" fill="#000"/>
<circle cx="225.7" cy="354.4" r="0.72" fill="#000"/>
<circle cx="229.1" cy="361.0" r="0.72" fill="#000"/>
<circle cx="226.6" cy="353.1" r="0.72" fill="#000"/>
<circle cx="228.7" cy="358.0" r="0.72" fill="#000"/>
<circle cx="225.3" cy="356.3" r="0.72" fill="#000"/>
<circle cx="227.4" cy="360.2" r="0.72" fill="#000"/>
<circle cx="229.1" cy="355.7" r="0.72" fill="#000"/>
<circle cx="225.6" cy="356.5" r="0.72" fill="#000"/>
<line x1="237.40" y1="353.30" x2="237.40" y2="354.60" stroke="#555" stroke-width="0.9"/>
<line x1="237.40" y1="367.50" x2="237.40" y2="385.60" stroke="#555" stroke-width="0.9"/>
<rect x="233.60" y="354.60" width="7.60" height="12.90" fill="#44b844"/>
<line x1="233.60" y1="362.20" x2="241.20" y2="362.20" stroke="#1a1a1a" stroke-width="1.1"/>
<circle cx="238.0" cy="353.3" r="0.72" fill="#000"/>
<circle cx="237.9" cy="385.6" r="0.72" fill="#000"/>
<circle cx="236.1" cy="372.2" r="0.72" fill="#000"/>
<circle cx="236.7" cy="358.4" r="0.72" fill="#000"/>
<circle cx="239.1" cy="360.3" r="0.72" fill="#000"/>
<circle cx="237.1" cy="378.5" r="0.72" fill="#000"/>
<circle cx="235.5" cy="358.9" r="0.72" fill="#000"/>
<circle cx="238.2" cy="361.5" r="0.72" fill="#000"/>
<circle cx="236.5" cy="374.9" r="0.72" fill="#000"/>
<circle cx="238.1" cy="371.2" r="0.72" fill="#000"/>
<circle cx="237.3" cy="354.7" r="0.72" fill="#000"/>
<circle cx="238.0" cy="377.1" r="0.72" fill="#000"/>
<circle cx="236.2" cy="367.7" r="0.72" fill="#000"/>
<circle cx="238.8" cy="359.2" r="0.72" fill="#000"/>
<circle cx="238.8" cy="360.0" r="0.72" fill="#000"/>
<circle cx="237.7" cy="355.8" r="0.72" fill="#000"/>
<circle cx="238.2" cy="384.8" r="0.72" fill="#000"/>
<circle cx="236.7" cy="358.9" r="0.72" fill="#000"/>
<circle cx="235.3" cy="380.5" r="0.72" fill="#000"/>
<circle cx="239.0" cy="358.2" r="0.72" fill="#000"/>
<line x1="247.80" y1="345.20" x2="247.80" y2="359.50" stroke="#555" stroke-width="0.9"/>
<line x1="247.80" y1="366.70" x2="247.80" y2="384.20" stroke="#555" stroke-width="0.9"/>
<rect x="244.00" y="359.50" width="7.60" height="7.20" fill="#22b0a4"/>
<line x1="244.00" y1="362.70" x2="251.60" y2="362.70" stroke="#1a1a1a" stroke-width="1.1"/>
<circle cx="247.5" cy="345.2" r="0.72" fill="#000"/>
<circle cx="247.8" cy="384.2" r="0.72" fill="#000"/>
<circle cx="249.9" cy="354.9" r="0.72" fill="#000"/>
<circle cx="249.9" cy="358.8" r="0.72" fill="#000"/>
<circle cx="245.7" cy="379.4" r="0.72" fill="#000"/>
<circle cx="247.0" cy="356.5" r="0.72" fill="#000"/>
<circle cx="248.0" cy="375.8" r="0.72" fill="#000"/>
<circle cx="247.8" cy="369.3" r="0.72" fill="#000"/>
<circle cx="246.6" cy="375.3" r="0.72" fill="#000"/>
<circle cx="248.5" cy="367.3" r="0.72" fill="#000"/>
<circle cx="248.4" cy="362.7" r="0.72" fill="#000"/>
<circle cx="246.5" cy="361.9" r="0.72" fill="#000"/>
<circle cx="248.2" cy="355.7" r="0.72" fill="#000"/>
<circle cx="247.1" cy="364.4" r="0.72" fill="#000"/>
<circle cx="248.8" cy="358.8" r="0.72" fill="#000"/>
<circle cx="246.4" cy="367.5" r="0.72" fill="#000"/>
<circle cx="246.2" cy="370.1" r="0.72" fill="#000"/>
<circle cx="247.9" cy="355.0" r="0.72" fill="#000"/>
<circle cx="249.7" cy="379.7" r="0.72" fill="#000"/>
<circle cx="248.7" cy="374.4" r="0.72" fill="#000"/>
<circle cx="246.7" cy="369.3" r="0.72" fill="#000"/>
<circle cx="247.1" cy="363.6" r="0.72" fill="#000"/>
<circle cx="246.5" cy="362.5" r="0.72" fill="#000"/>
<circle cx="249.3" cy="363.7" r="0.72" fill="#000"/>
<circle cx="245.7" cy="362.1" r="0.72" fill="#000"/>
<circle cx="246.1" cy="362.2" r="0.72" fill="#000"/>
<circle cx="246.1" cy="366.8" r="0.72" fill="#000"/>
<circle cx="248.1" cy="355.0" r="0.72" fill="#000"/>
<circle cx="249.0" cy="360.7" r="0.72" fill="#000"/>
<circle cx="247.1" cy="369.5" r="0.72" fill="#000"/>
<circle cx="247.7" cy="364.7" r="0.72" fill="#000"/>
<circle cx="246.2" cy="356.8" r="0.72" fill="#000"/>
<circle cx="249.7" cy="361.0" r="0.72" fill="#000"/>
<circle cx="245.7" cy="361.3" r="0.72" fill="#000"/>
<circle cx="249.3" cy="363.2" r="0.72" fill="#000"/>
<circle cx="247.2" cy="380.0" r="0.75" fill="#222"/>
<circle cx="248.4" cy="380.0" r="0.75" fill="#222"/>
<line x1="258.20" y1="343.80" x2="258.20" y2="352.50" stroke="#555" stroke-width="0.9"/>
<line x1="258.20" y1="365.40" x2="258.20" y2="381.50" stroke="#555" stroke-width="0.9"/>
<rect x="254.40" y="352.50" width="7.60" height="12.90" fill="#e66cb4"/>
<line x1="254.40" y1="359.50" x2="262.00" y2="359.50" stroke="#1a1a1a" stroke-width="1.1"/>
<circle cx="259.0" cy="343.8" r="0.72" fill="#000"/>
<circle cx="258.6" cy="381.5" r="0.72" fill="#000"/>
<circle cx="256.5" cy="366.3" r="0.72" fill="#000"/>
<circle cx="256.8" cy="363.7" r="0.72" fill="#000"/>
<circle cx="256.4" cy="361.3" r="0.72" fill="#000"/>
<circle cx="257.0" cy="362.4" r="0.72" fill="#000"/>
<circle cx="258.1" cy="355.4" r="0.72" fill="#000"/>
<circle cx="260.2" cy="354.0" r="0.72" fill="#000"/>
<circle cx="260.3" cy="367.0" r="0.72" fill="#000"/>
<circle cx="260.1" cy="362.9" r="0.72" fill="#000"/>
<circle cx="259.4" cy="375.8" r="0.72" fill="#000"/>
<circle cx="258.6" cy="370.0" r="0.72" fill="#000"/>
<circle cx="256.5" cy="379.9" r="0.72" fill="#000"/>
<circle cx="259.0" cy="358.0" r="0.72" fill="#000"/>
<circle cx="259.3" cy="350.6" r="0.72" fill="#000"/>
<circle cx="257.7" cy="379.0" r="0.72" fill="#000"/>
<circle cx="257.3" cy="362.3" r="0.72" fill="#000"/>
<circle cx="256.3" cy="369.5" r="0.72" fill="#000"/>
<circle cx="259.0" cy="361.1" r="0.72" fill="#000"/>
<circle cx="260.2" cy="380.4" r="0.72" fill="#000"/>
<circle cx="259.2" cy="370.3" r="0.72" fill="#000"/>
<circle cx="256.1" cy="355.5" r="0.72" fill="#000"/>
<circle cx="259.6" cy="346.6" r="0.72" fill="#000"/>
<circle cx="260.1" cy="344.9" r="0.72" fill="#000"/>
<circle cx="256.6" cy="345.4" r="0.72" fill="#000"/>
<circle cx="259.3" cy="363.9" r="0.72" fill="#000"/>
<circle cx="259.9" cy="349.3" r="0.72" fill="#000"/>
<circle cx="257.8" cy="354.7" r="0.72" fill="#000"/>
<circle cx="256.0" cy="356.8" r="0.72" fill="#000"/>
<circle cx="256.5" cy="370.2" r="0.72" fill="#000"/>
<circle cx="256.2" cy="367.2" r="0.72" fill="#000"/>
<circle cx="258.2" cy="345.3" r="0.72" fill="#000"/>
<circle cx="259.5" cy="365.9" r="0.72" fill="#000"/>
<circle cx="257.8" cy="376.8" r="0.72" fill="#000"/>
<circle cx="258.0" cy="352.8" r="0.72" fill="#000"/>
<circle cx="258.5" cy="367.8" r="0.72" fill="#000"/>
<circle cx="260.4" cy="347.1" r="0.72" fill="#000"/>
<circle cx="257.4" cy="344.4" r="0.72" fill="#000"/>
<circle cx="256.5" cy="358.6" r="0.72" fill="#000"/>
<circle cx="258.1" cy="378.7" r="0.72" fill="#000"/>
<line x1="268.60" y1="339.80" x2="268.60" y2="353.30" stroke="#555" stroke-width="0.9"/>
<line x1="268.60" y1="365.90" x2="268.60" y2="395.00" stroke="#555" stroke-width="0.9"/>
<rect x="264.80" y="353.30" width="7.60" height="12.60" fill="#22a865"/>
<line x1="264.80" y1="358.70" x2="272.40" y2="358.70" stroke="#1a1a1a" stroke-width="1.1"/>
<circle cx="268.0" cy="339.8" r="0.72" fill="#000"/>
<circle cx="269.7" cy="395.0" r="0.72" fill="#000"/>
<circle cx="269.8" cy="353.3" r="0.72" fill="#000"/>
<circle cx="270.0" cy="358.8" r="0.72" fill="#000"/>
<circle cx="267.3" cy="364.0" r="0.72" fill="#000"/>
<circle cx="269.7" cy="379.7" r="0.72" fill="#000"/>
<circle cx="269.8" cy="358.1" r="0.72" fill="#000"/>
<circle cx="269.3" cy="342.0" r="0.72" fill="#000"/>
<circle cx="269.0" cy="351.8" r="0.72" fill="#000"/>
<circle cx="267.0" cy="359.3" r="0.72" fill="#000"/>
<circle cx="268.3" cy="348.3" r="0.72" fill="#000"/>
<circle cx="268.1" cy="351.7" r="0.72" fill="#000"/>
<circle cx="268.0" cy="355.9" r="0.72" fill="#000"/>
<circle cx="269.6" cy="360.4" r="0.72" fill="#000"/>
<circle cx="268.4" cy="359.8" r="0.72" fill="#000"/>
<circle cx="266.5" cy="354.7" r="0.72" fill="#000"/>
<circle cx="270.5" cy="364.6" r="0.72" fill="#000"/>
<circle cx="267.8" cy="365.5" r="0.72" fill="#000"/>
<circle cx="270.1" cy="389.1" r="0.72" fill="#000"/>
<circle cx="269.5" cy="353.9" r="0.72" fill="#000"/>
<circle cx="267.4" cy="350.9" r="0.72" fill="#000"/>
<circle cx="270.2" cy="360.7" r="0.72" fill="#000"/>
<circle cx="270.7" cy="369.5" r="0.72" fill="#000"/>
<circle cx="268.4" cy="368.1" r="0.72" fill="#000"/>
<circle cx="269.6" cy="343.1" r="0.72" fill="#000"/>
<circle cx="269.3" cy="384.5" r="0.72" fill="#000"/>
<circle cx="269.1" cy="378.0" r="0.72" fill="#000"/>
<circle cx="268.3" cy="372.3" r="0.72" fill="#000"/>
<circle cx="269.6" cy="391.1" r="0.72" fill="#000"/>
<circle cx="267.9" cy="352.4" r="0.72" fill="#000"/>
<circle cx="267.8" cy="347.0" r="0.72" fill="#000"/>
<circle cx="269.6" cy="361.3" r="0.72" fill="#000"/>
<circle cx="270.6" cy="354.0" r="0.72" fill="#000"/>
<circle cx="266.9" cy="353.6" r="0.72" fill="#000"/>
<circle cx="269.1" cy="371.6" r="0.72" fill="#000"/>
<circle cx="266.9" cy="357.5" r="0.72" fill="#000"/>
<circle cx="267.2" cy="361.0" r="0.72" fill="#000"/>
<circle cx="268.7" cy="346.0" r="0.72" fill="#000"/>
<circle cx="267.6" cy="372.1" r="0.72" fill="#000"/>
<circle cx="267.1" cy="347.0" r="0.72" fill="#000"/>
<circle cx="270.4" cy="364.0" r="0.72" fill="#000"/>
<circle cx="267.0" cy="350.4" r="0.72" fill="#000"/>
<circle cx="268.1" cy="358.1" r="0.72" fill="#000"/>
<circle cx="268.1" cy="351.2" r="0.72" fill="#000"/>
<circle cx="270.4" cy="365.6" r="0.72" fill="#000"/>
<circle cx="270.7" cy="365.8" r="0.72" fill="#000"/>
<circle cx="269.4" cy="355.8" r="0.72" fill="#000"/>
<circle cx="270.3" cy="358.1" r="0.72" fill="#000"/>
<circle cx="269.5" cy="364.4" r="0.72" fill="#000"/>
<circle cx="267.2" cy="353.3" r="0.72" fill="#000"/>
<circle cx="269.4" cy="357.8" r="0.72" fill="#000"/>
<circle cx="268.3" cy="375.5" r="0.72" fill="#000"/>
<circle cx="267.3" cy="354.1" r="0.72" fill="#000"/>
<circle cx="268.8" cy="359.0" r="0.72" fill="#000"/>
<circle cx="267.6" cy="358.8" r="0.72" fill="#000"/>
<circle cx="269.9" cy="367.6" r="0.72" fill="#000"/>
<circle cx="269.3" cy="353.4" r="0.72" fill="#000"/>
<circle cx="267.1" cy="342.3" r="0.72" fill="#000"/>
<circle cx="270.0" cy="369.0" r="0.72" fill="#000"/>
<circle cx="268.3" cy="342.9" r="0.72" fill="#000"/>
<circle cx="268.0" cy="393.0" r="0.75" fill="#222"/>
<circle cx="269.2" cy="393.0" r="0.75" fill="#222"/>
<line x1="279.00" y1="357.50" x2="279.00" y2="359.20" stroke="#555" stroke-width="0.9"/>
<line x1="279.00" y1="360.80" x2="279.00" y2="362.00" stroke="#555" stroke-width="0.9"/>
<rect x="275.20" y="359.20" width="7.60" height="1.60" fill="#c03050"/>
<line x1="275.20" y1="360.00" x2="282.80" y2="360.00" stroke="#1a1a1a" stroke-width="1.1"/>
<circle cx="279.9" cy="357.5" r="0.72" fill="#000"/>
<circle cx="278.6" cy="362.0" r="0.72" fill="#000"/>
<circle cx="278.4" cy="360.3" r="0.72" fill="#000"/>
<line x1="289.40" y1="337.00" x2="289.40" y2="352.50" stroke="#555" stroke-width="0.9"/>
<line x1="289.40" y1="365.40" x2="289.40" y2="384.20" stroke="#555" stroke-width="0.9"/>
<rect x="285.60" y="352.50" width="7.60" height="12.90" fill="#c8b030"/>
<line x1="285.60" y1="358.70" x2="293.20" y2="358.70" stroke="#1a1a1a" stroke-width="1.1"/>
<circle cx="289.9" cy="337.0" r="0.72" fill="#000"/>
<circle cx="289.4" cy="384.2" r="0.72" fill="#000"/>
<circle cx="291.5" cy="341.1" r="0.72" fill="#000"/>
<circle cx="288.7" cy="365.9" r="0.72" fill="#000"/>
<circle cx="291.3" cy="357.6" r="0.72" fill="#000"/>
<circle cx="290.0" cy="344.8" r="0.72" fill="#000"/>
<circle cx="289.4" cy="347.8" r="0.72" fill="#000"/>
<circle cx="287.7" cy="378.3" r="0.72" fill="#000"/>
<circle cx="289.5" cy="348.4" r="0.72" fill="#000"/>
<circle cx="291.1" cy="344.7" r="0.72" fill="#000"/>
<circle cx="287.4" cy="353.8" r="0.72" fill="#000"/>
<circle cx="287.8" cy="367.3" r="0.72" fill="#000"/>
<circle cx="290.6" cy="359.7" r="0.72" fill="#000"/>
<circle cx="290.9" cy="350.9" r="0.72" fill="#000"/>
<circle cx="290.7" cy="370.5" r="0.72" fill="#000"/>
<circle cx="287.9" cy="368.2" r="0.72" fill="#000"/>
<circle cx="287.9" cy="356.6" r="0.72" fill="#000"/>
<circle cx="287.8" cy="363.5" r="0.72" fill="#000"/>
<circle cx="289.0" cy="347.6" r="0.72" fill="#000"/>
<circle cx="287.6" cy="355.0" r="0.72" fill="#000"/>
<circle cx="291.3" cy="376.9" r="0.72" fill="#000"/>
<circle cx="289.6" cy="351.2" r="0.72" fill="#000"/>
<circle cx="288.3" cy="354.6" r="0.72" fill="#000"/>
<circle cx="288.6" cy="378.3" r="0.72" fill="#000"/>
<circle cx="289.6" cy="356.7" r="0.72" fill="#000"/>
<circle cx="290.7" cy="370.3" r="0.72" fill="#000"/>
<circle cx="287.8" cy="365.1" r="0.72" fill="#000"/>
<circle cx="290.3" cy="353.2" r="0.72" fill="#000"/>
<circle cx="290.9" cy="355.8" r="0.72" fill="#000"/>
<circle cx="290.8" cy="363.5" r="0.72" fill="#000"/>
<circle cx="290.5" cy="353.9" r="0.72" fill="#000"/>
<circle cx="288.8" cy="369.5" r="0.72" fill="#000"/>
<circle cx="290.5" cy="343.7" r="0.72" fill="#000"/>
<circle cx="288.8" cy="369.9" r="0.72" fill="#000"/>
<circle cx="290.7" cy="378.8" r="0.72" fill="#000"/>
<circle cx="291.4" cy="364.3" r="0.72" fill="#000"/>
<circle cx="289.5" cy="375.2" r="0.72" fill="#000"/>
<circle cx="289.6" cy="362.0" r="0.72" fill="#000"/>
<circle cx="291.2" cy="355.0" r="0.72" fill="#000"/>
<circle cx="290.2" cy="343.5" r="0.72" fill="#000"/>
<circle cx="290.7" cy="357.3" r="0.72" fill="#000"/>
<circle cx="287.2" cy="361.6" r="0.72" fill="#000"/>
<circle cx="287.9" cy="373.8" r="0.72" fill="#000"/>
<circle cx="290.6" cy="357.4" r="0.72" fill="#000"/>
<circle cx="291.2" cy="361.9" r="0.72" fill="#000"/>
<circle cx="288.4" cy="350.3" r="0.72" fill="#000"/>
<circle cx="290.6" cy="365.5" r="0.72" fill="#000"/>
<circle cx="289.3" cy="353.7" r="0.72" fill="#000"/>
<circle cx="288.8" cy="373.9" r="0.72" fill="#000"/>
<circle cx="289.7" cy="354.7" r="0.72" fill="#000"/>
<circle cx="289.5" cy="349.5" r="0.72" fill="#000"/>
<circle cx="290.3" cy="379.9" r="0.72" fill="#000"/>
<circle cx="290.9" cy="359.7" r="0.72" fill="#000"/>
<circle cx="290.3" cy="352.9" r="0.72" fill="#000"/>
<circle cx="290.1" cy="338.1" r="0.72" fill="#000"/>
<circle cx="287.5" cy="342.8" r="0.72" fill="#000"/>
<circle cx="288.6" cy="381.5" r="0.72" fill="#000"/>
<circle cx="287.5" cy="358.1" r="0.72" fill="#000"/>
<circle cx="289.2" cy="365.4" r="0.72" fill="#000"/>
<circle cx="289.9" cy="348.7" r="0.72" fill="#000"/>
<circle cx="290.4" cy="383.3" r="0.72" fill="#000"/>
<circle cx="287.5" cy="355.2" r="0.72" fill="#000"/>
<circle cx="287.8" cy="353.3" r="0.72" fill="#000"/>
<circle cx="291.4" cy="377.5" r="0.72" fill="#000"/>
<circle cx="287.3" cy="347.5" r="0.72" fill="#000"/>
<circle cx="289.5" cy="339.7" r="0.72" fill="#000"/>
<circle cx="290.2" cy="357.2" r="0.72" fill="#000"/>
<circle cx="290.4" cy="352.3" r="0.72" fill="#000"/>
<circle cx="290.3" cy="354.2" r="0.72" fill="#000"/>
<circle cx="287.4" cy="351.3" r="0.72" fill="#000"/>
<circle cx="289.9" cy="360.5" r="0.72" fill="#000"/>
<circle cx="291.1" cy="377.6" r="0.72" fill="#000"/>
<circle cx="288.0" cy="363.3" r="0.72" fill="#000"/>
<circle cx="291.5" cy="371.8" r="0.72" fill="#000"/>
<circle cx="288.8" cy="337.3" r="0.72" fill="#000"/>
<circle cx="289.8" cy="349.0" r="0.72" fill="#000"/>
<circle cx="288.7" cy="376.8" r="0.72" fill="#000"/>
<circle cx="288.0" cy="354.9" r="0.72" fill="#000"/>
<circle cx="289.8" cy="366.2" r="0.72" fill="#000"/>
<circle cx="290.4" cy="370.2" r="0.72" fill="#000"/>
<circle cx="291.3" cy="363.5" r="0.72" fill="#000"/>
<circle cx="291.6" cy="354.6" r="0.72" fill="#000"/>
<circle cx="287.3" cy="366.0" r="0.72" fill="#000"/>
<circle cx="288.4" cy="356.8" r="0.72" fill="#000"/>
<circle cx="291.3" cy="351.0" r="0.72" fill="#000"/>
<circle cx="291.1" cy="368.7" r="0.72" fill="#000"/>
<circle cx="287.3" cy="375.8" r="0.72" fill="#000"/>
<circle cx="288.8" cy="365.9" r="0.72" fill="#000"/>
<circle cx="288.2" cy="356.3" r="0.72" fill="#000"/>
<circle cx="291.2" cy="356.3" r="0.72" fill="#000"/>
<circle cx="288.7" cy="369.9" r="0.72" fill="#000"/>
<circle cx="291.6" cy="340.7" r="0.72" fill="#000"/>
<circle cx="289.2" cy="355.3" r="0.72" fill="#000"/>
<circle cx="289.5" cy="381.0" r="0.72" fill="#000"/>
<circle cx="291.5" cy="361.5" r="0.72" fill="#000"/>
<circle cx="290.1" cy="354.7" r="0.72" fill="#000"/>
<circle cx="290.9" cy="348.8" r="0.72" fill="#000"/>
<circle cx="287.3" cy="377.5" r="0.72" fill="#000"/>
<circle cx="289.7" cy="365.6" r="0.72" fill="#000"/>
<circle cx="289.1" cy="380.5" r="0.72" fill="#000"/>
<circle cx="289.8" cy="356.4" r="0.72" fill="#000"/>
<circle cx="290.3" cy="363.1" r="0.72" fill="#000"/>
<circle cx="290.8" cy="349.1" r="0.72" fill="#000"/>
<circle cx="291.1" cy="358.8" r="0.72" fill="#000"/>
<circle cx="290.5" cy="337.2" r="0.72" fill="#000"/>
<circle cx="289.1" cy="357.5" r="0.72" fill="#000"/>
<circle cx="291.5" cy="364.8" r="0.72" fill="#000"/>
<circle cx="290.3" cy="340.5" r="0.72" fill="#000"/>
<circle cx="289.1" cy="347.5" r="0.72" fill="#000"/>
<circle cx="288.6" cy="360.1" r="0.72" fill="#000"/>
<circle cx="289.0" cy="353.3" r="0.72" fill="#000"/>
<circle cx="288.6" cy="359.6" r="0.72" fill="#000"/>
<circle cx="290.0" cy="360.5" r="0.72" fill="#000"/>
<circle cx="291.2" cy="362.9" r="0.72" fill="#000"/>
<circle cx="290.1" cy="372.2" r="0.72" fill="#000"/>
<circle cx="290.5" cy="368.2" r="0.72" fill="#000"/>
<circle cx="289.3" cy="368.6" r="0.72" fill="#000"/>
<circle cx="288.0" cy="351.2" r="0.72" fill="#000"/>
<circle cx="289.6" cy="352.6" r="0.72" fill="#000"/>
<circle cx="288.6" cy="371.4" r="0.72" fill="#000"/>
<circle cx="290.4" cy="366.8" r="0.72" fill="#000"/>
<circle cx="291.6" cy="369.6" r="0.72" fill="#000"/>
<circle cx="291.3" cy="358.3" r="0.72" fill="#000"/>
<circle cx="288.1" cy="348.1" r="0.72" fill="#000"/>
<circle cx="291.5" cy="343.6" r="0.72" fill="#000"/>
<circle cx="289.3" cy="351.5" r="0.72" fill="#000"/>
<circle cx="290.1" cy="344.2" r="0.72" fill="#000"/>
<circle cx="287.4" cy="340.4" r="0.72" fill="#000"/>
<circle cx="287.3" cy="343.2" r="0.72" fill="#000"/>
<circle cx="291.0" cy="354.5" r="0.72" fill="#000"/>
<circle cx="291.4" cy="354.1" r="0.72" fill="#000"/>
<circle cx="288.4" cy="350.3" r="0.72" fill="#000"/>
<circle cx="287.2" cy="350.8" r="0.72" fill="#000"/>
<circle cx="291.1" cy="352.1" r="0.72" fill="#000"/>
<circle cx="289.9" cy="366.9" r="0.72" fill="#000"/>
<circle cx="287.7" cy="360.6" r="0.72" fill="#000"/>
<circle cx="289.1" cy="350.0" r="0.72" fill="#000"/>
<circle cx="291.6" cy="366.4" r="0.72" fill="#000"/>
<circle cx="290.3" cy="372.8" r="0.72" fill="#000"/>
<circle cx="290.9" cy="338.7" r="0.72" fill="#000"/>
<circle cx="290.0" cy="351.3" r="0.72" fill="#000"/>
<circle cx="289.5" cy="356.5" r="0.72" fill="#000"/>
<circle cx="288.7" cy="353.1" r="0.72" fill="#000"/>
<circle cx="291.2" cy="383.2" r="0.72" fill="#000"/>
<circle cx="287.2" cy="381.0" r="0.72" fill="#000"/>
<circle cx="290.8" cy="370.9" r="0.72" fill="#000"/>
<circle cx="290.7" cy="369.0" r="0.72" fill="#000"/>
<circle cx="287.6" cy="337.6" r="0.72" fill="#000"/>
<circle cx="288.2" cy="364.4" r="0.72" fill="#000"/>
<circle cx="287.7" cy="349.0" r="0.72" fill="#000"/>
<circle cx="289.0" cy="359.0" r="0.72" fill="#000"/>
<circle cx="291.5" cy="362.9" r="0.72" fill="#000"/>
<circle cx="291.3" cy="347.2" r="0.72" fill="#000"/>
<circle cx="288.2" cy="373.1" r="0.72" fill="#000"/>
<circle cx="288.7" cy="366.9" r="0.72" fill="#000"/>
<circle cx="287.8" cy="368.6" r="0.72" fill="#000"/>
<circle cx="289.4" cy="362.6" r="0.72" fill="#000"/>
<circle cx="288.7" cy="343.1" r="0.72" fill="#000"/>
<circle cx="290.5" cy="356.7" r="0.72" fill="#000"/>
<circle cx="290.9" cy="365.2" r="0.72" fill="#000"/>
<circle cx="289.7" cy="353.6" r="0.72" fill="#000"/>
<circle cx="287.6" cy="355.3" r="0.72" fill="#000"/>
<circle cx="287.7" cy="357.2" r="0.72" fill="#000"/>
<circle cx="290.4" cy="370.8" r="0.72" fill="#000"/>
<circle cx="290.8" cy="363.0" r="0.72" fill="#000"/>
<circle cx="288.2" cy="374.0" r="0.72" fill="#000"/>
<circle cx="287.9" cy="353.0" r="0.72" fill="#000"/>
<circle cx="290.0" cy="363.5" r="0.72" fill="#000"/>
<circle cx="289.4" cy="362.4" r="0.72" fill="#000"/>
<circle cx="289.6" cy="351.3" r="0.72" fill="#000"/>
<circle cx="291.2" cy="365.6" r="0.72" fill="#000"/>
<circle cx="290.7" cy="350.8" r="0.72" fill="#000"/>
<circle cx="287.2" cy="349.4" r="0.72" fill="#000"/>
<circle cx="287.7" cy="360.1" r="0.72" fill="#000"/>
<circle cx="287.8" cy="368.1" r="0.72" fill="#000"/>
<circle cx="287.2" cy="360.3" r="0.72" fill="#000"/>
<circle cx="288.1" cy="355.0" r="0.72" fill="#000"/>
<circle cx="288.3" cy="349.3" r="0.72" fill="#000"/>
<circle cx="289.0" cy="354.1" r="0.72" fill="#000"/>
<circle cx="290.9" cy="357.9" r="0.72" fill="#000"/>
<circle cx="288.8" cy="405.0" r="0.75" fill="#222"/>
<circle cx="290.0" cy="405.0" r="0.75" fill="#222"/>
<text x="7.8" y="463.3" font-size="11.4" text-anchor="start" font-weight="bold" fill="#000" >D</text>
<text x="169.0" y="464.5" font-size="9.8" text-anchor="middle" font-weight="normal" fill="#1a1a1a" textLength="25.6" lengthAdjust="spacingAndGlyphs">B-ALL</text>
<line x1="44.40" y1="471.30" x2="44.40" y2="600.00" stroke="#2b2b2b" stroke-width="1.1"/>
<line x1="43.90" y1="599.50" x2="295.00" y2="599.50" stroke="#2b2b2b" stroke-width="1.1"/>
<line x1="41.40" y1="473.10" x2="44.40" y2="473.10" stroke="#2b2b2b" stroke-width="1"/>
<text x="37.8" y="476.0" font-size="8.4" text-anchor="end" font-weight="normal" fill="#1a1a1a" >5.0</text>
<line x1="41.40" y1="511.50" x2="44.40" y2="511.50" stroke="#2b2b2b" stroke-width="1"/>
<text x="37.8" y="514.4" font-size="8.4" text-anchor="end" font-weight="normal" fill="#1a1a1a" >2.5</text>
<line x1="41.40" y1="549.90" x2="44.40" y2="549.90" stroke="#2b2b2b" stroke-width="1"/>
<text x="37.8" y="552.8" font-size="8.4" text-anchor="end" font-weight="normal" fill="#1a1a1a" >0.0</text>
<line x1="41.40" y1="588.30" x2="44.40" y2="588.30" stroke="#2b2b2b" stroke-width="1"/>
<text x="37.8" y="591.2" font-size="8.4" text-anchor="end" font-weight="normal" fill="#1a1a1a" >−2.5</text>
<line x1="50.20" y1="599.50" x2="50.20" y2="602.30" stroke="#2b2b2b" stroke-width="1"/>
<line x1="60.60" y1="599.50" x2="60.60" y2="602.30" stroke="#2b2b2b" stroke-width="1"/>
<line x1="71.00" y1="599.50" x2="71.00" y2="602.30" stroke="#2b2b2b" stroke-width="1"/>
<line x1="81.40" y1="599.50" x2="81.40" y2="602.30" stroke="#2b2b2b" stroke-width="1"/>
<line x1="91.80" y1="599.50" x2="91.80" y2="602.30" stroke="#2b2b2b" stroke-width="1"/>
<line x1="102.20" y1="599.50" x2="102.20" y2="602.30" stroke="#2b2b2b" stroke-width="1"/>
<line x1="112.60" y1="599.50" x2="112.60" y2="602.30" stroke="#2b2b2b" stroke-width="1"/>
<line x1="123.00" y1="599.50" x2="123.00" y2="602.30" stroke="#2b2b2b" stroke-width="1"/>
<line x1="133.40" y1="599.50" x2="133.40" y2="602.30" stroke="#2b2b2b" stroke-width="1"/>
<line x1="143.80" y1="599.50" x2="143.80" y2="602.30" stroke="#2b2b2b" stroke-width="1"/>
<line x1="154.20" y1="599.50" x2="154.20" y2="602.30" stroke="#2b2b2b" stroke-width="1"/>
<line x1="164.60" y1="599.50" x2="164.60" y2="602.30" stroke="#2b2b2b" stroke-width="1"/>
<line x1="175.00" y1="599.50" x2="175.00" y2="602.30" stroke="#2b2b2b" stroke-width="1"/>
<line x1="185.40" y1="599.50" x2="185.40" y2="602.30" stroke="#2b2b2b" stroke-width="1"/>
<line x1="195.80" y1="599.50" x2="195.80" y2="602.30" stroke="#2b2b2b" stroke-width="1"/>
<line x1="206.20" y1="599.50" x2="206.20" y2="602.30" stroke="#2b2b2b" stroke-width="1"/>
<line x1="216.60" y1="599.50" x2="216.60" y2="602.30" stroke="#2b2b2b" stroke-width="1"/>
<line x1="227.00" y1="599.50" x2="227.00" y2="602.30" stroke="#2b2b2b" stroke-width="1"/>
<line x1="237.40" y1="599.50" x2="237.40" y2="602.30" stroke="#2b2b2b" stroke-width="1"/>
<line x1="247.80" y1="599.50" x2="247.80" y2="602.30" stroke="#2b2b2b" stroke-width="1"/>
<line x1="258.20" y1="599.50" x2="258.20" y2="602.30" stroke="#2b2b2b" stroke-width="1"/>
<line x1="268.60" y1="599.50" x2="268.60" y2="602.30" stroke="#2b2b2b" stroke-width="1"/>
<line x1="279.00" y1="599.50" x2="279.00" y2="602.30" stroke="#2b2b2b" stroke-width="1"/>
<line x1="289.40" y1="599.50" x2="289.40" y2="602.30" stroke="#2b2b2b" stroke-width="1"/>
<text transform="translate(16.2,534.7) rotate(-90)" font-size="9.8" text-anchor="middle" fill="#111" stroke="#111" stroke-width="0.25" textLength="38.8" lengthAdjust="spacingAndGlyphs">BCL-XL_SIG</text>
<line x1="50.20" y1="540.40" x2="50.20" y2="552.00" stroke="#555" stroke-width="0.9"/>
<line x1="50.20" y1="559.40" x2="50.20" y2="571.00" stroke="#555" stroke-width="0.9"/>
<rect x="46.40" y="552.00" width="7.60" height="7.40" fill="#f4696b"/>
<line x1="46.40" y1="556.30" x2="54.00" y2="556.30" stroke="#1a1a1a" stroke-width="1.1"/>
<circle cx="50.3" cy="540.4" r="0.72" fill="#000"/>
<circle cx="51.0" cy="571.0" r="0.72" fill="#000"/>
<circle cx="50.2" cy="558.1" r="0.72" fill="#000"/>
<circle cx="48.5" cy="554.2" r="0.72" fill="#000"/>
<circle cx="50.8" cy="549.3" r="0.72" fill="#000"/>
<circle cx="49.7" cy="549.8" r="0.72" fill="#000"/>
<circle cx="51.7" cy="540.9" r="0.72" fill="#000"/>
<circle cx="51.4" cy="557.8" r="0.72" fill="#000"/>
<circle cx="48.9" cy="551.0" r="0.72" fill="#000"/>
<circle cx="51.6" cy="554.9" r="0.72" fill="#000"/>
<circle cx="49.1" cy="545.3" r="0.72" fill="#000"/>
<circle cx="51.0" cy="563.6" r="0.72" fill="#000"/>
<circle cx="48.4" cy="552.1" r="0.72" fill="#000"/>
<circle cx="49.2" cy="557.3" r="0.72" fill="#000"/>
<circle cx="50.8" cy="558.6" r="0.72" fill="#000"/>
<circle cx="50.2" cy="578.9" r="0.75" fill="#222"/>
<line x1="60.60" y1="532.00" x2="60.60" y2="544.20" stroke="#555" stroke-width="0.9"/>
<line x1="60.60" y1="554.10" x2="60.60" y2="566.80" stroke="#555" stroke-width="0.9"/>
<rect x="56.80" y="544.20" width="7.60" height="9.90" fill="#2aa8e0"/>
<line x1="56.80" y1="548.90" x2="64.40" y2="548.90" stroke="#1a1a1a" stroke-width="1.1"/>
<circle cx="60.3" cy="532.0" r="0.72" fill="#000"/>
<circle cx="61.6" cy="566.8" r="0.72" fill="#000"/>
<circle cx="62.3" cy="558.1" r="0.72" fill="#000"/>
<circle cx="61.0" cy="553.5" r="0.72" fill="#000"/>
<circle cx="58.5" cy="551.7" r="0.72" fill="#000"/>
<circle cx="61.0" cy="551.7" r="0.72" fill="#000"/>
<circle cx="59.5" cy="558.9" r="0.72" fill="#000"/>
<circle cx="62.6" cy="542.7" r="0.72" fill="#000"/>
<circle cx="60.3" cy="547.7" r="0.72" fill="#000"/>
<circle cx="61.8" cy="561.1" r="0.72" fill="#000"/>
<circle cx="62.6" cy="546.8" r="0.72" fill="#000"/>
<circle cx="61.7" cy="539.2" r="0.72" fill="#000"/>
<circle cx="60.3" cy="551.8" r="0.72" fill="#000"/>
<circle cx="59.4" cy="559.2" r="0.72" fill="#000"/>
<circle cx="61.5" cy="541.6" r="0.72" fill="#000"/>
<circle cx="62.8" cy="549.4" r="0.72" fill="#000"/>
<circle cx="61.3" cy="550.8" r="0.72" fill="#000"/>
<circle cx="62.5" cy="543.7" r="0.72" fill="#000"/>
<circle cx="60.5" cy="547.9" r="0.72" fill="#000"/>
<circle cx="59.8" cy="550.3" r="0.72" fill="#000"/>
<circle cx="58.7" cy="548.8" r="0.72" fill="#000"/>
<circle cx="59.9" cy="547.5" r="0.72" fill="#000"/>
<circle cx="59.0" cy="542.1" r="0.72" fill="#000"/>
<circle cx="62.7" cy="551.5" r="0.72" fill="#000"/>
<circle cx="59.8" cy="544.2" r="0.72" fill="#000"/>
<circle cx="60.6" cy="547.6" r="0.72" fill="#000"/>
<circle cx="59.3" cy="553.0" r="0.72" fill="#000"/>
<circle cx="60.2" cy="549.0" r="0.72" fill="#000"/>
<circle cx="60.6" cy="508.2" r="0.75" fill="#222"/>
<line x1="71.00" y1="525.60" x2="71.00" y2="541.40" stroke="#555" stroke-width="0.9"/>
<line x1="71.00" y1="554.10" x2="71.00" y2="570.00" stroke="#555" stroke-width="0.9"/>
<rect x="67.20" y="541.40" width="7.60" height="12.70" fill="#e0609c"/>
<line x1="67.20" y1="546.70" x2="74.80" y2="546.70" stroke="#1a1a1a" stroke-width="1.1"/>
<circle cx="70.7" cy="525.6" r="0.72" fill="#000"/>
<circle cx="71.5" cy="570.0" r="0.72" fill="#000"/>
<circle cx="71.2" cy="552.9" r="0.72" fill="#000"/>
<circle cx="70.4" cy="563.3" r="0.72" fill="#000"/>
<circle cx="70.0" cy="554.1" r="0.72" fill="#000"/>
<circle cx="72.7" cy="542.4" r="0.72" fill="#000"/>
<circle cx="70.9" cy="537.6" r="0.72" fill="#000"/>
<circle cx="69.3" cy="553.2" r="0.72" fill="#000"/>
<circle cx="69.1" cy="560.9" r="0.72" fill="#000"/>
<circle cx="72.3" cy="550.3" r="0.72" fill="#000"/>
<circle cx="70.4" cy="565.1" r="0.72" fill="#000"/>
<circle cx="70.9" cy="534.5" r="0.72" fill="#000"/>
<circle cx="69.5" cy="540.7" r="0.72" fill="#000"/>
<circle cx="69.0" cy="547.9" r="0.72" fill="#000"/>
<circle cx="71.3" cy="564.4" r="0.72" fill="#000"/>
<circle cx="70.9" cy="554.0" r="0.72" fill="#000"/>
<circle cx="72.9" cy="537.3" r="0.72" fill="#000"/>
<circle cx="71.0" cy="556.9" r="0.72" fill="#000"/>
<circle cx="71.4" cy="564.2" r="0.72" fill="#000"/>
<circle cx="69.5" cy="564.3" r="0.72" fill="#000"/>
<circle cx="71.1" cy="531.7" r="0.72" fill="#000"/>
<circle cx="70.8" cy="531.7" r="0.72" fill="#000"/>
<circle cx="71.2" cy="557.8" r="0.72" fill="#000"/>
<circle cx="72.5" cy="560.2" r="0.72" fill="#000"/>
<circle cx="69.1" cy="536.0" r="0.72" fill="#000"/>
<circle cx="72.1" cy="540.9" r="0.72" fill="#000"/>
<circle cx="69.4" cy="549.3" r="0.72" fill="#000"/>
<circle cx="70.8" cy="569.2" r="0.72" fill="#000"/>
<circle cx="71.1" cy="545.9" r="0.72" fill="#000"/>
<circle cx="69.6" cy="543.4" r="0.72" fill="#000"/>
<circle cx="68.9" cy="569.3" r="0.72" fill="#000"/>
<circle cx="70.7" cy="561.8" r="0.72" fill="#000"/>
<circle cx="69.8" cy="557.0" r="0.72" fill="#000"/>
<circle cx="69.2" cy="547.2" r="0.72" fill="#000"/>
<circle cx="73.1" cy="542.9" r="0.72" fill="#000"/>
<circle cx="71.0" cy="504.4" r="0.75" fill="#222"/>
<circle cx="70.4" cy="515.0" r="0.75" fill="#222"/>
<circle cx="71.6" cy="515.0" r="0.75" fill="#222"/>
<circle cx="70.4" cy="520.3" r="0.75" fill="#222"/>
<circle cx="71.6" cy="520.3" r="0.75" fill="#222"/>
<line x1="81.40" y1="520.30" x2="81.40" y2="536.60" stroke="#555" stroke-width="0.9"/>
<line x1="81.40" y1="553.10" x2="81.40" y2="554.10" stroke="#555" stroke-width="0.9"/>
<rect x="77.60" y="536.60" width="7.60" height="16.50" fill="#88b830"/>
<line x1="77.60" y1="547.80" x2="85.20" y2="547.80" stroke="#1a1a1a" stroke-width="1.1"/>
<circle cx="80.8" cy="520.3" r="0.72" fill="#000"/>
<circle cx="80.6" cy="554.1" r="0.72" fill="#000"/>
<circle cx="82.9" cy="550.2" r="0.72" fill="#000"/>
<circle cx="79.4" cy="550.5" r="0.72" fill="#000"/>
<circle cx="83.5" cy="541.8" r="0.72" fill="#000"/>
<circle cx="83.0" cy="550.4" r="0.72" fill="#000"/>
<circle cx="82.6" cy="547.1" r="0.72" fill="#000"/>
<circle cx="79.7" cy="547.2" r="0.72" fill="#000"/>
<circle cx="81.4" cy="511.8" r="0.75" fill="#222"/>
<line x1="91.80" y1="517.10" x2="91.80" y2="544.20" stroke="#555" stroke-width="0.9"/>
<line x1="91.80" y1="564.70" x2="91.80" y2="582.70" stroke="#555" stroke-width="0.9"/>
<rect x="88.00" y="544.20" width="7.60" height="20.50" fill="#a374c8"/>
<line x1="88.00" y1="555.20" x2="95.60" y2="555.20" stroke="#1a1a1a" stroke-width="1.1"/>
<circle cx="91.3" cy="517.1" r="0.72" fill="#000"/>
<circle cx="92.7" cy="582.7" r="0.72" fill="#000"/>
<circle cx="90.1" cy="574.0" r="0.72" fill="#000"/>
<circle cx="93.5" cy="532.5" r="0.72" fill="#000"/>
<circle cx="92.3" cy="553.8" r="0.72" fill="#000"/>
<circle cx="93.0" cy="554.1" r="0.72" fill="#000"/>
<circle cx="92.5" cy="562.7" r="0.72" fill="#000"/>
<circle cx="90.7" cy="524.1" r="0.72" fill="#000"/>
<circle cx="92.0" cy="561.8" r="0.72" fill="#000"/>
<circle cx="90.6" cy="573.3" r="0.72" fill="#000"/>
<circle cx="93.4" cy="550.3" r="0.72" fill="#000"/>
<circle cx="93.9" cy="535.6" r="0.72" fill="#000"/>
<circle cx="90.4" cy="562.6" r="0.72" fill="#000"/>
<circle cx="92.7" cy="547.2" r="0.72" fill="#000"/>
<circle cx="91.0" cy="550.4" r="0.72" fill="#000"/>
<circle cx="93.2" cy="569.6" r="0.72" fill="#000"/>
<circle cx="90.7" cy="546.0" r="0.72" fill="#000"/>
<circle cx="91.9" cy="545.4" r="0.72" fill="#000"/>
<circle cx="91.8" cy="567.3" r="0.72" fill="#000"/>
<circle cx="93.6" cy="554.5" r="0.72" fill="#000"/>
<circle cx="90.7" cy="582.0" r="0.72" fill="#000"/>
<circle cx="89.7" cy="558.5" r="0.72" fill="#000"/>
<circle cx="91.5" cy="548.8" r="0.72" fill="#000"/>
<circle cx="90.3" cy="541.9" r="0.72" fill="#000"/>
<circle cx="92.2" cy="560.1" r="0.72" fill="#000"/>
<circle cx="90.7" cy="531.3" r="0.72" fill="#000"/>
<circle cx="92.1" cy="559.1" r="0.72" fill="#000"/>
<circle cx="92.0" cy="531.2" r="0.72" fill="#000"/>
<circle cx="90.8" cy="535.9" r="0.72" fill="#000"/>
<circle cx="93.7" cy="558.5" r="0.72" fill="#000"/>
<circle cx="90.5" cy="568.4" r="0.72" fill="#000"/>
<circle cx="91.8" cy="555.4" r="0.72" fill="#000"/>
<circle cx="90.0" cy="576.6" r="0.72" fill="#000"/>
<circle cx="92.2" cy="563.1" r="0.72" fill="#000"/>
<circle cx="91.8" cy="543.0" r="0.72" fill="#000"/>
<circle cx="93.3" cy="546.7" r="0.72" fill="#000"/>
<circle cx="93.6" cy="562.2" r="0.72" fill="#000"/>
<circle cx="90.3" cy="557.2" r="0.72" fill="#000"/>
<circle cx="92.4" cy="580.3" r="0.72" fill="#000"/>
<circle cx="90.0" cy="540.3" r="0.72" fill="#000"/>
<circle cx="90.2" cy="560.0" r="0.72" fill="#000"/>
<circle cx="92.7" cy="541.3" r="0.72" fill="#000"/>
<circle cx="92.1" cy="521.3" r="0.72" fill="#000"/>
<circle cx="90.1" cy="530.6" r="0.72" fill="#000"/>
<circle cx="90.4" cy="532.7" r="0.72" fill="#000"/>
<circle cx="89.8" cy="564.5" r="0.72" fill="#000"/>
<circle cx="92.4" cy="567.9" r="0.72" fill="#000"/>
<circle cx="93.4" cy="555.8" r="0.72" fill="#000"/>
<circle cx="93.7" cy="548.8" r="0.72" fill="#000"/>
<circle cx="90.4" cy="574.4" r="0.72" fill="#000"/>
<circle cx="92.0" cy="566.0" r="0.72" fill="#000"/>
<circle cx="92.5" cy="540.7" r="0.72" fill="#000"/>
<circle cx="91.6" cy="555.8" r="0.72" fill="#000"/>
<circle cx="92.7" cy="544.7" r="0.72" fill="#000"/>
<circle cx="91.7" cy="527.5" r="0.72" fill="#000"/>
<circle cx="93.9" cy="565.4" r="0.72" fill="#000"/>
<circle cx="90.9" cy="567.7" r="0.72" fill="#000"/>
<circle cx="93.4" cy="549.0" r="0.72" fill="#000"/>
<circle cx="89.8" cy="559.8" r="0.72" fill="#000"/>
<circle cx="92.5" cy="541.6" r="0.72" fill="#000"/>
<circle cx="90.4" cy="542.3" r="0.72" fill="#000"/>
<circle cx="93.3" cy="563.6" r="0.72" fill="#000"/>
<circle cx="91.8" cy="564.0" r="0.72" fill="#000"/>
<circle cx="92.0" cy="539.2" r="0.72" fill="#000"/>
<circle cx="89.8" cy="540.2" r="0.72" fill="#000"/>
<circle cx="93.6" cy="555.9" r="0.72" fill="#000"/>
<circle cx="90.8" cy="570.3" r="0.72" fill="#000"/>
<circle cx="92.5" cy="578.4" r="0.72" fill="#000"/>
<circle cx="93.3" cy="554.5" r="0.72" fill="#000"/>
<circle cx="92.9" cy="542.3" r="0.72" fill="#000"/>
<circle cx="91.2" cy="554.7" r="0.72" fill="#000"/>
<circle cx="92.6" cy="574.5" r="0.72" fill="#000"/>
<circle cx="92.0" cy="569.7" r="0.72" fill="#000"/>
<circle cx="92.6" cy="567.2" r="0.72" fill="#000"/>
<circle cx="91.8" cy="560.8" r="0.72" fill="#000"/>
<circle cx="92.5" cy="531.7" r="0.72" fill="#000"/>
<circle cx="93.9" cy="541.7" r="0.72" fill="#000"/>
<circle cx="90.1" cy="550.8" r="0.72" fill="#000"/>
<circle cx="93.8" cy="570.0" r="0.72" fill="#000"/>
<circle cx="91.2" cy="562.7" r="0.72" fill="#000"/>
<circle cx="91.8" cy="489.2" r="0.75" fill="#222"/>
<line x1="102.20" y1="490.70" x2="102.20" y2="534.00" stroke="#555" stroke-width="0.9"/>
<line x1="102.20" y1="562.60" x2="102.20" y2="579.50" stroke="#555" stroke-width="0.9"/>
<rect x="98.40" y="534.00" width="7.60" height="28.60" fill="#7b8fd8"/>
<line x1="98.40" y1="550.50" x2="106.00" y2="550.50" stroke="#1a1a1a" stroke-width="1.1"/>
<circle cx="102.0" cy="490.7" r="0.72" fill="#000"/>
<circle cx="102.6" cy="579.5" r="0.72" fill="#000"/>
<circle cx="102.3" cy="520.6" r="0.72" fill="#000"/>
<circle cx="103.9" cy="561.6" r="0.72" fill="#000"/>
<circle cx="102.8" cy="552.2" r="0.72" fill="#000"/>
<circle cx="104.0" cy="556.9" r="0.72" fill="#000"/>
<circle cx="102.1" cy="553.7" r="0.72" fill="#000"/>
<circle cx="100.3" cy="559.1" r="0.72" fill="#000"/>
<circle cx="103.3" cy="574.5" r="0.72" fill="#000"/>
<circle cx="104.3" cy="558.2" r="0.72" fill="#000"/>
<circle cx="103.2" cy="561.5" r="0.72" fill="#000"/>
<circle cx="103.6" cy="493.0" r="0.72" fill="#000"/>
<circle cx="100.8" cy="525.4" r="0.72" fill="#000"/>
<circle cx="101.4" cy="524.1" r="0.72" fill="#000"/>
<circle cx="104.4" cy="553.4" r="0.72" fill="#000"/>
<circle cx="101.4" cy="496.2" r="0.72" fill="#000"/>
<circle cx="101.6" cy="575.1" r="0.72" fill="#000"/>
<circle cx="103.8" cy="530.6" r="0.72" fill="#000"/>
<circle cx="102.0" cy="532.5" r="0.72" fill="#000"/>
<circle cx="101.2" cy="531.2" r="0.72" fill="#000"/>
<circle cx="100.6" cy="537.1" r="0.72" fill="#000"/>
<circle cx="103.5" cy="551.8" r="0.72" fill="#000"/>
<circle cx="100.6" cy="565.7" r="0.72" fill="#000"/>
<circle cx="100.6" cy="575.5" r="0.72" fill="#000"/>
<circle cx="103.3" cy="528.1" r="0.72" fill="#000"/>
<circle cx="101.8" cy="557.8" r="0.72" fill="#000"/>
<circle cx="104.2" cy="530.8" r="0.72" fill="#000"/>
<circle cx="102.4" cy="502.5" r="0.72" fill="#000"/>
<circle cx="103.2" cy="547.9" r="0.72" fill="#000"/>
<circle cx="101.6" cy="550.8" r="0.72" fill="#000"/>
<circle cx="101.4" cy="542.4" r="0.72" fill="#000"/>
<circle cx="101.2" cy="568.7" r="0.72" fill="#000"/>
<circle cx="101.3" cy="517.9" r="0.72" fill="#000"/>
<circle cx="102.5" cy="565.4" r="0.72" fill="#000"/>
<circle cx="100.4" cy="535.6" r="0.72" fill="#000"/>
<circle cx="100.8" cy="503.7" r="0.72" fill="#000"/>
<circle cx="101.5" cy="549.5" r="0.72" fill="#000"/>
<circle cx="101.0" cy="529.3" r="0.72" fill="#000"/>
<circle cx="100.6" cy="506.9" r="0.72" fill="#000"/>
<circle cx="103.6" cy="534.1" r="0.72" fill="#000"/>
<circle cx="101.9" cy="541.7" r="0.72" fill="#000"/>
<circle cx="100.4" cy="535.9" r="0.72" fill="#000"/>
<circle cx="104.2" cy="528.5" r="0.72" fill="#000"/>
<circle cx="103.4" cy="543.7" r="0.72" fill="#000"/>
<circle cx="101.6" cy="542.4" r="0.72" fill="#000"/>
<circle cx="100.9" cy="531.9" r="0.72" fill="#000"/>
<circle cx="102.2" cy="551.7" r="0.72" fill="#000"/>
<circle cx="104.2" cy="549.0" r="0.72" fill="#000"/>
<circle cx="100.1" cy="534.5" r="0.72" fill="#000"/>
<circle cx="103.8" cy="577.4" r="0.72" fill="#000"/>
<circle cx="101.9" cy="531.3" r="0.72" fill="#000"/>
<circle cx="101.2" cy="539.4" r="0.72" fill="#000"/>
<circle cx="102.5" cy="568.0" r="0.72" fill="#000"/>
<circle cx="101.3" cy="532.6" r="0.72" fill="#000"/>
<circle cx="100.9" cy="542.8" r="0.72" fill="#000"/>
<circle cx="100.4" cy="530.0" r="0.72" fill="#000"/>
<circle cx="102.3" cy="543.2" r="0.72" fill="#000"/>
<circle cx="101.3" cy="553.8" r="0.72" fill="#000"/>
<circle cx="101.0" cy="561.5" r="0.72" fill="#000"/>
<circle cx="103.1" cy="557.8" r="0.72" fill="#000"/>
<circle cx="100.5" cy="552.0" r="0.72" fill="#000"/>
<circle cx="102.5" cy="567.1" r="0.72" fill="#000"/>
<circle cx="102.2" cy="541.6" r="0.72" fill="#000"/>
<circle cx="102.6" cy="569.1" r="0.72" fill="#000"/>
<circle cx="104.1" cy="547.1" r="0.72" fill="#000"/>
<circle cx="101.7" cy="561.8" r="0.72" fill="#000"/>
<circle cx="100.1" cy="535.0" r="0.72" fill="#000"/>
<circle cx="100.7" cy="545.2" r="0.72" fill="#000"/>
<circle cx="100.7" cy="554.3" r="0.72" fill="#000"/>
<circle cx="102.7" cy="550.9" r="0.72" fill="#000"/>
<circle cx="100.1" cy="534.6" r="0.72" fill="#000"/>
<circle cx="102.2" cy="525.4" r="0.72" fill="#000"/>
<circle cx="102.1" cy="559.4" r="0.72" fill="#000"/>
<circle cx="100.3" cy="526.8" r="0.72" fill="#000"/>
<circle cx="100.8" cy="555.9" r="0.72" fill="#000"/>
<circle cx="102.7" cy="577.9" r="0.72" fill="#000"/>
<circle cx="103.0" cy="564.8" r="0.72" fill="#000"/>
<circle cx="103.9" cy="544.2" r="0.72" fill="#000"/>
<circle cx="101.2" cy="552.6" r="0.72" fill="#000"/>
<circle cx="104.3" cy="517.5" r="0.72" fill="#000"/>
<circle cx="103.0" cy="526.6" r="0.72" fill="#000"/>
<circle cx="103.5" cy="578.9" r="0.72" fill="#000"/>
<circle cx="102.9" cy="516.0" r="0.72" fill="#000"/>
<circle cx="103.8" cy="570.1" r="0.72" fill="#000"/>
<circle cx="102.0" cy="491.9" r="0.72" fill="#000"/>
<circle cx="100.4" cy="565.5" r="0.72" fill="#000"/>
<circle cx="103.3" cy="552.0" r="0.72" fill="#000"/>
<circle cx="101.8" cy="560.0" r="0.72" fill="#000"/>
<circle cx="102.2" cy="494.1" r="0.72" fill="#000"/>
<circle cx="102.0" cy="531.0" r="0.72" fill="#000"/>
<circle cx="101.6" cy="483.9" r="0.75" fill="#222"/>
<circle cx="102.8" cy="483.9" r="0.75" fill="#222"/>
<line x1="112.60" y1="527.70" x2="112.60" y2="548.90" stroke="#555" stroke-width="0.9"/>
<line x1="112.60" y1="563.20" x2="112.60" y2="578.50" stroke="#555" stroke-width="0.9"/>
<rect x="108.80" y="548.90" width="7.60" height="14.30" fill="#e6a020"/>
<line x1="108.80" y1="556.30" x2="116.40" y2="556.30" stroke="#1a1a1a" stroke-width="1.1"/>
<circle cx="113.6" cy="527.7" r="0.72" fill="#000"/>
<circle cx="112.9" cy="578.5" r="0.72" fill="#000"/>
<circle cx="114.3" cy="555.1" r="0.72" fill="#000"/>
<circle cx="111.2" cy="553.6" r="0.72" fill="#000"/>
<circle cx="114.2" cy="560.4" r="0.72" fill="#000"/>
<circle cx="112.7" cy="544.7" r="0.72" fill="#000"/>
<circle cx="112.4" cy="544.5" r="0.72" fill="#000"/>
<circle cx="112.2" cy="563.1" r="0.72" fill="#000"/>
<circle cx="113.5" cy="552.2" r="0.72" fill="#000"/>
<circle cx="113.3" cy="548.2" r="0.72" fill="#000"/>
<circle cx="111.7" cy="558.3" r="0.72" fill="#000"/>
<circle cx="110.7" cy="563.0" r="0.72" fill="#000"/>
<circle cx="114.1" cy="535.5" r="0.72" fill="#000"/>
<circle cx="110.6" cy="554.4" r="0.72" fill="#000"/>
<circle cx="111.2" cy="553.7" r="0.72" fill="#000"/>
<circle cx="111.4" cy="565.5" r="0.72" fill="#000"/>
<circle cx="110.9" cy="549.6" r="0.72" fill="#000"/>
<circle cx="112.8" cy="553.5" r="0.72" fill="#000"/>
<circle cx="113.7" cy="552.5" r="0.72" fill="#000"/>
<circle cx="111.2" cy="568.1" r="0.72" fill="#000"/>
<circle cx="114.0" cy="563.4" r="0.72" fill="#000"/>
<circle cx="111.6" cy="548.9" r="0.72" fill="#000"/>
<circle cx="114.2" cy="548.2" r="0.72" fill="#000"/>
<circle cx="111.6" cy="555.6" r="0.72" fill="#000"/>
<circle cx="112.1" cy="537.6" r="0.72" fill="#000"/>
<circle cx="111.1" cy="540.3" r="0.72" fill="#000"/>
<circle cx="111.1" cy="553.2" r="0.72" fill="#000"/>
<circle cx="112.0" cy="573.7" r="0.72" fill="#000"/>
<circle cx="110.6" cy="530.4" r="0.72" fill="#000"/>
<circle cx="113.8" cy="557.1" r="0.72" fill="#000"/>
<circle cx="110.4" cy="565.9" r="0.72" fill="#000"/>
<circle cx="110.8" cy="545.9" r="0.72" fill="#000"/>
<circle cx="111.9" cy="558.9" r="0.72" fill="#000"/>
<circle cx="114.1" cy="527.9" r="0.72" fill="#000"/>
<circle cx="114.3" cy="574.3" r="0.72" fill="#000"/>
<circle cx="112.7" cy="557.5" r="0.72" fill="#000"/>
<circle cx="111.4" cy="544.0" r="0.72" fill="#000"/>
<circle cx="111.8" cy="558.9" r="0.72" fill="#000"/>
<circle cx="110.8" cy="537.9" r="0.72" fill="#000"/>
<circle cx="112.6" cy="547.2" r="0.72" fill="#000"/>
<circle cx="112.2" cy="557.4" r="0.72" fill="#000"/>
<circle cx="113.0" cy="572.1" r="0.72" fill="#000"/>
<circle cx="113.7" cy="543.0" r="0.72" fill="#000"/>
<circle cx="112.8" cy="559.8" r="0.72" fill="#000"/>
<circle cx="112.5" cy="550.3" r="0.72" fill="#000"/>
<circle cx="110.7" cy="566.6" r="0.72" fill="#000"/>
<circle cx="111.5" cy="555.4" r="0.72" fill="#000"/>
<circle cx="114.3" cy="539.5" r="0.72" fill="#000"/>
<circle cx="114.3" cy="569.9" r="0.72" fill="#000"/>
<circle cx="110.4" cy="554.6" r="0.72" fill="#000"/>
<circle cx="112.6" cy="510.8" r="0.75" fill="#222"/>
<circle cx="112.6" cy="516.0" r="0.75" fill="#222"/>
<line x1="123.00" y1="541.00" x2="123.00" y2="545.70" stroke="#555" stroke-width="0.9"/>
<line x1="123.00" y1="553.50" x2="123.00" y2="558.40" stroke="#555" stroke-width="0.9"/>
<rect x="119.20" y="545.70" width="7.60" height="7.80" fill="#26b482"/>
<line x1="119.20" y1="549.90" x2="126.80" y2="549.90" stroke="#1a1a1a" stroke-width="1.1"/>
<circle cx="123.5" cy="541.0" r="0.72" fill="#000"/>
<circle cx="123.8" cy="558.4" r="0.72" fill="#000"/>
<circle cx="124.4" cy="548.2" r="0.72" fill="#000"/>
<circle cx="122.1" cy="548.2" r="0.72" fill="#000"/>
<line x1="133.40" y1="538.30" x2="133.40" y2="543.60" stroke="#555" stroke-width="0.9"/>
<line x1="133.40" y1="563.20" x2="133.40" y2="567.90" stroke="#555" stroke-width="0.9"/>
<rect x="129.60" y="543.60" width="7.60" height="19.60" fill="#3aa6e6"/>
<line x1="129.60" y1="553.10" x2="137.20" y2="553.10" stroke="#1a1a1a" stroke-width="1.1"/>
<circle cx="133.8" cy="538.3" r="0.72" fill="#000"/>
<circle cx="133.8" cy="567.9" r="0.72" fill="#000"/>
<circle cx="135.6" cy="538.6" r="0.72" fill="#000"/>
<circle cx="134.2" cy="542.9" r="0.72" fill="#000"/>
<circle cx="132.1" cy="553.2" r="0.72" fill="#000"/>
<circle cx="134.9" cy="563.3" r="0.72" fill="#000"/>
<line x1="143.80" y1="520.30" x2="143.80" y2="528.10" stroke="#555" stroke-width="0.9"/>
<line x1="143.80" y1="548.40" x2="143.80" y2="558.40" stroke="#555" stroke-width="0.9"/>
<rect x="140.00" y="528.10" width="7.60" height="20.30" fill="#38b038"/>
<line x1="140.00" y1="531.90" x2="147.60" y2="531.90" stroke="#1a1a1a" stroke-width="1.1"/>
<circle cx="144.5" cy="520.3" r="0.72" fill="#000"/>
<circle cx="144.5" cy="558.4" r="0.72" fill="#000"/>
<circle cx="141.9" cy="538.1" r="0.72" fill="#000"/>
<circle cx="141.7" cy="551.7" r="0.72" fill="#000"/>
<line x1="154.20" y1="500.20" x2="154.20" y2="542.50" stroke="#555" stroke-width="0.9"/>
<line x1="154.20" y1="562.00" x2="154.20" y2="584.80" stroke="#555" stroke-width="0.9"/>
<rect x="150.40" y="542.50" width="7.60" height="19.50" fill="#d468a8"/>
<line x1="150.40" y1="552.00" x2="158.00" y2="552.00" stroke="#1a1a1a" stroke-width="1.1"/>
<circle cx="154.7" cy="500.2" r="0.72" fill="#000"/>
<circle cx="154.0" cy="584.8" r="0.72" fill="#000"/>
<circle cx="153.2" cy="500.6" r="0.72" fill="#000"/>
<circle cx="153.1" cy="569.9" r="0.72" fill="#000"/>
<circle cx="155.0" cy="546.6" r="0.72" fill="#000"/>
<circle cx="153.4" cy="560.3" r="0.72" fill="#000"/>
<circle cx="155.5" cy="576.9" r="0.72" fill="#000"/>
<circle cx="155.0" cy="564.9" r="0.72" fill="#000"/>
<circle cx="155.3" cy="561.1" r="0.72" fill="#000"/>
<circle cx="152.6" cy="561.5" r="0.72" fill="#000"/>
<circle cx="152.1" cy="540.4" r="0.72" fill="#000"/>
<circle cx="152.6" cy="538.3" r="0.72" fill="#000"/>
<circle cx="155.5" cy="569.0" r="0.72" fill="#000"/>
<circle cx="154.4" cy="569.9" r="0.72" fill="#000"/>
<circle cx="156.3" cy="541.7" r="0.72" fill="#000"/>
<circle cx="153.4" cy="581.0" r="0.72" fill="#000"/>
<circle cx="153.4" cy="542.6" r="0.72" fill="#000"/>
<circle cx="152.8" cy="568.8" r="0.72" fill="#000"/>
<circle cx="155.2" cy="537.5" r="0.72" fill="#000"/>
<circle cx="154.6" cy="556.1" r="0.72" fill="#000"/>
<circle cx="155.4" cy="546.6" r="0.72" fill="#000"/>
<circle cx="153.2" cy="567.6" r="0.72" fill="#000"/>
<circle cx="153.7" cy="558.5" r="0.72" fill="#000"/>
<circle cx="155.9" cy="533.8" r="0.72" fill="#000"/>
<circle cx="152.8" cy="523.5" r="0.72" fill="#000"/>
<circle cx="156.0" cy="572.1" r="0.72" fill="#000"/>
<circle cx="156.0" cy="530.7" r="0.72" fill="#000"/>
<circle cx="156.3" cy="547.6" r="0.72" fill="#000"/>
<circle cx="153.1" cy="550.3" r="0.72" fill="#000"/>
<circle cx="152.1" cy="557.2" r="0.72" fill="#000"/>
<circle cx="155.0" cy="540.2" r="0.72" fill="#000"/>
<circle cx="153.5" cy="510.6" r="0.72" fill="#000"/>
<circle cx="152.5" cy="510.5" r="0.72" fill="#000"/>
<circle cx="155.5" cy="555.2" r="0.72" fill="#000"/>
<circle cx="154.9" cy="549.1" r="0.72" fill="#000"/>
<circle cx="152.4" cy="569.6" r="0.72" fill="#000"/>
<circle cx="153.0" cy="581.0" r="0.72" fill="#000"/>
<circle cx="152.4" cy="552.1" r="0.72" fill="#000"/>
<circle cx="152.6" cy="547.6" r="0.72" fill="#000"/>
<circle cx="154.1" cy="547.2" r="0.72" fill="#000"/>
<circle cx="154.8" cy="573.9" r="0.72" fill="#000"/>
<circle cx="154.7" cy="543.0" r="0.72" fill="#000"/>
<circle cx="155.4" cy="575.2" r="0.72" fill="#000"/>
<circle cx="155.3" cy="538.2" r="0.72" fill="#000"/>
<circle cx="153.2" cy="543.2" r="0.72" fill="#000"/>
<circle cx="154.3" cy="552.3" r="0.72" fill="#000"/>
<circle cx="155.2" cy="553.4" r="0.72" fill="#000"/>
<circle cx="154.6" cy="543.2" r="0.72" fill="#000"/>
<circle cx="155.0" cy="535.7" r="0.72" fill="#000"/>
<circle cx="154.3" cy="556.4" r="0.72" fill="#000"/>
<circle cx="153.1" cy="549.0" r="0.72" fill="#000"/>
<circle cx="153.6" cy="545.6" r="0.72" fill="#000"/>
<circle cx="155.2" cy="538.4" r="0.72" fill="#000"/>
<circle cx="152.7" cy="542.1" r="0.72" fill="#000"/>
<circle cx="156.2" cy="521.5" r="0.72" fill="#000"/>
<circle cx="153.4" cy="571.2" r="0.72" fill="#000"/>
<circle cx="153.8" cy="568.4" r="0.72" fill="#000"/>
<circle cx="154.0" cy="534.3" r="0.72" fill="#000"/>
<circle cx="155.4" cy="578.0" r="0.72" fill="#000"/>
<circle cx="152.0" cy="531.4" r="0.72" fill="#000"/>
<circle cx="152.8" cy="529.0" r="0.72" fill="#000"/>
<circle cx="152.6" cy="532.6" r="0.72" fill="#000"/>
<circle cx="155.0" cy="543.0" r="0.72" fill="#000"/>
<circle cx="152.1" cy="557.9" r="0.72" fill="#000"/>
<circle cx="153.3" cy="552.8" r="0.72" fill="#000"/>
<circle cx="152.6" cy="559.1" r="0.72" fill="#000"/>
<circle cx="154.9" cy="523.1" r="0.72" fill="#000"/>
<circle cx="153.9" cy="563.5" r="0.72" fill="#000"/>
<circle cx="152.6" cy="555.9" r="0.72" fill="#000"/>
<circle cx="155.3" cy="570.6" r="0.72" fill="#000"/>
<circle cx="153.1" cy="552.0" r="0.72" fill="#000"/>
<circle cx="152.4" cy="546.8" r="0.72" fill="#000"/>
<circle cx="156.0" cy="514.9" r="0.72" fill="#000"/>
<circle cx="153.3" cy="543.1" r="0.72" fill="#000"/>
<circle cx="153.7" cy="556.4" r="0.72" fill="#000"/>
<circle cx="152.4" cy="558.9" r="0.72" fill="#000"/>
<circle cx="153.5" cy="527.7" r="0.72" fill="#000"/>
<circle cx="155.2" cy="508.6" r="0.72" fill="#000"/>
<circle cx="155.4" cy="545.1" r="0.72" fill="#000"/>
<circle cx="152.9" cy="523.8" r="0.72" fill="#000"/>
<circle cx="155.2" cy="549.6" r="0.72" fill="#000"/>
<circle cx="153.1" cy="539.7" r="0.72" fill="#000"/>
<circle cx="155.2" cy="544.2" r="0.72" fill="#000"/>
<circle cx="154.8" cy="553.4" r="0.72" fill="#000"/>
<circle cx="152.0" cy="556.2" r="0.72" fill="#000"/>
<circle cx="154.3" cy="563.2" r="0.72" fill="#000"/>
<circle cx="156.1" cy="544.0" r="0.72" fill="#000"/>
<circle cx="154.2" cy="528.0" r="0.72" fill="#000"/>
<circle cx="153.8" cy="546.5" r="0.72" fill="#000"/>
<circle cx="153.7" cy="549.6" r="0.72" fill="#000"/>
<circle cx="155.3" cy="526.6" r="0.72" fill="#000"/>
<circle cx="152.6" cy="525.8" r="0.72" fill="#000"/>
<circle cx="155.3" cy="559.8" r="0.72" fill="#000"/>
<circle cx="156.2" cy="545.5" r="0.72" fill="#000"/>
<circle cx="154.9" cy="557.9" r="0.72" fill="#000"/>
<circle cx="153.8" cy="566.6" r="0.72" fill="#000"/>
<circle cx="154.9" cy="564.6" r="0.72" fill="#000"/>
<circle cx="152.6" cy="530.7" r="0.72" fill="#000"/>
<circle cx="154.6" cy="542.0" r="0.72" fill="#000"/>
<circle cx="155.1" cy="554.4" r="0.72" fill="#000"/>
<circle cx="154.9" cy="558.0" r="0.72" fill="#000"/>
<circle cx="155.4" cy="541.4" r="0.72" fill="#000"/>
<circle cx="155.4" cy="557.4" r="0.72" fill="#000"/>
<circle cx="154.4" cy="553.1" r="0.72" fill="#000"/>
<circle cx="154.9" cy="535.6" r="0.72" fill="#000"/>
<circle cx="152.3" cy="548.7" r="0.72" fill="#000"/>
<circle cx="155.9" cy="554.1" r="0.72" fill="#000"/>
<circle cx="153.5" cy="545.3" r="0.72" fill="#000"/>
<circle cx="153.0" cy="512.5" r="0.72" fill="#000"/>
<circle cx="154.5" cy="543.2" r="0.72" fill="#000"/>
<circle cx="153.9" cy="520.1" r="0.72" fill="#000"/>
<circle cx="152.1" cy="567.5" r="0.72" fill="#000"/>
<circle cx="152.5" cy="568.6" r="0.72" fill="#000"/>
<circle cx="154.3" cy="544.7" r="0.72" fill="#000"/>
<circle cx="155.0" cy="509.5" r="0.72" fill="#000"/>
<circle cx="152.4" cy="552.0" r="0.72" fill="#000"/>
<circle cx="152.2" cy="513.5" r="0.72" fill="#000"/>
<circle cx="154.4" cy="506.5" r="0.72" fill="#000"/>
<circle cx="154.4" cy="553.2" r="0.72" fill="#000"/>
<circle cx="156.3" cy="545.2" r="0.72" fill="#000"/>
<circle cx="153.9" cy="543.4" r="0.72" fill="#000"/>
<circle cx="153.7" cy="545.4" r="0.72" fill="#000"/>
<circle cx="156.3" cy="565.1" r="0.72" fill="#000"/>
<circle cx="154.2" cy="560.3" r="0.72" fill="#000"/>
<circle cx="153.7" cy="561.2" r="0.72" fill="#000"/>
<circle cx="152.9" cy="530.7" r="0.72" fill="#000"/>
<circle cx="152.8" cy="561.7" r="0.72" fill="#000"/>
<circle cx="155.2" cy="553.0" r="0.72" fill="#000"/>
<circle cx="152.4" cy="574.3" r="0.72" fill="#000"/>
<circle cx="155.7" cy="571.4" r="0.72" fill="#000"/>
<circle cx="154.0" cy="545.9" r="0.72" fill="#000"/>
<circle cx="154.9" cy="577.2" r="0.72" fill="#000"/>
<circle cx="152.7" cy="557.6" r="0.72" fill="#000"/>
<circle cx="154.7" cy="544.5" r="0.72" fill="#000"/>
<circle cx="156.3" cy="560.3" r="0.72" fill="#000"/>
<circle cx="156.2" cy="569.5" r="0.72" fill="#000"/>
<circle cx="153.9" cy="569.3" r="0.72" fill="#000"/>
<circle cx="152.3" cy="544.9" r="0.72" fill="#000"/>
<circle cx="156.0" cy="514.9" r="0.72" fill="#000"/>
<circle cx="155.9" cy="553.6" r="0.72" fill="#000"/>
<circle cx="155.1" cy="577.3" r="0.72" fill="#000"/>
<circle cx="153.1" cy="534.0" r="0.72" fill="#000"/>
<circle cx="152.2" cy="542.0" r="0.72" fill="#000"/>
<circle cx="153.5" cy="577.8" r="0.72" fill="#000"/>
<circle cx="156.4" cy="513.4" r="0.72" fill="#000"/>
<circle cx="156.2" cy="541.5" r="0.72" fill="#000"/>
<circle cx="152.9" cy="534.1" r="0.72" fill="#000"/>
<circle cx="154.1" cy="549.0" r="0.72" fill="#000"/>
<circle cx="155.1" cy="570.3" r="0.72" fill="#000"/>
<circle cx="152.6" cy="542.7" r="0.72" fill="#000"/>
<circle cx="156.3" cy="560.7" r="0.72" fill="#000"/>
<circle cx="152.6" cy="555.6" r="0.72" fill="#000"/>
<circle cx="153.0" cy="570.9" r="0.72" fill="#000"/>
<circle cx="156.1" cy="554.1" r="0.72" fill="#000"/>
<circle cx="154.6" cy="560.7" r="0.72" fill="#000"/>
<circle cx="153.9" cy="559.5" r="0.72" fill="#000"/>
<circle cx="154.3" cy="530.0" r="0.72" fill="#000"/>
<circle cx="155.7" cy="565.5" r="0.72" fill="#000"/>
<circle cx="155.5" cy="551.5" r="0.72" fill="#000"/>
<circle cx="152.5" cy="524.8" r="0.72" fill="#000"/>
<circle cx="154.2" cy="501.3" r="0.72" fill="#000"/>
<circle cx="156.2" cy="552.1" r="0.72" fill="#000"/>
<circle cx="152.5" cy="538.3" r="0.72" fill="#000"/>
<circle cx="154.3" cy="561.7" r="0.72" fill="#000"/>
<circle cx="152.2" cy="574.4" r="0.72" fill="#000"/>
<circle cx="156.4" cy="540.6" r="0.72" fill="#000"/>
<circle cx="155.5" cy="522.7" r="0.72" fill="#000"/>
<circle cx="153.0" cy="554.6" r="0.72" fill="#000"/>
<circle cx="155.7" cy="550.8" r="0.72" fill="#000"/>
<circle cx="155.9" cy="557.2" r="0.72" fill="#000"/>
<circle cx="154.1" cy="553.6" r="0.72" fill="#000"/>
<circle cx="153.1" cy="510.5" r="0.72" fill="#000"/>
<circle cx="154.5" cy="547.7" r="0.72" fill="#000"/>
<circle cx="152.3" cy="524.4" r="0.72" fill="#000"/>
<circle cx="156.2" cy="552.4" r="0.72" fill="#000"/>
<circle cx="152.9" cy="536.1" r="0.72" fill="#000"/>
<circle cx="154.8" cy="516.4" r="0.72" fill="#000"/>
<circle cx="154.3" cy="527.9" r="0.72" fill="#000"/>
<circle cx="154.9" cy="549.2" r="0.72" fill="#000"/>
<circle cx="152.6" cy="568.3" r="0.72" fill="#000"/>
<line x1="164.60" y1="512.90" x2="164.60" y2="549.90" stroke="#555" stroke-width="0.9"/>
<line x1="164.60" y1="564.70" x2="164.60" y2="579.50" stroke="#555" stroke-width="0.9"/>
<rect x="160.80" y="549.90" width="7.60" height="14.80" fill="#b485d6"/>
<line x1="160.80" y1="557.70" x2="168.40" y2="557.70" stroke="#1a1a1a" stroke-width="1.1"/>
<circle cx="164.8" cy="512.9" r="0.72" fill="#000"/>
<circle cx="165.4" cy="579.5" r="0.72" fill="#000"/>
<circle cx="163.9" cy="550.2" r="0.72" fill="#000"/>
<circle cx="162.7" cy="574.3" r="0.72" fill="#000"/>
<circle cx="166.6" cy="571.7" r="0.72" fill="#000"/>
<circle cx="165.7" cy="550.8" r="0.72" fill="#000"/>
<circle cx="165.7" cy="558.4" r="0.72" fill="#000"/>
<circle cx="162.9" cy="561.8" r="0.72" fill="#000"/>
<circle cx="166.3" cy="556.9" r="0.72" fill="#000"/>
<circle cx="165.7" cy="565.8" r="0.72" fill="#000"/>
<circle cx="164.3" cy="546.0" r="0.72" fill="#000"/>
<circle cx="165.8" cy="562.1" r="0.72" fill="#000"/>
<circle cx="163.3" cy="552.3" r="0.72" fill="#000"/>
<circle cx="165.8" cy="558.5" r="0.72" fill="#000"/>
<circle cx="166.8" cy="573.3" r="0.72" fill="#000"/>
<circle cx="166.1" cy="549.3" r="0.72" fill="#000"/>
<circle cx="164.3" cy="573.6" r="0.72" fill="#000"/>
<circle cx="164.7" cy="538.1" r="0.72" fill="#000"/>
<circle cx="163.7" cy="573.5" r="0.72" fill="#000"/>
<circle cx="165.6" cy="554.9" r="0.72" fill="#000"/>
<circle cx="162.5" cy="539.5" r="0.72" fill="#000"/>
<circle cx="164.8" cy="514.1" r="0.72" fill="#000"/>
<circle cx="163.4" cy="570.1" r="0.72" fill="#000"/>
<circle cx="166.6" cy="560.5" r="0.72" fill="#000"/>
<circle cx="162.7" cy="557.8" r="0.72" fill="#000"/>
<circle cx="166.1" cy="543.3" r="0.72" fill="#000"/>
<circle cx="166.5" cy="557.0" r="0.72" fill="#000"/>
<circle cx="166.0" cy="562.2" r="0.72" fill="#000"/>
<circle cx="166.5" cy="554.8" r="0.72" fill="#000"/>
<circle cx="164.1" cy="574.7" r="0.72" fill="#000"/>
<circle cx="165.8" cy="553.6" r="0.72" fill="#000"/>
<circle cx="164.9" cy="548.8" r="0.72" fill="#000"/>
<circle cx="165.6" cy="549.1" r="0.72" fill="#000"/>
<circle cx="165.4" cy="569.6" r="0.72" fill="#000"/>
<circle cx="164.5" cy="548.1" r="0.72" fill="#000"/>
<circle cx="163.6" cy="567.0" r="0.72" fill="#000"/>
<circle cx="165.3" cy="539.0" r="0.72" fill="#000"/>
<circle cx="164.6" cy="578.1" r="0.72" fill="#000"/>
<circle cx="164.1" cy="555.4" r="0.72" fill="#000"/>
<circle cx="162.8" cy="559.0" r="0.72" fill="#000"/>
<circle cx="162.5" cy="546.7" r="0.72" fill="#000"/>
<circle cx="165.3" cy="535.4" r="0.72" fill="#000"/>
<circle cx="163.6" cy="545.2" r="0.72" fill="#000"/>
<circle cx="165.4" cy="551.0" r="0.72" fill="#000"/>
<circle cx="162.8" cy="557.7" r="0.72" fill="#000"/>
<circle cx="164.5" cy="541.5" r="0.72" fill="#000"/>
<circle cx="166.1" cy="566.6" r="0.72" fill="#000"/>
<circle cx="162.4" cy="556.2" r="0.72" fill="#000"/>
<circle cx="164.4" cy="553.6" r="0.72" fill="#000"/>
<circle cx="163.4" cy="546.5" r="0.72" fill="#000"/>
<circle cx="165.2" cy="557.8" r="0.72" fill="#000"/>
<circle cx="166.5" cy="530.9" r="0.72" fill="#000"/>
<circle cx="164.9" cy="532.4" r="0.72" fill="#000"/>
<circle cx="163.0" cy="547.0" r="0.72" fill="#000"/>
<circle cx="164.4" cy="524.3" r="0.72" fill="#000"/>
<circle cx="166.3" cy="557.8" r="0.72" fill="#000"/>
<circle cx="162.9" cy="514.6" r="0.72" fill="#000"/>
<circle cx="164.0" cy="565.1" r="0.72" fill="#000"/>
<circle cx="166.7" cy="565.9" r="0.72" fill="#000"/>
<circle cx="163.0" cy="543.1" r="0.72" fill="#000"/>
<circle cx="164.6" cy="505.5" r="0.75" fill="#222"/>
<line x1="175.00" y1="529.80" x2="175.00" y2="544.60" stroke="#555" stroke-width="0.9"/>
<line x1="175.00" y1="558.40" x2="175.00" y2="570.00" stroke="#555" stroke-width="0.9"/>
<rect x="171.20" y="544.60" width="7.60" height="13.80" fill="#c9a818"/>
<line x1="171.20" y1="551.00" x2="178.80" y2="551.00" stroke="#1a1a1a" stroke-width="1.1"/>
<circle cx="175.5" cy="529.8" r="0.72" fill="#000"/>
<circle cx="174.4" cy="570.0" r="0.72" fill="#000"/>
<circle cx="172.9" cy="564.9" r="0.72" fill="#000"/>
<circle cx="176.3" cy="557.3" r="0.72" fill="#000"/>
<circle cx="177.2" cy="568.8" r="0.72" fill="#000"/>
<circle cx="174.4" cy="551.3" r="0.72" fill="#000"/>
<circle cx="174.4" cy="562.0" r="0.72" fill="#000"/>
<circle cx="174.7" cy="569.9" r="0.72" fill="#000"/>
<circle cx="177.1" cy="545.3" r="0.72" fill="#000"/>
<circle cx="176.6" cy="567.4" r="0.72" fill="#000"/>
<circle cx="177.1" cy="535.9" r="0.72" fill="#000"/>
<circle cx="175.9" cy="560.3" r="0.72" fill="#000"/>
<circle cx="175.1" cy="539.6" r="0.72" fill="#000"/>
<circle cx="174.4" cy="564.4" r="0.72" fill="#000"/>
<circle cx="174.2" cy="569.7" r="0.72" fill="#000"/>
<circle cx="172.9" cy="551.6" r="0.72" fill="#000"/>
<circle cx="175.8" cy="554.5" r="0.72" fill="#000"/>
<circle cx="173.2" cy="537.1" r="0.72" fill="#000"/>
<circle cx="175.3" cy="551.9" r="0.72" fill="#000"/>
<circle cx="175.0" cy="540.2" r="0.72" fill="#000"/>
<circle cx="176.0" cy="535.6" r="0.72" fill="#000"/>
<circle cx="176.2" cy="552.7" r="0.72" fill="#000"/>
<circle cx="176.8" cy="546.7" r="0.72" fill="#000"/>
<circle cx="176.2" cy="542.8" r="0.72" fill="#000"/>
<circle cx="175.5" cy="545.0" r="0.72" fill="#000"/>
<circle cx="176.9" cy="551.7" r="0.72" fill="#000"/>
<circle cx="175.3" cy="565.6" r="0.72" fill="#000"/>
<circle cx="176.0" cy="560.4" r="0.72" fill="#000"/>
<circle cx="173.3" cy="551.2" r="0.72" fill="#000"/>
<circle cx="176.7" cy="541.1" r="0.72" fill="#000"/>
<circle cx="174.4" cy="522.0" r="0.75" fill="#222"/>
<circle cx="175.6" cy="522.0" r="0.75" fill="#222"/>
<line x1="185.40" y1="483.30" x2="185.40" y2="523.00" stroke="#555" stroke-width="0.9"/>
<line x1="185.40" y1="549.90" x2="185.40" y2="571.00" stroke="#555" stroke-width="0.9"/>
<rect x="181.60" y="523.00" width="7.60" height="26.90" fill="#1fb5b8"/>
<line x1="181.60" y1="535.10" x2="189.20" y2="535.10" stroke="#1a1a1a" stroke-width="1.1"/>
<circle cx="184.6" cy="483.3" r="0.72" fill="#000"/>
<circle cx="184.4" cy="571.0" r="0.72" fill="#000"/>
<circle cx="184.0" cy="529.3" r="0.72" fill="#000"/>
<circle cx="185.7" cy="517.3" r="0.72" fill="#000"/>
<circle cx="184.5" cy="555.2" r="0.72" fill="#000"/>
<circle cx="185.4" cy="513.7" r="0.72" fill="#000"/>
<circle cx="187.6" cy="563.1" r="0.72" fill="#000"/>
<circle cx="187.1" cy="483.7" r="0.72" fill="#000"/>
<circle cx="187.1" cy="514.6" r="0.72" fill="#000"/>
<circle cx="187.5" cy="508.2" r="0.72" fill="#000"/>
<circle cx="184.8" cy="530.2" r="0.72" fill="#000"/>
<circle cx="184.8" cy="501.6" r="0.72" fill="#000"/>
<circle cx="183.5" cy="505.5" r="0.72" fill="#000"/>
<circle cx="186.7" cy="557.5" r="0.72" fill="#000"/>
<circle cx="186.6" cy="525.6" r="0.72" fill="#000"/>
<circle cx="184.9" cy="523.3" r="0.72" fill="#000"/>
<circle cx="186.9" cy="538.3" r="0.72" fill="#000"/>
<circle cx="185.2" cy="551.5" r="0.72" fill="#000"/>
<circle cx="184.8" cy="535.9" r="0.72" fill="#000"/>
<circle cx="184.0" cy="536.8" r="0.72" fill="#000"/>
<circle cx="186.5" cy="528.7" r="0.72" fill="#000"/>
<circle cx="186.5" cy="550.4" r="0.72" fill="#000"/>
<circle cx="186.9" cy="531.9" r="0.72" fill="#000"/>
<circle cx="185.8" cy="539.0" r="0.72" fill="#000"/>
<circle cx="183.2" cy="497.8" r="0.72" fill="#000"/>
<circle cx="185.9" cy="523.3" r="0.72" fill="#000"/>
<circle cx="185.8" cy="514.1" r="0.72" fill="#000"/>
<circle cx="185.0" cy="538.0" r="0.72" fill="#000"/>
<circle cx="186.9" cy="540.7" r="0.72" fill="#000"/>
<circle cx="184.3" cy="526.7" r="0.72" fill="#000"/>
<circle cx="184.4" cy="492.6" r="0.72" fill="#000"/>
<circle cx="184.5" cy="547.6" r="0.72" fill="#000"/>
<circle cx="186.0" cy="531.0" r="0.72" fill="#000"/>
<circle cx="183.4" cy="530.2" r="0.72" fill="#000"/>
<circle cx="186.4" cy="526.1" r="0.72" fill="#000"/>
<circle cx="184.8" cy="477.0" r="0.75" fill="#222"/>
<circle cx="186.0" cy="477.0" r="0.75" fill="#222"/>
<line x1="195.80" y1="527.30" x2="195.80" y2="541.40" stroke="#555" stroke-width="0.9"/>
<line x1="195.80" y1="560.50" x2="195.80" y2="571.00" stroke="#555" stroke-width="0.9"/>
<rect x="192.00" y="541.40" width="7.60" height="19.10" fill="#a890dc"/>
<line x1="192.00" y1="551.40" x2="199.60" y2="551.40" stroke="#1a1a1a" stroke-width="1.1"/>
<circle cx="195.7" cy="527.3" r="0.72" fill="#000"/>
<circle cx="196.4" cy="571.0" r="0.72" fill="#000"/>
<circle cx="197.5" cy="542.7" r="0.72" fill="#000"/>
<circle cx="196.2" cy="551.8" r="0.72" fill="#000"/>
<circle cx="196.5" cy="530.3" r="0.72" fill="#000"/>
<circle cx="194.9" cy="528.8" r="0.72" fill="#000"/>
<circle cx="196.6" cy="566.8" r="0.72" fill="#000"/>
<circle cx="195.4" cy="542.5" r="0.72" fill="#000"/>
<circle cx="197.1" cy="542.8" r="0.72" fill="#000"/>
<circle cx="194.8" cy="548.2" r="0.72" fill="#000"/>
<circle cx="197.0" cy="563.3" r="0.72" fill="#000"/>
<circle cx="194.4" cy="548.6" r="0.72" fill="#000"/>
<circle cx="194.6" cy="546.8" r="0.72" fill="#000"/>
<circle cx="195.0" cy="542.0" r="0.72" fill="#000"/>
<circle cx="195.3" cy="568.2" r="0.72" fill="#000"/>
<circle cx="194.5" cy="532.7" r="0.72" fill="#000"/>
<circle cx="195.3" cy="557.0" r="0.72" fill="#000"/>
<circle cx="194.9" cy="564.2" r="0.72" fill="#000"/>
<circle cx="193.8" cy="549.4" r="0.72" fill="#000"/>
<circle cx="196.8" cy="549.1" r="0.72" fill="#000"/>
<circle cx="196.2" cy="550.5" r="0.72" fill="#000"/>
<circle cx="196.8" cy="568.2" r="0.72" fill="#000"/>
<circle cx="195.2" cy="561.6" r="0.72" fill="#000"/>
<circle cx="197.0" cy="551.5" r="0.72" fill="#000"/>
<circle cx="196.6" cy="531.6" r="0.72" fill="#000"/>
<line x1="206.20" y1="516.70" x2="206.20" y2="543.10" stroke="#555" stroke-width="0.9"/>
<line x1="206.20" y1="559.40" x2="206.20" y2="577.40" stroke="#555" stroke-width="0.9"/>
<rect x="202.40" y="543.10" width="7.60" height="16.30" fill="#d8a428"/>
<line x1="202.40" y1="551.00" x2="210.00" y2="551.00" stroke="#1a1a1a" stroke-width="1.1"/>
<circle cx="206.7" cy="516.7" r="0.72" fill="#000"/>
<circle cx="206.8" cy="577.4" r="0.72" fill="#000"/>
<circle cx="207.6" cy="559.1" r="0.72" fill="#000"/>
<circle cx="206.4" cy="547.3" r="0.72" fill="#000"/>
<circle cx="204.1" cy="534.3" r="0.72" fill="#000"/>
<circle cx="207.8" cy="544.5" r="0.72" fill="#000"/>
<circle cx="207.3" cy="553.4" r="0.72" fill="#000"/>
<circle cx="204.2" cy="532.4" r="0.72" fill="#000"/>
<circle cx="204.7" cy="532.9" r="0.72" fill="#000"/>
<circle cx="204.6" cy="551.6" r="0.72" fill="#000"/>
<circle cx="206.0" cy="549.5" r="0.72" fill="#000"/>
<circle cx="204.1" cy="553.9" r="0.72" fill="#000"/>
<circle cx="204.2" cy="550.9" r="0.72" fill="#000"/>
<circle cx="204.7" cy="541.0" r="0.72" fill="#000"/>
<circle cx="204.7" cy="556.5" r="0.72" fill="#000"/>
<circle cx="204.3" cy="558.8" r="0.72" fill="#000"/>
<circle cx="204.4" cy="543.7" r="0.72" fill="#000"/>
<circle cx="207.9" cy="551.6" r="0.72" fill="#000"/>
<circle cx="208.0" cy="560.4" r="0.72" fill="#000"/>
<circle cx="207.7" cy="537.5" r="0.72" fill="#000"/>
<circle cx="205.7" cy="528.3" r="0.72" fill="#000"/>
<circle cx="204.9" cy="518.6" r="0.72" fill="#000"/>
<circle cx="205.4" cy="573.1" r="0.72" fill="#000"/>
<circle cx="208.3" cy="549.3" r="0.72" fill="#000"/>
<circle cx="205.6" cy="545.9" r="0.72" fill="#000"/>
<circle cx="205.9" cy="574.3" r="0.72" fill="#000"/>
<circle cx="205.2" cy="553.4" r="0.72" fill="#000"/>
<circle cx="204.3" cy="571.3" r="0.72" fill="#000"/>
<circle cx="207.7" cy="543.1" r="0.72" fill="#000"/>
<circle cx="208.3" cy="545.6" r="0.72" fill="#000"/>
<circle cx="205.7" cy="541.6" r="0.72" fill="#000"/>
<circle cx="204.1" cy="548.6" r="0.72" fill="#000"/>
<circle cx="207.4" cy="534.1" r="0.72" fill="#000"/>
<circle cx="204.3" cy="522.5" r="0.72" fill="#000"/>
<circle cx="205.8" cy="570.0" r="0.72" fill="#000"/>
<circle cx="207.2" cy="566.0" r="0.72" fill="#000"/>
<circle cx="206.7" cy="556.4" r="0.72" fill="#000"/>
<circle cx="207.9" cy="563.0" r="0.72" fill="#000"/>
<circle cx="207.0" cy="569.2" r="0.72" fill="#000"/>
<circle cx="207.5" cy="553.7" r="0.72" fill="#000"/>
<circle cx="204.6" cy="535.7" r="0.72" fill="#000"/>
<circle cx="206.9" cy="535.6" r="0.72" fill="#000"/>
<circle cx="206.8" cy="526.9" r="0.72" fill="#000"/>
<circle cx="206.1" cy="560.3" r="0.72" fill="#000"/>
<circle cx="208.1" cy="547.4" r="0.72" fill="#000"/>
<circle cx="206.5" cy="566.6" r="0.72" fill="#000"/>
<circle cx="207.9" cy="539.2" r="0.72" fill="#000"/>
<circle cx="205.0" cy="547.6" r="0.72" fill="#000"/>
<circle cx="204.5" cy="550.0" r="0.72" fill="#000"/>
<circle cx="207.6" cy="544.4" r="0.72" fill="#000"/>
<circle cx="207.3" cy="561.1" r="0.72" fill="#000"/>
<circle cx="208.1" cy="517.7" r="0.72" fill="#000"/>
<circle cx="204.3" cy="543.3" r="0.72" fill="#000"/>
<circle cx="206.9" cy="557.0" r="0.72" fill="#000"/>
<circle cx="207.0" cy="562.4" r="0.72" fill="#000"/>
<circle cx="208.4" cy="571.8" r="0.72" fill="#000"/>
<circle cx="208.3" cy="552.8" r="0.72" fill="#000"/>
<circle cx="208.1" cy="529.4" r="0.72" fill="#000"/>
<circle cx="204.4" cy="554.9" r="0.72" fill="#000"/>
<circle cx="204.7" cy="547.8" r="0.72" fill="#000"/>
<circle cx="204.6" cy="540.3" r="0.72" fill="#000"/>
<circle cx="204.9" cy="567.3" r="0.72" fill="#000"/>
<circle cx="204.5" cy="562.7" r="0.72" fill="#000"/>
<circle cx="206.8" cy="546.2" r="0.72" fill="#000"/>
<circle cx="206.7" cy="544.9" r="0.72" fill="#000"/>
<circle cx="207.7" cy="545.6" r="0.72" fill="#000"/>
<circle cx="207.9" cy="551.4" r="0.72" fill="#000"/>
<circle cx="206.3" cy="545.7" r="0.72" fill="#000"/>
<circle cx="204.0" cy="562.2" r="0.72" fill="#000"/>
<circle cx="206.0" cy="567.8" r="0.72" fill="#000"/>
<circle cx="204.2" cy="544.1" r="0.72" fill="#000"/>
<circle cx="207.3" cy="567.0" r="0.72" fill="#000"/>
<circle cx="204.3" cy="536.0" r="0.72" fill="#000"/>
<circle cx="206.2" cy="531.6" r="0.72" fill="#000"/>
<circle cx="208.4" cy="548.4" r="0.72" fill="#000"/>
<circle cx="207.0" cy="557.4" r="0.72" fill="#000"/>
<circle cx="204.2" cy="571.3" r="0.72" fill="#000"/>
<circle cx="205.8" cy="577.1" r="0.72" fill="#000"/>
<circle cx="206.6" cy="552.8" r="0.72" fill="#000"/>
<circle cx="205.6" cy="537.1" r="0.72" fill="#000"/>
<circle cx="206.2" cy="593.3" r="0.75" fill="#222"/>
<line x1="216.60" y1="525.60" x2="216.60" y2="540.40" stroke="#555" stroke-width="0.9"/>
<line x1="216.60" y1="559.40" x2="216.60" y2="570.00" stroke="#555" stroke-width="0.9"/>
<rect x="212.80" y="540.40" width="7.60" height="19.00" fill="#f27a2a"/>
<line x1="212.80" y1="555.20" x2="220.40" y2="555.20" stroke="#1a1a1a" stroke-width="1.1"/>
<circle cx="216.5" cy="525.6" r="0.72" fill="#000"/>
<circle cx="216.8" cy="570.0" r="0.72" fill="#000"/>
<circle cx="214.5" cy="561.5" r="0.72" fill="#000"/>
<circle cx="218.1" cy="529.0" r="0.72" fill="#000"/>
<circle cx="215.8" cy="552.2" r="0.72" fill="#000"/>
<circle cx="217.5" cy="557.0" r="0.72" fill="#000"/>
<circle cx="217.5" cy="561.3" r="0.72" fill="#000"/>
<circle cx="217.7" cy="563.9" r="0.72" fill="#000"/>
<circle cx="217.9" cy="555.5" r="0.72" fill="#000"/>
<circle cx="215.8" cy="565.7" r="0.72" fill="#000"/>
<circle cx="217.0" cy="564.7" r="0.72" fill="#000"/>
<circle cx="216.0" cy="563.3" r="0.72" fill="#000"/>
<line x1="227.00" y1="515.40" x2="227.00" y2="539.30" stroke="#555" stroke-width="0.9"/>
<line x1="227.00" y1="559.90" x2="227.00" y2="578.50" stroke="#555" stroke-width="0.9"/>
<rect x="223.20" y="539.30" width="7.60" height="20.60" fill="#34a8e4"/>
<line x1="223.20" y1="550.50" x2="230.80" y2="550.50" stroke="#1a1a1a" stroke-width="1.1"/>
<circle cx="227.5" cy="515.4" r="0.72" fill="#000"/>
<circle cx="227.8" cy="578.5" r="0.72" fill="#000"/>
<circle cx="225.0" cy="533.8" r="0.72" fill="#000"/>
<circle cx="227.5" cy="567.0" r="0.72" fill="#000"/>
<circle cx="227.8" cy="555.7" r="0.72" fill="#000"/>
<circle cx="224.9" cy="536.2" r="0.72" fill="#000"/>
<circle cx="225.4" cy="569.0" r="0.72" fill="#000"/>
<circle cx="226.5" cy="530.6" r="0.72" fill="#000"/>
<circle cx="229.0" cy="568.6" r="0.72" fill="#000"/>
<circle cx="226.6" cy="527.9" r="0.72" fill="#000"/>
<circle cx="226.2" cy="551.4" r="0.72" fill="#000"/>
<circle cx="228.5" cy="537.1" r="0.72" fill="#000"/>
<circle cx="227.7" cy="571.6" r="0.72" fill="#000"/>
<circle cx="226.6" cy="536.9" r="0.72" fill="#000"/>
<circle cx="226.7" cy="558.0" r="0.72" fill="#000"/>
<circle cx="226.4" cy="503.4" r="0.75" fill="#222"/>
<circle cx="227.6" cy="503.4" r="0.75" fill="#222"/>
<line x1="237.40" y1="534.00" x2="237.40" y2="540.00" stroke="#555" stroke-width="0.9"/>
<line x1="237.40" y1="552.00" x2="237.40" y2="566.80" stroke="#555" stroke-width="0.9"/>
<rect x="233.60" y="540.00" width="7.60" height="12.00" fill="#44b844"/>
<line x1="233.60" y1="548.40" x2="241.20" y2="548.40" stroke="#1a1a1a" stroke-width="1.1"/>
<circle cx="237.7" cy="534.0" r="0.72" fill="#000"/>
<circle cx="237.0" cy="566.8" r="0.72" fill="#000"/>
<circle cx="237.1" cy="534.4" r="0.72" fill="#000"/>
<circle cx="236.5" cy="549.2" r="0.72" fill="#000"/>
<circle cx="238.5" cy="548.7" r="0.72" fill="#000"/>
<circle cx="237.0" cy="547.2" r="0.72" fill="#000"/>
<circle cx="237.4" cy="545.9" r="0.72" fill="#000"/>
<circle cx="238.5" cy="548.1" r="0.72" fill="#000"/>
<circle cx="235.4" cy="553.3" r="0.72" fill="#000"/>
<circle cx="236.9" cy="540.2" r="0.72" fill="#000"/>
<circle cx="236.8" cy="544.5" r="0.72" fill="#000"/>
<circle cx="235.5" cy="562.7" r="0.72" fill="#000"/>
<circle cx="237.6" cy="554.0" r="0.72" fill="#000"/>
<circle cx="238.0" cy="552.2" r="0.72" fill="#000"/>
<circle cx="236.1" cy="546.6" r="0.72" fill="#000"/>
<circle cx="237.8" cy="550.1" r="0.72" fill="#000"/>
<circle cx="238.2" cy="539.9" r="0.72" fill="#000"/>
<circle cx="239.2" cy="551.4" r="0.72" fill="#000"/>
<circle cx="238.2" cy="545.3" r="0.72" fill="#000"/>
<circle cx="235.7" cy="550.4" r="0.72" fill="#000"/>
<line x1="247.80" y1="515.40" x2="247.80" y2="543.60" stroke="#555" stroke-width="0.9"/>
<line x1="247.80" y1="562.00" x2="247.80" y2="582.70" stroke="#555" stroke-width="0.9"/>
<rect x="244.00" y="543.60" width="7.60" height="18.40" fill="#22b0a4"/>
<line x1="244.00" y1="554.10" x2="251.60" y2="554.10" stroke="#1a1a1a" stroke-width="1.1"/>
<circle cx="248.5" cy="515.4" r="0.72" fill="#000"/>
<circle cx="248.2" cy="582.7" r="0.72" fill="#000"/>
<circle cx="249.2" cy="549.2" r="0.72" fill="#000"/>
<circle cx="247.8" cy="563.7" r="0.72" fill="#000"/>
<circle cx="245.7" cy="556.3" r="0.72" fill="#000"/>
<circle cx="247.6" cy="565.8" r="0.72" fill="#000"/>
<circle cx="249.9" cy="559.2" r="0.72" fill="#000"/>
<circle cx="247.9" cy="542.4" r="0.72" fill="#000"/>
<circle cx="246.3" cy="574.0" r="0.72" fill="#000"/>
<circle cx="246.8" cy="536.1" r="0.72" fill="#000"/>
<circle cx="246.4" cy="541.5" r="0.72" fill="#000"/>
<circle cx="248.4" cy="556.2" r="0.72" fill="#000"/>
<circle cx="246.1" cy="580.9" r="0.72" fill="#000"/>
<circle cx="247.2" cy="534.3" r="0.72" fill="#000"/>
<circle cx="248.1" cy="558.5" r="0.72" fill="#000"/>
<circle cx="246.7" cy="550.0" r="0.72" fill="#000"/>
<circle cx="249.0" cy="523.5" r="0.72" fill="#000"/>
<circle cx="245.9" cy="562.4" r="0.72" fill="#000"/>
<circle cx="247.3" cy="559.2" r="0.72" fill="#000"/>
<circle cx="245.8" cy="538.9" r="0.72" fill="#000"/>
<circle cx="247.4" cy="551.1" r="0.72" fill="#000"/>
<circle cx="246.8" cy="547.1" r="0.72" fill="#000"/>
<circle cx="247.3" cy="542.9" r="0.72" fill="#000"/>
<circle cx="249.7" cy="566.4" r="0.72" fill="#000"/>
<circle cx="247.7" cy="564.7" r="0.72" fill="#000"/>
<circle cx="249.4" cy="554.0" r="0.72" fill="#000"/>
<circle cx="248.0" cy="550.0" r="0.72" fill="#000"/>
<circle cx="247.2" cy="576.9" r="0.72" fill="#000"/>
<circle cx="248.1" cy="545.3" r="0.72" fill="#000"/>
<circle cx="248.7" cy="519.9" r="0.72" fill="#000"/>
<circle cx="248.1" cy="542.8" r="0.72" fill="#000"/>
<circle cx="248.4" cy="568.2" r="0.72" fill="#000"/>
<circle cx="246.9" cy="571.1" r="0.72" fill="#000"/>
<circle cx="250.0" cy="540.6" r="0.72" fill="#000"/>
<circle cx="248.6" cy="551.8" r="0.72" fill="#000"/>
<line x1="258.20" y1="506.50" x2="258.20" y2="533.60" stroke="#555" stroke-width="0.9"/>
<line x1="258.20" y1="552.70" x2="258.20" y2="576.40" stroke="#555" stroke-width="0.9"/>
<rect x="254.40" y="533.60" width="7.60" height="19.10" fill="#e66cb4"/>
<line x1="254.40" y1="544.60" x2="262.00" y2="544.60" stroke="#1a1a1a" stroke-width="1.1"/>
<circle cx="258.2" cy="506.5" r="0.72" fill="#000"/>
<circle cx="258.1" cy="576.4" r="0.72" fill="#000"/>
<circle cx="259.7" cy="568.6" r="0.72" fill="#000"/>
<circle cx="256.1" cy="515.8" r="0.72" fill="#000"/>
<circle cx="257.1" cy="549.2" r="0.72" fill="#000"/>
<circle cx="259.9" cy="531.0" r="0.72" fill="#000"/>
<circle cx="256.5" cy="557.6" r="0.72" fill="#000"/>
<circle cx="258.1" cy="564.9" r="0.72" fill="#000"/>
<circle cx="256.0" cy="550.1" r="0.72" fill="#000"/>
<circle cx="256.2" cy="545.6" r="0.72" fill="#000"/>
<circle cx="257.0" cy="523.6" r="0.72" fill="#000"/>
<circle cx="258.8" cy="547.2" r="0.72" fill="#000"/>
<circle cx="256.5" cy="553.0" r="0.72" fill="#000"/>
<circle cx="256.1" cy="521.4" r="0.72" fill="#000"/>
<circle cx="257.2" cy="550.2" r="0.72" fill="#000"/>
<circle cx="256.1" cy="553.0" r="0.72" fill="#000"/>
<circle cx="259.7" cy="517.8" r="0.72" fill="#000"/>
<circle cx="259.6" cy="531.0" r="0.72" fill="#000"/>
<circle cx="257.5" cy="534.2" r="0.72" fill="#000"/>
<circle cx="259.0" cy="534.3" r="0.72" fill="#000"/>
<circle cx="258.9" cy="546.0" r="0.72" fill="#000"/>
<circle cx="259.4" cy="534.8" r="0.72" fill="#000"/>
<circle cx="259.0" cy="541.8" r="0.72" fill="#000"/>
<circle cx="259.1" cy="543.1" r="0.72" fill="#000"/>
<circle cx="258.3" cy="548.5" r="0.72" fill="#000"/>
<circle cx="256.5" cy="546.5" r="0.72" fill="#000"/>
<circle cx="256.8" cy="544.2" r="0.72" fill="#000"/>
<circle cx="257.7" cy="511.5" r="0.72" fill="#000"/>
<circle cx="260.2" cy="539.3" r="0.72" fill="#000"/>
<circle cx="258.1" cy="528.7" r="0.72" fill="#000"/>
<circle cx="257.5" cy="559.4" r="0.72" fill="#000"/>
<circle cx="256.6" cy="565.4" r="0.72" fill="#000"/>
<circle cx="257.1" cy="547.8" r="0.72" fill="#000"/>
<circle cx="259.2" cy="550.5" r="0.72" fill="#000"/>
<circle cx="256.6" cy="563.0" r="0.72" fill="#000"/>
<circle cx="256.4" cy="547.2" r="0.72" fill="#000"/>
<circle cx="259.6" cy="508.4" r="0.72" fill="#000"/>
<circle cx="259.6" cy="533.5" r="0.72" fill="#000"/>
<circle cx="259.1" cy="543.1" r="0.72" fill="#000"/>
<circle cx="258.8" cy="548.7" r="0.72" fill="#000"/>
<circle cx="258.2" cy="496.0" r="0.75" fill="#222"/>
<line x1="268.60" y1="517.10" x2="268.60" y2="547.80" stroke="#555" stroke-width="0.9"/>
<line x1="268.60" y1="562.60" x2="268.60" y2="577.40" stroke="#555" stroke-width="0.9"/>
<rect x="264.80" y="547.80" width="7.60" height="14.80" fill="#22a865"/>
<line x1="264.80" y1="554.10" x2="272.40" y2="554.10" stroke="#1a1a1a" stroke-width="1.1"/>
<circle cx="268.8" cy="517.1" r="0.72" fill="#000"/>
<circle cx="268.4" cy="577.4" r="0.72" fill="#000"/>
<circle cx="268.6" cy="549.1" r="0.72" fill="#000"/>
<circle cx="268.1" cy="556.9" r="0.72" fill="#000"/>
<circle cx="267.3" cy="554.1" r="0.72" fill="#000"/>
<circle cx="267.4" cy="567.1" r="0.72" fill="#000"/>
<circle cx="268.5" cy="552.7" r="0.72" fill="#000"/>
<circle cx="270.5" cy="566.7" r="0.72" fill="#000"/>
<circle cx="267.1" cy="566.9" r="0.72" fill="#000"/>
<circle cx="269.7" cy="543.6" r="0.72" fill="#000"/>
<circle cx="269.4" cy="547.3" r="0.72" fill="#000"/>
<circle cx="266.7" cy="541.3" r="0.72" fill="#000"/>
<circle cx="267.2" cy="554.2" r="0.72" fill="#000"/>
<circle cx="270.3" cy="545.9" r="0.72" fill="#000"/>
<circle cx="267.4" cy="564.4" r="0.72" fill="#000"/>
<circle cx="268.2" cy="562.6" r="0.72" fill="#000"/>
<circle cx="268.4" cy="561.7" r="0.72" fill="#000"/>
<circle cx="267.7" cy="548.6" r="0.72" fill="#000"/>
<circle cx="269.2" cy="549.1" r="0.72" fill="#000"/>
<circle cx="270.1" cy="547.3" r="0.72" fill="#000"/>
<circle cx="269.5" cy="552.3" r="0.72" fill="#000"/>
<circle cx="267.1" cy="542.0" r="0.72" fill="#000"/>
<circle cx="269.8" cy="553.4" r="0.72" fill="#000"/>
<circle cx="268.5" cy="556.0" r="0.72" fill="#000"/>
<circle cx="269.6" cy="560.1" r="0.72" fill="#000"/>
<circle cx="268.6" cy="569.5" r="0.72" fill="#000"/>
<circle cx="270.2" cy="556.8" r="0.72" fill="#000"/>
<circle cx="269.8" cy="548.6" r="0.72" fill="#000"/>
<circle cx="269.6" cy="565.3" r="0.72" fill="#000"/>
<circle cx="269.7" cy="554.0" r="0.72" fill="#000"/>
<circle cx="269.0" cy="542.9" r="0.72" fill="#000"/>
<circle cx="268.9" cy="543.2" r="0.72" fill="#000"/>
<circle cx="270.5" cy="567.1" r="0.72" fill="#000"/>
<circle cx="267.5" cy="563.8" r="0.72" fill="#000"/>
<circle cx="267.6" cy="563.9" r="0.72" fill="#000"/>
<circle cx="270.1" cy="554.6" r="0.72" fill="#000"/>
<circle cx="267.5" cy="551.7" r="0.72" fill="#000"/>
<circle cx="267.2" cy="539.6" r="0.72" fill="#000"/>
<circle cx="269.2" cy="531.0" r="0.72" fill="#000"/>
<circle cx="269.8" cy="548.9" r="0.72" fill="#000"/>
<circle cx="267.0" cy="545.7" r="0.72" fill="#000"/>
<circle cx="269.2" cy="566.5" r="0.72" fill="#000"/>
<circle cx="267.0" cy="557.3" r="0.72" fill="#000"/>
<circle cx="269.3" cy="533.9" r="0.72" fill="#000"/>
<circle cx="269.1" cy="561.3" r="0.72" fill="#000"/>
<circle cx="269.4" cy="547.8" r="0.72" fill="#000"/>
<circle cx="270.6" cy="551.3" r="0.72" fill="#000"/>
<circle cx="268.3" cy="548.2" r="0.72" fill="#000"/>
<circle cx="267.2" cy="565.7" r="0.72" fill="#000"/>
<circle cx="267.0" cy="546.6" r="0.72" fill="#000"/>
<circle cx="266.5" cy="561.3" r="0.72" fill="#000"/>
<circle cx="268.2" cy="553.7" r="0.72" fill="#000"/>
<circle cx="267.3" cy="553.5" r="0.72" fill="#000"/>
<circle cx="268.0" cy="569.2" r="0.72" fill="#000"/>
<circle cx="268.0" cy="573.5" r="0.72" fill="#000"/>
<circle cx="267.0" cy="568.5" r="0.72" fill="#000"/>
<circle cx="270.0" cy="570.8" r="0.72" fill="#000"/>
<circle cx="267.4" cy="541.8" r="0.72" fill="#000"/>
<circle cx="269.3" cy="524.9" r="0.72" fill="#000"/>
<circle cx="267.4" cy="544.1" r="0.72" fill="#000"/>
<line x1="279.00" y1="552.00" x2="279.00" y2="552.60" stroke="#555" stroke-width="0.9"/>
<line x1="279.00" y1="553.60" x2="279.00" y2="554.00" stroke="#555" stroke-width="0.9"/>
<rect x="275.20" y="552.60" width="7.60" height="1.00" fill="#c03050"/>
<line x1="275.20" y1="553.10" x2="282.80" y2="553.10" stroke="#1a1a1a" stroke-width="1.1"/>
<circle cx="279.4" cy="552.0" r="0.72" fill="#000"/>
<circle cx="278.7" cy="554.0" r="0.72" fill="#000"/>
<circle cx="277.4" cy="552.6" r="0.72" fill="#000"/>
<line x1="289.40" y1="510.80" x2="289.40" y2="544.20" stroke="#555" stroke-width="0.9"/>
<line x1="289.40" y1="558.40" x2="289.40" y2="579.50" stroke="#555" stroke-width="0.9"/>
<rect x="285.60" y="544.20" width="7.60" height="14.20" fill="#c8b030"/>
<line x1="285.60" y1="550.50" x2="293.20" y2="550.50" stroke="#1a1a1a" stroke-width="1.1"/>
<circle cx="289.1" cy="510.8" r="0.72" fill="#000"/>
<circle cx="289.3" cy="579.5" r="0.72" fill="#000"/>
<circle cx="287.9" cy="564.2" r="0.72" fill="#000"/>
<circle cx="289.7" cy="521.6" r="0.72" fill="#000"/>
<circle cx="287.3" cy="570.0" r="0.72" fill="#000"/>
<circle cx="289.1" cy="545.3" r="0.72" fill="#000"/>
<circle cx="287.6" cy="533.7" r="0.72" fill="#000"/>
<circle cx="288.5" cy="570.6" r="0.72" fill="#000"/>
<circle cx="287.8" cy="563.7" r="0.72" fill="#000"/>
<circle cx="290.9" cy="532.3" r="0.72" fill="#000"/>
<circle cx="289.5" cy="550.6" r="0.72" fill="#000"/>
<circle cx="288.1" cy="552.9" r="0.72" fill="#000"/>
<circle cx="288.0" cy="554.3" r="0.72" fill="#000"/>
<circle cx="287.8" cy="559.0" r="0.72" fill="#000"/>
<circle cx="288.5" cy="543.5" r="0.72" fill="#000"/>
<circle cx="289.7" cy="559.5" r="0.72" fill="#000"/>
<circle cx="290.4" cy="527.8" r="0.72" fill="#000"/>
<circle cx="288.2" cy="543.1" r="0.72" fill="#000"/>
<circle cx="289.8" cy="563.0" r="0.72" fill="#000"/>
<circle cx="287.4" cy="541.3" r="0.72" fill="#000"/>
<circle cx="287.9" cy="539.3" r="0.72" fill="#000"/>
<circle cx="289.8" cy="543.3" r="0.72" fill="#000"/>
<circle cx="290.6" cy="562.6" r="0.72" fill="#000"/>
<circle cx="291.3" cy="570.8" r="0.72" fill="#000"/>
<circle cx="290.8" cy="542.1" r="0.72" fill="#000"/>
<circle cx="289.3" cy="545.4" r="0.72" fill="#000"/>
<circle cx="290.7" cy="553.3" r="0.72" fill="#000"/>
<circle cx="288.8" cy="528.1" r="0.72" fill="#000"/>
<circle cx="289.6" cy="540.1" r="0.72" fill="#000"/>
<circle cx="288.2" cy="547.9" r="0.72" fill="#000"/>
<circle cx="288.0" cy="560.4" r="0.72" fill="#000"/>
<circle cx="289.5" cy="545.9" r="0.72" fill="#000"/>
<circle cx="288.2" cy="548.5" r="0.72" fill="#000"/>
<circle cx="289.8" cy="556.7" r="0.72" fill="#000"/>
<circle cx="289.8" cy="552.8" r="0.72" fill="#000"/>
<circle cx="289.6" cy="551.6" r="0.72" fill="#000"/>
<circle cx="288.9" cy="553.9" r="0.72" fill="#000"/>
<circle cx="290.2" cy="557.6" r="0.72" fill="#000"/>
<circle cx="288.5" cy="545.3" r="0.72" fill="#000"/>
<circle cx="288.0" cy="550.2" r="0.72" fill="#000"/>
<circle cx="290.2" cy="560.4" r="0.72" fill="#000"/>
<circle cx="288.7" cy="562.2" r="0.72" fill="#000"/>
<circle cx="290.1" cy="561.1" r="0.72" fill="#000"/>
<circle cx="290.8" cy="513.9" r="0.72" fill="#000"/>
<circle cx="289.1" cy="557.6" r="0.72" fill="#000"/>
<circle cx="288.6" cy="554.8" r="0.72" fill="#000"/>
<circle cx="287.5" cy="571.9" r="0.72" fill="#000"/>
<circle cx="291.5" cy="564.3" r="0.72" fill="#000"/>
<circle cx="291.4" cy="559.8" r="0.72" fill="#000"/>
<circle cx="288.4" cy="546.0" r="0.72" fill="#000"/>
<circle cx="288.9" cy="557.6" r="0.72" fill="#000"/>
<circle cx="289.7" cy="547.3" r="0.72" fill="#000"/>
<circle cx="287.9" cy="541.2" r="0.72" fill="#000"/>
<circle cx="288.3" cy="570.9" r="0.72" fill="#000"/>
<circle cx="290.7" cy="555.7" r="0.72" fill="#000"/>
<circle cx="287.7" cy="550.3" r="0.72" fill="#000"/>
<circle cx="291.4" cy="551.1" r="0.72" fill="#000"/>
<circle cx="289.1" cy="546.4" r="0.72" fill="#000"/>
<circle cx="291.2" cy="577.5" r="0.72" fill="#000"/>
<circle cx="287.7" cy="547.2" r="0.72" fill="#000"/>
<circle cx="288.0" cy="528.9" r="0.72" fill="#000"/>
<circle cx="288.6" cy="543.6" r="0.72" fill="#000"/>
<circle cx="288.8" cy="571.1" r="0.72" fill="#000"/>
<circle cx="289.6" cy="511.4" r="0.72" fill="#000"/>
<circle cx="287.3" cy="549.1" r="0.72" fill="#000"/>
<circle cx="288.2" cy="542.0" r="0.72" fill="#000"/>
<circle cx="291.5" cy="542.6" r="0.72" fill="#000"/>
<circle cx="288.8" cy="579.0" r="0.72" fill="#000"/>
<circle cx="289.0" cy="540.2" r="0.72" fill="#000"/>
<circle cx="289.2" cy="554.6" r="0.72" fill="#000"/>
<circle cx="291.6" cy="557.8" r="0.72" fill="#000"/>
<circle cx="291.1" cy="562.1" r="0.72" fill="#000"/>
<circle cx="289.8" cy="546.4" r="0.72" fill="#000"/>
<circle cx="288.6" cy="550.8" r="0.72" fill="#000"/>
<circle cx="289.7" cy="543.1" r="0.72" fill="#000"/>
<circle cx="290.2" cy="541.6" r="0.72" fill="#000"/>
<circle cx="288.9" cy="538.2" r="0.72" fill="#000"/>
<circle cx="287.6" cy="546.4" r="0.72" fill="#000"/>
<circle cx="287.9" cy="557.3" r="0.72" fill="#000"/>
<circle cx="288.8" cy="531.2" r="0.72" fill="#000"/>
<circle cx="289.6" cy="564.6" r="0.72" fill="#000"/>
<circle cx="289.6" cy="548.7" r="0.72" fill="#000"/>
<circle cx="288.7" cy="539.4" r="0.72" fill="#000"/>
<circle cx="287.6" cy="525.4" r="0.72" fill="#000"/>
<circle cx="289.0" cy="513.6" r="0.72" fill="#000"/>
<circle cx="287.7" cy="548.9" r="0.72" fill="#000"/>
<circle cx="289.1" cy="538.0" r="0.72" fill="#000"/>
<circle cx="290.2" cy="555.4" r="0.72" fill="#000"/>
<circle cx="288.4" cy="548.5" r="0.72" fill="#000"/>
<circle cx="287.3" cy="545.9" r="0.72" fill="#000"/>
<circle cx="287.7" cy="556.6" r="0.72" fill="#000"/>
<circle cx="287.4" cy="574.7" r="0.72" fill="#000"/>
<circle cx="290.6" cy="537.6" r="0.72" fill="#000"/>
<circle cx="288.6" cy="557.7" r="0.72" fill="#000"/>
<circle cx="287.2" cy="525.6" r="0.72" fill="#000"/>
<circle cx="291.1" cy="553.4" r="0.72" fill="#000"/>
<circle cx="291.1" cy="529.2" r="0.72" fill="#000"/>
<circle cx="287.4" cy="547.6" r="0.72" fill="#000"/>
<circle cx="287.5" cy="553.1" r="0.72" fill="#000"/>
<circle cx="290.8" cy="553.2" r="0.72" fill="#000"/>
<circle cx="289.0" cy="530.5" r="0.72" fill="#000"/>
<circle cx="289.1" cy="549.2" r="0.72" fill="#000"/>
<circle cx="290.0" cy="536.5" r="0.72" fill="#000"/>
<circle cx="289.8" cy="563.5" r="0.72" fill="#000"/>
<circle cx="289.3" cy="545.6" r="0.72" fill="#000"/>
<circle cx="291.6" cy="544.0" r="0.72" fill="#000"/>
<circle cx="289.4" cy="539.7" r="0.72" fill="#000"/>
<circle cx="288.5" cy="556.4" r="0.72" fill="#000"/>
<circle cx="289.1" cy="539.4" r="0.72" fill="#000"/>
<circle cx="288.3" cy="539.6" r="0.72" fill="#000"/>
<circle cx="290.1" cy="546.6" r="0.72" fill="#000"/>
<circle cx="288.1" cy="548.6" r="0.72" fill="#000"/>
<circle cx="289.3" cy="513.4" r="0.72" fill="#000"/>
<circle cx="289.9" cy="539.9" r="0.72" fill="#000"/>
<circle cx="289.4" cy="514.5" r="0.72" fill="#000"/>
<circle cx="290.3" cy="558.7" r="0.72" fill="#000"/>
<circle cx="290.0" cy="550.2" r="0.72" fill="#000"/>
<circle cx="288.9" cy="556.7" r="0.72" fill="#000"/>
<circle cx="290.3" cy="529.8" r="0.72" fill="#000"/>
<circle cx="288.9" cy="534.7" r="0.72" fill="#000"/>
<circle cx="291.1" cy="524.9" r="0.72" fill="#000"/>
<circle cx="287.6" cy="564.9" r="0.72" fill="#000"/>
<circle cx="289.3" cy="537.9" r="0.72" fill="#000"/>
<circle cx="289.5" cy="574.1" r="0.72" fill="#000"/>
<circle cx="289.7" cy="513.0" r="0.72" fill="#000"/>
<circle cx="291.0" cy="546.9" r="0.72" fill="#000"/>
<circle cx="287.5" cy="532.4" r="0.72" fill="#000"/>
<circle cx="288.2" cy="542.1" r="0.72" fill="#000"/>
<circle cx="290.1" cy="570.3" r="0.72" fill="#000"/>
<circle cx="291.0" cy="543.1" r="0.72" fill="#000"/>
<circle cx="288.2" cy="554.0" r="0.72" fill="#000"/>
<circle cx="290.7" cy="545.7" r="0.72" fill="#000"/>
<circle cx="288.6" cy="542.3" r="0.72" fill="#000"/>
<circle cx="291.4" cy="559.9" r="0.72" fill="#000"/>
<circle cx="289.4" cy="576.1" r="0.72" fill="#000"/>
<circle cx="291.2" cy="549.8" r="0.72" fill="#000"/>
<circle cx="288.4" cy="568.8" r="0.72" fill="#000"/>
<circle cx="290.2" cy="542.3" r="0.72" fill="#000"/>
<circle cx="288.1" cy="528.4" r="0.72" fill="#000"/>
<circle cx="291.6" cy="573.2" r="0.72" fill="#000"/>
<circle cx="290.2" cy="535.0" r="0.72" fill="#000"/>
<circle cx="289.5" cy="550.1" r="0.72" fill="#000"/>
<circle cx="288.7" cy="527.4" r="0.72" fill="#000"/>
<circle cx="288.2" cy="546.7" r="0.72" fill="#000"/>
<circle cx="290.6" cy="544.6" r="0.72" fill="#000"/>
<circle cx="289.3" cy="551.9" r="0.72" fill="#000"/>
<circle cx="290.7" cy="544.4" r="0.72" fill="#000"/>
<circle cx="289.8" cy="543.9" r="0.72" fill="#000"/>
<circle cx="290.5" cy="527.5" r="0.72" fill="#000"/>
<circle cx="289.5" cy="539.0" r="0.72" fill="#000"/>
<circle cx="287.6" cy="555.5" r="0.72" fill="#000"/>
<circle cx="290.6" cy="552.3" r="0.72" fill="#000"/>
<circle cx="290.2" cy="540.6" r="0.72" fill="#000"/>
<circle cx="291.3" cy="553.8" r="0.72" fill="#000"/>
<circle cx="290.6" cy="549.9" r="0.72" fill="#000"/>
<circle cx="287.6" cy="563.2" r="0.72" fill="#000"/>
<circle cx="288.7" cy="559.5" r="0.72" fill="#000"/>
<circle cx="290.0" cy="548.1" r="0.72" fill="#000"/>
<circle cx="288.0" cy="561.7" r="0.72" fill="#000"/>
<circle cx="289.9" cy="571.6" r="0.72" fill="#000"/>
<circle cx="290.3" cy="530.2" r="0.72" fill="#000"/>
<circle cx="289.8" cy="532.4" r="0.72" fill="#000"/>
<circle cx="290.7" cy="548.7" r="0.72" fill="#000"/>
<circle cx="291.4" cy="560.3" r="0.72" fill="#000"/>
<circle cx="290.3" cy="541.1" r="0.72" fill="#000"/>
<circle cx="291.4" cy="550.2" r="0.72" fill="#000"/>
<circle cx="287.4" cy="544.9" r="0.72" fill="#000"/>
<circle cx="289.1" cy="556.8" r="0.72" fill="#000"/>
<circle cx="291.2" cy="563.5" r="0.72" fill="#000"/>
<circle cx="290.5" cy="561.9" r="0.72" fill="#000"/>
<circle cx="289.8" cy="555.0" r="0.72" fill="#000"/>
<circle cx="289.8" cy="557.1" r="0.72" fill="#000"/>
<circle cx="291.2" cy="541.8" r="0.72" fill="#000"/>
<circle cx="288.7" cy="549.7" r="0.72" fill="#000"/>
<circle cx="291.1" cy="554.9" r="0.72" fill="#000"/>
<circle cx="290.7" cy="556.7" r="0.72" fill="#000"/>
<circle cx="288.2" cy="543.1" r="0.72" fill="#000"/>
<circle cx="288.9" cy="542.8" r="0.72" fill="#000"/>
<circle cx="290.2" cy="525.3" r="0.72" fill="#000"/>
<circle cx="287.7" cy="545.1" r="0.72" fill="#000"/>
<text transform="translate(53.2,605.5) rotate(-90)" font-size="8.5" text-anchor="end" fill="#1a1a1a" >BCL2/MYC</text>
<text transform="translate(63.6,605.5) rotate(-90)" font-size="8.5" text-anchor="end" fill="#1a1a1a" textLength="27.5" lengthAdjust="spacingAndGlyphs">MEF2D</text>
<text transform="translate(74.0,605.5) rotate(-90)" font-size="8.5" text-anchor="end" fill="#1a1a1a" textLength="43.8" lengthAdjust="spacingAndGlyphs">TCF3-PBX1</text>
<text transform="translate(84.4,605.5) rotate(-90)" font-size="8.5" text-anchor="end" fill="#1a1a1a" textLength="15.5" lengthAdjust="spacingAndGlyphs">HLF</text>
<text transform="translate(94.8,605.5) rotate(-90)" font-size="8.5" text-anchor="end" fill="#1a1a1a" textLength="28.7" lengthAdjust="spacingAndGlyphs">PAX5alt</text>
<text transform="translate(105.2,605.5) rotate(-90)" font-size="8.5" text-anchor="end" fill="#1a1a1a" textLength="20.3" lengthAdjust="spacingAndGlyphs">Other</text>
<text transform="translate(115.6,605.5) rotate(-90)" font-size="8.5" text-anchor="end" fill="#1a1a1a" textLength="21.8" lengthAdjust="spacingAndGlyphs">DUX4</text>
<text transform="translate(126.0,605.5) rotate(-90)" font-size="8.5" text-anchor="end" fill="#1a1a1a" textLength="42.2" lengthAdjust="spacingAndGlyphs">KMT2A-like</text>
<text transform="translate(136.4,605.5) rotate(-90)" font-size="8.5" text-anchor="end" fill="#1a1a1a" textLength="28.0" lengthAdjust="spacingAndGlyphs">NUTM1</text>
<text transform="translate(146.8,605.5) rotate(-90)" font-size="8.5" text-anchor="end" fill="#1a1a1a" textLength="49.8" lengthAdjust="spacingAndGlyphs">IKZF1 N159Y</text>
<text transform="translate(157.2,605.5) rotate(-90)" font-size="8.5" text-anchor="end" fill="#1a1a1a" textLength="24.8" lengthAdjust="spacingAndGlyphs">Ph-like</text>
<text transform="translate(167.6,605.5) rotate(-90)" font-size="8.5" text-anchor="end" fill="#1a1a1a" textLength="9.9" lengthAdjust="spacingAndGlyphs">Ph</text>
<text transform="translate(178.0,605.5) rotate(-90)" font-size="8.5" text-anchor="end" fill="#1a1a1a" textLength="65.1" lengthAdjust="spacingAndGlyphs">ETV6-RUNX1-like</text>
<text transform="translate(188.4,605.5) rotate(-90)" font-size="8.5" text-anchor="end" fill="#1a1a1a" textLength="58.2" lengthAdjust="spacingAndGlyphs">Low hypodiploid</text>
<text transform="translate(198.8,605.5) rotate(-90)" font-size="8.5" text-anchor="end" fill="#1a1a1a" textLength="42.7" lengthAdjust="spacingAndGlyphs">PAX5 P80R</text>
<text transform="translate(209.2,605.5) rotate(-90)" font-size="8.5" text-anchor="end" fill="#1a1a1a" textLength="49.5" lengthAdjust="spacingAndGlyphs">ETV6-RUNX1</text>
<text transform="translate(219.6,605.5) rotate(-90)" font-size="8.5" text-anchor="end" fill="#1a1a1a" textLength="71.4" lengthAdjust="spacingAndGlyphs">CRLF2(non-Ph-like)</text>
<text transform="translate(230.0,605.5) rotate(-90)" font-size="8.5" text-anchor="end" fill="#1a1a1a" textLength="46.0" lengthAdjust="spacingAndGlyphs">Near haploid</text>
<text transform="translate(240.4,605.5) rotate(-90)" font-size="8.5" text-anchor="end" fill="#1a1a1a" textLength="28.3" lengthAdjust="spacingAndGlyphs">iAMP21</text>
<text transform="translate(250.8,605.5) rotate(-90)" font-size="8.5" text-anchor="end" fill="#1a1a1a" textLength="61.9" lengthAdjust="spacingAndGlyphs">Low hyperdiploid</text>
<text transform="translate(261.2,605.5) rotate(-90)" font-size="8.5" text-anchor="end" fill="#1a1a1a" textLength="29.3" lengthAdjust="spacingAndGlyphs">ZNF384</text>
<text transform="translate(271.6,605.5) rotate(-90)" font-size="8.5" text-anchor="end" fill="#1a1a1a" textLength="26.9" lengthAdjust="spacingAndGlyphs">KMT2A</text>
<text transform="translate(282.0,605.5) rotate(-90)" font-size="8.5" text-anchor="end" fill="#1a1a1a" textLength="44.2" lengthAdjust="spacingAndGlyphs">ZNF384-like</text>
<text transform="translate(292.4,605.5) rotate(-90)" font-size="8.5" text-anchor="end" fill="#1a1a1a" textLength="63.3" lengthAdjust="spacingAndGlyphs">High hyperdiploid</text>
<text x="314.5" y="303.3" font-size="11.6" text-anchor="start" font-weight="bold" fill="#000" >C</text>
<text x="428.0" y="303.5" font-size="9.8" text-anchor="middle" font-weight="normal" fill="#1a1a1a" textLength="24.5" lengthAdjust="spacingAndGlyphs">T-ALL</text>
<line x1="342.30" y1="309.20" x2="342.30" y2="434.70" stroke="#2b2b2b" stroke-width="1.1"/>
<line x1="341.80" y1="434.20" x2="512.80" y2="434.20" stroke="#2b2b2b" stroke-width="1.1"/>
<line x1="339.30" y1="325.60" x2="342.30" y2="325.60" stroke="#2b2b2b" stroke-width="1"/>
<text x="335.7" y="328.5" font-size="8.4" text-anchor="end" font-weight="normal" fill="#1a1a1a" >2</text>
<line x1="339.30" y1="350.30" x2="342.30" y2="350.30" stroke="#2b2b2b" stroke-width="1"/>
<text x="335.7" y="353.2" font-size="8.4" text-anchor="end" font-weight="normal" fill="#1a1a1a" >1</text>
<line x1="339.30" y1="375.00" x2="342.30" y2="375.00" stroke="#2b2b2b" stroke-width="1"/>
<text x="335.7" y="377.9" font-size="8.4" text-anchor="end" font-weight="normal" fill="#1a1a1a" >0</text>
<line x1="339.30" y1="399.70" x2="342.30" y2="399.70" stroke="#2b2b2b" stroke-width="1"/>
<text x="335.7" y="402.6" font-size="8.4" text-anchor="end" font-weight="normal" fill="#1a1a1a" >−1</text>
<line x1="339.30" y1="424.40" x2="342.30" y2="424.40" stroke="#2b2b2b" stroke-width="1"/>
<text x="335.7" y="427.3" font-size="8.4" text-anchor="end" font-weight="normal" fill="#1a1a1a" >−2</text>
<line x1="349.70" y1="434.20" x2="349.70" y2="437.00" stroke="#2b2b2b" stroke-width="1"/>
<line x1="361.70" y1="434.20" x2="361.70" y2="437.00" stroke="#2b2b2b" stroke-width="1"/>
<line x1="373.70" y1="434.20" x2="373.70" y2="437.00" stroke="#2b2b2b" stroke-width="1"/>
<line x1="385.70" y1="434.20" x2="385.70" y2="437.00" stroke="#2b2b2b" stroke-width="1"/>
<line x1="397.70" y1="434.20" x2="397.70" y2="437.00" stroke="#2b2b2b" stroke-width="1"/>
<line x1="409.70" y1="434.20" x2="409.70" y2="437.00" stroke="#2b2b2b" stroke-width="1"/>
<line x1="421.70" y1="434.20" x2="421.70" y2="437.00" stroke="#2b2b2b" stroke-width="1"/>
<line x1="433.70" y1="434.20" x2="433.70" y2="437.00" stroke="#2b2b2b" stroke-width="1"/>
<line x1="445.70" y1="434.20" x2="445.70" y2="437.00" stroke="#2b2b2b" stroke-width="1"/>
<line x1="457.70" y1="434.20" x2="457.70" y2="437.00" stroke="#2b2b2b" stroke-width="1"/>
<line x1="469.70" y1="434.20" x2="469.70" y2="437.00" stroke="#2b2b2b" stroke-width="1"/>
<line x1="481.70" y1="434.20" x2="481.70" y2="437.00" stroke="#2b2b2b" stroke-width="1"/>
<line x1="493.70" y1="434.20" x2="493.70" y2="437.00" stroke="#2b2b2b" stroke-width="1"/>
<line x1="505.70" y1="434.20" x2="505.70" y2="437.00" stroke="#2b2b2b" stroke-width="1"/>
<text transform="translate(320.3,371.6) rotate(-90)" font-size="9.8" text-anchor="middle" fill="#111" stroke="#111" stroke-width="0.25" textLength="32.7" lengthAdjust="spacingAndGlyphs">BCL2_SIG</text>
<line x1="349.70" y1="390.00" x2="349.70" y2="397.90" stroke="#555" stroke-width="0.9"/>
<line x1="349.70" y1="413.40" x2="349.70" y2="425.00" stroke="#555" stroke-width="0.9"/>
<rect x="345.30" y="397.90" width="8.80" height="15.50" fill="#a8b020"/>
<line x1="345.30" y1="402.40" x2="354.10" y2="402.40" stroke="#1a1a1a" stroke-width="1.1"/>
<circle cx="349.4" cy="390.0" r="0.72" fill="#000"/>
<circle cx="350.3" cy="425.0" r="0.72" fill="#000"/>
<circle cx="349.6" cy="403.9" r="0.72" fill="#000"/>
<circle cx="347.7" cy="411.7" r="0.72" fill="#000"/>
<circle cx="348.9" cy="412.7" r="0.72" fill="#000"/>
<circle cx="351.2" cy="422.0" r="0.72" fill="#000"/>
<circle cx="348.2" cy="400.4" r="0.72" fill="#000"/>
<circle cx="351.3" cy="406.8" r="0.72" fill="#000"/>
<circle cx="351.9" cy="424.2" r="0.72" fill="#000"/>
<circle cx="348.8" cy="392.7" r="0.72" fill="#000"/>
<line x1="361.70" y1="389.00" x2="361.70" y2="392.60" stroke="#555" stroke-width="0.9"/>
<line x1="361.70" y1="406.60" x2="361.70" y2="418.70" stroke="#555" stroke-width="0.9"/>
<rect x="357.30" y="392.60" width="8.80" height="14.00" fill="#a890d8"/>
<line x1="357.30" y1="399.00" x2="366.10" y2="399.00" stroke="#1a1a1a" stroke-width="1.1"/>
<circle cx="361.1" cy="389.0" r="0.72" fill="#000"/>
<circle cx="361.9" cy="418.7" r="0.72" fill="#000"/>
<circle cx="362.8" cy="404.6" r="0.72" fill="#000"/>
<circle cx="361.7" cy="407.5" r="0.72" fill="#000"/>
<circle cx="360.2" cy="414.1" r="0.72" fill="#000"/>
<circle cx="362.7" cy="405.9" r="0.72" fill="#000"/>
<circle cx="360.4" cy="392.0" r="0.72" fill="#000"/>
<circle cx="363.6" cy="405.1" r="0.72" fill="#000"/>
<line x1="373.70" y1="373.10" x2="373.70" y2="391.10" stroke="#555" stroke-width="0.9"/>
<line x1="373.70" y1="405.60" x2="373.70" y2="421.90" stroke="#555" stroke-width="0.9"/>
<rect x="369.30" y="391.10" width="8.80" height="14.50" fill="#3a90d8"/>
<line x1="369.30" y1="397.50" x2="378.10" y2="397.50" stroke="#1a1a1a" stroke-width="1.1"/>
<circle cx="374.0" cy="373.1" r="0.72" fill="#000"/>
<circle cx="372.6" cy="421.9" r="0.72" fill="#000"/>
<circle cx="375.3" cy="397.2" r="0.72" fill="#000"/>
<circle cx="372.0" cy="406.6" r="0.72" fill="#000"/>
<circle cx="371.4" cy="403.3" r="0.72" fill="#000"/>
<circle cx="373.8" cy="415.5" r="0.72" fill="#000"/>
<circle cx="372.3" cy="418.2" r="0.72" fill="#000"/>
<circle cx="373.1" cy="394.6" r="0.72" fill="#000"/>
<circle cx="372.7" cy="394.9" r="0.72" fill="#000"/>
<circle cx="375.6" cy="382.3" r="0.72" fill="#000"/>
<circle cx="374.0" cy="405.5" r="0.72" fill="#000"/>
<circle cx="376.1" cy="395.1" r="0.72" fill="#000"/>
<circle cx="375.5" cy="392.5" r="0.72" fill="#000"/>
<circle cx="371.3" cy="405.8" r="0.72" fill="#000"/>
<circle cx="374.7" cy="385.6" r="0.72" fill="#000"/>
<circle cx="375.4" cy="417.6" r="0.72" fill="#000"/>
<circle cx="372.9" cy="392.1" r="0.72" fill="#000"/>
<circle cx="371.6" cy="419.0" r="0.72" fill="#000"/>
<circle cx="373.4" cy="397.8" r="0.72" fill="#000"/>
<circle cx="375.2" cy="404.2" r="0.72" fill="#000"/>
<circle cx="375.1" cy="385.1" r="0.72" fill="#000"/>
<circle cx="376.0" cy="407.7" r="0.72" fill="#000"/>
<circle cx="373.4" cy="387.2" r="0.72" fill="#000"/>
<circle cx="375.3" cy="398.7" r="0.72" fill="#000"/>
<circle cx="371.4" cy="396.4" r="0.72" fill="#000"/>
<circle cx="374.4" cy="395.6" r="0.72" fill="#000"/>
<circle cx="375.5" cy="375.2" r="0.72" fill="#000"/>
<circle cx="371.5" cy="375.8" r="0.72" fill="#000"/>
<circle cx="374.1" cy="387.1" r="0.72" fill="#000"/>
<circle cx="372.8" cy="394.9" r="0.72" fill="#000"/>
<circle cx="371.7" cy="411.6" r="0.72" fill="#000"/>
<circle cx="372.2" cy="397.5" r="0.72" fill="#000"/>
<circle cx="372.5" cy="402.4" r="0.72" fill="#000"/>
<circle cx="375.2" cy="409.6" r="0.72" fill="#000"/>
<circle cx="374.0" cy="410.6" r="0.72" fill="#000"/>
<circle cx="372.6" cy="395.8" r="0.72" fill="#000"/>
<circle cx="375.0" cy="401.5" r="0.72" fill="#000"/>
<circle cx="374.2" cy="397.0" r="0.72" fill="#000"/>
<circle cx="373.7" cy="408.2" r="0.72" fill="#000"/>
<circle cx="371.6" cy="396.6" r="0.72" fill="#000"/>
<circle cx="371.5" cy="397.9" r="0.72" fill="#000"/>
<circle cx="375.9" cy="396.3" r="0.72" fill="#000"/>
<circle cx="373.4" cy="420.1" r="0.72" fill="#000"/>
<circle cx="374.2" cy="395.2" r="0.72" fill="#000"/>
<circle cx="375.0" cy="397.8" r="0.72" fill="#000"/>
<circle cx="371.8" cy="396.1" r="0.72" fill="#000"/>
<circle cx="373.7" cy="383.2" r="0.72" fill="#000"/>
<circle cx="371.6" cy="410.5" r="0.72" fill="#000"/>
<circle cx="376.1" cy="396.9" r="0.72" fill="#000"/>
<circle cx="374.9" cy="404.6" r="0.72" fill="#000"/>
<circle cx="371.4" cy="379.8" r="0.72" fill="#000"/>
<circle cx="372.2" cy="389.9" r="0.72" fill="#000"/>
<circle cx="372.3" cy="380.7" r="0.72" fill="#000"/>
<circle cx="374.8" cy="417.9" r="0.72" fill="#000"/>
<circle cx="373.0" cy="414.2" r="0.72" fill="#000"/>
<circle cx="372.3" cy="408.9" r="0.72" fill="#000"/>
<circle cx="371.5" cy="413.0" r="0.72" fill="#000"/>
<circle cx="371.9" cy="399.2" r="0.72" fill="#000"/>
<circle cx="375.4" cy="395.9" r="0.72" fill="#000"/>
<circle cx="374.1" cy="412.2" r="0.72" fill="#000"/>
<circle cx="373.3" cy="406.7" r="0.72" fill="#000"/>
<circle cx="374.8" cy="414.6" r="0.72" fill="#000"/>
<circle cx="374.7" cy="393.9" r="0.72" fill="#000"/>
<circle cx="376.0" cy="396.9" r="0.72" fill="#000"/>
<circle cx="373.6" cy="385.4" r="0.72" fill="#000"/>
<circle cx="376.3" cy="412.2" r="0.72" fill="#000"/>
<circle cx="371.8" cy="404.4" r="0.72" fill="#000"/>
<circle cx="373.7" cy="379.7" r="0.72" fill="#000"/>
<circle cx="375.8" cy="408.7" r="0.72" fill="#000"/>
<circle cx="371.5" cy="395.6" r="0.72" fill="#000"/>
<circle cx="371.8" cy="393.6" r="0.72" fill="#000"/>
<circle cx="372.1" cy="386.1" r="0.72" fill="#000"/>
<circle cx="375.0" cy="396.6" r="0.72" fill="#000"/>
<circle cx="375.8" cy="412.2" r="0.72" fill="#000"/>
<circle cx="374.2" cy="409.1" r="0.72" fill="#000"/>
<circle cx="372.8" cy="396.0" r="0.72" fill="#000"/>
<circle cx="373.0" cy="401.1" r="0.72" fill="#000"/>
<circle cx="374.5" cy="390.8" r="0.72" fill="#000"/>
<circle cx="373.3" cy="417.8" r="0.72" fill="#000"/>
<circle cx="371.8" cy="391.9" r="0.72" fill="#000"/>
<circle cx="375.2" cy="399.5" r="0.72" fill="#000"/>
<circle cx="373.3" cy="394.9" r="0.72" fill="#000"/>
<circle cx="371.1" cy="392.5" r="0.72" fill="#000"/>
<circle cx="372.5" cy="401.9" r="0.72" fill="#000"/>
<circle cx="371.5" cy="403.4" r="0.72" fill="#000"/>
<circle cx="371.6" cy="392.2" r="0.72" fill="#000"/>
<circle cx="372.9" cy="400.6" r="0.72" fill="#000"/>
<circle cx="373.7" cy="406.3" r="0.72" fill="#000"/>
<circle cx="375.5" cy="397.6" r="0.72" fill="#000"/>
<circle cx="371.8" cy="404.6" r="0.72" fill="#000"/>
<circle cx="373.7" cy="323.7" r="0.75" fill="#222"/>
<circle cx="373.1" cy="344.0" r="0.75" fill="#222"/>
<circle cx="374.3" cy="344.0" r="0.75" fill="#222"/>
<circle cx="373.1" cy="355.0" r="0.75" fill="#222"/>
<circle cx="374.3" cy="355.0" r="0.75" fill="#222"/>
<circle cx="373.7" cy="363.6" r="0.75" fill="#222"/>
<circle cx="373.7" cy="428.2" r="0.75" fill="#222"/>
<line x1="385.70" y1="380.50" x2="385.70" y2="386.90" stroke="#555" stroke-width="0.9"/>
<line x1="385.70" y1="400.00" x2="385.70" y2="408.00" stroke="#555" stroke-width="0.9"/>
<rect x="381.30" y="386.90" width="8.80" height="13.10" fill="#30b030"/>
<line x1="381.30" y1="392.20" x2="390.10" y2="392.20" stroke="#1a1a1a" stroke-width="1.1"/>
<circle cx="385.7" cy="380.5" r="0.72" fill="#000"/>
<circle cx="385.1" cy="408.0" r="0.72" fill="#000"/>
<circle cx="387.3" cy="402.8" r="0.72" fill="#000"/>
<circle cx="386.1" cy="405.9" r="0.72" fill="#000"/>
<circle cx="383.5" cy="399.6" r="0.72" fill="#000"/>
<circle cx="383.8" cy="381.3" r="0.72" fill="#000"/>
<circle cx="386.5" cy="397.6" r="0.72" fill="#000"/>
<circle cx="384.8" cy="404.4" r="0.72" fill="#000"/>
<circle cx="387.9" cy="392.9" r="0.72" fill="#000"/>
<circle cx="386.4" cy="382.4" r="0.72" fill="#000"/>
<circle cx="388.1" cy="383.1" r="0.72" fill="#000"/>
<circle cx="384.5" cy="394.4" r="0.72" fill="#000"/>
<circle cx="386.1" cy="388.1" r="0.72" fill="#000"/>
<circle cx="384.0" cy="393.8" r="0.72" fill="#000"/>
<circle cx="383.7" cy="385.2" r="0.72" fill="#000"/>
<circle cx="385.7" cy="344.5" r="0.75" fill="#222"/>
<line x1="397.70" y1="354.00" x2="397.70" y2="374.20" stroke="#555" stroke-width="0.9"/>
<line x1="397.70" y1="386.30" x2="397.70" y2="401.70" stroke="#555" stroke-width="0.9"/>
<rect x="393.30" y="374.20" width="8.80" height="12.10" fill="#d050a0"/>
<line x1="393.30" y1="380.10" x2="402.10" y2="380.10" stroke="#1a1a1a" stroke-width="1.1"/>
<circle cx="398.9" cy="354.0" r="0.72" fill="#000"/>
<circle cx="397.3" cy="401.7" r="0.72" fill="#000"/>
<circle cx="398.3" cy="369.9" r="0.72" fill="#000"/>
<circle cx="398.4" cy="391.7" r="0.72" fill="#000"/>
<circle cx="398.8" cy="355.1" r="0.72" fill="#000"/>
<circle cx="397.1" cy="370.7" r="0.72" fill="#000"/>
<circle cx="399.5" cy="375.1" r="0.72" fill="#000"/>
<circle cx="396.2" cy="384.3" r="0.72" fill="#000"/>
<circle cx="396.4" cy="384.6" r="0.72" fill="#000"/>
<circle cx="397.3" cy="375.2" r="0.72" fill="#000"/>
<circle cx="395.2" cy="395.9" r="0.72" fill="#000"/>
<circle cx="397.1" cy="383.3" r="0.72" fill="#000"/>
<circle cx="400.2" cy="364.6" r="0.72" fill="#000"/>
<circle cx="399.8" cy="364.5" r="0.72" fill="#000"/>
<circle cx="398.9" cy="389.0" r="0.72" fill="#000"/>
<circle cx="398.2" cy="366.2" r="0.72" fill="#000"/>
<circle cx="396.0" cy="379.1" r="0.72" fill="#000"/>
<circle cx="399.5" cy="380.4" r="0.72" fill="#000"/>
<circle cx="398.1" cy="372.7" r="0.72" fill="#000"/>
<circle cx="396.4" cy="370.6" r="0.72" fill="#000"/>
<circle cx="396.7" cy="369.3" r="0.72" fill="#000"/>
<circle cx="399.7" cy="363.7" r="0.72" fill="#000"/>
<circle cx="398.4" cy="374.8" r="0.72" fill="#000"/>
<circle cx="396.1" cy="364.2" r="0.72" fill="#000"/>
<circle cx="395.3" cy="377.0" r="0.72" fill="#000"/>
<circle cx="396.0" cy="381.3" r="0.72" fill="#000"/>
<circle cx="396.1" cy="397.7" r="0.72" fill="#000"/>
<circle cx="398.1" cy="384.8" r="0.72" fill="#000"/>
<circle cx="395.4" cy="390.1" r="0.72" fill="#000"/>
<circle cx="396.4" cy="379.3" r="0.72" fill="#000"/>
<circle cx="397.1" cy="340.0" r="0.75" fill="#222"/>
<circle cx="398.3" cy="340.0" r="0.75" fill="#222"/>
<line x1="409.70" y1="327.60" x2="409.70" y2="342.00" stroke="#555" stroke-width="0.9"/>
<line x1="409.70" y1="381.60" x2="409.70" y2="389.00" stroke="#555" stroke-width="0.9"/>
<rect x="405.30" y="342.00" width="8.80" height="39.60" fill="#f07070"/>
<line x1="405.30" y1="375.90" x2="414.10" y2="375.90" stroke="#1a1a1a" stroke-width="1.1"/>
<circle cx="408.8" cy="327.6" r="0.72" fill="#000"/>
<circle cx="410.6" cy="389.0" r="0.72" fill="#000"/>
<circle cx="408.1" cy="358.2" r="0.72" fill="#000"/>
<circle cx="407.5" cy="351.9" r="0.72" fill="#000"/>
<circle cx="407.4" cy="336.0" r="0.72" fill="#000"/>
<circle cx="408.0" cy="330.6" r="0.72" fill="#000"/>
<circle cx="408.6" cy="359.7" r="0.72" fill="#000"/>
<circle cx="410.2" cy="369.6" r="0.72" fill="#000"/>
<line x1="421.70" y1="315.90" x2="421.70" y2="349.80" stroke="#555" stroke-width="0.9"/>
<line x1="421.70" y1="391.10" x2="421.70" y2="426.70" stroke="#555" stroke-width="0.9"/>
<rect x="417.30" y="349.80" width="8.80" height="41.30" fill="#20a050"/>
<line x1="417.30" y1="375.20" x2="426.10" y2="375.20" stroke="#1a1a1a" stroke-width="1.1"/>
<circle cx="422.1" cy="315.9" r="0.72" fill="#000"/>
<circle cx="422.9" cy="426.7" r="0.72" fill="#000"/>
<circle cx="421.8" cy="362.7" r="0.72" fill="#000"/>
<circle cx="423.2" cy="403.4" r="0.72" fill="#000"/>
<circle cx="419.3" cy="392.7" r="0.72" fill="#000"/>
<circle cx="420.2" cy="389.9" r="0.72" fill="#000"/>
<circle cx="422.4" cy="315.6" r="0.72" fill="#000"/>
<circle cx="422.7" cy="424.6" r="0.72" fill="#000"/>
<circle cx="422.2" cy="414.6" r="0.72" fill="#000"/>
<circle cx="423.2" cy="391.3" r="0.72" fill="#000"/>
<circle cx="419.5" cy="337.4" r="0.72" fill="#000"/>
<circle cx="419.8" cy="378.0" r="0.72" fill="#000"/>
<circle cx="423.8" cy="387.5" r="0.72" fill="#000"/>
<circle cx="423.2" cy="383.2" r="0.72" fill="#000"/>
<circle cx="424.0" cy="396.2" r="0.72" fill="#000"/>
<circle cx="422.9" cy="354.9" r="0.72" fill="#000"/>
<circle cx="422.9" cy="362.7" r="0.72" fill="#000"/>
<circle cx="419.8" cy="354.5" r="0.72" fill="#000"/>
<circle cx="423.1" cy="339.4" r="0.72" fill="#000"/>
<circle cx="420.3" cy="361.2" r="0.72" fill="#000"/>
<circle cx="422.2" cy="397.2" r="0.72" fill="#000"/>
<circle cx="420.2" cy="404.0" r="0.72" fill="#000"/>
<circle cx="422.7" cy="375.9" r="0.72" fill="#000"/>
<circle cx="421.2" cy="389.4" r="0.72" fill="#000"/>
<circle cx="422.5" cy="327.6" r="0.72" fill="#000"/>
<circle cx="422.6" cy="343.1" r="0.72" fill="#000"/>
<circle cx="421.9" cy="391.9" r="0.72" fill="#000"/>
<circle cx="419.5" cy="342.1" r="0.72" fill="#000"/>
<circle cx="420.6" cy="359.3" r="0.72" fill="#000"/>
<circle cx="423.4" cy="332.1" r="0.72" fill="#000"/>
<circle cx="423.4" cy="415.0" r="0.72" fill="#000"/>
<circle cx="420.1" cy="381.2" r="0.72" fill="#000"/>
<circle cx="420.2" cy="340.3" r="0.72" fill="#000"/>
<circle cx="423.3" cy="318.7" r="0.72" fill="#000"/>
<circle cx="419.2" cy="381.2" r="0.72" fill="#000"/>
<circle cx="421.0" cy="364.1" r="0.72" fill="#000"/>
<circle cx="420.8" cy="361.1" r="0.72" fill="#000"/>
<circle cx="422.8" cy="328.6" r="0.72" fill="#000"/>
<circle cx="419.3" cy="331.1" r="0.72" fill="#000"/>
<circle cx="420.5" cy="374.1" r="0.72" fill="#000"/>
<circle cx="419.7" cy="345.7" r="0.72" fill="#000"/>
<circle cx="423.3" cy="374.9" r="0.72" fill="#000"/>
<circle cx="423.3" cy="375.5" r="0.72" fill="#000"/>
<circle cx="423.2" cy="325.7" r="0.72" fill="#000"/>
<circle cx="420.7" cy="419.6" r="0.72" fill="#000"/>
<circle cx="422.3" cy="389.1" r="0.72" fill="#000"/>
<circle cx="420.9" cy="367.9" r="0.72" fill="#000"/>
<circle cx="420.4" cy="335.4" r="0.72" fill="#000"/>
<circle cx="422.0" cy="424.1" r="0.72" fill="#000"/>
<circle cx="420.3" cy="331.3" r="0.72" fill="#000"/>
<circle cx="421.3" cy="383.3" r="0.72" fill="#000"/>
<circle cx="424.3" cy="371.6" r="0.72" fill="#000"/>
<circle cx="421.3" cy="395.5" r="0.72" fill="#000"/>
<circle cx="420.7" cy="368.9" r="0.72" fill="#000"/>
<circle cx="420.9" cy="401.5" r="0.72" fill="#000"/>
<circle cx="423.2" cy="369.1" r="0.72" fill="#000"/>
<circle cx="422.8" cy="386.2" r="0.72" fill="#000"/>
<circle cx="423.4" cy="387.9" r="0.72" fill="#000"/>
<circle cx="422.2" cy="399.9" r="0.72" fill="#000"/>
<circle cx="423.5" cy="379.0" r="0.72" fill="#000"/>
<circle cx="421.2" cy="344.0" r="0.72" fill="#000"/>
<circle cx="422.7" cy="382.2" r="0.72" fill="#000"/>
<circle cx="420.4" cy="392.2" r="0.72" fill="#000"/>
<circle cx="419.6" cy="352.5" r="0.72" fill="#000"/>
<circle cx="422.1" cy="362.4" r="0.72" fill="#000"/>
<circle cx="420.4" cy="423.9" r="0.72" fill="#000"/>
<circle cx="420.2" cy="393.6" r="0.72" fill="#000"/>
<circle cx="421.9" cy="331.1" r="0.72" fill="#000"/>
<circle cx="422.8" cy="379.2" r="0.72" fill="#000"/>
<circle cx="421.8" cy="330.5" r="0.72" fill="#000"/>
<circle cx="420.0" cy="341.1" r="0.72" fill="#000"/>
<circle cx="422.4" cy="396.5" r="0.72" fill="#000"/>
<circle cx="422.4" cy="382.6" r="0.72" fill="#000"/>
<circle cx="421.9" cy="392.4" r="0.72" fill="#000"/>
<circle cx="420.5" cy="424.5" r="0.72" fill="#000"/>
<circle cx="423.3" cy="399.1" r="0.72" fill="#000"/>
<circle cx="420.5" cy="382.3" r="0.72" fill="#000"/>
<circle cx="421.2" cy="349.5" r="0.72" fill="#000"/>
<circle cx="421.2" cy="370.6" r="0.72" fill="#000"/>
<circle cx="421.4" cy="401.3" r="0.72" fill="#000"/>
<circle cx="421.2" cy="413.6" r="0.72" fill="#000"/>
<circle cx="422.4" cy="415.0" r="0.72" fill="#000"/>
<circle cx="424.1" cy="316.5" r="0.72" fill="#000"/>
<circle cx="424.1" cy="366.8" r="0.72" fill="#000"/>
<circle cx="423.4" cy="352.0" r="0.72" fill="#000"/>
<circle cx="421.4" cy="421.9" r="0.72" fill="#000"/>
<circle cx="420.0" cy="390.2" r="0.72" fill="#000"/>
<circle cx="421.3" cy="349.4" r="0.72" fill="#000"/>
<circle cx="421.5" cy="367.0" r="0.72" fill="#000"/>
<circle cx="421.7" cy="353.8" r="0.72" fill="#000"/>
<circle cx="423.8" cy="369.2" r="0.72" fill="#000"/>
<circle cx="421.7" cy="419.3" r="0.72" fill="#000"/>
<circle cx="422.1" cy="322.5" r="0.72" fill="#000"/>
<circle cx="420.8" cy="350.3" r="0.72" fill="#000"/>
<circle cx="421.9" cy="400.0" r="0.72" fill="#000"/>
<circle cx="422.1" cy="396.0" r="0.72" fill="#000"/>
<circle cx="423.8" cy="396.8" r="0.72" fill="#000"/>
<circle cx="420.8" cy="408.0" r="0.72" fill="#000"/>
<circle cx="421.4" cy="337.1" r="0.72" fill="#000"/>
<circle cx="419.9" cy="368.4" r="0.72" fill="#000"/>
<circle cx="421.1" cy="321.5" r="0.72" fill="#000"/>
<circle cx="419.1" cy="410.8" r="0.72" fill="#000"/>
<circle cx="421.9" cy="415.8" r="0.72" fill="#000"/>
<circle cx="422.7" cy="350.6" r="0.72" fill="#000"/>
<circle cx="423.2" cy="387.9" r="0.72" fill="#000"/>
<circle cx="420.6" cy="379.3" r="0.72" fill="#000"/>
<circle cx="423.9" cy="386.8" r="0.72" fill="#000"/>
<circle cx="421.9" cy="426.4" r="0.72" fill="#000"/>
<circle cx="422.8" cy="336.1" r="0.72" fill="#000"/>
<circle cx="419.8" cy="380.2" r="0.72" fill="#000"/>
<circle cx="421.3" cy="340.9" r="0.72" fill="#000"/>
<circle cx="420.3" cy="389.4" r="0.72" fill="#000"/>
<circle cx="420.0" cy="362.3" r="0.72" fill="#000"/>
<circle cx="419.1" cy="325.9" r="0.72" fill="#000"/>
<circle cx="419.4" cy="391.9" r="0.72" fill="#000"/>
<circle cx="420.7" cy="400.2" r="0.72" fill="#000"/>
<circle cx="421.3" cy="341.8" r="0.72" fill="#000"/>
<circle cx="419.8" cy="388.2" r="0.72" fill="#000"/>
<circle cx="419.6" cy="352.6" r="0.72" fill="#000"/>
<circle cx="420.1" cy="379.8" r="0.72" fill="#000"/>
<circle cx="423.0" cy="359.8" r="0.72" fill="#000"/>
<circle cx="421.4" cy="333.8" r="0.72" fill="#000"/>
<circle cx="422.7" cy="320.6" r="0.72" fill="#000"/>
<circle cx="420.0" cy="371.2" r="0.72" fill="#000"/>
<circle cx="421.6" cy="384.7" r="0.72" fill="#000"/>
<circle cx="420.3" cy="385.2" r="0.72" fill="#000"/>
<circle cx="420.3" cy="351.6" r="0.72" fill="#000"/>
<circle cx="421.3" cy="399.5" r="0.72" fill="#000"/>
<circle cx="423.6" cy="358.8" r="0.72" fill="#000"/>
<circle cx="419.3" cy="368.0" r="0.72" fill="#000"/>
<circle cx="421.9" cy="418.2" r="0.72" fill="#000"/>
<circle cx="424.1" cy="349.3" r="0.72" fill="#000"/>
<circle cx="420.5" cy="423.4" r="0.72" fill="#000"/>
<circle cx="424.3" cy="346.0" r="0.72" fill="#000"/>
<circle cx="423.4" cy="349.3" r="0.72" fill="#000"/>
<circle cx="423.8" cy="396.9" r="0.72" fill="#000"/>
<circle cx="424.0" cy="378.3" r="0.72" fill="#000"/>
<circle cx="423.6" cy="403.3" r="0.72" fill="#000"/>
<circle cx="423.9" cy="372.1" r="0.72" fill="#000"/>
<circle cx="421.4" cy="386.8" r="0.72" fill="#000"/>
<circle cx="421.8" cy="360.7" r="0.72" fill="#000"/>
<circle cx="423.7" cy="337.3" r="0.72" fill="#000"/>
<circle cx="422.0" cy="337.1" r="0.72" fill="#000"/>
<circle cx="420.4" cy="401.4" r="0.72" fill="#000"/>
<circle cx="422.8" cy="372.6" r="0.72" fill="#000"/>
<circle cx="419.8" cy="327.9" r="0.72" fill="#000"/>
<circle cx="423.1" cy="417.7" r="0.72" fill="#000"/>
<circle cx="422.3" cy="402.7" r="0.72" fill="#000"/>
<circle cx="420.5" cy="390.2" r="0.72" fill="#000"/>
<circle cx="421.1" cy="380.0" r="0.72" fill="#000"/>
<circle cx="422.0" cy="418.1" r="0.72" fill="#000"/>
<circle cx="422.6" cy="346.9" r="0.72" fill="#000"/>
<circle cx="420.4" cy="387.0" r="0.72" fill="#000"/>
<circle cx="421.1" cy="336.9" r="0.72" fill="#000"/>
<circle cx="423.9" cy="364.4" r="0.72" fill="#000"/>
<circle cx="419.8" cy="389.2" r="0.72" fill="#000"/>
<circle cx="421.7" cy="379.6" r="0.72" fill="#000"/>
<circle cx="423.8" cy="346.5" r="0.72" fill="#000"/>
<circle cx="422.2" cy="393.4" r="0.72" fill="#000"/>
<circle cx="419.2" cy="355.8" r="0.72" fill="#000"/>
<circle cx="424.1" cy="413.3" r="0.72" fill="#000"/>
<circle cx="423.2" cy="381.1" r="0.72" fill="#000"/>
<circle cx="422.5" cy="362.7" r="0.72" fill="#000"/>
<circle cx="420.6" cy="377.0" r="0.72" fill="#000"/>
<circle cx="421.2" cy="397.9" r="0.72" fill="#000"/>
<circle cx="423.6" cy="353.4" r="0.72" fill="#000"/>
<circle cx="424.1" cy="412.1" r="0.72" fill="#000"/>
<circle cx="420.2" cy="390.5" r="0.72" fill="#000"/>
<circle cx="424.0" cy="353.7" r="0.72" fill="#000"/>
<circle cx="423.9" cy="350.1" r="0.72" fill="#000"/>
<circle cx="423.0" cy="346.2" r="0.72" fill="#000"/>
<circle cx="419.2" cy="379.1" r="0.72" fill="#000"/>
<circle cx="420.4" cy="353.0" r="0.72" fill="#000"/>
<circle cx="421.4" cy="362.8" r="0.72" fill="#000"/>
<circle cx="420.9" cy="338.9" r="0.72" fill="#000"/>
<circle cx="424.0" cy="366.3" r="0.72" fill="#000"/>
<circle cx="423.9" cy="376.9" r="0.72" fill="#000"/>
<circle cx="423.4" cy="364.9" r="0.72" fill="#000"/>
<circle cx="420.2" cy="323.1" r="0.72" fill="#000"/>
<circle cx="422.8" cy="397.9" r="0.72" fill="#000"/>
<circle cx="423.2" cy="410.1" r="0.72" fill="#000"/>
<circle cx="424.2" cy="324.7" r="0.72" fill="#000"/>
<circle cx="419.5" cy="386.7" r="0.72" fill="#000"/>
<circle cx="420.0" cy="388.9" r="0.72" fill="#000"/>
<circle cx="421.6" cy="381.3" r="0.72" fill="#000"/>
<circle cx="423.5" cy="383.6" r="0.72" fill="#000"/>
<circle cx="419.5" cy="355.2" r="0.72" fill="#000"/>
<circle cx="424.1" cy="385.9" r="0.72" fill="#000"/>
<circle cx="422.6" cy="393.4" r="0.72" fill="#000"/>
<circle cx="424.1" cy="385.9" r="0.72" fill="#000"/>
<circle cx="420.9" cy="408.9" r="0.72" fill="#000"/>
<circle cx="423.5" cy="388.5" r="0.72" fill="#000"/>
<circle cx="421.7" cy="337.7" r="0.72" fill="#000"/>
<circle cx="424.2" cy="372.1" r="0.72" fill="#000"/>
<circle cx="420.2" cy="363.3" r="0.72" fill="#000"/>
<circle cx="424.0" cy="381.1" r="0.72" fill="#000"/>
<circle cx="422.0" cy="409.4" r="0.72" fill="#000"/>
<circle cx="420.8" cy="414.1" r="0.72" fill="#000"/>
<circle cx="422.2" cy="417.5" r="0.72" fill="#000"/>
<circle cx="419.7" cy="400.4" r="0.72" fill="#000"/>
<circle cx="421.0" cy="329.3" r="0.72" fill="#000"/>
<circle cx="422.5" cy="408.4" r="0.72" fill="#000"/>
<circle cx="421.2" cy="330.4" r="0.72" fill="#000"/>
<circle cx="420.5" cy="388.5" r="0.72" fill="#000"/>
<circle cx="422.9" cy="344.2" r="0.72" fill="#000"/>
<circle cx="421.2" cy="359.3" r="0.72" fill="#000"/>
<circle cx="424.3" cy="342.8" r="0.72" fill="#000"/>
<circle cx="421.2" cy="337.8" r="0.72" fill="#000"/>
<circle cx="421.3" cy="343.8" r="0.72" fill="#000"/>
<circle cx="423.8" cy="376.1" r="0.72" fill="#000"/>
<circle cx="420.3" cy="365.3" r="0.72" fill="#000"/>
<circle cx="419.8" cy="400.5" r="0.72" fill="#000"/>
<circle cx="421.5" cy="401.3" r="0.72" fill="#000"/>
<circle cx="421.7" cy="332.7" r="0.72" fill="#000"/>
<circle cx="420.7" cy="377.2" r="0.72" fill="#000"/>
<circle cx="420.9" cy="351.8" r="0.72" fill="#000"/>
<circle cx="420.2" cy="382.3" r="0.72" fill="#000"/>
<circle cx="421.7" cy="373.6" r="0.72" fill="#000"/>
<circle cx="423.7" cy="369.0" r="0.72" fill="#000"/>
<circle cx="420.3" cy="393.4" r="0.72" fill="#000"/>
<circle cx="423.0" cy="327.9" r="0.72" fill="#000"/>
<circle cx="423.8" cy="381.9" r="0.72" fill="#000"/>
<circle cx="421.9" cy="369.8" r="0.72" fill="#000"/>
<circle cx="419.2" cy="388.9" r="0.72" fill="#000"/>
<circle cx="420.2" cy="421.8" r="0.72" fill="#000"/>
<circle cx="419.7" cy="399.2" r="0.72" fill="#000"/>
<circle cx="420.5" cy="372.0" r="0.72" fill="#000"/>
<circle cx="422.8" cy="375.8" r="0.72" fill="#000"/>
<circle cx="422.1" cy="406.7" r="0.72" fill="#000"/>
<circle cx="420.0" cy="379.7" r="0.72" fill="#000"/>
<line x1="433.70" y1="331.80" x2="433.70" y2="353.00" stroke="#555" stroke-width="0.9"/>
<line x1="433.70" y1="378.00" x2="433.70" y2="390.00" stroke="#555" stroke-width="0.9"/>
<rect x="429.30" y="353.00" width="8.80" height="25.00" fill="#d8a020"/>
<line x1="429.30" y1="366.10" x2="438.10" y2="366.10" stroke="#1a1a1a" stroke-width="1.1"/>
<circle cx="433.4" cy="331.8" r="0.72" fill="#000"/>
<circle cx="433.8" cy="390.0" r="0.72" fill="#000"/>
<circle cx="435.7" cy="372.3" r="0.72" fill="#000"/>
<circle cx="432.7" cy="349.6" r="0.72" fill="#000"/>
<circle cx="432.7" cy="379.9" r="0.72" fill="#000"/>
<circle cx="434.6" cy="387.2" r="0.72" fill="#000"/>
<circle cx="435.0" cy="374.6" r="0.72" fill="#000"/>
<circle cx="431.2" cy="363.8" r="0.72" fill="#000"/>
<circle cx="433.9" cy="386.4" r="0.72" fill="#000"/>
<circle cx="434.1" cy="386.2" r="0.72" fill="#000"/>
<circle cx="432.5" cy="380.8" r="0.72" fill="#000"/>
<circle cx="431.3" cy="350.8" r="0.72" fill="#000"/>
<circle cx="433.1" cy="360.7" r="0.72" fill="#000"/>
<circle cx="433.8" cy="373.6" r="0.72" fill="#000"/>
<circle cx="432.7" cy="375.4" r="0.72" fill="#000"/>
<circle cx="433.0" cy="339.1" r="0.72" fill="#000"/>
<circle cx="432.9" cy="369.9" r="0.72" fill="#000"/>
<circle cx="432.2" cy="352.3" r="0.72" fill="#000"/>
<circle cx="435.9" cy="388.4" r="0.72" fill="#000"/>
<circle cx="432.2" cy="361.6" r="0.72" fill="#000"/>
<circle cx="435.7" cy="385.3" r="0.72" fill="#000"/>
<circle cx="436.0" cy="336.1" r="0.72" fill="#000"/>
<circle cx="432.0" cy="370.7" r="0.72" fill="#000"/>
<circle cx="435.2" cy="386.1" r="0.72" fill="#000"/>
<circle cx="431.4" cy="365.2" r="0.72" fill="#000"/>
<circle cx="431.5" cy="349.9" r="0.72" fill="#000"/>
<circle cx="432.5" cy="380.1" r="0.72" fill="#000"/>
<circle cx="433.7" cy="364.3" r="0.72" fill="#000"/>
<circle cx="432.0" cy="345.8" r="0.72" fill="#000"/>
<circle cx="432.1" cy="348.2" r="0.72" fill="#000"/>
<line x1="445.70" y1="374.20" x2="445.70" y2="383.00" stroke="#555" stroke-width="0.9"/>
<rect x="441.30" y="365.70" width="8.80" height="8.50" fill="#30b0e8"/>
<line x1="441.30" y1="366.30" x2="450.10" y2="366.30" stroke="#1a1a1a" stroke-width="1.1"/>
<circle cx="445.3" cy="365.7" r="0.72" fill="#000"/>
<circle cx="446.3" cy="383.0" r="0.72" fill="#000"/>
<circle cx="444.9" cy="380.1" r="0.72" fill="#000"/>
<circle cx="446.3" cy="373.9" r="0.72" fill="#000"/>
<line x1="457.70" y1="333.90" x2="457.70" y2="352.60" stroke="#555" stroke-width="0.9"/>
<line x1="457.70" y1="375.50" x2="457.70" y2="398.60" stroke="#555" stroke-width="0.9"/>
<rect x="453.30" y="352.60" width="8.80" height="22.90" fill="#e04f98"/>
<line x1="453.30" y1="364.90" x2="462.10" y2="364.90" stroke="#1a1a1a" stroke-width="1.1"/>
<circle cx="458.5" cy="333.9" r="0.72" fill="#000"/>
<circle cx="456.4" cy="398.6" r="0.72" fill="#000"/>
<circle cx="458.8" cy="366.8" r="0.72" fill="#000"/>
<circle cx="457.9" cy="379.2" r="0.72" fill="#000"/>
<circle cx="457.6" cy="374.6" r="0.72" fill="#000"/>
<circle cx="459.3" cy="382.7" r="0.72" fill="#000"/>
<circle cx="457.5" cy="387.8" r="0.72" fill="#000"/>
<circle cx="457.3" cy="379.4" r="0.72" fill="#000"/>
<circle cx="455.7" cy="354.8" r="0.72" fill="#000"/>
<circle cx="455.9" cy="357.2" r="0.72" fill="#000"/>
<circle cx="455.8" cy="375.1" r="0.72" fill="#000"/>
<circle cx="459.9" cy="334.6" r="0.72" fill="#000"/>
<circle cx="459.1" cy="363.2" r="0.72" fill="#000"/>
<circle cx="458.5" cy="385.1" r="0.72" fill="#000"/>
<circle cx="458.6" cy="387.8" r="0.72" fill="#000"/>
<circle cx="459.7" cy="347.8" r="0.72" fill="#000"/>
<circle cx="455.7" cy="359.0" r="0.72" fill="#000"/>
<circle cx="456.3" cy="350.3" r="0.72" fill="#000"/>
<circle cx="456.8" cy="370.9" r="0.72" fill="#000"/>
<circle cx="456.8" cy="371.2" r="0.72" fill="#000"/>
<circle cx="458.3" cy="397.8" r="0.72" fill="#000"/>
<circle cx="455.7" cy="354.0" r="0.72" fill="#000"/>
<circle cx="458.6" cy="349.2" r="0.72" fill="#000"/>
<circle cx="459.4" cy="362.1" r="0.72" fill="#000"/>
<circle cx="455.3" cy="363.0" r="0.72" fill="#000"/>
<circle cx="460.0" cy="335.7" r="0.72" fill="#000"/>
<circle cx="459.5" cy="394.5" r="0.72" fill="#000"/>
<circle cx="455.2" cy="393.2" r="0.72" fill="#000"/>
<circle cx="459.2" cy="383.2" r="0.72" fill="#000"/>
<circle cx="457.7" cy="385.6" r="0.72" fill="#000"/>
<circle cx="455.5" cy="344.2" r="0.72" fill="#000"/>
<circle cx="457.8" cy="345.1" r="0.72" fill="#000"/>
<circle cx="455.5" cy="368.2" r="0.72" fill="#000"/>
<circle cx="457.8" cy="359.8" r="0.72" fill="#000"/>
<circle cx="456.2" cy="391.0" r="0.72" fill="#000"/>
<circle cx="459.9" cy="355.8" r="0.72" fill="#000"/>
<circle cx="455.5" cy="359.3" r="0.72" fill="#000"/>
<circle cx="458.7" cy="388.2" r="0.72" fill="#000"/>
<circle cx="455.6" cy="342.9" r="0.72" fill="#000"/>
<circle cx="456.8" cy="390.5" r="0.72" fill="#000"/>
<line x1="469.70" y1="330.70" x2="469.70" y2="350.20" stroke="#555" stroke-width="0.9"/>
<line x1="469.70" y1="371.40" x2="469.70" y2="398.60" stroke="#555" stroke-width="0.9"/>
<rect x="465.30" y="350.20" width="8.80" height="21.20" fill="#20b090"/>
<line x1="465.30" y1="362.50" x2="474.10" y2="362.50" stroke="#1a1a1a" stroke-width="1.1"/>
<circle cx="469.4" cy="330.7" r="0.72" fill="#000"/>
<circle cx="469.8" cy="398.6" r="0.72" fill="#000"/>
<circle cx="467.8" cy="346.3" r="0.72" fill="#000"/>
<circle cx="471.8" cy="342.9" r="0.72" fill="#000"/>
<circle cx="469.0" cy="349.4" r="0.72" fill="#000"/>
<circle cx="468.1" cy="345.5" r="0.72" fill="#000"/>
<circle cx="471.0" cy="334.4" r="0.72" fill="#000"/>
<circle cx="470.7" cy="347.0" r="0.72" fill="#000"/>
<circle cx="469.1" cy="368.9" r="0.72" fill="#000"/>
<circle cx="468.3" cy="387.4" r="0.72" fill="#000"/>
<circle cx="468.3" cy="366.5" r="0.72" fill="#000"/>
<circle cx="471.2" cy="380.0" r="0.72" fill="#000"/>
<circle cx="469.5" cy="352.9" r="0.72" fill="#000"/>
<circle cx="470.2" cy="348.5" r="0.72" fill="#000"/>
<circle cx="469.6" cy="343.4" r="0.72" fill="#000"/>
<circle cx="469.6" cy="374.0" r="0.72" fill="#000"/>
<circle cx="467.7" cy="360.5" r="0.72" fill="#000"/>
<circle cx="471.9" cy="390.7" r="0.72" fill="#000"/>
<circle cx="469.6" cy="370.6" r="0.72" fill="#000"/>
<circle cx="469.9" cy="350.9" r="0.72" fill="#000"/>
<circle cx="470.1" cy="364.6" r="0.72" fill="#000"/>
<circle cx="470.3" cy="372.3" r="0.72" fill="#000"/>
<circle cx="472.0" cy="369.2" r="0.72" fill="#000"/>
<circle cx="471.0" cy="346.1" r="0.72" fill="#000"/>
<circle cx="470.8" cy="347.7" r="0.72" fill="#000"/>
<line x1="481.70" y1="332.90" x2="481.70" y2="335.00" stroke="#555" stroke-width="0.9"/>
<line x1="481.70" y1="360.80" x2="481.70" y2="380.50" stroke="#555" stroke-width="0.9"/>
<rect x="477.30" y="335.00" width="8.80" height="25.80" fill="#20b8c8"/>
<line x1="477.30" y1="349.40" x2="486.10" y2="349.40" stroke="#1a1a1a" stroke-width="1.1"/>
<circle cx="481.0" cy="332.9" r="0.72" fill="#000"/>
<circle cx="483.0" cy="380.5" r="0.72" fill="#000"/>
<circle cx="483.7" cy="341.8" r="0.72" fill="#000"/>
<circle cx="481.9" cy="363.8" r="0.72" fill="#000"/>
<circle cx="482.5" cy="372.3" r="0.72" fill="#000"/>
<circle cx="481.8" cy="365.4" r="0.72" fill="#000"/>
<circle cx="483.9" cy="350.5" r="0.72" fill="#000"/>
<circle cx="483.2" cy="338.1" r="0.72" fill="#000"/>
<circle cx="481.6" cy="375.0" r="0.72" fill="#000"/>
<circle cx="482.7" cy="333.1" r="0.72" fill="#000"/>
<circle cx="479.4" cy="358.0" r="0.72" fill="#000"/>
<circle cx="480.3" cy="349.1" r="0.72" fill="#000"/>
<line x1="493.70" y1="335.00" x2="493.70" y2="339.80" stroke="#555" stroke-width="0.9"/>
<line x1="493.70" y1="360.80" x2="493.70" y2="370.00" stroke="#555" stroke-width="0.9"/>
<rect x="489.30" y="339.80" width="8.80" height="21.00" fill="#f08820"/>
<line x1="489.30" y1="348.70" x2="498.10" y2="348.70" stroke="#1a1a1a" stroke-width="1.1"/>
<circle cx="492.8" cy="335.0" r="0.72" fill="#000"/>
<circle cx="494.2" cy="370.0" r="0.72" fill="#000"/>
<circle cx="493.0" cy="365.2" r="0.72" fill="#000"/>
<circle cx="495.7" cy="369.1" r="0.72" fill="#000"/>
<circle cx="494.0" cy="365.4" r="0.72" fill="#000"/>
<circle cx="491.1" cy="335.6" r="0.72" fill="#000"/>
<circle cx="492.3" cy="355.7" r="0.72" fill="#000"/>
<circle cx="492.8" cy="354.8" r="0.72" fill="#000"/>
<circle cx="494.1" cy="341.8" r="0.72" fill="#000"/>
<circle cx="491.6" cy="347.9" r="0.72" fill="#000"/>
<circle cx="495.4" cy="346.1" r="0.72" fill="#000"/>
<circle cx="493.7" cy="352.6" r="0.72" fill="#000"/>
<line x1="505.70" y1="331.80" x2="505.70" y2="338.80" stroke="#555" stroke-width="0.9"/>
<line x1="505.70" y1="347.00" x2="505.70" y2="357.20" stroke="#555" stroke-width="0.9"/>
<rect x="501.30" y="338.80" width="8.80" height="8.20" fill="#b070c0"/>
<line x1="501.30" y1="339.40" x2="510.10" y2="339.40" stroke="#1a1a1a" stroke-width="1.1"/>
<circle cx="505.2" cy="331.8" r="0.72" fill="#000"/>
<circle cx="506.8" cy="357.2" r="0.72" fill="#000"/>
<circle cx="504.2" cy="335.6" r="0.72" fill="#000"/>
<circle cx="508.1" cy="339.8" r="0.72" fill="#000"/>
<circle cx="503.5" cy="338.2" r="0.72" fill="#000"/>
<circle cx="504.8" cy="353.9" r="0.72" fill="#000"/>
<circle cx="507.0" cy="336.5" r="0.72" fill="#000"/>
<circle cx="505.2" cy="351.1" r="0.72" fill="#000"/>
<circle cx="504.7" cy="338.8" r="0.72" fill="#000"/>
<circle cx="504.4" cy="341.2" r="0.72" fill="#000"/>
<circle cx="506.9" cy="348.8" r="0.72" fill="#000"/>
<circle cx="506.3" cy="356.3" r="0.72" fill="#000"/>
<circle cx="504.1" cy="345.4" r="0.72" fill="#000"/>
<circle cx="508.2" cy="353.2" r="0.72" fill="#000"/>
<circle cx="504.1" cy="352.6" r="0.72" fill="#000"/>
<circle cx="503.6" cy="347.0" r="0.72" fill="#000"/>
<circle cx="503.9" cy="344.6" r="0.72" fill="#000"/>
<circle cx="507.0" cy="338.8" r="0.72" fill="#000"/>
<circle cx="503.7" cy="349.7" r="0.72" fill="#000"/>
<circle cx="505.9" cy="341.8" r="0.72" fill="#000"/>
<text x="315.0" y="466.0" font-size="11.6" text-anchor="start" font-weight="bold" fill="#000" >E</text>
<text x="429.3" y="465.5" font-size="9.8" text-anchor="middle" font-weight="normal" fill="#1a1a1a" textLength="24.5" lengthAdjust="spacingAndGlyphs">T-ALL</text>
<line x1="342.20" y1="475.20" x2="342.20" y2="599.80" stroke="#2b2b2b" stroke-width="1.1"/>
<line x1="341.70" y1="599.30" x2="512.60" y2="599.30" stroke="#2b2b2b" stroke-width="1.1"/>
<line x1="339.20" y1="478.10" x2="342.20" y2="478.10" stroke="#2b2b2b" stroke-width="1"/>
<text x="335.6" y="481.0" font-size="8.4" text-anchor="end" font-weight="normal" fill="#1a1a1a" >3</text>
<line x1="339.20" y1="499.50" x2="342.20" y2="499.50" stroke="#2b2b2b" stroke-width="1"/>
<text x="335.6" y="502.4" font-size="8.4" text-anchor="end" font-weight="normal" fill="#1a1a1a" >2</text>
<line x1="339.20" y1="520.90" x2="342.20" y2="520.90" stroke="#2b2b2b" stroke-width="1"/>
<text x="335.6" y="523.8" font-size="8.4" text-anchor="end" font-weight="normal" fill="#1a1a1a" >1</text>
<line x1="339.20" y1="542.30" x2="342.20" y2="542.30" stroke="#2b2b2b" stroke-width="1"/>
<text x="335.6" y="545.2" font-size="8.4" text-anchor="end" font-weight="normal" fill="#1a1a1a" >0</text>
<line x1="339.20" y1="563.70" x2="342.20" y2="563.70" stroke="#2b2b2b" stroke-width="1"/>
<text x="335.6" y="566.6" font-size="8.4" text-anchor="end" font-weight="normal" fill="#1a1a1a" >−1</text>
<line x1="339.20" y1="585.10" x2="342.20" y2="585.10" stroke="#2b2b2b" stroke-width="1"/>
<text x="335.6" y="588.0" font-size="8.4" text-anchor="end" font-weight="normal" fill="#1a1a1a" >−2</text>
<line x1="349.70" y1="599.30" x2="349.70" y2="602.10" stroke="#2b2b2b" stroke-width="1"/>
<line x1="361.70" y1="599.30" x2="361.70" y2="602.10" stroke="#2b2b2b" stroke-width="1"/>
<line x1="373.70" y1="599.30" x2="373.70" y2="602.10" stroke="#2b2b2b" stroke-width="1"/>
<line x1="385.70" y1="599.30" x2="385.70" y2="602.10" stroke="#2b2b2b" stroke-width="1"/>
<line x1="397.70" y1="599.30" x2="397.70" y2="602.10" stroke="#2b2b2b" stroke-width="1"/>
<line x1="409.70" y1="599.30" x2="409.70" y2="602.10" stroke="#2b2b2b" stroke-width="1"/>
<line x1="421.70" y1="599.30" x2="421.70" y2="602.10" stroke="#2b2b2b" stroke-width="1"/>
<line x1="433.70" y1="599.30" x2="433.70" y2="602.10" stroke="#2b2b2b" stroke-width="1"/>
<line x1="445.70" y1="599.30" x2="445.70" y2="602.10" stroke="#2b2b2b" stroke-width="1"/>
<line x1="457.70" y1="599.30" x2="457.70" y2="602.10" stroke="#2b2b2b" stroke-width="1"/>
<line x1="469.70" y1="599.30" x2="469.70" y2="602.10" stroke="#2b2b2b" stroke-width="1"/>
<line x1="481.70" y1="599.30" x2="481.70" y2="602.10" stroke="#2b2b2b" stroke-width="1"/>
<line x1="493.70" y1="599.30" x2="493.70" y2="602.10" stroke="#2b2b2b" stroke-width="1"/>
<line x1="505.70" y1="599.30" x2="505.70" y2="602.10" stroke="#2b2b2b" stroke-width="1"/>
<text transform="translate(320.3,537.2) rotate(-90)" font-size="9.8" text-anchor="middle" fill="#111" stroke="#111" stroke-width="0.25" textLength="40" lengthAdjust="spacingAndGlyphs">BCL-XL_SIG</text>
<line x1="349.70" y1="490.00" x2="349.70" y2="512.60" stroke="#555" stroke-width="0.9"/>
<line x1="349.70" y1="532.30" x2="349.70" y2="550.70" stroke="#555" stroke-width="0.9"/>
<rect x="345.30" y="512.60" width="8.80" height="19.70" fill="#a8b020"/>
<line x1="345.30" y1="521.70" x2="354.10" y2="521.70" stroke="#1a1a1a" stroke-width="1.1"/>
<circle cx="349.5" cy="490.0" r="0.72" fill="#000"/>
<circle cx="350.9" cy="550.7" r="0.72" fill="#000"/>
<circle cx="349.3" cy="512.0" r="0.72" fill="#000"/>
<circle cx="350.9" cy="550.0" r="0.72" fill="#000"/>
<circle cx="348.3" cy="519.9" r="0.72" fill="#000"/>
<circle cx="351.1" cy="527.5" r="0.72" fill="#000"/>
<circle cx="348.7" cy="545.2" r="0.72" fill="#000"/>
<circle cx="348.8" cy="519.3" r="0.72" fill="#000"/>
<circle cx="351.8" cy="509.8" r="0.72" fill="#000"/>
<circle cx="349.8" cy="525.5" r="0.72" fill="#000"/>
<line x1="361.70" y1="489.30" x2="361.70" y2="504.80" stroke="#555" stroke-width="0.9"/>
<line x1="361.70" y1="520.40" x2="361.70" y2="534.80" stroke="#555" stroke-width="0.9"/>
<rect x="357.30" y="504.80" width="8.80" height="15.60" fill="#a890d8"/>
<line x1="357.30" y1="513.20" x2="366.10" y2="513.20" stroke="#1a1a1a" stroke-width="1.1"/>
<circle cx="361.7" cy="489.3" r="0.72" fill="#000"/>
<circle cx="360.6" cy="534.8" r="0.72" fill="#000"/>
<circle cx="359.8" cy="527.9" r="0.72" fill="#000"/>
<circle cx="363.8" cy="517.7" r="0.72" fill="#000"/>
<circle cx="360.1" cy="507.5" r="0.72" fill="#000"/>
<circle cx="359.7" cy="502.0" r="0.72" fill="#000"/>
<circle cx="363.5" cy="532.1" r="0.72" fill="#000"/>
<circle cx="361.7" cy="514.1" r="0.72" fill="#000"/>
<line x1="373.70" y1="489.30" x2="373.70" y2="512.60" stroke="#555" stroke-width="0.9"/>
<line x1="373.70" y1="534.40" x2="373.70" y2="552.80" stroke="#555" stroke-width="0.9"/>
<rect x="369.30" y="512.60" width="8.80" height="21.80" fill="#3a90d8"/>
<line x1="369.30" y1="523.20" x2="378.10" y2="523.20" stroke="#1a1a1a" stroke-width="1.1"/>
<circle cx="372.9" cy="489.3" r="0.72" fill="#000"/>
<circle cx="375.0" cy="552.8" r="0.72" fill="#000"/>
<circle cx="373.5" cy="516.1" r="0.72" fill="#000"/>
<circle cx="372.0" cy="515.2" r="0.72" fill="#000"/>
<circle cx="376.2" cy="547.2" r="0.72" fill="#000"/>
<circle cx="373.2" cy="533.3" r="0.72" fill="#000"/>
<circle cx="374.7" cy="540.0" r="0.72" fill="#000"/>
<circle cx="371.7" cy="513.3" r="0.72" fill="#000"/>
<circle cx="371.2" cy="544.6" r="0.72" fill="#000"/>
<circle cx="372.1" cy="552.2" r="0.72" fill="#000"/>
<circle cx="374.8" cy="535.7" r="0.72" fill="#000"/>
<circle cx="374.8" cy="530.0" r="0.72" fill="#000"/>
<circle cx="372.0" cy="516.8" r="0.72" fill="#000"/>
<circle cx="374.7" cy="526.2" r="0.72" fill="#000"/>
<circle cx="375.7" cy="522.0" r="0.72" fill="#000"/>
<circle cx="371.7" cy="523.4" r="0.72" fill="#000"/>
<circle cx="372.0" cy="521.8" r="0.72" fill="#000"/>
<circle cx="371.9" cy="528.5" r="0.72" fill="#000"/>
<circle cx="371.4" cy="546.1" r="0.72" fill="#000"/>
<circle cx="375.9" cy="502.5" r="0.72" fill="#000"/>
<circle cx="374.1" cy="552.4" r="0.72" fill="#000"/>
<circle cx="372.4" cy="518.7" r="0.72" fill="#000"/>
<circle cx="372.2" cy="519.9" r="0.72" fill="#000"/>
<circle cx="374.0" cy="505.7" r="0.72" fill="#000"/>
<circle cx="374.9" cy="543.8" r="0.72" fill="#000"/>
<circle cx="374.8" cy="542.0" r="0.72" fill="#000"/>
<circle cx="371.6" cy="493.7" r="0.72" fill="#000"/>
<circle cx="375.1" cy="537.8" r="0.72" fill="#000"/>
<circle cx="373.0" cy="505.8" r="0.72" fill="#000"/>
<circle cx="373.4" cy="530.1" r="0.72" fill="#000"/>
<circle cx="375.4" cy="536.0" r="0.72" fill="#000"/>
<circle cx="372.8" cy="532.9" r="0.72" fill="#000"/>
<circle cx="373.9" cy="515.3" r="0.72" fill="#000"/>
<circle cx="375.3" cy="543.0" r="0.72" fill="#000"/>
<circle cx="371.6" cy="542.4" r="0.72" fill="#000"/>
<circle cx="375.3" cy="536.9" r="0.72" fill="#000"/>
<circle cx="372.3" cy="539.2" r="0.72" fill="#000"/>
<circle cx="372.7" cy="516.4" r="0.72" fill="#000"/>
<circle cx="374.8" cy="526.2" r="0.72" fill="#000"/>
<circle cx="371.2" cy="509.6" r="0.72" fill="#000"/>
<circle cx="375.5" cy="539.3" r="0.72" fill="#000"/>
<circle cx="376.3" cy="506.4" r="0.72" fill="#000"/>
<circle cx="372.1" cy="516.3" r="0.72" fill="#000"/>
<circle cx="374.5" cy="516.8" r="0.72" fill="#000"/>
<circle cx="372.8" cy="528.3" r="0.72" fill="#000"/>
<circle cx="374.4" cy="530.3" r="0.72" fill="#000"/>
<circle cx="371.5" cy="534.4" r="0.72" fill="#000"/>
<circle cx="375.9" cy="545.7" r="0.72" fill="#000"/>
<circle cx="376.3" cy="546.8" r="0.72" fill="#000"/>
<circle cx="373.9" cy="505.7" r="0.72" fill="#000"/>
<circle cx="376.1" cy="515.1" r="0.72" fill="#000"/>
<circle cx="373.3" cy="529.4" r="0.72" fill="#000"/>
<circle cx="375.9" cy="542.9" r="0.72" fill="#000"/>
<circle cx="371.8" cy="541.1" r="0.72" fill="#000"/>
<circle cx="375.4" cy="533.3" r="0.72" fill="#000"/>
<circle cx="375.9" cy="514.2" r="0.72" fill="#000"/>
<circle cx="373.6" cy="525.2" r="0.72" fill="#000"/>
<circle cx="373.2" cy="532.3" r="0.72" fill="#000"/>
<circle cx="371.8" cy="514.1" r="0.72" fill="#000"/>
<circle cx="373.8" cy="532.4" r="0.72" fill="#000"/>
<circle cx="371.9" cy="523.3" r="0.72" fill="#000"/>
<circle cx="374.6" cy="524.8" r="0.72" fill="#000"/>
<circle cx="375.0" cy="504.6" r="0.72" fill="#000"/>
<circle cx="372.4" cy="525.5" r="0.72" fill="#000"/>
<circle cx="375.5" cy="529.0" r="0.72" fill="#000"/>
<circle cx="375.3" cy="502.5" r="0.72" fill="#000"/>
<circle cx="372.6" cy="513.2" r="0.72" fill="#000"/>
<circle cx="372.5" cy="516.9" r="0.72" fill="#000"/>
<circle cx="371.7" cy="520.4" r="0.72" fill="#000"/>
<circle cx="375.2" cy="539.9" r="0.72" fill="#000"/>
<circle cx="376.2" cy="499.6" r="0.72" fill="#000"/>
<circle cx="374.1" cy="540.1" r="0.72" fill="#000"/>
<circle cx="374.9" cy="522.3" r="0.72" fill="#000"/>
<circle cx="374.8" cy="538.2" r="0.72" fill="#000"/>
<circle cx="372.6" cy="549.1" r="0.72" fill="#000"/>
<circle cx="374.1" cy="503.4" r="0.72" fill="#000"/>
<circle cx="373.8" cy="543.5" r="0.72" fill="#000"/>
<circle cx="372.1" cy="521.2" r="0.72" fill="#000"/>
<circle cx="374.8" cy="520.1" r="0.72" fill="#000"/>
<circle cx="376.1" cy="530.4" r="0.72" fill="#000"/>
<circle cx="372.1" cy="534.8" r="0.72" fill="#000"/>
<circle cx="374.5" cy="523.3" r="0.72" fill="#000"/>
<circle cx="374.6" cy="498.2" r="0.72" fill="#000"/>
<circle cx="371.5" cy="529.7" r="0.72" fill="#000"/>
<circle cx="371.2" cy="526.8" r="0.72" fill="#000"/>
<circle cx="375.8" cy="535.7" r="0.72" fill="#000"/>
<circle cx="371.3" cy="498.8" r="0.72" fill="#000"/>
<circle cx="372.8" cy="527.7" r="0.72" fill="#000"/>
<circle cx="371.6" cy="541.1" r="0.72" fill="#000"/>
<circle cx="371.8" cy="538.2" r="0.72" fill="#000"/>
<circle cx="373.1" cy="584.5" r="0.75" fill="#222"/>
<circle cx="374.3" cy="584.5" r="0.75" fill="#222"/>
<line x1="385.70" y1="512.00" x2="385.70" y2="528.90" stroke="#555" stroke-width="0.9"/>
<line x1="385.70" y1="543.70" x2="385.70" y2="559.10" stroke="#555" stroke-width="0.9"/>
<rect x="381.30" y="528.90" width="8.80" height="14.80" fill="#30b030"/>
<line x1="381.30" y1="533.80" x2="390.10" y2="533.80" stroke="#1a1a1a" stroke-width="1.1"/>
<circle cx="384.7" cy="512.0" r="0.72" fill="#000"/>
<circle cx="384.4" cy="559.1" r="0.72" fill="#000"/>
<circle cx="386.7" cy="543.5" r="0.72" fill="#000"/>
<circle cx="383.4" cy="523.7" r="0.72" fill="#000"/>
<circle cx="385.9" cy="551.8" r="0.72" fill="#000"/>
<circle cx="385.1" cy="535.8" r="0.72" fill="#000"/>
<circle cx="385.1" cy="528.5" r="0.72" fill="#000"/>
<circle cx="385.5" cy="558.8" r="0.72" fill="#000"/>
<circle cx="383.2" cy="519.2" r="0.72" fill="#000"/>
<circle cx="388.0" cy="545.9" r="0.72" fill="#000"/>
<circle cx="386.2" cy="548.4" r="0.72" fill="#000"/>
<circle cx="387.3" cy="543.7" r="0.72" fill="#000"/>
<circle cx="385.2" cy="522.8" r="0.72" fill="#000"/>
<circle cx="384.5" cy="548.9" r="0.72" fill="#000"/>
<circle cx="383.9" cy="527.6" r="0.72" fill="#000"/>
<circle cx="385.1" cy="584.5" r="0.75" fill="#222"/>
<circle cx="386.3" cy="584.5" r="0.75" fill="#222"/>
<line x1="397.70" y1="518.90" x2="397.70" y2="534.80" stroke="#555" stroke-width="0.9"/>
<line x1="397.70" y1="549.60" x2="397.70" y2="567.60" stroke="#555" stroke-width="0.9"/>
<rect x="393.30" y="534.80" width="8.80" height="14.80" fill="#d050a0"/>
<line x1="393.30" y1="542.20" x2="402.10" y2="542.20" stroke="#1a1a1a" stroke-width="1.1"/>
<circle cx="396.7" cy="518.9" r="0.72" fill="#000"/>
<circle cx="398.1" cy="567.6" r="0.72" fill="#000"/>
<circle cx="397.7" cy="536.4" r="0.72" fill="#000"/>
<circle cx="395.4" cy="524.5" r="0.72" fill="#000"/>
<circle cx="395.4" cy="545.9" r="0.72" fill="#000"/>
<circle cx="397.1" cy="528.1" r="0.72" fill="#000"/>
<circle cx="396.7" cy="564.4" r="0.72" fill="#000"/>
<circle cx="399.2" cy="551.7" r="0.72" fill="#000"/>
<circle cx="399.7" cy="546.8" r="0.72" fill="#000"/>
<circle cx="399.4" cy="535.0" r="0.72" fill="#000"/>
<circle cx="395.8" cy="533.1" r="0.72" fill="#000"/>
<circle cx="395.4" cy="557.7" r="0.72" fill="#000"/>
<circle cx="398.6" cy="549.4" r="0.72" fill="#000"/>
<circle cx="398.2" cy="535.6" r="0.72" fill="#000"/>
<circle cx="400.2" cy="539.0" r="0.72" fill="#000"/>
<circle cx="396.9" cy="532.8" r="0.72" fill="#000"/>
<circle cx="397.3" cy="554.4" r="0.72" fill="#000"/>
<circle cx="399.5" cy="540.4" r="0.72" fill="#000"/>
<circle cx="396.7" cy="551.5" r="0.72" fill="#000"/>
<circle cx="399.9" cy="545.6" r="0.72" fill="#000"/>
<circle cx="399.6" cy="532.4" r="0.72" fill="#000"/>
<circle cx="395.3" cy="538.6" r="0.72" fill="#000"/>
<circle cx="397.5" cy="551.9" r="0.72" fill="#000"/>
<circle cx="397.1" cy="534.1" r="0.72" fill="#000"/>
<circle cx="399.3" cy="558.2" r="0.72" fill="#000"/>
<circle cx="398.9" cy="560.9" r="0.72" fill="#000"/>
<circle cx="398.5" cy="539.6" r="0.72" fill="#000"/>
<circle cx="397.6" cy="537.6" r="0.72" fill="#000"/>
<circle cx="396.3" cy="537.8" r="0.72" fill="#000"/>
<circle cx="400.3" cy="536.6" r="0.72" fill="#000"/>
<circle cx="397.1" cy="581.4" r="0.75" fill="#222"/>
<circle cx="398.3" cy="581.4" r="0.75" fill="#222"/>
<line x1="409.70" y1="515.30" x2="409.70" y2="526.80" stroke="#555" stroke-width="0.9"/>
<line x1="409.70" y1="561.30" x2="409.70" y2="574.00" stroke="#555" stroke-width="0.9"/>
<rect x="405.30" y="526.80" width="8.80" height="34.50" fill="#f07070"/>
<line x1="405.30" y1="533.80" x2="414.10" y2="533.80" stroke="#1a1a1a" stroke-width="1.1"/>
<circle cx="410.1" cy="515.3" r="0.72" fill="#000"/>
<circle cx="408.4" cy="574.0" r="0.72" fill="#000"/>
<circle cx="412.3" cy="521.1" r="0.72" fill="#000"/>
<circle cx="408.1" cy="521.8" r="0.72" fill="#000"/>
<circle cx="410.2" cy="523.4" r="0.72" fill="#000"/>
<circle cx="408.3" cy="525.7" r="0.72" fill="#000"/>
<circle cx="410.5" cy="522.6" r="0.72" fill="#000"/>
<circle cx="411.4" cy="533.5" r="0.72" fill="#000"/>
<line x1="421.70" y1="509.40" x2="421.70" y2="536.50" stroke="#555" stroke-width="0.9"/>
<line x1="421.70" y1="562.70" x2="421.70" y2="594.00" stroke="#555" stroke-width="0.9"/>
<rect x="417.30" y="536.50" width="8.80" height="26.20" fill="#20a050"/>
<line x1="417.30" y1="547.10" x2="426.10" y2="547.10" stroke="#1a1a1a" stroke-width="1.1"/>
<circle cx="420.7" cy="509.4" r="0.72" fill="#000"/>
<circle cx="421.6" cy="594.0" r="0.72" fill="#000"/>
<circle cx="423.5" cy="526.7" r="0.72" fill="#000"/>
<circle cx="423.8" cy="541.4" r="0.72" fill="#000"/>
<circle cx="420.7" cy="529.4" r="0.72" fill="#000"/>
<circle cx="419.3" cy="550.5" r="0.72" fill="#000"/>
<circle cx="424.1" cy="580.7" r="0.72" fill="#000"/>
<circle cx="420.9" cy="523.4" r="0.72" fill="#000"/>
<circle cx="419.8" cy="565.7" r="0.72" fill="#000"/>
<circle cx="420.5" cy="563.0" r="0.72" fill="#000"/>
<circle cx="419.7" cy="571.2" r="0.72" fill="#000"/>
<circle cx="420.1" cy="549.6" r="0.72" fill="#000"/>
<circle cx="422.6" cy="580.1" r="0.72" fill="#000"/>
<circle cx="420.0" cy="585.5" r="0.72" fill="#000"/>
<circle cx="422.9" cy="544.7" r="0.72" fill="#000"/>
<circle cx="420.1" cy="553.7" r="0.72" fill="#000"/>
<circle cx="423.8" cy="550.0" r="0.72" fill="#000"/>
<circle cx="420.1" cy="578.5" r="0.72" fill="#000"/>
<circle cx="423.9" cy="556.8" r="0.72" fill="#000"/>
<circle cx="423.4" cy="553.9" r="0.72" fill="#000"/>
<circle cx="422.9" cy="520.2" r="0.72" fill="#000"/>
<circle cx="421.4" cy="568.2" r="0.72" fill="#000"/>
<circle cx="422.8" cy="552.7" r="0.72" fill="#000"/>
<circle cx="422.3" cy="530.3" r="0.72" fill="#000"/>
<circle cx="420.4" cy="528.4" r="0.72" fill="#000"/>
<circle cx="423.0" cy="575.3" r="0.72" fill="#000"/>
<circle cx="419.9" cy="536.0" r="0.72" fill="#000"/>
<circle cx="423.0" cy="558.6" r="0.72" fill="#000"/>
<circle cx="420.7" cy="542.3" r="0.72" fill="#000"/>
<circle cx="422.1" cy="544.4" r="0.72" fill="#000"/>
<circle cx="419.1" cy="588.1" r="0.72" fill="#000"/>
<circle cx="420.9" cy="533.8" r="0.72" fill="#000"/>
<circle cx="422.7" cy="546.3" r="0.72" fill="#000"/>
<circle cx="423.4" cy="552.2" r="0.72" fill="#000"/>
<circle cx="422.6" cy="525.5" r="0.72" fill="#000"/>
<circle cx="420.1" cy="559.4" r="0.72" fill="#000"/>
<circle cx="419.9" cy="542.6" r="0.72" fill="#000"/>
<circle cx="419.6" cy="545.0" r="0.72" fill="#000"/>
<circle cx="423.0" cy="536.7" r="0.72" fill="#000"/>
<circle cx="419.4" cy="558.9" r="0.72" fill="#000"/>
<circle cx="424.2" cy="578.7" r="0.72" fill="#000"/>
<circle cx="420.8" cy="528.1" r="0.72" fill="#000"/>
<circle cx="420.4" cy="522.9" r="0.72" fill="#000"/>
<circle cx="423.3" cy="546.1" r="0.72" fill="#000"/>
<circle cx="422.4" cy="585.4" r="0.72" fill="#000"/>
<circle cx="423.6" cy="510.0" r="0.72" fill="#000"/>
<circle cx="420.7" cy="530.9" r="0.72" fill="#000"/>
<circle cx="424.0" cy="556.9" r="0.72" fill="#000"/>
<circle cx="421.6" cy="573.3" r="0.72" fill="#000"/>
<circle cx="419.8" cy="529.3" r="0.72" fill="#000"/>
<circle cx="420.8" cy="520.8" r="0.72" fill="#000"/>
<circle cx="423.5" cy="534.4" r="0.72" fill="#000"/>
<circle cx="423.5" cy="552.4" r="0.72" fill="#000"/>
<circle cx="421.9" cy="570.9" r="0.72" fill="#000"/>
<circle cx="423.2" cy="584.7" r="0.72" fill="#000"/>
<circle cx="422.1" cy="590.7" r="0.72" fill="#000"/>
<circle cx="420.2" cy="522.5" r="0.72" fill="#000"/>
<circle cx="422.8" cy="569.1" r="0.72" fill="#000"/>
<circle cx="422.1" cy="512.3" r="0.72" fill="#000"/>
<circle cx="422.0" cy="529.4" r="0.72" fill="#000"/>
<circle cx="422.8" cy="568.5" r="0.72" fill="#000"/>
<circle cx="424.1" cy="585.7" r="0.72" fill="#000"/>
<circle cx="420.7" cy="544.0" r="0.72" fill="#000"/>
<circle cx="421.3" cy="542.8" r="0.72" fill="#000"/>
<circle cx="419.4" cy="573.8" r="0.72" fill="#000"/>
<circle cx="419.2" cy="558.9" r="0.72" fill="#000"/>
<circle cx="423.3" cy="570.5" r="0.72" fill="#000"/>
<circle cx="423.0" cy="540.4" r="0.72" fill="#000"/>
<circle cx="419.5" cy="557.0" r="0.72" fill="#000"/>
<circle cx="420.2" cy="524.0" r="0.72" fill="#000"/>
<circle cx="422.3" cy="540.0" r="0.72" fill="#000"/>
<circle cx="422.6" cy="580.4" r="0.72" fill="#000"/>
<circle cx="421.0" cy="532.5" r="0.72" fill="#000"/>
<circle cx="422.2" cy="539.5" r="0.72" fill="#000"/>
<circle cx="421.8" cy="585.8" r="0.72" fill="#000"/>
<circle cx="420.9" cy="532.4" r="0.72" fill="#000"/>
<circle cx="421.6" cy="526.1" r="0.72" fill="#000"/>
<circle cx="420.0" cy="531.4" r="0.72" fill="#000"/>
<circle cx="421.2" cy="563.1" r="0.72" fill="#000"/>
<circle cx="422.4" cy="555.5" r="0.72" fill="#000"/>
<circle cx="423.7" cy="560.0" r="0.72" fill="#000"/>
<circle cx="423.4" cy="546.8" r="0.72" fill="#000"/>
<circle cx="421.2" cy="535.7" r="0.72" fill="#000"/>
<circle cx="420.3" cy="516.3" r="0.72" fill="#000"/>
<circle cx="420.1" cy="569.4" r="0.72" fill="#000"/>
<circle cx="422.7" cy="556.6" r="0.72" fill="#000"/>
<circle cx="419.2" cy="541.9" r="0.72" fill="#000"/>
<circle cx="421.1" cy="566.8" r="0.72" fill="#000"/>
<circle cx="421.7" cy="526.9" r="0.72" fill="#000"/>
<circle cx="419.6" cy="537.0" r="0.72" fill="#000"/>
<circle cx="420.8" cy="554.0" r="0.72" fill="#000"/>
<circle cx="419.4" cy="583.2" r="0.72" fill="#000"/>
<circle cx="420.6" cy="545.7" r="0.72" fill="#000"/>
<circle cx="422.7" cy="554.8" r="0.72" fill="#000"/>
<circle cx="423.8" cy="541.5" r="0.72" fill="#000"/>
<circle cx="423.2" cy="536.9" r="0.72" fill="#000"/>
<circle cx="420.3" cy="552.5" r="0.72" fill="#000"/>
<circle cx="419.2" cy="534.5" r="0.72" fill="#000"/>
<circle cx="420.2" cy="529.8" r="0.72" fill="#000"/>
<circle cx="424.0" cy="565.9" r="0.72" fill="#000"/>
<circle cx="422.1" cy="553.4" r="0.72" fill="#000"/>
<circle cx="421.8" cy="586.3" r="0.72" fill="#000"/>
<circle cx="423.2" cy="534.5" r="0.72" fill="#000"/>
<circle cx="421.6" cy="522.3" r="0.72" fill="#000"/>
<circle cx="420.7" cy="549.4" r="0.72" fill="#000"/>
<circle cx="424.2" cy="528.3" r="0.72" fill="#000"/>
<circle cx="422.1" cy="561.9" r="0.72" fill="#000"/>
<circle cx="424.2" cy="548.8" r="0.72" fill="#000"/>
<circle cx="424.2" cy="584.9" r="0.72" fill="#000"/>
<circle cx="424.1" cy="565.2" r="0.72" fill="#000"/>
<circle cx="423.2" cy="530.6" r="0.72" fill="#000"/>
<circle cx="423.4" cy="529.8" r="0.72" fill="#000"/>
<circle cx="424.1" cy="555.8" r="0.72" fill="#000"/>
<circle cx="422.3" cy="526.7" r="0.72" fill="#000"/>
<circle cx="419.9" cy="549.3" r="0.72" fill="#000"/>
<circle cx="422.5" cy="536.3" r="0.72" fill="#000"/>
<circle cx="419.7" cy="565.2" r="0.72" fill="#000"/>
<circle cx="422.0" cy="532.9" r="0.72" fill="#000"/>
<circle cx="424.0" cy="522.8" r="0.72" fill="#000"/>
<circle cx="423.6" cy="516.6" r="0.72" fill="#000"/>
<circle cx="419.8" cy="579.2" r="0.72" fill="#000"/>
<circle cx="420.2" cy="535.0" r="0.72" fill="#000"/>
<circle cx="423.8" cy="540.2" r="0.72" fill="#000"/>
<circle cx="424.1" cy="594.0" r="0.72" fill="#000"/>
<circle cx="423.6" cy="592.0" r="0.72" fill="#000"/>
<circle cx="422.4" cy="545.7" r="0.72" fill="#000"/>
<circle cx="420.9" cy="532.2" r="0.72" fill="#000"/>
<circle cx="423.2" cy="558.5" r="0.72" fill="#000"/>
<circle cx="422.8" cy="554.3" r="0.72" fill="#000"/>
<circle cx="419.6" cy="544.0" r="0.72" fill="#000"/>
<circle cx="420.4" cy="534.6" r="0.72" fill="#000"/>
<circle cx="421.7" cy="548.6" r="0.72" fill="#000"/>
<circle cx="421.4" cy="541.6" r="0.72" fill="#000"/>
<circle cx="419.8" cy="531.2" r="0.72" fill="#000"/>
<circle cx="424.0" cy="560.5" r="0.72" fill="#000"/>
<circle cx="423.2" cy="562.2" r="0.72" fill="#000"/>
<circle cx="419.3" cy="540.6" r="0.72" fill="#000"/>
<circle cx="422.8" cy="555.7" r="0.72" fill="#000"/>
<circle cx="422.0" cy="589.6" r="0.72" fill="#000"/>
<circle cx="422.2" cy="512.4" r="0.72" fill="#000"/>
<circle cx="423.1" cy="553.3" r="0.72" fill="#000"/>
<circle cx="421.9" cy="546.4" r="0.72" fill="#000"/>
<circle cx="422.3" cy="526.5" r="0.72" fill="#000"/>
<circle cx="420.2" cy="522.3" r="0.72" fill="#000"/>
<circle cx="422.1" cy="556.1" r="0.72" fill="#000"/>
<circle cx="419.3" cy="542.5" r="0.72" fill="#000"/>
<circle cx="419.2" cy="564.4" r="0.72" fill="#000"/>
<circle cx="424.0" cy="543.9" r="0.72" fill="#000"/>
<circle cx="421.6" cy="520.5" r="0.72" fill="#000"/>
<circle cx="420.8" cy="568.0" r="0.72" fill="#000"/>
<circle cx="419.3" cy="569.9" r="0.72" fill="#000"/>
<circle cx="423.5" cy="542.1" r="0.72" fill="#000"/>
<circle cx="420.3" cy="563.4" r="0.72" fill="#000"/>
<circle cx="420.8" cy="553.6" r="0.72" fill="#000"/>
<circle cx="419.9" cy="546.2" r="0.72" fill="#000"/>
<circle cx="423.7" cy="542.4" r="0.72" fill="#000"/>
<circle cx="419.5" cy="562.8" r="0.72" fill="#000"/>
<circle cx="420.3" cy="579.0" r="0.72" fill="#000"/>
<circle cx="422.9" cy="561.5" r="0.72" fill="#000"/>
<circle cx="423.7" cy="532.4" r="0.72" fill="#000"/>
<circle cx="422.7" cy="536.1" r="0.72" fill="#000"/>
<circle cx="419.5" cy="548.1" r="0.72" fill="#000"/>
<circle cx="421.3" cy="565.9" r="0.72" fill="#000"/>
<circle cx="420.6" cy="589.7" r="0.72" fill="#000"/>
<circle cx="421.6" cy="537.3" r="0.72" fill="#000"/>
<circle cx="423.0" cy="593.5" r="0.72" fill="#000"/>
<circle cx="423.8" cy="536.5" r="0.72" fill="#000"/>
<circle cx="419.5" cy="553.0" r="0.72" fill="#000"/>
<circle cx="419.4" cy="568.7" r="0.72" fill="#000"/>
<circle cx="420.9" cy="559.2" r="0.72" fill="#000"/>
<circle cx="424.1" cy="582.5" r="0.72" fill="#000"/>
<circle cx="423.0" cy="543.5" r="0.72" fill="#000"/>
<circle cx="423.5" cy="557.7" r="0.72" fill="#000"/>
<circle cx="419.9" cy="551.6" r="0.72" fill="#000"/>
<circle cx="421.1" cy="572.8" r="0.72" fill="#000"/>
<circle cx="423.3" cy="540.1" r="0.72" fill="#000"/>
<circle cx="419.7" cy="529.9" r="0.72" fill="#000"/>
<circle cx="423.9" cy="570.1" r="0.72" fill="#000"/>
<circle cx="421.2" cy="559.6" r="0.72" fill="#000"/>
<circle cx="422.2" cy="571.1" r="0.72" fill="#000"/>
<circle cx="421.4" cy="583.8" r="0.72" fill="#000"/>
<circle cx="421.8" cy="539.4" r="0.72" fill="#000"/>
<circle cx="419.3" cy="549.4" r="0.72" fill="#000"/>
<circle cx="422.7" cy="535.9" r="0.72" fill="#000"/>
<circle cx="423.7" cy="551.9" r="0.72" fill="#000"/>
<circle cx="424.0" cy="537.1" r="0.72" fill="#000"/>
<circle cx="420.0" cy="552.4" r="0.72" fill="#000"/>
<circle cx="422.6" cy="543.1" r="0.72" fill="#000"/>
<circle cx="419.5" cy="590.5" r="0.72" fill="#000"/>
<circle cx="420.3" cy="568.2" r="0.72" fill="#000"/>
<circle cx="420.8" cy="537.5" r="0.72" fill="#000"/>
<circle cx="420.5" cy="554.5" r="0.72" fill="#000"/>
<circle cx="420.6" cy="540.7" r="0.72" fill="#000"/>
<circle cx="420.5" cy="568.3" r="0.72" fill="#000"/>
<circle cx="422.8" cy="536.9" r="0.72" fill="#000"/>
<circle cx="421.0" cy="557.2" r="0.72" fill="#000"/>
<circle cx="420.7" cy="522.4" r="0.72" fill="#000"/>
<circle cx="421.9" cy="509.7" r="0.72" fill="#000"/>
<circle cx="421.2" cy="543.4" r="0.72" fill="#000"/>
<circle cx="420.1" cy="570.4" r="0.72" fill="#000"/>
<circle cx="423.7" cy="545.2" r="0.72" fill="#000"/>
<circle cx="420.2" cy="549.6" r="0.72" fill="#000"/>
<circle cx="421.2" cy="543.9" r="0.72" fill="#000"/>
<circle cx="419.5" cy="531.4" r="0.72" fill="#000"/>
<circle cx="421.3" cy="562.2" r="0.72" fill="#000"/>
<circle cx="423.2" cy="558.1" r="0.72" fill="#000"/>
<circle cx="419.7" cy="536.3" r="0.72" fill="#000"/>
<circle cx="424.2" cy="545.1" r="0.72" fill="#000"/>
<circle cx="421.6" cy="562.3" r="0.72" fill="#000"/>
<circle cx="419.8" cy="540.7" r="0.72" fill="#000"/>
<circle cx="420.1" cy="535.4" r="0.72" fill="#000"/>
<circle cx="423.1" cy="537.9" r="0.72" fill="#000"/>
<circle cx="421.6" cy="540.9" r="0.72" fill="#000"/>
<circle cx="421.5" cy="544.3" r="0.72" fill="#000"/>
<circle cx="423.9" cy="548.4" r="0.72" fill="#000"/>
<circle cx="421.1" cy="560.5" r="0.72" fill="#000"/>
<circle cx="422.8" cy="513.7" r="0.72" fill="#000"/>
<circle cx="421.4" cy="528.2" r="0.72" fill="#000"/>
<circle cx="420.3" cy="544.8" r="0.72" fill="#000"/>
<circle cx="422.7" cy="568.7" r="0.72" fill="#000"/>
<circle cx="423.6" cy="587.9" r="0.72" fill="#000"/>
<circle cx="422.7" cy="560.1" r="0.72" fill="#000"/>
<circle cx="420.9" cy="563.9" r="0.72" fill="#000"/>
<circle cx="420.7" cy="529.4" r="0.72" fill="#000"/>
<circle cx="423.1" cy="578.0" r="0.72" fill="#000"/>
<circle cx="419.2" cy="552.8" r="0.72" fill="#000"/>
<circle cx="420.8" cy="576.4" r="0.72" fill="#000"/>
<circle cx="419.1" cy="544.5" r="0.72" fill="#000"/>
<circle cx="421.0" cy="552.9" r="0.72" fill="#000"/>
<circle cx="420.8" cy="585.0" r="0.72" fill="#000"/>
<circle cx="421.7" cy="480.9" r="0.75" fill="#222"/>
<line x1="433.70" y1="506.30" x2="433.70" y2="533.80" stroke="#555" stroke-width="0.9"/>
<line x1="433.70" y1="561.90" x2="433.70" y2="586.60" stroke="#555" stroke-width="0.9"/>
<rect x="429.30" y="533.80" width="8.80" height="28.10" fill="#d8a020"/>
<line x1="429.30" y1="545.00" x2="438.10" y2="545.00" stroke="#1a1a1a" stroke-width="1.1"/>
<circle cx="433.5" cy="506.3" r="0.72" fill="#000"/>
<circle cx="433.4" cy="586.6" r="0.72" fill="#000"/>
<circle cx="433.6" cy="560.4" r="0.72" fill="#000"/>
<circle cx="431.4" cy="547.4" r="0.72" fill="#000"/>
<circle cx="434.8" cy="548.0" r="0.72" fill="#000"/>
<circle cx="432.7" cy="532.8" r="0.72" fill="#000"/>
<circle cx="431.5" cy="522.6" r="0.72" fill="#000"/>
<circle cx="434.4" cy="524.4" r="0.72" fill="#000"/>
<circle cx="435.6" cy="565.8" r="0.72" fill="#000"/>
<circle cx="436.1" cy="515.8" r="0.72" fill="#000"/>
<circle cx="431.9" cy="566.4" r="0.72" fill="#000"/>
<circle cx="433.7" cy="558.5" r="0.72" fill="#000"/>
<circle cx="433.5" cy="512.7" r="0.72" fill="#000"/>
<circle cx="434.4" cy="529.4" r="0.72" fill="#000"/>
<circle cx="434.8" cy="560.8" r="0.72" fill="#000"/>
<circle cx="431.3" cy="568.9" r="0.72" fill="#000"/>
<circle cx="434.2" cy="521.6" r="0.72" fill="#000"/>
<circle cx="434.1" cy="569.4" r="0.72" fill="#000"/>
<circle cx="431.5" cy="562.7" r="0.72" fill="#000"/>
<circle cx="431.7" cy="542.9" r="0.72" fill="#000"/>
<circle cx="434.3" cy="569.5" r="0.72" fill="#000"/>
<circle cx="433.2" cy="537.0" r="0.72" fill="#000"/>
<circle cx="435.3" cy="514.2" r="0.72" fill="#000"/>
<circle cx="431.3" cy="537.6" r="0.72" fill="#000"/>
<circle cx="436.3" cy="544.3" r="0.72" fill="#000"/>
<circle cx="436.2" cy="535.5" r="0.72" fill="#000"/>
<circle cx="436.2" cy="531.2" r="0.72" fill="#000"/>
<circle cx="435.2" cy="526.3" r="0.72" fill="#000"/>
<circle cx="431.1" cy="569.5" r="0.72" fill="#000"/>
<circle cx="433.4" cy="529.8" r="0.72" fill="#000"/>
<line x1="445.70" y1="531.60" x2="445.70" y2="539.00" stroke="#555" stroke-width="0.9"/>
<line x1="445.70" y1="549.60" x2="445.70" y2="553.90" stroke="#555" stroke-width="0.9"/>
<rect x="441.30" y="539.00" width="8.80" height="10.60" fill="#30b0e8"/>
<line x1="441.30" y1="545.00" x2="450.10" y2="545.00" stroke="#1a1a1a" stroke-width="1.1"/>
<circle cx="445.4" cy="531.6" r="0.72" fill="#000"/>
<circle cx="445.6" cy="553.9" r="0.72" fill="#000"/>
<circle cx="447.6" cy="548.8" r="0.72" fill="#000"/>
<circle cx="444.1" cy="549.6" r="0.72" fill="#000"/>
<line x1="457.70" y1="502.70" x2="457.70" y2="524.70" stroke="#555" stroke-width="0.9"/>
<line x1="457.70" y1="551.30" x2="457.70" y2="564.40" stroke="#555" stroke-width="0.9"/>
<rect x="453.30" y="524.70" width="8.80" height="26.60" fill="#e04f98"/>
<line x1="453.30" y1="538.00" x2="462.10" y2="538.00" stroke="#1a1a1a" stroke-width="1.1"/>
<circle cx="457.4" cy="502.7" r="0.72" fill="#000"/>
<circle cx="456.8" cy="564.4" r="0.72" fill="#000"/>
<circle cx="458.5" cy="533.1" r="0.72" fill="#000"/>
<circle cx="456.1" cy="545.7" r="0.72" fill="#000"/>
<circle cx="460.1" cy="535.5" r="0.72" fill="#000"/>
<circle cx="457.5" cy="530.8" r="0.72" fill="#000"/>
<circle cx="460.3" cy="542.6" r="0.72" fill="#000"/>
<circle cx="457.6" cy="561.5" r="0.72" fill="#000"/>
<circle cx="458.4" cy="510.2" r="0.72" fill="#000"/>
<circle cx="456.6" cy="543.0" r="0.72" fill="#000"/>
<circle cx="459.4" cy="531.6" r="0.72" fill="#000"/>
<circle cx="455.6" cy="550.8" r="0.72" fill="#000"/>
<circle cx="457.8" cy="507.5" r="0.72" fill="#000"/>
<circle cx="458.7" cy="545.1" r="0.72" fill="#000"/>
<circle cx="459.6" cy="518.6" r="0.72" fill="#000"/>
<circle cx="456.0" cy="535.4" r="0.72" fill="#000"/>
<circle cx="459.3" cy="518.2" r="0.72" fill="#000"/>
<circle cx="459.8" cy="538.6" r="0.72" fill="#000"/>
<circle cx="456.3" cy="558.6" r="0.72" fill="#000"/>
<circle cx="456.8" cy="563.7" r="0.72" fill="#000"/>
<circle cx="459.9" cy="543.9" r="0.72" fill="#000"/>
<circle cx="456.3" cy="527.7" r="0.72" fill="#000"/>
<circle cx="459.6" cy="533.0" r="0.72" fill="#000"/>
<circle cx="458.3" cy="523.9" r="0.72" fill="#000"/>
<circle cx="455.7" cy="547.1" r="0.72" fill="#000"/>
<circle cx="459.6" cy="519.5" r="0.72" fill="#000"/>
<circle cx="459.1" cy="550.4" r="0.72" fill="#000"/>
<circle cx="459.2" cy="552.7" r="0.72" fill="#000"/>
<circle cx="458.9" cy="516.6" r="0.72" fill="#000"/>
<circle cx="455.6" cy="527.9" r="0.72" fill="#000"/>
<circle cx="459.2" cy="553.3" r="0.72" fill="#000"/>
<circle cx="457.4" cy="537.8" r="0.72" fill="#000"/>
<circle cx="459.1" cy="524.1" r="0.72" fill="#000"/>
<circle cx="457.0" cy="548.3" r="0.72" fill="#000"/>
<circle cx="456.1" cy="536.2" r="0.72" fill="#000"/>
<circle cx="457.3" cy="561.2" r="0.72" fill="#000"/>
<circle cx="456.9" cy="521.9" r="0.72" fill="#000"/>
<circle cx="459.5" cy="536.2" r="0.72" fill="#000"/>
<circle cx="455.6" cy="511.0" r="0.72" fill="#000"/>
<circle cx="459.8" cy="540.0" r="0.72" fill="#000"/>
<line x1="469.70" y1="507.30" x2="469.70" y2="539.50" stroke="#555" stroke-width="0.9"/>
<line x1="469.70" y1="560.60" x2="469.70" y2="584.50" stroke="#555" stroke-width="0.9"/>
<rect x="465.30" y="539.50" width="8.80" height="21.10" fill="#20b090"/>
<line x1="465.30" y1="552.80" x2="474.10" y2="552.80" stroke="#1a1a1a" stroke-width="1.1"/>
<circle cx="469.7" cy="507.3" r="0.72" fill="#000"/>
<circle cx="469.2" cy="584.5" r="0.72" fill="#000"/>
<circle cx="470.5" cy="550.0" r="0.72" fill="#000"/>
<circle cx="468.8" cy="520.5" r="0.72" fill="#000"/>
<circle cx="468.1" cy="512.1" r="0.72" fill="#000"/>
<circle cx="467.7" cy="507.4" r="0.72" fill="#000"/>
<circle cx="469.6" cy="511.4" r="0.72" fill="#000"/>
<circle cx="470.7" cy="518.6" r="0.72" fill="#000"/>
<circle cx="471.0" cy="559.6" r="0.72" fill="#000"/>
<circle cx="469.4" cy="534.0" r="0.72" fill="#000"/>
<circle cx="467.2" cy="550.5" r="0.72" fill="#000"/>
<circle cx="472.2" cy="559.4" r="0.72" fill="#000"/>
<circle cx="468.2" cy="530.9" r="0.72" fill="#000"/>
<circle cx="468.8" cy="507.5" r="0.72" fill="#000"/>
<circle cx="469.8" cy="564.9" r="0.72" fill="#000"/>
<circle cx="469.9" cy="544.5" r="0.72" fill="#000"/>
<circle cx="471.9" cy="541.9" r="0.72" fill="#000"/>
<circle cx="467.8" cy="571.3" r="0.72" fill="#000"/>
<circle cx="470.7" cy="550.9" r="0.72" fill="#000"/>
<circle cx="468.1" cy="559.2" r="0.72" fill="#000"/>
<circle cx="467.9" cy="568.5" r="0.72" fill="#000"/>
<circle cx="469.8" cy="568.1" r="0.72" fill="#000"/>
<circle cx="470.5" cy="547.4" r="0.72" fill="#000"/>
<circle cx="470.3" cy="549.8" r="0.72" fill="#000"/>
<circle cx="471.6" cy="560.6" r="0.72" fill="#000"/>
<line x1="481.70" y1="539.00" x2="481.70" y2="553.90" stroke="#555" stroke-width="0.9"/>
<line x1="481.70" y1="574.60" x2="481.70" y2="580.90" stroke="#555" stroke-width="0.9"/>
<rect x="477.30" y="553.90" width="8.80" height="20.70" fill="#20b8c8"/>
<line x1="477.30" y1="570.10" x2="486.10" y2="570.10" stroke="#1a1a1a" stroke-width="1.1"/>
<circle cx="482.3" cy="539.0" r="0.72" fill="#000"/>
<circle cx="481.7" cy="580.9" r="0.72" fill="#000"/>
<circle cx="482.3" cy="559.1" r="0.72" fill="#000"/>
<circle cx="481.6" cy="572.8" r="0.72" fill="#000"/>
<circle cx="479.2" cy="572.3" r="0.72" fill="#000"/>
<circle cx="480.0" cy="564.0" r="0.72" fill="#000"/>
<circle cx="481.8" cy="570.9" r="0.72" fill="#000"/>
<circle cx="482.7" cy="545.7" r="0.72" fill="#000"/>
<circle cx="483.9" cy="551.4" r="0.72" fill="#000"/>
<circle cx="481.5" cy="571.5" r="0.72" fill="#000"/>
<circle cx="480.4" cy="573.8" r="0.72" fill="#000"/>
<circle cx="479.4" cy="563.1" r="0.72" fill="#000"/>
<circle cx="483.4" cy="575.6" r="0.72" fill="#000"/>
<circle cx="480.6" cy="545.2" r="0.72" fill="#000"/>
<circle cx="483.5" cy="559.9" r="0.72" fill="#000"/>
<line x1="493.70" y1="518.90" x2="493.70" y2="543.30" stroke="#555" stroke-width="0.9"/>
<line x1="493.70" y1="569.70" x2="493.70" y2="591.90" stroke="#555" stroke-width="0.9"/>
<rect x="489.30" y="543.30" width="8.80" height="26.40" fill="#f08820"/>
<line x1="489.30" y1="559.10" x2="498.10" y2="559.10" stroke="#1a1a1a" stroke-width="1.1"/>
<circle cx="494.5" cy="518.9" r="0.72" fill="#000"/>
<circle cx="493.6" cy="591.9" r="0.72" fill="#000"/>
<circle cx="496.1" cy="554.8" r="0.72" fill="#000"/>
<circle cx="493.6" cy="525.8" r="0.72" fill="#000"/>
<circle cx="494.7" cy="526.4" r="0.72" fill="#000"/>
<circle cx="493.7" cy="562.2" r="0.72" fill="#000"/>
<circle cx="492.0" cy="555.2" r="0.72" fill="#000"/>
<circle cx="491.4" cy="572.0" r="0.72" fill="#000"/>
<circle cx="491.6" cy="570.4" r="0.72" fill="#000"/>
<circle cx="492.7" cy="587.4" r="0.72" fill="#000"/>
<circle cx="492.8" cy="562.3" r="0.72" fill="#000"/>
<circle cx="492.4" cy="567.8" r="0.72" fill="#000"/>
<line x1="505.70" y1="540.10" x2="505.70" y2="562.30" stroke="#555" stroke-width="0.9"/>
<line x1="505.70" y1="571.80" x2="505.70" y2="586.60" stroke="#555" stroke-width="0.9"/>
<rect x="501.30" y="562.30" width="8.80" height="9.50" fill="#b070c0"/>
<line x1="501.30" y1="566.50" x2="510.10" y2="566.50" stroke="#1a1a1a" stroke-width="1.1"/>
<circle cx="506.0" cy="540.1" r="0.72" fill="#000"/>
<circle cx="506.3" cy="586.6" r="0.72" fill="#000"/>
<circle cx="505.3" cy="547.5" r="0.72" fill="#000"/>
<circle cx="506.6" cy="560.0" r="0.72" fill="#000"/>
<circle cx="505.5" cy="562.1" r="0.72" fill="#000"/>
<circle cx="503.2" cy="570.5" r="0.72" fill="#000"/>
<circle cx="507.7" cy="571.4" r="0.72" fill="#000"/>
<circle cx="507.9" cy="572.1" r="0.72" fill="#000"/>
<circle cx="504.8" cy="559.8" r="0.72" fill="#000"/>
<circle cx="508.1" cy="559.4" r="0.72" fill="#000"/>
<circle cx="505.1" cy="565.6" r="0.72" fill="#000"/>
<circle cx="505.3" cy="567.8" r="0.72" fill="#000"/>
<circle cx="506.9" cy="581.3" r="0.72" fill="#000"/>
<circle cx="504.7" cy="557.6" r="0.72" fill="#000"/>
<circle cx="503.4" cy="570.9" r="0.72" fill="#000"/>
<circle cx="506.7" cy="556.8" r="0.72" fill="#000"/>
<circle cx="505.5" cy="555.3" r="0.72" fill="#000"/>
<circle cx="503.9" cy="545.1" r="0.72" fill="#000"/>
<circle cx="505.3" cy="580.4" r="0.72" fill="#000"/>
<circle cx="504.7" cy="551.8" r="0.72" fill="#000"/>
<text transform="translate(352.7,605.0) rotate(-90)" font-size="8.5" text-anchor="end" fill="#1a1a1a" textLength="28.9" lengthAdjust="spacingAndGlyphs">LMO1/2</text>
<text transform="translate(364.7,605.0) rotate(-90)" font-size="8.5" text-anchor="end" fill="#1a1a1a" textLength="18.8" lengthAdjust="spacingAndGlyphs">TAL2</text>
<text transform="translate(376.7,605.0) rotate(-90)" font-size="8.5" text-anchor="end" fill="#1a1a1a" textLength="18.8" lengthAdjust="spacingAndGlyphs">TAL1</text>
<text transform="translate(388.7,605.0) rotate(-90)" font-size="8.5" text-anchor="end" fill="#1a1a1a" textLength="30.2" lengthAdjust="spacingAndGlyphs">NKX2_1</text>
<text transform="translate(400.7,605.0) rotate(-90)" font-size="8.5" text-anchor="end" fill="#1a1a1a" textLength="19.4" lengthAdjust="spacingAndGlyphs">TLX1</text>
<text transform="translate(412.7,605.0) rotate(-90)" font-size="8.5" text-anchor="end" fill="#1a1a1a" textLength="58.9" lengthAdjust="spacingAndGlyphs">DDX3X-MLLT10</text>
<text transform="translate(424.7,605.0) rotate(-90)" font-size="8.5" text-anchor="end" fill="#1a1a1a" textLength="20.3" lengthAdjust="spacingAndGlyphs">Other</text>
<text transform="translate(436.7,605.0) rotate(-90)" font-size="8.5" text-anchor="end" fill="#1a1a1a" textLength="27.1" lengthAdjust="spacingAndGlyphs">KMT2A</text>
<text transform="translate(448.7,605.0) rotate(-90)" font-size="8.5" text-anchor="end" fill="#1a1a1a" textLength="17.6" lengthAdjust="spacingAndGlyphs">SPI1</text>
<text transform="translate(460.7,605.0) rotate(-90)" font-size="8.5" text-anchor="end" fill="#1a1a1a" textLength="19.4" lengthAdjust="spacingAndGlyphs">TLX3</text>
<text transform="translate(472.7,605.0) rotate(-90)" font-size="8.5" text-anchor="end" fill="#1a1a1a" textLength="62.1" lengthAdjust="spacingAndGlyphs">PICALM-MLLT10</text>
<text transform="translate(484.7,605.0) rotate(-90)" font-size="8.5" text-anchor="end" fill="#1a1a1a" textLength="48.7" lengthAdjust="spacingAndGlyphs">SET-NUP214</text>
<text transform="translate(496.7,605.0) rotate(-90)" font-size="8.5" text-anchor="end" fill="#1a1a1a" textLength="23.0" lengthAdjust="spacingAndGlyphs">HOXA</text>
<text transform="translate(508.7,605.0) rotate(-90)" font-size="8.5" text-anchor="end" fill="#1a1a1a" textLength="32.3" lengthAdjust="spacingAndGlyphs">BCL11Br</text>
</svg></div></body></html>
